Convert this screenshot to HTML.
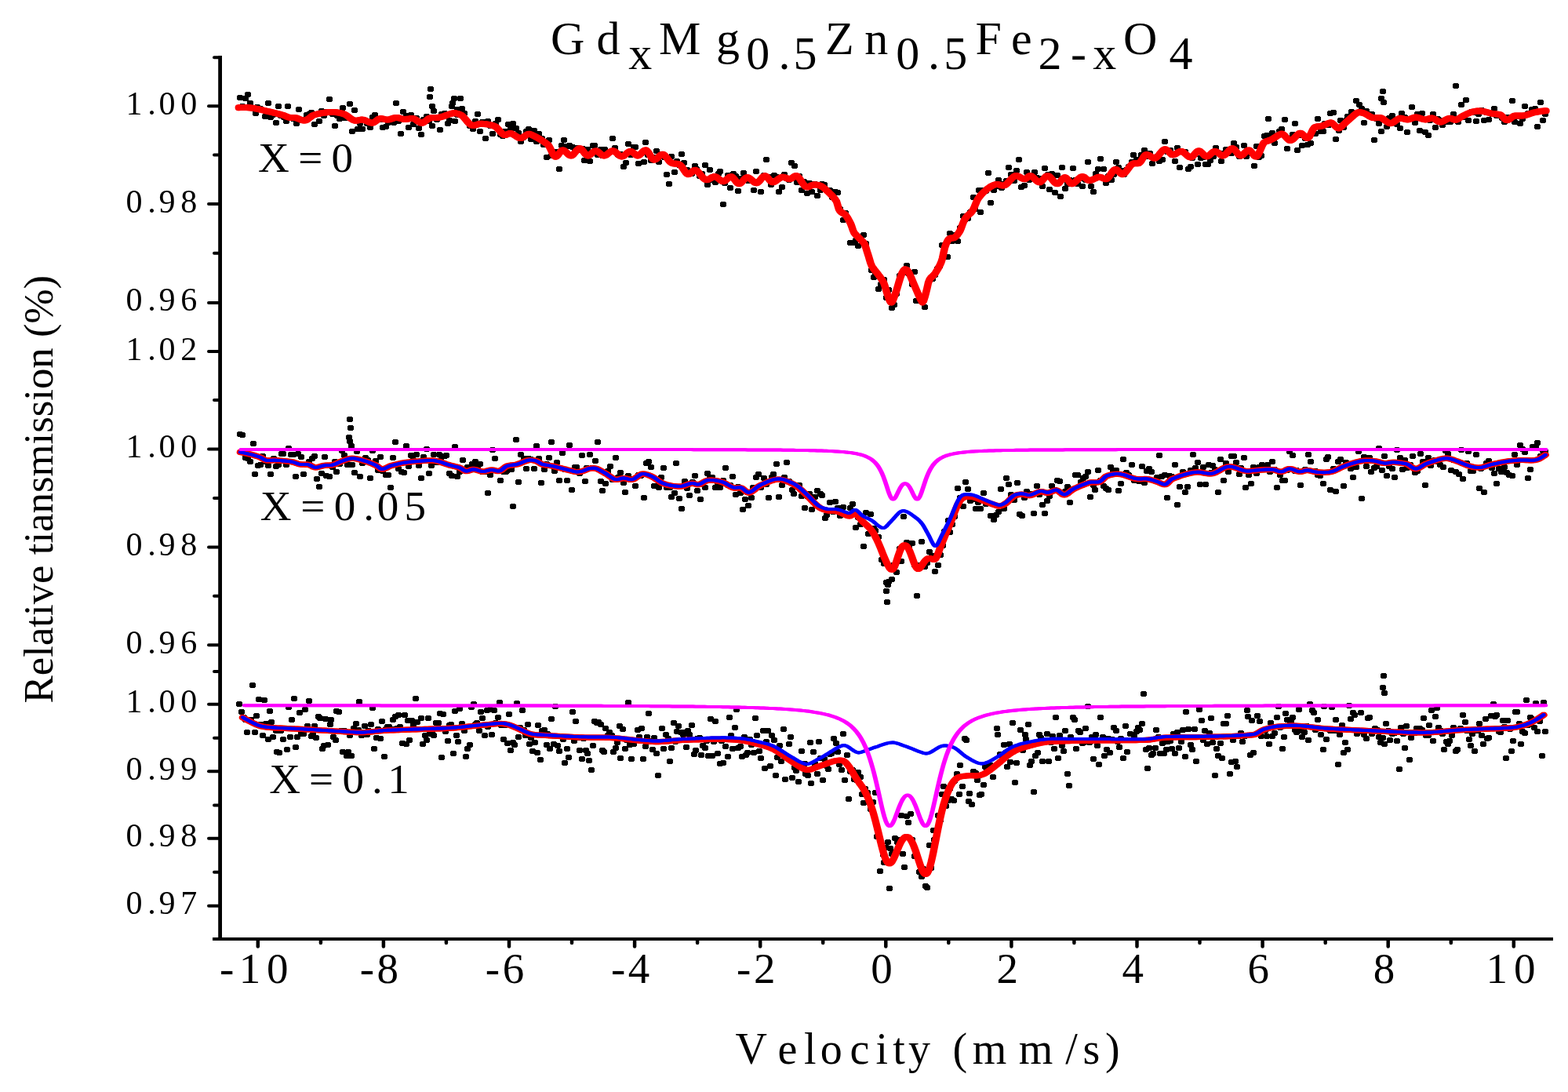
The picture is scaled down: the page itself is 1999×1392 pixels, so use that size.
<!DOCTYPE html>
<html><head><meta charset="utf-8"><title>Mossbauer spectra</title>
<style>html,body{margin:0;padding:0;background:#fff;overflow:hidden;}svg{display:block;}</style>
</head><body>
<svg width="1999" height="1392" viewBox="0 0 1999 1392">
<rect width="1999" height="1392" fill="#fff"/>
<path fill="#000" d="M303 121h6v1h1v5h-1v1h-6v-1h-1v-5h1zM306 132h6v1h1v5h-1v1h-6v-1h-1v-5h1zM310 122h6v1h1v5h-1v1h-6v-1h-1v-5h1zM313 117h6v1h1v5h-1v1h-6v-1h-1v-5h1zM316 128h6v1h1v5h-1v1h-6v-1h-1v-5h1zM319 134h6v1h1v5h-1v1h-6v-1h-1v-5h1zM323 141h6v1h1v5h-1v1h-6v-1h-1v-5h1zM325 133h6v1h1v5h-1v1h-6v-1h-1v-5h1zM329 135h6v1h1v5h-1v1h-6v-1h-1v-5h1zM333 137h6v1h1v5h-1v1h-6v-1h-1v-5h1zM335 145h6v1h1v5h-1v1h-6v-1h-1v-5h1zM339 128h6v1h1v5h-1v1h-6v-1h-1v-5h1zM342 146h6v1h1v5h-1v1h-6v-1h-1v-5h1zM345 143h6v1h1v5h-1v1h-6v-1h-1v-5h1zM349 153h6v1h1v5h-1v1h-6v-1h-1v-5h1zM352 132h6v1h1v5h-1v1h-6v-1h-1v-5h1zM355 144h6v1h1v5h-1v1h-6v-1h-1v-5h1zM359 146h6v1h1v5h-1v1h-6v-1h-1v-5h1zM362 151h6v1h1v5h-1v1h-6v-1h-1v-5h1zM364 132h6v1h1v5h-1v1h-6v-1h-1v-5h1zM368 146h6v1h1v5h-1v1h-6v-1h-1v-5h1zM371 148h6v1h1v5h-1v1h-6v-1h-1v-5h1zM375 154h6v1h1v5h-1v1h-6v-1h-1v-5h1zM378 136h6v1h1v5h-1v1h-6v-1h-1v-5h1zM381 150h6v1h1v5h-1v1h-6v-1h-1v-5h1zM384 149h6v1h1v5h-1v1h-6v-1h-1v-5h1zM388 143h6v1h1v5h-1v1h-6v-1h-1v-5h1zM391 142h6v1h1v5h-1v1h-6v-1h-1v-5h1zM394 140h6v1h1v5h-1v1h-6v-1h-1v-5h1zM398 155h6v1h1v5h-1v1h-6v-1h-1v-5h1zM401 142h6v1h1v5h-1v1h-6v-1h-1v-5h1zM404 151h6v1h1v5h-1v1h-6v-1h-1v-5h1zM407 138h6v1h1v5h-1v1h-6v-1h-1v-5h1zM410 144h6v1h1v5h-1v1h-6v-1h-1v-5h1zM414 139h6v1h1v5h-1v1h-6v-1h-1v-5h1zM417 123h6v1h1v5h-1v1h-6v-1h-1v-5h1zM421 142h6v1h1v5h-1v1h-6v-1h-1v-5h1zM424 157h6v1h1v5h-1v1h-6v-1h-1v-5h1zM427 144h6v1h1v5h-1v1h-6v-1h-1v-5h1zM430 148h6v1h1v5h-1v1h-6v-1h-1v-5h1zM434 134h6v1h1v5h-1v1h-6v-1h-1v-5h1zM437 147h6v1h1v5h-1v1h-6v-1h-1v-5h1zM439 145h6v1h1v5h-1v1h-6v-1h-1v-5h1zM443 129h6v1h1v5h-1v1h-6v-1h-1v-5h1zM446 164h6v1h1v5h-1v1h-6v-1h-1v-5h1zM449 137h6v1h1v5h-1v1h-6v-1h-1v-5h1zM453 161h6v1h1v5h-1v1h-6v-1h-1v-5h1zM456 154h6v1h1v5h-1v1h-6v-1h-1v-5h1zM459 161h6v1h1v5h-1v1h-6v-1h-1v-5h1zM462 150h6v1h1v5h-1v1h-6v-1h-1v-5h1zM465 154h6v1h1v5h-1v1h-6v-1h-1v-5h1zM469 159h6v1h1v5h-1v1h-6v-1h-1v-5h1zM472 146h6v1h1v5h-1v1h-6v-1h-1v-5h1zM475 143h6v1h1v5h-1v1h-6v-1h-1v-5h1zM479 149h6v1h1v5h-1v1h-6v-1h-1v-5h1zM482 149h6v1h1v5h-1v1h-6v-1h-1v-5h1zM485 159h6v1h1v5h-1v1h-6v-1h-1v-5h1zM489 158h6v1h1v5h-1v1h-6v-1h-1v-5h1zM492 153h6v1h1v5h-1v1h-6v-1h-1v-5h1zM495 150h6v1h1v5h-1v1h-6v-1h-1v-5h1zM499 153h6v1h1v5h-1v1h-6v-1h-1v-5h1zM502 128h6v1h1v5h-1v1h-6v-1h-1v-5h1zM505 151h6v1h1v5h-1v1h-6v-1h-1v-5h1zM508 167h6v1h1v5h-1v1h-6v-1h-1v-5h1zM511 139h6v1h1v5h-1v1h-6v-1h-1v-5h1zM515 144h6v1h1v5h-1v1h-6v-1h-1v-5h1zM518 159h6v1h1v5h-1v1h-6v-1h-1v-5h1zM521 143h6v1h1v5h-1v1h-6v-1h-1v-5h1zM524 155h6v1h1v5h-1v1h-6v-1h-1v-5h1zM528 147h6v1h1v5h-1v1h-6v-1h-1v-5h1zM531 160h6v1h1v5h-1v1h-6v-1h-1v-5h1zM534 168h6v1h1v5h-1v1h-6v-1h-1v-5h1zM537 149h6v1h1v5h-1v1h-6v-1h-1v-5h1zM541 145h6v1h1v5h-1v1h-6v-1h-1v-5h1zM544 151h6v1h1v5h-1v1h-6v-1h-1v-5h1zM548 157h6v1h1v5h-1v1h-6v-1h-1v-5h1zM550 138h6v1h1v5h-1v1h-6v-1h-1v-5h1zM554 149h6v1h1v5h-1v1h-6v-1h-1v-5h1zM558 162h6v1h1v5h-1v1h-6v-1h-1v-5h1zM560 142h6v1h1v5h-1v1h-6v-1h-1v-5h1zM564 141h6v1h1v5h-1v1h-6v-1h-1v-5h1zM568 154h6v1h1v5h-1v1h-6v-1h-1v-5h1zM570 150h6v1h1v5h-1v1h-6v-1h-1v-5h1zM574 128h6v1h1v5h-1v1h-6v-1h-1v-5h1zM577 151h6v1h1v5h-1v1h-6v-1h-1v-5h1zM580 143h6v1h1v5h-1v1h-6v-1h-1v-5h1zM584 122h6v1h1v5h-1v1h-6v-1h-1v-5h1zM586 135h6v1h1v5h-1v1h-6v-1h-1v-5h1zM589 141h6v1h1v5h-1v1h-6v-1h-1v-5h1zM593 152h6v1h1v5h-1v1h-6v-1h-1v-5h1zM596 157h6v1h1v5h-1v1h-6v-1h-1v-5h1zM600 161h6v1h1v5h-1v1h-6v-1h-1v-5h1zM603 151h6v1h1v5h-1v1h-6v-1h-1v-5h1zM606 142h6v1h1v5h-1v1h-6v-1h-1v-5h1zM609 164h6v1h1v5h-1v1h-6v-1h-1v-5h1zM612 152h6v1h1v5h-1v1h-6v-1h-1v-5h1zM616 173h6v1h1v5h-1v1h-6v-1h-1v-5h1zM619 151h6v1h1v5h-1v1h-6v-1h-1v-5h1zM622 157h6v1h1v5h-1v1h-6v-1h-1v-5h1zM625 167h6v1h1v5h-1v1h-6v-1h-1v-5h1zM629 154h6v1h1v5h-1v1h-6v-1h-1v-5h1zM632 149h6v1h1v5h-1v1h-6v-1h-1v-5h1zM635 168h6v1h1v5h-1v1h-6v-1h-1v-5h1zM638 170h6v1h1v5h-1v1h-6v-1h-1v-5h1zM641 164h6v1h1v5h-1v1h-6v-1h-1v-5h1zM645 155h6v1h1v5h-1v1h-6v-1h-1v-5h1zM648 161h6v1h1v5h-1v1h-6v-1h-1v-5h1zM651 154h6v1h1v5h-1v1h-6v-1h-1v-5h1zM655 160h6v1h1v5h-1v1h-6v-1h-1v-5h1zM658 166h6v1h1v5h-1v1h-6v-1h-1v-5h1zM661 177h6v1h1v5h-1v1h-6v-1h-1v-5h1zM664 172h6v1h1v5h-1v1h-6v-1h-1v-5h1zM668 164h6v1h1v5h-1v1h-6v-1h-1v-5h1zM671 161h6v1h1v5h-1v1h-6v-1h-1v-5h1zM674 174h6v1h1v5h-1v1h-6v-1h-1v-5h1zM678 163h6v1h1v5h-1v1h-6v-1h-1v-5h1zM681 177h6v1h1v5h-1v1h-6v-1h-1v-5h1zM684 167h6v1h1v5h-1v1h-6v-1h-1v-5h1zM688 173h6v1h1v5h-1v1h-6v-1h-1v-5h1zM690 181h6v1h1v5h-1v1h-6v-1h-1v-5h1zM694 197h6v1h1v5h-1v1h-6v-1h-1v-5h1zM697 175h6v1h1v5h-1v1h-6v-1h-1v-5h1zM700 195h6v1h1v5h-1v1h-6v-1h-1v-5h1zM703 195h6v1h1v5h-1v1h-6v-1h-1v-5h1zM707 190h6v1h1v5h-1v1h-6v-1h-1v-5h1zM710 212h6v1h1v5h-1v1h-6v-1h-1v-5h1zM713 182h6v1h1v5h-1v1h-6v-1h-1v-5h1zM716 175h6v1h1v5h-1v1h-6v-1h-1v-5h1zM720 183h6v1h1v5h-1v1h-6v-1h-1v-5h1zM723 182h6v1h1v5h-1v1h-6v-1h-1v-5h1zM727 184h6v1h1v5h-1v1h-6v-1h-1v-5h1zM730 189h6v1h1v5h-1v1h-6v-1h-1v-5h1zM733 185h6v1h1v5h-1v1h-6v-1h-1v-5h1zM736 188h6v1h1v5h-1v1h-6v-1h-1v-5h1zM740 186h6v1h1v5h-1v1h-6v-1h-1v-5h1zM742 201h6v1h1v5h-1v1h-6v-1h-1v-5h1zM746 187h6v1h1v5h-1v1h-6v-1h-1v-5h1zM749 202h6v1h1v5h-1v1h-6v-1h-1v-5h1zM753 182h6v1h1v5h-1v1h-6v-1h-1v-5h1zM755 182h6v1h1v5h-1v1h-6v-1h-1v-5h1zM759 194h6v1h1v5h-1v1h-6v-1h-1v-5h1zM763 187h6v1h1v5h-1v1h-6v-1h-1v-5h1zM765 195h6v1h1v5h-1v1h-6v-1h-1v-5h1zM768 187h6v1h1v5h-1v1h-6v-1h-1v-5h1zM772 190h6v1h1v5h-1v1h-6v-1h-1v-5h1zM775 190h6v1h1v5h-1v1h-6v-1h-1v-5h1zM778 173h6v1h1v5h-1v1h-6v-1h-1v-5h1zM781 185h6v1h1v5h-1v1h-6v-1h-1v-5h1zM785 194h6v1h1v5h-1v1h-6v-1h-1v-5h1zM788 193h6v1h1v5h-1v1h-6v-1h-1v-5h1zM792 209h6v1h1v5h-1v1h-6v-1h-1v-5h1zM795 204h6v1h1v5h-1v1h-6v-1h-1v-5h1zM798 180h6v1h1v5h-1v1h-6v-1h-1v-5h1zM801 194h6v1h1v5h-1v1h-6v-1h-1v-5h1zM805 184h6v1h1v5h-1v1h-6v-1h-1v-5h1zM807 184h6v1h1v5h-1v1h-6v-1h-1v-5h1zM811 205h6v1h1v5h-1v1h-6v-1h-1v-5h1zM815 192h6v1h1v5h-1v1h-6v-1h-1v-5h1zM818 203h6v1h1v5h-1v1h-6v-1h-1v-5h1zM820 178h6v1h1v5h-1v1h-6v-1h-1v-5h1zM823 194h6v1h1v5h-1v1h-6v-1h-1v-5h1zM827 201h6v1h1v5h-1v1h-6v-1h-1v-5h1zM831 197h6v1h1v5h-1v1h-6v-1h-1v-5h1zM834 189h6v1h1v5h-1v1h-6v-1h-1v-5h1zM837 203h6v1h1v5h-1v1h-6v-1h-1v-5h1zM840 193h6v1h1v5h-1v1h-6v-1h-1v-5h1zM844 197h6v1h1v5h-1v1h-6v-1h-1v-5h1zM847 219h6v1h1v5h-1v1h-6v-1h-1v-5h1zM850 231h6v1h1v5h-1v1h-6v-1h-1v-5h1zM853 196h6v1h1v5h-1v1h-6v-1h-1v-5h1zM857 216h6v1h1v5h-1v1h-6v-1h-1v-5h1zM860 202h6v1h1v5h-1v1h-6v-1h-1v-5h1zM863 207h6v1h1v5h-1v1h-6v-1h-1v-5h1zM866 193h6v1h1v5h-1v1h-6v-1h-1v-5h1zM869 204h6v1h1v5h-1v1h-6v-1h-1v-5h1zM873 213h6v1h1v5h-1v1h-6v-1h-1v-5h1zM876 217h6v1h1v5h-1v1h-6v-1h-1v-5h1zM879 218h6v1h1v5h-1v1h-6v-1h-1v-5h1zM883 208h6v1h1v5h-1v1h-6v-1h-1v-5h1zM885 212h6v1h1v5h-1v1h-6v-1h-1v-5h1zM889 221h6v1h1v5h-1v1h-6v-1h-1v-5h1zM892 218h6v1h1v5h-1v1h-6v-1h-1v-5h1zM896 207h6v1h1v5h-1v1h-6v-1h-1v-5h1zM899 232h6v1h1v5h-1v1h-6v-1h-1v-5h1zM902 213h6v1h1v5h-1v1h-6v-1h-1v-5h1zM905 226h6v1h1v5h-1v1h-6v-1h-1v-5h1zM909 229h6v1h1v5h-1v1h-6v-1h-1v-5h1zM913 218h6v1h1v5h-1v1h-6v-1h-1v-5h1zM915 215h6v1h1v5h-1v1h-6v-1h-1v-5h1zM919 257h6v1h1v5h-1v1h-6v-1h-1v-5h1zM921 230h6v1h1v5h-1v1h-6v-1h-1v-5h1zM925 220h6v1h1v5h-1v1h-6v-1h-1v-5h1zM928 236h6v1h1v5h-1v1h-6v-1h-1v-5h1zM932 218h6v1h1v5h-1v1h-6v-1h-1v-5h1zM935 221h6v1h1v5h-1v1h-6v-1h-1v-5h1zM938 240h6v1h1v5h-1v1h-6v-1h-1v-5h1zM941 224h6v1h1v5h-1v1h-6v-1h-1v-5h1zM945 217h6v1h1v5h-1v1h-6v-1h-1v-5h1zM948 226h6v1h1v5h-1v1h-6v-1h-1v-5h1zM951 227h6v1h1v5h-1v1h-6v-1h-1v-5h1zM954 227h6v1h1v5h-1v1h-6v-1h-1v-5h1zM958 239h6v1h1v5h-1v1h-6v-1h-1v-5h1zM961 215h6v1h1v5h-1v1h-6v-1h-1v-5h1zM964 228h6v1h1v5h-1v1h-6v-1h-1v-5h1zM967 241h6v1h1v5h-1v1h-6v-1h-1v-5h1zM971 220h6v1h1v5h-1v1h-6v-1h-1v-5h1zM974 200h6v1h1v5h-1v1h-6v-1h-1v-5h1zM977 222h6v1h1v5h-1v1h-6v-1h-1v-5h1zM980 232h6v1h1v5h-1v1h-6v-1h-1v-5h1zM984 220h6v1h1v5h-1v1h-6v-1h-1v-5h1zM987 222h6v1h1v5h-1v1h-6v-1h-1v-5h1zM990 241h6v1h1v5h-1v1h-6v-1h-1v-5h1zM994 235h6v1h1v5h-1v1h-6v-1h-1v-5h1zM997 219h6v1h1v5h-1v1h-6v-1h-1v-5h1zM1000 224h6v1h1v5h-1v1h-6v-1h-1v-5h1zM1003 226h6v1h1v5h-1v1h-6v-1h-1v-5h1zM1006 204h6v1h1v5h-1v1h-6v-1h-1v-5h1zM1010 208h6v1h1v5h-1v1h-6v-1h-1v-5h1zM1013 229h6v1h1v5h-1v1h-6v-1h-1v-5h1zM1016 221h6v1h1v5h-1v1h-6v-1h-1v-5h1zM1019 239h6v1h1v5h-1v1h-6v-1h-1v-5h1zM1022 228h6v1h1v5h-1v1h-6v-1h-1v-5h1zM1026 243h6v1h1v5h-1v1h-6v-1h-1v-5h1zM1029 230h6v1h1v5h-1v1h-6v-1h-1v-5h1zM1032 241h6v1h1v5h-1v1h-6v-1h-1v-5h1zM1036 231h6v1h1v5h-1v1h-6v-1h-1v-5h1zM1039 246h6v1h1v5h-1v1h-6v-1h-1v-5h1zM1043 239h6v1h1v5h-1v1h-6v-1h-1v-5h1zM1045 231h6v1h1v5h-1v1h-6v-1h-1v-5h1zM1048 232h6v1h1v5h-1v1h-6v-1h-1v-5h1zM1052 239h6v1h1v5h-1v1h-6v-1h-1v-5h1zM1055 239h6v1h1v5h-1v1h-6v-1h-1v-5h1zM1058 248h6v1h1v5h-1v1h-6v-1h-1v-5h1zM1062 241h6v1h1v5h-1v1h-6v-1h-1v-5h1zM1065 242h6v1h1v5h-1v1h-6v-1h-1v-5h1zM1068 263h6v1h1v5h-1v1h-6v-1h-1v-5h1zM1072 277h6v1h1v5h-1v1h-6v-1h-1v-5h1zM1075 268h6v1h1v5h-1v1h-6v-1h-1v-5h1zM1078 275h6v1h1v5h-1v1h-6v-1h-1v-5h1zM1081 306h6v1h1v5h-1v1h-6v-1h-1v-5h1zM1085 306h6v1h1v5h-1v1h-6v-1h-1v-5h1zM1088 303h6v1h1v5h-1v1h-6v-1h-1v-5h1zM1091 310h6v1h1v5h-1v1h-6v-1h-1v-5h1zM1095 302h6v1h1v5h-1v1h-6v-1h-1v-5h1zM1098 296h6v1h1v5h-1v1h-6v-1h-1v-5h1zM1101 307h6v1h1v5h-1v1h-6v-1h-1v-5h1zM1104 321h6v1h1v5h-1v1h-6v-1h-1v-5h1zM1108 341h6v1h1v5h-1v1h-6v-1h-1v-5h1zM1111 350h6v1h1v5h-1v1h-6v-1h-1v-5h1zM1113 345h6v1h1v5h-1v1h-6v-1h-1v-5h1zM1117 365h6v1h1v5h-1v1h-6v-1h-1v-5h1zM1120 359h6v1h1v5h-1v1h-6v-1h-1v-5h1zM1124 353h6v1h1v5h-1v1h-6v-1h-1v-5h1zM1127 376h6v1h1v5h-1v1h-6v-1h-1v-5h1zM1130 366h6v1h1v5h-1v1h-6v-1h-1v-5h1zM1134 389h6v1h1v5h-1v1h-6v-1h-1v-5h1zM1137 385h6v1h1v5h-1v1h-6v-1h-1v-5h1zM1140 371h6v1h1v5h-1v1h-6v-1h-1v-5h1zM1144 348h6v1h1v5h-1v1h-6v-1h-1v-5h1zM1146 347h6v1h1v5h-1v1h-6v-1h-1v-5h1zM1149 344h6v1h1v5h-1v1h-6v-1h-1v-5h1zM1153 335h6v1h1v5h-1v1h-6v-1h-1v-5h1zM1156 346h6v1h1v5h-1v1h-6v-1h-1v-5h1zM1160 359h6v1h1v5h-1v1h-6v-1h-1v-5h1zM1163 343h6v1h1v5h-1v1h-6v-1h-1v-5h1zM1165 380h6v1h1v5h-1v1h-6v-1h-1v-5h1zM1169 377h6v1h1v5h-1v1h-6v-1h-1v-5h1zM1172 381h6v1h1v5h-1v1h-6v-1h-1v-5h1zM1176 388h6v1h1v5h-1v1h-6v-1h-1v-5h1zM1179 363h6v1h1v5h-1v1h-6v-1h-1v-5h1zM1182 354h6v1h1v5h-1v1h-6v-1h-1v-5h1zM1186 352h6v1h1v5h-1v1h-6v-1h-1v-5h1zM1189 347h6v1h1v5h-1v1h-6v-1h-1v-5h1zM1192 339h6v1h1v5h-1v1h-6v-1h-1v-5h1zM1195 336h6v1h1v5h-1v1h-6v-1h-1v-5h1zM1198 309h6v1h1v5h-1v1h-6v-1h-1v-5h1zM1201 324h6v1h1v5h-1v1h-6v-1h-1v-5h1zM1205 324h6v1h1v5h-1v1h-6v-1h-1v-5h1zM1208 294h6v1h1v5h-1v1h-6v-1h-1v-5h1zM1211 304h6v1h1v5h-1v1h-6v-1h-1v-5h1zM1215 296h6v1h1v5h-1v1h-6v-1h-1v-5h1zM1218 304h6v1h1v5h-1v1h-6v-1h-1v-5h1zM1221 287h6v1h1v5h-1v1h-6v-1h-1v-5h1zM1225 272h6v1h1v5h-1v1h-6v-1h-1v-5h1zM1227 277h6v1h1v5h-1v1h-6v-1h-1v-5h1zM1231 275h6v1h1v5h-1v1h-6v-1h-1v-5h1zM1234 267h6v1h1v5h-1v1h-6v-1h-1v-5h1zM1238 248h6v1h1v5h-1v1h-6v-1h-1v-5h1zM1240 263h6v1h1v5h-1v1h-6v-1h-1v-5h1zM1245 239h6v1h1v5h-1v1h-6v-1h-1v-5h1zM1247 267h6v1h1v5h-1v1h-6v-1h-1v-5h1zM1251 239h6v1h1v5h-1v1h-6v-1h-1v-5h1zM1254 240h6v1h1v5h-1v1h-6v-1h-1v-5h1zM1257 217h6v1h1v5h-1v1h-6v-1h-1v-5h1zM1260 255h6v1h1v5h-1v1h-6v-1h-1v-5h1zM1264 239h6v1h1v5h-1v1h-6v-1h-1v-5h1zM1267 234h6v1h1v5h-1v1h-6v-1h-1v-5h1zM1270 226h6v1h1v5h-1v1h-6v-1h-1v-5h1zM1274 236h6v1h1v5h-1v1h-6v-1h-1v-5h1zM1277 231h6v1h1v5h-1v1h-6v-1h-1v-5h1zM1280 227h6v1h1v5h-1v1h-6v-1h-1v-5h1zM1283 210h6v1h1v5h-1v1h-6v-1h-1v-5h1zM1286 219h6v1h1v5h-1v1h-6v-1h-1v-5h1zM1290 227h6v1h1v5h-1v1h-6v-1h-1v-5h1zM1293 214h6v1h1v5h-1v1h-6v-1h-1v-5h1zM1296 200h6v1h1v5h-1v1h-6v-1h-1v-5h1zM1299 235h6v1h1v5h-1v1h-6v-1h-1v-5h1zM1303 233h6v1h1v5h-1v1h-6v-1h-1v-5h1zM1306 216h6v1h1v5h-1v1h-6v-1h-1v-5h1zM1309 226h6v1h1v5h-1v1h-6v-1h-1v-5h1zM1312 220h6v1h1v5h-1v1h-6v-1h-1v-5h1zM1316 216h6v1h1v5h-1v1h-6v-1h-1v-5h1zM1319 223h6v1h1v5h-1v1h-6v-1h-1v-5h1zM1323 224h6v1h1v5h-1v1h-6v-1h-1v-5h1zM1326 234h6v1h1v5h-1v1h-6v-1h-1v-5h1zM1329 211h6v1h1v5h-1v1h-6v-1h-1v-5h1zM1333 219h6v1h1v5h-1v1h-6v-1h-1v-5h1zM1335 238h6v1h1v5h-1v1h-6v-1h-1v-5h1zM1338 218h6v1h1v5h-1v1h-6v-1h-1v-5h1zM1342 242h6v1h1v5h-1v1h-6v-1h-1v-5h1zM1345 220h6v1h1v5h-1v1h-6v-1h-1v-5h1zM1349 247h6v1h1v5h-1v1h-6v-1h-1v-5h1zM1351 210h6v1h1v5h-1v1h-6v-1h-1v-5h1zM1355 237h6v1h1v5h-1v1h-6v-1h-1v-5h1zM1358 231h6v1h1v5h-1v1h-6v-1h-1v-5h1zM1361 226h6v1h1v5h-1v1h-6v-1h-1v-5h1zM1365 211h6v1h1v5h-1v1h-6v-1h-1v-5h1zM1368 226h6v1h1v5h-1v1h-6v-1h-1v-5h1zM1371 231h6v1h1v5h-1v1h-6v-1h-1v-5h1zM1374 224h6v1h1v5h-1v1h-6v-1h-1v-5h1zM1377 234h6v1h1v5h-1v1h-6v-1h-1v-5h1zM1381 226h6v1h1v5h-1v1h-6v-1h-1v-5h1zM1384 203h6v1h1v5h-1v1h-6v-1h-1v-5h1zM1388 234h6v1h1v5h-1v1h-6v-1h-1v-5h1zM1391 241h6v1h1v5h-1v1h-6v-1h-1v-5h1zM1394 218h6v1h1v5h-1v1h-6v-1h-1v-5h1zM1397 212h6v1h1v5h-1v1h-6v-1h-1v-5h1zM1400 199h6v1h1v5h-1v1h-6v-1h-1v-5h1zM1404 212h6v1h1v5h-1v1h-6v-1h-1v-5h1zM1407 230h6v1h1v5h-1v1h-6v-1h-1v-5h1zM1410 221h6v1h1v5h-1v1h-6v-1h-1v-5h1zM1414 226h6v1h1v5h-1v1h-6v-1h-1v-5h1zM1417 219h6v1h1v5h-1v1h-6v-1h-1v-5h1zM1420 203h6v1h1v5h-1v1h-6v-1h-1v-5h1zM1423 210h6v1h1v5h-1v1h-6v-1h-1v-5h1zM1426 214h6v1h1v5h-1v1h-6v-1h-1v-5h1zM1430 219h6v1h1v5h-1v1h-6v-1h-1v-5h1zM1433 213h6v1h1v5h-1v1h-6v-1h-1v-5h1zM1436 209h6v1h1v5h-1v1h-6v-1h-1v-5h1zM1440 203h6v1h1v5h-1v1h-6v-1h-1v-5h1zM1442 194h6v1h1v5h-1v1h-6v-1h-1v-5h1zM1446 200h6v1h1v5h-1v1h-6v-1h-1v-5h1zM1450 202h6v1h1v5h-1v1h-6v-1h-1v-5h1zM1452 194h6v1h1v5h-1v1h-6v-1h-1v-5h1zM1456 188h6v1h1v5h-1v1h-6v-1h-1v-5h1zM1459 196h6v1h1v5h-1v1h-6v-1h-1v-5h1zM1463 192h6v1h1v5h-1v1h-6v-1h-1v-5h1zM1466 205h6v1h1v5h-1v1h-6v-1h-1v-5h1zM1469 197h6v1h1v5h-1v1h-6v-1h-1v-5h1zM1472 196h6v1h1v5h-1v1h-6v-1h-1v-5h1zM1475 202h6v1h1v5h-1v1h-6v-1h-1v-5h1zM1479 200h6v1h1v5h-1v1h-6v-1h-1v-5h1zM1482 177h6v1h1v5h-1v1h-6v-1h-1v-5h1zM1485 190h6v1h1v5h-1v1h-6v-1h-1v-5h1zM1489 188h6v1h1v5h-1v1h-6v-1h-1v-5h1zM1491 194h6v1h1v5h-1v1h-6v-1h-1v-5h1zM1495 202h6v1h1v5h-1v1h-6v-1h-1v-5h1zM1498 185h6v1h1v5h-1v1h-6v-1h-1v-5h1zM1501 210h6v1h1v5h-1v1h-6v-1h-1v-5h1zM1504 190h6v1h1v5h-1v1h-6v-1h-1v-5h1zM1508 190h6v1h1v5h-1v1h-6v-1h-1v-5h1zM1512 212h6v1h1v5h-1v1h-6v-1h-1v-5h1zM1515 209h6v1h1v5h-1v1h-6v-1h-1v-5h1zM1517 198h6v1h1v5h-1v1h-6v-1h-1v-5h1zM1521 193h6v1h1v5h-1v1h-6v-1h-1v-5h1zM1524 206h6v1h1v5h-1v1h-6v-1h-1v-5h1zM1528 198h6v1h1v5h-1v1h-6v-1h-1v-5h1zM1531 197h6v1h1v5h-1v1h-6v-1h-1v-5h1zM1534 206h6v1h1v5h-1v1h-6v-1h-1v-5h1zM1537 206h6v1h1v5h-1v1h-6v-1h-1v-5h1zM1540 201h6v1h1v5h-1v1h-6v-1h-1v-5h1zM1544 196h6v1h1v5h-1v1h-6v-1h-1v-5h1zM1547 185h6v1h1v5h-1v1h-6v-1h-1v-5h1zM1550 191h6v1h1v5h-1v1h-6v-1h-1v-5h1zM1554 202h6v1h1v5h-1v1h-6v-1h-1v-5h1zM1557 192h6v1h1v5h-1v1h-6v-1h-1v-5h1zM1560 187h6v1h1v5h-1v1h-6v-1h-1v-5h1zM1564 191h6v1h1v5h-1v1h-6v-1h-1v-5h1zM1567 192h6v1h1v5h-1v1h-6v-1h-1v-5h1zM1570 179h6v1h1v5h-1v1h-6v-1h-1v-5h1zM1573 184h6v1h1v5h-1v1h-6v-1h-1v-5h1zM1577 196h6v1h1v5h-1v1h-6v-1h-1v-5h1zM1579 195h6v1h1v5h-1v1h-6v-1h-1v-5h1zM1583 182h6v1h1v5h-1v1h-6v-1h-1v-5h1zM1586 196h6v1h1v5h-1v1h-6v-1h-1v-5h1zM1590 192h6v1h1v5h-1v1h-6v-1h-1v-5h1zM1592 191h6v1h1v5h-1v1h-6v-1h-1v-5h1zM1596 208h6v1h1v5h-1v1h-6v-1h-1v-5h1zM1599 183h6v1h1v5h-1v1h-6v-1h-1v-5h1zM1602 197h6v1h1v5h-1v1h-6v-1h-1v-5h1zM1605 195h6v1h1v5h-1v1h-6v-1h-1v-5h1zM1609 170h6v1h1v5h-1v1h-6v-1h-1v-5h1zM1612 169h6v1h1v5h-1v1h-6v-1h-1v-5h1zM1616 171h6v1h1v5h-1v1h-6v-1h-1v-5h1zM1619 166h6v1h1v5h-1v1h-6v-1h-1v-5h1zM1622 179h6v1h1v5h-1v1h-6v-1h-1v-5h1zM1625 170h6v1h1v5h-1v1h-6v-1h-1v-5h1zM1628 164h6v1h1v5h-1v1h-6v-1h-1v-5h1zM1631 161h6v1h1v5h-1v1h-6v-1h-1v-5h1zM1635 149h6v1h1v5h-1v1h-6v-1h-1v-5h1zM1638 186h6v1h1v5h-1v1h-6v-1h-1v-5h1zM1641 174h6v1h1v5h-1v1h-6v-1h-1v-5h1zM1645 168h6v1h1v5h-1v1h-6v-1h-1v-5h1zM1648 154h6v1h1v5h-1v1h-6v-1h-1v-5h1zM1651 188h6v1h1v5h-1v1h-6v-1h-1v-5h1zM1655 169h6v1h1v5h-1v1h-6v-1h-1v-5h1zM1657 182h6v1h1v5h-1v1h-6v-1h-1v-5h1zM1661 173h6v1h1v5h-1v1h-6v-1h-1v-5h1zM1664 181h6v1h1v5h-1v1h-6v-1h-1v-5h1zM1668 179h6v1h1v5h-1v1h-6v-1h-1v-5h1zM1671 164h6v1h1v5h-1v1h-6v-1h-1v-5h1zM1674 167h6v1h1v5h-1v1h-6v-1h-1v-5h1zM1677 148h6v1h1v5h-1v1h-6v-1h-1v-5h1zM1681 164h6v1h1v5h-1v1h-6v-1h-1v-5h1zM1684 164h6v1h1v5h-1v1h-6v-1h-1v-5h1zM1686 154h6v1h1v5h-1v1h-6v-1h-1v-5h1zM1691 156h6v1h1v5h-1v1h-6v-1h-1v-5h1zM1693 141h6v1h1v5h-1v1h-6v-1h-1v-5h1zM1697 140h6v1h1v5h-1v1h-6v-1h-1v-5h1zM1700 174h6v1h1v5h-1v1h-6v-1h-1v-5h1zM1704 163h6v1h1v5h-1v1h-6v-1h-1v-5h1zM1706 150h6v1h1v5h-1v1h-6v-1h-1v-5h1zM1710 159h6v1h1v5h-1v1h-6v-1h-1v-5h1zM1713 150h6v1h1v5h-1v1h-6v-1h-1v-5h1zM1715 145h6v1h1v5h-1v1h-6v-1h-1v-5h1zM1720 139h6v1h1v5h-1v1h-6v-1h-1v-5h1zM1723 143h6v1h1v5h-1v1h-6v-1h-1v-5h1zM1726 125h6v1h1v5h-1v1h-6v-1h-1v-5h1zM1730 130h6v1h1v5h-1v1h-6v-1h-1v-5h1zM1733 135h6v1h1v5h-1v1h-6v-1h-1v-5h1zM1736 153h6v1h1v5h-1v1h-6v-1h-1v-5h1zM1739 138h6v1h1v5h-1v1h-6v-1h-1v-5h1zM1743 144h6v1h1v5h-1v1h-6v-1h-1v-5h1zM1746 142h6v1h1v5h-1v1h-6v-1h-1v-5h1zM1749 175h6v1h1v5h-1v1h-6v-1h-1v-5h1zM1752 148h6v1h1v5h-1v1h-6v-1h-1v-5h1zM1755 154h6v1h1v5h-1v1h-6v-1h-1v-5h1zM1758 164h6v1h1v5h-1v1h-6v-1h-1v-5h1zM1761 127h6v1h1v5h-1v1h-6v-1h-1v-5h1zM1765 158h6v1h1v5h-1v1h-6v-1h-1v-5h1zM1768 147h6v1h1v5h-1v1h-6v-1h-1v-5h1zM1772 144h6v1h1v5h-1v1h-6v-1h-1v-5h1zM1776 149h6v1h1v5h-1v1h-6v-1h-1v-5h1zM1778 155h6v1h1v5h-1v1h-6v-1h-1v-5h1zM1782 160h6v1h1v5h-1v1h-6v-1h-1v-5h1zM1784 141h6v1h1v5h-1v1h-6v-1h-1v-5h1zM1788 146h6v1h1v5h-1v1h-6v-1h-1v-5h1zM1791 165h6v1h1v5h-1v1h-6v-1h-1v-5h1zM1795 148h6v1h1v5h-1v1h-6v-1h-1v-5h1zM1797 133h6v1h1v5h-1v1h-6v-1h-1v-5h1zM1801 153h6v1h1v5h-1v1h-6v-1h-1v-5h1zM1804 142h6v1h1v5h-1v1h-6v-1h-1v-5h1zM1807 163h6v1h1v5h-1v1h-6v-1h-1v-5h1zM1810 141h6v1h1v5h-1v1h-6v-1h-1v-5h1zM1814 165h6v1h1v5h-1v1h-6v-1h-1v-5h1zM1818 169h6v1h1v5h-1v1h-6v-1h-1v-5h1zM1820 150h6v1h1v5h-1v1h-6v-1h-1v-5h1zM1824 142h6v1h1v5h-1v1h-6v-1h-1v-5h1zM1827 159h6v1h1v5h-1v1h-6v-1h-1v-5h1zM1830 148h6v1h1v5h-1v1h-6v-1h-1v-5h1zM1834 150h6v1h1v5h-1v1h-6v-1h-1v-5h1zM1836 156h6v1h1v5h-1v1h-6v-1h-1v-5h1zM1840 152h6v1h1v5h-1v1h-6v-1h-1v-5h1zM1843 150h6v1h1v5h-1v1h-6v-1h-1v-5h1zM1846 152h6v1h1v5h-1v1h-6v-1h-1v-5h1zM1850 142h6v1h1v5h-1v1h-6v-1h-1v-5h1zM1853 106h6v1h1v5h-1v1h-6v-1h-1v-5h1zM1856 152h6v1h1v5h-1v1h-6v-1h-1v-5h1zM1860 130h6v1h1v5h-1v1h-6v-1h-1v-5h1zM1862 146h6v1h1v5h-1v1h-6v-1h-1v-5h1zM1866 124h6v1h1v5h-1v1h-6v-1h-1v-5h1zM1869 150h6v1h1v5h-1v1h-6v-1h-1v-5h1zM1873 139h6v1h1v5h-1v1h-6v-1h-1v-5h1zM1876 140h6v1h1v5h-1v1h-6v-1h-1v-5h1zM1879 151h6v1h1v5h-1v1h-6v-1h-1v-5h1zM1882 142h6v1h1v5h-1v1h-6v-1h-1v-5h1zM1886 137h6v1h1v5h-1v1h-6v-1h-1v-5h1zM1889 150h6v1h1v5h-1v1h-6v-1h-1v-5h1zM1892 140h6v1h1v5h-1v1h-6v-1h-1v-5h1zM1895 149h6v1h1v5h-1v1h-6v-1h-1v-5h1zM1899 142h6v1h1v5h-1v1h-6v-1h-1v-5h1zM1902 135h6v1h1v5h-1v1h-6v-1h-1v-5h1zM1905 144h6v1h1v5h-1v1h-6v-1h-1v-5h1zM1909 143h6v1h1v5h-1v1h-6v-1h-1v-5h1zM1912 147h6v1h1v5h-1v1h-6v-1h-1v-5h1zM1915 152h6v1h1v5h-1v1h-6v-1h-1v-5h1zM1918 146h6v1h1v5h-1v1h-6v-1h-1v-5h1zM1922 146h6v1h1v5h-1v1h-6v-1h-1v-5h1zM1925 125h6v1h1v5h-1v1h-6v-1h-1v-5h1zM1928 152h6v1h1v5h-1v1h-6v-1h-1v-5h1zM1931 145h6v1h1v5h-1v1h-6v-1h-1v-5h1zM1935 154h6v1h1v5h-1v1h-6v-1h-1v-5h1zM1938 148h6v1h1v5h-1v1h-6v-1h-1v-5h1zM1941 132h6v1h1v5h-1v1h-6v-1h-1v-5h1zM1945 141h6v1h1v5h-1v1h-6v-1h-1v-5h1zM1947 141h6v1h1v5h-1v1h-6v-1h-1v-5h1zM1950 136h6v1h1v5h-1v1h-6v-1h-1v-5h1zM1954 135h6v1h1v5h-1v1h-6v-1h-1v-5h1zM1957 158h6v1h1v5h-1v1h-6v-1h-1v-5h1zM1961 127h6v1h1v5h-1v1h-6v-1h-1v-5h1zM1964 150h6v1h1v5h-1v1h-6v-1h-1v-5h1zM1967 142h6v1h1v5h-1v1h-6v-1h-1v-5h1zM303 550h6v1h1v5h-1v1h-6v-1h-1v-5h1zM306 551h6v1h1v5h-1v1h-6v-1h-1v-5h1zM310 580h6v1h1v5h-1v1h-6v-1h-1v-5h1zM313 581h6v1h1v5h-1v1h-6v-1h-1v-5h1zM316 585h6v1h1v5h-1v1h-6v-1h-1v-5h1zM320 562h6v1h1v5h-1v1h-6v-1h-1v-5h1zM322 601h6v1h1v5h-1v1h-6v-1h-1v-5h1zM326 590h6v1h1v5h-1v1h-6v-1h-1v-5h1zM329 589h6v1h1v5h-1v1h-6v-1h-1v-5h1zM332 578h6v1h1v5h-1v1h-6v-1h-1v-5h1zM336 585h6v1h1v5h-1v1h-6v-1h-1v-5h1zM339 590h6v1h1v5h-1v1h-6v-1h-1v-5h1zM342 601h6v1h1v5h-1v1h-6v-1h-1v-5h1zM346 581h6v1h1v5h-1v1h-6v-1h-1v-5h1zM349 591h6v1h1v5h-1v1h-6v-1h-1v-5h1zM352 589h6v1h1v5h-1v1h-6v-1h-1v-5h1zM356 575h6v1h1v5h-1v1h-6v-1h-1v-5h1zM358 575h6v1h1v5h-1v1h-6v-1h-1v-5h1zM362 589h6v1h1v5h-1v1h-6v-1h-1v-5h1zM365 568h6v1h1v5h-1v1h-6v-1h-1v-5h1zM368 576h6v1h1v5h-1v1h-6v-1h-1v-5h1zM371 576h6v1h1v5h-1v1h-6v-1h-1v-5h1zM374 604h6v1h1v5h-1v1h-6v-1h-1v-5h1zM377 575h6v1h1v5h-1v1h-6v-1h-1v-5h1zM381 579h6v1h1v5h-1v1h-6v-1h-1v-5h1zM384 601h6v1h1v5h-1v1h-6v-1h-1v-5h1zM388 589h6v1h1v5h-1v1h-6v-1h-1v-5h1zM391 585h6v1h1v5h-1v1h-6v-1h-1v-5h1zM395 581h6v1h1v5h-1v1h-6v-1h-1v-5h1zM398 578h6v1h1v5h-1v1h-6v-1h-1v-5h1zM401 607h6v1h1v5h-1v1h-6v-1h-1v-5h1zM404 617h6v1h1v5h-1v1h-6v-1h-1v-5h1zM407 600h6v1h1v5h-1v1h-6v-1h-1v-5h1zM411 579h6v1h1v5h-1v1h-6v-1h-1v-5h1zM413 603h6v1h1v5h-1v1h-6v-1h-1v-5h1zM417 604h6v1h1v5h-1v1h-6v-1h-1v-5h1zM421 592h6v1h1v5h-1v1h-6v-1h-1v-5h1zM424 585h6v1h1v5h-1v1h-6v-1h-1v-5h1zM426 598h6v1h1v5h-1v1h-6v-1h-1v-5h1zM430 588h6v1h1v5h-1v1h-6v-1h-1v-5h1zM433 571h6v1h1v5h-1v1h-6v-1h-1v-5h1zM436 577h6v1h1v5h-1v1h-6v-1h-1v-5h1zM440 589h6v1h1v5h-1v1h-6v-1h-1v-5h1zM443 559h6v1h1v5h-1v1h-6v-1h-1v-5h1zM446 589h6v1h1v5h-1v1h-6v-1h-1v-5h1zM449 599h6v1h1v5h-1v1h-6v-1h-1v-5h1zM452 572h6v1h1v5h-1v1h-6v-1h-1v-5h1zM456 604h6v1h1v5h-1v1h-6v-1h-1v-5h1zM459 587h6v1h1v5h-1v1h-6v-1h-1v-5h1zM463 580h6v1h1v5h-1v1h-6v-1h-1v-5h1zM466 583h6v1h1v5h-1v1h-6v-1h-1v-5h1zM469 606h6v1h1v5h-1v1h-6v-1h-1v-5h1zM472 571h6v1h1v5h-1v1h-6v-1h-1v-5h1zM476 584h6v1h1v5h-1v1h-6v-1h-1v-5h1zM479 596h6v1h1v5h-1v1h-6v-1h-1v-5h1zM482 579h6v1h1v5h-1v1h-6v-1h-1v-5h1zM485 597h6v1h1v5h-1v1h-6v-1h-1v-5h1zM489 602h6v1h1v5h-1v1h-6v-1h-1v-5h1zM492 602h6v1h1v5h-1v1h-6v-1h-1v-5h1zM495 618h6v1h1v5h-1v1h-6v-1h-1v-5h1zM498 580h6v1h1v5h-1v1h-6v-1h-1v-5h1zM501 560h6v1h1v5h-1v1h-6v-1h-1v-5h1zM505 594h6v1h1v5h-1v1h-6v-1h-1v-5h1zM509 598h6v1h1v5h-1v1h-6v-1h-1v-5h1zM512 599h6v1h1v5h-1v1h-6v-1h-1v-5h1zM515 565h6v1h1v5h-1v1h-6v-1h-1v-5h1zM518 591h6v1h1v5h-1v1h-6v-1h-1v-5h1zM521 577h6v1h1v5h-1v1h-6v-1h-1v-5h1zM524 583h6v1h1v5h-1v1h-6v-1h-1v-5h1zM528 576h6v1h1v5h-1v1h-6v-1h-1v-5h1zM531 590h6v1h1v5h-1v1h-6v-1h-1v-5h1zM534 606h6v1h1v5h-1v1h-6v-1h-1v-5h1zM537 579h6v1h1v5h-1v1h-6v-1h-1v-5h1zM541 569h6v1h1v5h-1v1h-6v-1h-1v-5h1zM544 600h6v1h1v5h-1v1h-6v-1h-1v-5h1zM547 590h6v1h1v5h-1v1h-6v-1h-1v-5h1zM550 576h6v1h1v5h-1v1h-6v-1h-1v-5h1zM554 586h6v1h1v5h-1v1h-6v-1h-1v-5h1zM557 576h6v1h1v5h-1v1h-6v-1h-1v-5h1zM560 579h6v1h1v5h-1v1h-6v-1h-1v-5h1zM564 578h6v1h1v5h-1v1h-6v-1h-1v-5h1zM566 577h6v1h1v5h-1v1h-6v-1h-1v-5h1zM570 600h6v1h1v5h-1v1h-6v-1h-1v-5h1zM573 603h6v1h1v5h-1v1h-6v-1h-1v-5h1zM577 566h6v1h1v5h-1v1h-6v-1h-1v-5h1zM580 604h6v1h1v5h-1v1h-6v-1h-1v-5h1zM583 598h6v1h1v5h-1v1h-6v-1h-1v-5h1zM587 583h6v1h1v5h-1v1h-6v-1h-1v-5h1zM590 596h6v1h1v5h-1v1h-6v-1h-1v-5h1zM593 592h6v1h1v5h-1v1h-6v-1h-1v-5h1zM596 595h6v1h1v5h-1v1h-6v-1h-1v-5h1zM599 588h6v1h1v5h-1v1h-6v-1h-1v-5h1zM603 585h6v1h1v5h-1v1h-6v-1h-1v-5h1zM606 591h6v1h1v5h-1v1h-6v-1h-1v-5h1zM609 588h6v1h1v5h-1v1h-6v-1h-1v-5h1zM612 598h6v1h1v5h-1v1h-6v-1h-1v-5h1zM616 598h6v1h1v5h-1v1h-6v-1h-1v-5h1zM619 625h6v1h1v5h-1v1h-6v-1h-1v-5h1zM622 602h6v1h1v5h-1v1h-6v-1h-1v-5h1zM625 570h6v1h1v5h-1v1h-6v-1h-1v-5h1zM628 581h6v1h1v5h-1v1h-6v-1h-1v-5h1zM632 597h6v1h1v5h-1v1h-6v-1h-1v-5h1zM635 609h6v1h1v5h-1v1h-6v-1h-1v-5h1zM639 598h6v1h1v5h-1v1h-6v-1h-1v-5h1zM642 598h6v1h1v5h-1v1h-6v-1h-1v-5h1zM644 596h6v1h1v5h-1v1h-6v-1h-1v-5h1zM649 595h6v1h1v5h-1v1h-6v-1h-1v-5h1zM651 642h6v1h1v5h-1v1h-6v-1h-1v-5h1zM655 557h6v1h1v5h-1v1h-6v-1h-1v-5h1zM658 611h6v1h1v5h-1v1h-6v-1h-1v-5h1zM661 576h6v1h1v5h-1v1h-6v-1h-1v-5h1zM665 581h6v1h1v5h-1v1h-6v-1h-1v-5h1zM668 594h6v1h1v5h-1v1h-6v-1h-1v-5h1zM671 581h6v1h1v5h-1v1h-6v-1h-1v-5h1zM674 582h6v1h1v5h-1v1h-6v-1h-1v-5h1zM678 594h6v1h1v5h-1v1h-6v-1h-1v-5h1zM681 565h6v1h1v5h-1v1h-6v-1h-1v-5h1zM684 581h6v1h1v5h-1v1h-6v-1h-1v-5h1zM687 612h6v1h1v5h-1v1h-6v-1h-1v-5h1zM691 595h6v1h1v5h-1v1h-6v-1h-1v-5h1zM694 588h6v1h1v5h-1v1h-6v-1h-1v-5h1zM697 580h6v1h1v5h-1v1h-6v-1h-1v-5h1zM700 560h6v1h1v5h-1v1h-6v-1h-1v-5h1zM704 597h6v1h1v5h-1v1h-6v-1h-1v-5h1zM707 586h6v1h1v5h-1v1h-6v-1h-1v-5h1zM710 609h6v1h1v5h-1v1h-6v-1h-1v-5h1zM714 574h6v1h1v5h-1v1h-6v-1h-1v-5h1zM717 595h6v1h1v5h-1v1h-6v-1h-1v-5h1zM720 609h6v1h1v5h-1v1h-6v-1h-1v-5h1zM723 564h6v1h1v5h-1v1h-6v-1h-1v-5h1zM726 621h6v1h1v5h-1v1h-6v-1h-1v-5h1zM730 592h6v1h1v5h-1v1h-6v-1h-1v-5h1zM732 592h6v1h1v5h-1v1h-6v-1h-1v-5h1zM736 600h6v1h1v5h-1v1h-6v-1h-1v-5h1zM739 577h6v1h1v5h-1v1h-6v-1h-1v-5h1zM743 610h6v1h1v5h-1v1h-6v-1h-1v-5h1zM745 593h6v1h1v5h-1v1h-6v-1h-1v-5h1zM749 576h6v1h1v5h-1v1h-6v-1h-1v-5h1zM752 593h6v1h1v5h-1v1h-6v-1h-1v-5h1zM756 584h6v1h1v5h-1v1h-6v-1h-1v-5h1zM759 560h6v1h1v5h-1v1h-6v-1h-1v-5h1zM763 610h6v1h1v5h-1v1h-6v-1h-1v-5h1zM765 622h6v1h1v5h-1v1h-6v-1h-1v-5h1zM769 613h6v1h1v5h-1v1h-6v-1h-1v-5h1zM772 597h6v1h1v5h-1v1h-6v-1h-1v-5h1zM775 591h6v1h1v5h-1v1h-6v-1h-1v-5h1zM778 608h6v1h1v5h-1v1h-6v-1h-1v-5h1zM782 580h6v1h1v5h-1v1h-6v-1h-1v-5h1zM785 605h6v1h1v5h-1v1h-6v-1h-1v-5h1zM788 599h6v1h1v5h-1v1h-6v-1h-1v-5h1zM792 612h6v1h1v5h-1v1h-6v-1h-1v-5h1zM794 624h6v1h1v5h-1v1h-6v-1h-1v-5h1zM798 603h6v1h1v5h-1v1h-6v-1h-1v-5h1zM801 608h6v1h1v5h-1v1h-6v-1h-1v-5h1zM805 607h6v1h1v5h-1v1h-6v-1h-1v-5h1zM807 616h6v1h1v5h-1v1h-6v-1h-1v-5h1zM811 602h6v1h1v5h-1v1h-6v-1h-1v-5h1zM814 603h6v1h1v5h-1v1h-6v-1h-1v-5h1zM818 631h6v1h1v5h-1v1h-6v-1h-1v-5h1zM821 587h6v1h1v5h-1v1h-6v-1h-1v-5h1zM824 585h6v1h1v5h-1v1h-6v-1h-1v-5h1zM827 592h6v1h1v5h-1v1h-6v-1h-1v-5h1zM831 616h6v1h1v5h-1v1h-6v-1h-1v-5h1zM834 616h6v1h1v5h-1v1h-6v-1h-1v-5h1zM837 618h6v1h1v5h-1v1h-6v-1h-1v-5h1zM840 605h6v1h1v5h-1v1h-6v-1h-1v-5h1zM843 593h6v1h1v5h-1v1h-6v-1h-1v-5h1zM847 618h6v1h1v5h-1v1h-6v-1h-1v-5h1zM851 618h6v1h1v5h-1v1h-6v-1h-1v-5h1zM853 630h6v1h1v5h-1v1h-6v-1h-1v-5h1zM857 625h6v1h1v5h-1v1h-6v-1h-1v-5h1zM859 587h6v1h1v5h-1v1h-6v-1h-1v-5h1zM863 632h6v1h1v5h-1v1h-6v-1h-1v-5h1zM866 645h6v1h1v5h-1v1h-6v-1h-1v-5h1zM870 610h6v1h1v5h-1v1h-6v-1h-1v-5h1zM873 619h6v1h1v5h-1v1h-6v-1h-1v-5h1zM876 628h6v1h1v5h-1v1h-6v-1h-1v-5h1zM880 611h6v1h1v5h-1v1h-6v-1h-1v-5h1zM883 603h6v1h1v5h-1v1h-6v-1h-1v-5h1zM886 622h6v1h1v5h-1v1h-6v-1h-1v-5h1zM890 633h6v1h1v5h-1v1h-6v-1h-1v-5h1zM892 614h6v1h1v5h-1v1h-6v-1h-1v-5h1zM896 618h6v1h1v5h-1v1h-6v-1h-1v-5h1zM899 600h6v1h1v5h-1v1h-6v-1h-1v-5h1zM902 606h6v1h1v5h-1v1h-6v-1h-1v-5h1zM905 605h6v1h1v5h-1v1h-6v-1h-1v-5h1zM909 618h6v1h1v5h-1v1h-6v-1h-1v-5h1zM912 615h6v1h1v5h-1v1h-6v-1h-1v-5h1zM915 618h6v1h1v5h-1v1h-6v-1h-1v-5h1zM919 609h6v1h1v5h-1v1h-6v-1h-1v-5h1zM922 593h6v1h1v5h-1v1h-6v-1h-1v-5h1zM925 615h6v1h1v5h-1v1h-6v-1h-1v-5h1zM928 615h6v1h1v5h-1v1h-6v-1h-1v-5h1zM931 604h6v1h1v5h-1v1h-6v-1h-1v-5h1zM935 627h6v1h1v5h-1v1h-6v-1h-1v-5h1zM938 617h6v1h1v5h-1v1h-6v-1h-1v-5h1zM941 625h6v1h1v5h-1v1h-6v-1h-1v-5h1zM944 646h6v1h1v5h-1v1h-6v-1h-1v-5h1zM947 633h6v1h1v5h-1v1h-6v-1h-1v-5h1zM951 641h6v1h1v5h-1v1h-6v-1h-1v-5h1zM955 631h6v1h1v5h-1v1h-6v-1h-1v-5h1zM957 618h6v1h1v5h-1v1h-6v-1h-1v-5h1zM961 605h6v1h1v5h-1v1h-6v-1h-1v-5h1zM964 601h6v1h1v5h-1v1h-6v-1h-1v-5h1zM967 618h6v1h1v5h-1v1h-6v-1h-1v-5h1zM971 606h6v1h1v5h-1v1h-6v-1h-1v-5h1zM974 614h6v1h1v5h-1v1h-6v-1h-1v-5h1zM977 631h6v1h1v5h-1v1h-6v-1h-1v-5h1zM981 605h6v1h1v5h-1v1h-6v-1h-1v-5h1zM983 601h6v1h1v5h-1v1h-6v-1h-1v-5h1zM987 588h6v1h1v5h-1v1h-6v-1h-1v-5h1zM990 630h6v1h1v5h-1v1h-6v-1h-1v-5h1zM994 615h6v1h1v5h-1v1h-6v-1h-1v-5h1zM997 605h6v1h1v5h-1v1h-6v-1h-1v-5h1zM1000 586h6v1h1v5h-1v1h-6v-1h-1v-5h1zM1003 610h6v1h1v5h-1v1h-6v-1h-1v-5h1zM1007 621h6v1h1v5h-1v1h-6v-1h-1v-5h1zM1009 626h6v1h1v5h-1v1h-6v-1h-1v-5h1zM1013 617h6v1h1v5h-1v1h-6v-1h-1v-5h1zM1016 615h6v1h1v5h-1v1h-6v-1h-1v-5h1zM1019 629h6v1h1v5h-1v1h-6v-1h-1v-5h1zM1023 644h6v1h1v5h-1v1h-6v-1h-1v-5h1zM1026 629h6v1h1v5h-1v1h-6v-1h-1v-5h1zM1029 626h6v1h1v5h-1v1h-6v-1h-1v-5h1zM1032 646h6v1h1v5h-1v1h-6v-1h-1v-5h1zM1036 630h6v1h1v5h-1v1h-6v-1h-1v-5h1zM1039 622h6v1h1v5h-1v1h-6v-1h-1v-5h1zM1043 626h6v1h1v5h-1v1h-6v-1h-1v-5h1zM1045 628h6v1h1v5h-1v1h-6v-1h-1v-5h1zM1049 657h6v1h1v5h-1v1h-6v-1h-1v-5h1zM1051 653h6v1h1v5h-1v1h-6v-1h-1v-5h1zM1055 637h6v1h1v5h-1v1h-6v-1h-1v-5h1zM1059 649h6v1h1v5h-1v1h-6v-1h-1v-5h1zM1062 636h6v1h1v5h-1v1h-6v-1h-1v-5h1zM1065 644h6v1h1v5h-1v1h-6v-1h-1v-5h1zM1068 654h6v1h1v5h-1v1h-6v-1h-1v-5h1zM1072 643h6v1h1v5h-1v1h-6v-1h-1v-5h1zM1075 652h6v1h1v5h-1v1h-6v-1h-1v-5h1zM1078 654h6v1h1v5h-1v1h-6v-1h-1v-5h1zM1081 644h6v1h1v5h-1v1h-6v-1h-1v-5h1zM1084 639h6v1h1v5h-1v1h-6v-1h-1v-5h1zM1088 669h6v1h1v5h-1v1h-6v-1h-1v-5h1zM1091 656h6v1h1v5h-1v1h-6v-1h-1v-5h1zM1094 665h6v1h1v5h-1v1h-6v-1h-1v-5h1zM1098 693h6v1h1v5h-1v1h-6v-1h-1v-5h1zM1101 650h6v1h1v5h-1v1h-6v-1h-1v-5h1zM1104 677h6v1h1v5h-1v1h-6v-1h-1v-5h1zM1107 652h6v1h1v5h-1v1h-6v-1h-1v-5h1zM1111 670h6v1h1v5h-1v1h-6v-1h-1v-5h1zM1113 673h6v1h1v5h-1v1h-6v-1h-1v-5h1zM1117 681h6v1h1v5h-1v1h-6v-1h-1v-5h1zM1121 710h6v1h1v5h-1v1h-6v-1h-1v-5h1zM1124 715h6v1h1v5h-1v1h-6v-1h-1v-5h1zM1127 739h6v1h1v5h-1v1h-6v-1h-1v-5h1zM1130 738h6v1h1v5h-1v1h-6v-1h-1v-5h1zM1134 735h6v1h1v5h-1v1h-6v-1h-1v-5h1zM1136 717h6v1h1v5h-1v1h-6v-1h-1v-5h1zM1140 726h6v1h1v5h-1v1h-6v-1h-1v-5h1zM1144 696h6v1h1v5h-1v1h-6v-1h-1v-5h1zM1146 712h6v1h1v5h-1v1h-6v-1h-1v-5h1zM1149 655h6v1h1v5h-1v1h-6v-1h-1v-5h1zM1153 688h6v1h1v5h-1v1h-6v-1h-1v-5h1zM1156 694h6v1h1v5h-1v1h-6v-1h-1v-5h1zM1160 689h6v1h1v5h-1v1h-6v-1h-1v-5h1zM1163 717h6v1h1v5h-1v1h-6v-1h-1v-5h1zM1166 756h6v1h1v5h-1v1h-6v-1h-1v-5h1zM1168 717h6v1h1v5h-1v1h-6v-1h-1v-5h1zM1172 687h6v1h1v5h-1v1h-6v-1h-1v-5h1zM1176 719h6v1h1v5h-1v1h-6v-1h-1v-5h1zM1179 714h6v1h1v5h-1v1h-6v-1h-1v-5h1zM1182 700h6v1h1v5h-1v1h-6v-1h-1v-5h1zM1185 705h6v1h1v5h-1v1h-6v-1h-1v-5h1zM1189 725h6v1h1v5h-1v1h-6v-1h-1v-5h1zM1193 717h6v1h1v5h-1v1h-6v-1h-1v-5h1zM1196 704h6v1h1v5h-1v1h-6v-1h-1v-5h1zM1199 692h6v1h1v5h-1v1h-6v-1h-1v-5h1zM1201 674h6v1h1v5h-1v1h-6v-1h-1v-5h1zM1206 660h6v1h1v5h-1v1h-6v-1h-1v-5h1zM1208 675h6v1h1v5h-1v1h-6v-1h-1v-5h1zM1211 665h6v1h1v5h-1v1h-6v-1h-1v-5h1zM1214 655h6v1h1v5h-1v1h-6v-1h-1v-5h1zM1218 619h6v1h1v5h-1v1h-6v-1h-1v-5h1zM1221 631h6v1h1v5h-1v1h-6v-1h-1v-5h1zM1225 642h6v1h1v5h-1v1h-6v-1h-1v-5h1zM1228 611h6v1h1v5h-1v1h-6v-1h-1v-5h1zM1231 620h6v1h1v5h-1v1h-6v-1h-1v-5h1zM1234 635h6v1h1v5h-1v1h-6v-1h-1v-5h1zM1238 633h6v1h1v5h-1v1h-6v-1h-1v-5h1zM1241 645h6v1h1v5h-1v1h-6v-1h-1v-5h1zM1244 637h6v1h1v5h-1v1h-6v-1h-1v-5h1zM1247 645h6v1h1v5h-1v1h-6v-1h-1v-5h1zM1251 625h6v1h1v5h-1v1h-6v-1h-1v-5h1zM1254 639h6v1h1v5h-1v1h-6v-1h-1v-5h1zM1257 638h6v1h1v5h-1v1h-6v-1h-1v-5h1zM1260 654h6v1h1v5h-1v1h-6v-1h-1v-5h1zM1264 659h6v1h1v5h-1v1h-6v-1h-1v-5h1zM1267 653h6v1h1v5h-1v1h-6v-1h-1v-5h1zM1270 649h6v1h1v5h-1v1h-6v-1h-1v-5h1zM1273 620h6v1h1v5h-1v1h-6v-1h-1v-5h1zM1277 645h6v1h1v5h-1v1h-6v-1h-1v-5h1zM1280 606h6v1h1v5h-1v1h-6v-1h-1v-5h1zM1283 614h6v1h1v5h-1v1h-6v-1h-1v-5h1zM1286 627h6v1h1v5h-1v1h-6v-1h-1v-5h1zM1290 634h6v1h1v5h-1v1h-6v-1h-1v-5h1zM1294 612h6v1h1v5h-1v1h-6v-1h-1v-5h1zM1297 652h6v1h1v5h-1v1h-6v-1h-1v-5h1zM1300 654h6v1h1v5h-1v1h-6v-1h-1v-5h1zM1303 631h6v1h1v5h-1v1h-6v-1h-1v-5h1zM1306 623h6v1h1v5h-1v1h-6v-1h-1v-5h1zM1309 628h6v1h1v5h-1v1h-6v-1h-1v-5h1zM1313 626h6v1h1v5h-1v1h-6v-1h-1v-5h1zM1315 651h6v1h1v5h-1v1h-6v-1h-1v-5h1zM1319 616h6v1h1v5h-1v1h-6v-1h-1v-5h1zM1322 627h6v1h1v5h-1v1h-6v-1h-1v-5h1zM1326 640h6v1h1v5h-1v1h-6v-1h-1v-5h1zM1329 651h6v1h1v5h-1v1h-6v-1h-1v-5h1zM1332 635h6v1h1v5h-1v1h-6v-1h-1v-5h1zM1335 629h6v1h1v5h-1v1h-6v-1h-1v-5h1zM1338 616h6v1h1v5h-1v1h-6v-1h-1v-5h1zM1342 621h6v1h1v5h-1v1h-6v-1h-1v-5h1zM1345 609h6v1h1v5h-1v1h-6v-1h-1v-5h1zM1348 610h6v1h1v5h-1v1h-6v-1h-1v-5h1zM1352 624h6v1h1v5h-1v1h-6v-1h-1v-5h1zM1355 623h6v1h1v5h-1v1h-6v-1h-1v-5h1zM1358 617h6v1h1v5h-1v1h-6v-1h-1v-5h1zM1361 637h6v1h1v5h-1v1h-6v-1h-1v-5h1zM1364 620h6v1h1v5h-1v1h-6v-1h-1v-5h1zM1368 602h6v1h1v5h-1v1h-6v-1h-1v-5h1zM1371 602h6v1h1v5h-1v1h-6v-1h-1v-5h1zM1375 611h6v1h1v5h-1v1h-6v-1h-1v-5h1zM1378 606h6v1h1v5h-1v1h-6v-1h-1v-5h1zM1381 604h6v1h1v5h-1v1h-6v-1h-1v-5h1zM1384 598h6v1h1v5h-1v1h-6v-1h-1v-5h1zM1387 630h6v1h1v5h-1v1h-6v-1h-1v-5h1zM1391 615h6v1h1v5h-1v1h-6v-1h-1v-5h1zM1393 621h6v1h1v5h-1v1h-6v-1h-1v-5h1zM1397 596h6v1h1v5h-1v1h-6v-1h-1v-5h1zM1400 609h6v1h1v5h-1v1h-6v-1h-1v-5h1zM1404 616h6v1h1v5h-1v1h-6v-1h-1v-5h1zM1407 619h6v1h1v5h-1v1h-6v-1h-1v-5h1zM1410 621h6v1h1v5h-1v1h-6v-1h-1v-5h1zM1413 592h6v1h1v5h-1v1h-6v-1h-1v-5h1zM1416 598h6v1h1v5h-1v1h-6v-1h-1v-5h1zM1420 596h6v1h1v5h-1v1h-6v-1h-1v-5h1zM1423 622h6v1h1v5h-1v1h-6v-1h-1v-5h1zM1426 613h6v1h1v5h-1v1h-6v-1h-1v-5h1zM1429 582h6v1h1v5h-1v1h-6v-1h-1v-5h1zM1433 599h6v1h1v5h-1v1h-6v-1h-1v-5h1zM1436 602h6v1h1v5h-1v1h-6v-1h-1v-5h1zM1440 589h6v1h1v5h-1v1h-6v-1h-1v-5h1zM1443 609h6v1h1v5h-1v1h-6v-1h-1v-5h1zM1446 607h6v1h1v5h-1v1h-6v-1h-1v-5h1zM1449 610h6v1h1v5h-1v1h-6v-1h-1v-5h1zM1453 591h6v1h1v5h-1v1h-6v-1h-1v-5h1zM1456 612h6v1h1v5h-1v1h-6v-1h-1v-5h1zM1459 597h6v1h1v5h-1v1h-6v-1h-1v-5h1zM1462 594h6v1h1v5h-1v1h-6v-1h-1v-5h1zM1465 598h6v1h1v5h-1v1h-6v-1h-1v-5h1zM1469 609h6v1h1v5h-1v1h-6v-1h-1v-5h1zM1472 605h6v1h1v5h-1v1h-6v-1h-1v-5h1zM1475 577h6v1h1v5h-1v1h-6v-1h-1v-5h1zM1478 604h6v1h1v5h-1v1h-6v-1h-1v-5h1zM1482 602h6v1h1v5h-1v1h-6v-1h-1v-5h1zM1485 631h6v1h1v5h-1v1h-6v-1h-1v-5h1zM1488 603h6v1h1v5h-1v1h-6v-1h-1v-5h1zM1491 604h6v1h1v5h-1v1h-6v-1h-1v-5h1zM1495 589h6v1h1v5h-1v1h-6v-1h-1v-5h1zM1498 640h6v1h1v5h-1v1h-6v-1h-1v-5h1zM1501 617h6v1h1v5h-1v1h-6v-1h-1v-5h1zM1505 598h6v1h1v5h-1v1h-6v-1h-1v-5h1zM1508 624h6v1h1v5h-1v1h-6v-1h-1v-5h1zM1511 617h6v1h1v5h-1v1h-6v-1h-1v-5h1zM1515 596h6v1h1v5h-1v1h-6v-1h-1v-5h1zM1518 576h6v1h1v5h-1v1h-6v-1h-1v-5h1zM1521 593h6v1h1v5h-1v1h-6v-1h-1v-5h1zM1524 586h6v1h1v5h-1v1h-6v-1h-1v-5h1zM1527 614h6v1h1v5h-1v1h-6v-1h-1v-5h1zM1531 592h6v1h1v5h-1v1h-6v-1h-1v-5h1zM1534 614h6v1h1v5h-1v1h-6v-1h-1v-5h1zM1538 589h6v1h1v5h-1v1h-6v-1h-1v-5h1zM1541 599h6v1h1v5h-1v1h-6v-1h-1v-5h1zM1543 590h6v1h1v5h-1v1h-6v-1h-1v-5h1zM1546 595h6v1h1v5h-1v1h-6v-1h-1v-5h1zM1550 624h6v1h1v5h-1v1h-6v-1h-1v-5h1zM1553 582h6v1h1v5h-1v1h-6v-1h-1v-5h1zM1557 609h6v1h1v5h-1v1h-6v-1h-1v-5h1zM1560 587h6v1h1v5h-1v1h-6v-1h-1v-5h1zM1563 598h6v1h1v5h-1v1h-6v-1h-1v-5h1zM1567 578h6v1h1v5h-1v1h-6v-1h-1v-5h1zM1570 578h6v1h1v5h-1v1h-6v-1h-1v-5h1zM1573 586h6v1h1v5h-1v1h-6v-1h-1v-5h1zM1577 601h6v1h1v5h-1v1h-6v-1h-1v-5h1zM1579 593h6v1h1v5h-1v1h-6v-1h-1v-5h1zM1583 580h6v1h1v5h-1v1h-6v-1h-1v-5h1zM1585 618h6v1h1v5h-1v1h-6v-1h-1v-5h1zM1589 602h6v1h1v5h-1v1h-6v-1h-1v-5h1zM1592 613h6v1h1v5h-1v1h-6v-1h-1v-5h1zM1595 592h6v1h1v5h-1v1h-6v-1h-1v-5h1zM1599 600h6v1h1v5h-1v1h-6v-1h-1v-5h1zM1602 592h6v1h1v5h-1v1h-6v-1h-1v-5h1zM1606 589h6v1h1v5h-1v1h-6v-1h-1v-5h1zM1609 594h6v1h1v5h-1v1h-6v-1h-1v-5h1zM1613 589h6v1h1v5h-1v1h-6v-1h-1v-5h1zM1616 598h6v1h1v5h-1v1h-6v-1h-1v-5h1zM1619 585h6v1h1v5h-1v1h-6v-1h-1v-5h1zM1622 595h6v1h1v5h-1v1h-6v-1h-1v-5h1zM1625 618h6v1h1v5h-1v1h-6v-1h-1v-5h1zM1629 602h6v1h1v5h-1v1h-6v-1h-1v-5h1zM1632 609h6v1h1v5h-1v1h-6v-1h-1v-5h1zM1635 609h6v1h1v5h-1v1h-6v-1h-1v-5h1zM1638 596h6v1h1v5h-1v1h-6v-1h-1v-5h1zM1641 572h6v1h1v5h-1v1h-6v-1h-1v-5h1zM1645 577h6v1h1v5h-1v1h-6v-1h-1v-5h1zM1648 597h6v1h1v5h-1v1h-6v-1h-1v-5h1zM1650 596h6v1h1v5h-1v1h-6v-1h-1v-5h1zM1655 615h6v1h1v5h-1v1h-6v-1h-1v-5h1zM1658 597h6v1h1v5h-1v1h-6v-1h-1v-5h1zM1661 595h6v1h1v5h-1v1h-6v-1h-1v-5h1zM1665 576h6v1h1v5h-1v1h-6v-1h-1v-5h1zM1668 585h6v1h1v5h-1v1h-6v-1h-1v-5h1zM1671 597h6v1h1v5h-1v1h-6v-1h-1v-5h1zM1674 597h6v1h1v5h-1v1h-6v-1h-1v-5h1zM1677 602h6v1h1v5h-1v1h-6v-1h-1v-5h1zM1680 603h6v1h1v5h-1v1h-6v-1h-1v-5h1zM1684 613h6v1h1v5h-1v1h-6v-1h-1v-5h1zM1688 582h6v1h1v5h-1v1h-6v-1h-1v-5h1zM1690 579h6v1h1v5h-1v1h-6v-1h-1v-5h1zM1693 621h6v1h1v5h-1v1h-6v-1h-1v-5h1zM1697 594h6v1h1v5h-1v1h-6v-1h-1v-5h1zM1700 623h6v1h1v5h-1v1h-6v-1h-1v-5h1zM1703 585h6v1h1v5h-1v1h-6v-1h-1v-5h1zM1706 582h6v1h1v5h-1v1h-6v-1h-1v-5h1zM1710 616h6v1h1v5h-1v1h-6v-1h-1v-5h1zM1713 586h6v1h1v5h-1v1h-6v-1h-1v-5h1zM1717 588h6v1h1v5h-1v1h-6v-1h-1v-5h1zM1719 594h6v1h1v5h-1v1h-6v-1h-1v-5h1zM1722 605h6v1h1v5h-1v1h-6v-1h-1v-5h1zM1726 592h6v1h1v5h-1v1h-6v-1h-1v-5h1zM1729 572h6v1h1v5h-1v1h-6v-1h-1v-5h1zM1733 632h6v1h1v5h-1v1h-6v-1h-1v-5h1zM1736 579h6v1h1v5h-1v1h-6v-1h-1v-5h1zM1739 591h6v1h1v5h-1v1h-6v-1h-1v-5h1zM1743 580h6v1h1v5h-1v1h-6v-1h-1v-5h1zM1745 598h6v1h1v5h-1v1h-6v-1h-1v-5h1zM1749 593h6v1h1v5h-1v1h-6v-1h-1v-5h1zM1752 591h6v1h1v5h-1v1h-6v-1h-1v-5h1zM1755 568h6v1h1v5h-1v1h-6v-1h-1v-5h1zM1759 596h6v1h1v5h-1v1h-6v-1h-1v-5h1zM1762 578h6v1h1v5h-1v1h-6v-1h-1v-5h1zM1765 603h6v1h1v5h-1v1h-6v-1h-1v-5h1zM1768 591h6v1h1v5h-1v1h-6v-1h-1v-5h1zM1772 594h6v1h1v5h-1v1h-6v-1h-1v-5h1zM1775 605h6v1h1v5h-1v1h-6v-1h-1v-5h1zM1778 570h6v1h1v5h-1v1h-6v-1h-1v-5h1zM1782 580h6v1h1v5h-1v1h-6v-1h-1v-5h1zM1785 595h6v1h1v5h-1v1h-6v-1h-1v-5h1zM1788 583h6v1h1v5h-1v1h-6v-1h-1v-5h1zM1791 593h6v1h1v5h-1v1h-6v-1h-1v-5h1zM1795 589h6v1h1v5h-1v1h-6v-1h-1v-5h1zM1798 578h6v1h1v5h-1v1h-6v-1h-1v-5h1zM1801 599h6v1h1v5h-1v1h-6v-1h-1v-5h1zM1804 597h6v1h1v5h-1v1h-6v-1h-1v-5h1zM1808 575h6v1h1v5h-1v1h-6v-1h-1v-5h1zM1811 585h6v1h1v5h-1v1h-6v-1h-1v-5h1zM1814 615h6v1h1v5h-1v1h-6v-1h-1v-5h1zM1818 580h6v1h1v5h-1v1h-6v-1h-1v-5h1zM1821 590h6v1h1v5h-1v1h-6v-1h-1v-5h1zM1823 585h6v1h1v5h-1v1h-6v-1h-1v-5h1zM1826 583h6v1h1v5h-1v1h-6v-1h-1v-5h1zM1830 585h6v1h1v5h-1v1h-6v-1h-1v-5h1zM1833 589h6v1h1v5h-1v1h-6v-1h-1v-5h1zM1837 592h6v1h1v5h-1v1h-6v-1h-1v-5h1zM1840 571h6v1h1v5h-1v1h-6v-1h-1v-5h1zM1843 575h6v1h1v5h-1v1h-6v-1h-1v-5h1zM1847 596h6v1h1v5h-1v1h-6v-1h-1v-5h1zM1850 583h6v1h1v5h-1v1h-6v-1h-1v-5h1zM1853 598h6v1h1v5h-1v1h-6v-1h-1v-5h1zM1857 601h6v1h1v5h-1v1h-6v-1h-1v-5h1zM1860 570h6v1h1v5h-1v1h-6v-1h-1v-5h1zM1862 607h6v1h1v5h-1v1h-6v-1h-1v-5h1zM1867 587h6v1h1v5h-1v1h-6v-1h-1v-5h1zM1869 572h6v1h1v5h-1v1h-6v-1h-1v-5h1zM1872 597h6v1h1v5h-1v1h-6v-1h-1v-5h1zM1875 597h6v1h1v5h-1v1h-6v-1h-1v-5h1zM1879 576h6v1h1v5h-1v1h-6v-1h-1v-5h1zM1883 619h6v1h1v5h-1v1h-6v-1h-1v-5h1zM1885 594h6v1h1v5h-1v1h-6v-1h-1v-5h1zM1889 624h6v1h1v5h-1v1h-6v-1h-1v-5h1zM1892 587h6v1h1v5h-1v1h-6v-1h-1v-5h1zM1895 584h6v1h1v5h-1v1h-6v-1h-1v-5h1zM1899 593h6v1h1v5h-1v1h-6v-1h-1v-5h1zM1902 600h6v1h1v5h-1v1h-6v-1h-1v-5h1zM1905 613h6v1h1v5h-1v1h-6v-1h-1v-5h1zM1908 594h6v1h1v5h-1v1h-6v-1h-1v-5h1zM1911 598h6v1h1v5h-1v1h-6v-1h-1v-5h1zM1915 592h6v1h1v5h-1v1h-6v-1h-1v-5h1zM1918 599h6v1h1v5h-1v1h-6v-1h-1v-5h1zM1921 602h6v1h1v5h-1v1h-6v-1h-1v-5h1zM1925 603h6v1h1v5h-1v1h-6v-1h-1v-5h1zM1928 576h6v1h1v5h-1v1h-6v-1h-1v-5h1zM1931 589h6v1h1v5h-1v1h-6v-1h-1v-5h1zM1935 564h6v1h1v5h-1v1h-6v-1h-1v-5h1zM1938 569h6v1h1v5h-1v1h-6v-1h-1v-5h1zM1941 573h6v1h1v5h-1v1h-6v-1h-1v-5h1zM1945 606h6v1h1v5h-1v1h-6v-1h-1v-5h1zM1948 595h6v1h1v5h-1v1h-6v-1h-1v-5h1zM1951 566h6v1h1v5h-1v1h-6v-1h-1v-5h1zM1955 566h6v1h1v5h-1v1h-6v-1h-1v-5h1zM1957 561h6v1h1v5h-1v1h-6v-1h-1v-5h1zM1961 578h6v1h1v5h-1v1h-6v-1h-1v-5h1zM1964 571h6v1h1v5h-1v1h-6v-1h-1v-5h1zM1967 572h6v1h1v5h-1v1h-6v-1h-1v-5h1zM302 894h6v1h1v5h-1v1h-6v-1h-1v-5h1zM305 904h6v1h1v5h-1v1h-6v-1h-1v-5h1zM308 911h6v1h1v5h-1v1h-6v-1h-1v-5h1zM310 914h6v1h1v5h-1v1h-6v-1h-1v-5h1zM312 930h6v1h1v5h-1v1h-6v-1h-1v-5h1zM315 915h6v1h1v5h-1v1h-6v-1h-1v-5h1zM317 914h6v1h1v5h-1v1h-6v-1h-1v-5h1zM319 870h6v1h1v5h-1v1h-6v-1h-1v-5h1zM322 930h6v1h1v5h-1v1h-6v-1h-1v-5h1zM324 909h6v1h1v5h-1v1h-6v-1h-1v-5h1zM327 888h6v1h1v5h-1v1h-6v-1h-1v-5h1zM329 920h6v1h1v5h-1v1h-6v-1h-1v-5h1zM332 934h6v1h1v5h-1v1h-6v-1h-1v-5h1zM334 889h6v1h1v5h-1v1h-6v-1h-1v-5h1zM336 919h6v1h1v5h-1v1h-6v-1h-1v-5h1zM339 939h6v1h1v5h-1v1h-6v-1h-1v-5h1zM341 903h6v1h1v5h-1v1h-6v-1h-1v-5h1zM343 917h6v1h1v5h-1v1h-6v-1h-1v-5h1zM345 936h6v1h1v5h-1v1h-6v-1h-1v-5h1zM349 928h6v1h1v5h-1v1h-6v-1h-1v-5h1zM350 955h6v1h1v5h-1v1h-6v-1h-1v-5h1zM353 956h6v1h1v5h-1v1h-6v-1h-1v-5h1zM355 928h6v1h1v5h-1v1h-6v-1h-1v-5h1zM358 939h6v1h1v5h-1v1h-6v-1h-1v-5h1zM360 925h6v1h1v5h-1v1h-6v-1h-1v-5h1zM363 952h6v1h1v5h-1v1h-6v-1h-1v-5h1zM365 898h6v1h1v5h-1v1h-6v-1h-1v-5h1zM367 936h6v1h1v5h-1v1h-6v-1h-1v-5h1zM369 914h6v1h1v5h-1v1h-6v-1h-1v-5h1zM372 887h6v1h1v5h-1v1h-6v-1h-1v-5h1zM374 949h6v1h1v5h-1v1h-6v-1h-1v-5h1zM376 936h6v1h1v5h-1v1h-6v-1h-1v-5h1zM379 905h6v1h1v5h-1v1h-6v-1h-1v-5h1zM381 932h6v1h1v5h-1v1h-6v-1h-1v-5h1zM384 932h6v1h1v5h-1v1h-6v-1h-1v-5h1zM386 901h6v1h1v5h-1v1h-6v-1h-1v-5h1zM389 922h6v1h1v5h-1v1h-6v-1h-1v-5h1zM391 890h6v1h1v5h-1v1h-6v-1h-1v-5h1zM394 935h6v1h1v5h-1v1h-6v-1h-1v-5h1zM396 933h6v1h1v5h-1v1h-6v-1h-1v-5h1zM398 922h6v1h1v5h-1v1h-6v-1h-1v-5h1zM400 937h6v1h1v5h-1v1h-6v-1h-1v-5h1zM403 910h6v1h1v5h-1v1h-6v-1h-1v-5h1zM405 912h6v1h1v5h-1v1h-6v-1h-1v-5h1zM408 951h6v1h1v5h-1v1h-6v-1h-1v-5h1zM410 947h6v1h1v5h-1v1h-6v-1h-1v-5h1zM412 913h6v1h1v5h-1v1h-6v-1h-1v-5h1zM415 946h6v1h1v5h-1v1h-6v-1h-1v-5h1zM418 920h6v1h1v5h-1v1h-6v-1h-1v-5h1zM419 914h6v1h1v5h-1v1h-6v-1h-1v-5h1zM422 936h6v1h1v5h-1v1h-6v-1h-1v-5h1zM425 940h6v1h1v5h-1v1h-6v-1h-1v-5h1zM426 903h6v1h1v5h-1v1h-6v-1h-1v-5h1zM429 904h6v1h1v5h-1v1h-6v-1h-1v-5h1zM432 928h6v1h1v5h-1v1h-6v-1h-1v-5h1zM434 955h6v1h1v5h-1v1h-6v-1h-1v-5h1zM436 928h6v1h1v5h-1v1h-6v-1h-1v-5h1zM439 960h6v1h1v5h-1v1h-6v-1h-1v-5h1zM441 955h6v1h1v5h-1v1h-6v-1h-1v-5h1zM443 934h6v1h1v5h-1v1h-6v-1h-1v-5h1zM445 960h6v1h1v5h-1v1h-6v-1h-1v-5h1zM448 925h6v1h1v5h-1v1h-6v-1h-1v-5h1zM451 919h6v1h1v5h-1v1h-6v-1h-1v-5h1zM454 927h6v1h1v5h-1v1h-6v-1h-1v-5h1zM455 891h6v1h1v5h-1v1h-6v-1h-1v-5h1zM458 934h6v1h1v5h-1v1h-6v-1h-1v-5h1zM460 930h6v1h1v5h-1v1h-6v-1h-1v-5h1zM462 922h6v1h1v5h-1v1h-6v-1h-1v-5h1zM465 933h6v1h1v5h-1v1h-6v-1h-1v-5h1zM467 928h6v1h1v5h-1v1h-6v-1h-1v-5h1zM470 920h6v1h1v5h-1v1h-6v-1h-1v-5h1zM472 899h6v1h1v5h-1v1h-6v-1h-1v-5h1zM474 951h6v1h1v5h-1v1h-6v-1h-1v-5h1zM477 937h6v1h1v5h-1v1h-6v-1h-1v-5h1zM479 926h6v1h1v5h-1v1h-6v-1h-1v-5h1zM482 938h6v1h1v5h-1v1h-6v-1h-1v-5h1zM484 916h6v1h1v5h-1v1h-6v-1h-1v-5h1zM487 961h6v1h1v5h-1v1h-6v-1h-1v-5h1zM489 926h6v1h1v5h-1v1h-6v-1h-1v-5h1zM491 923h6v1h1v5h-1v1h-6v-1h-1v-5h1zM493 923h6v1h1v5h-1v1h-6v-1h-1v-5h1zM496 926h6v1h1v5h-1v1h-6v-1h-1v-5h1zM498 914h6v1h1v5h-1v1h-6v-1h-1v-5h1zM501 910h6v1h1v5h-1v1h-6v-1h-1v-5h1zM503 925h6v1h1v5h-1v1h-6v-1h-1v-5h1zM505 908h6v1h1v5h-1v1h-6v-1h-1v-5h1zM507 923h6v1h1v5h-1v1h-6v-1h-1v-5h1zM510 944h6v1h1v5h-1v1h-6v-1h-1v-5h1zM513 908h6v1h1v5h-1v1h-6v-1h-1v-5h1zM515 945h6v1h1v5h-1v1h-6v-1h-1v-5h1zM517 915h6v1h1v5h-1v1h-6v-1h-1v-5h1zM519 940h6v1h1v5h-1v1h-6v-1h-1v-5h1zM522 915h6v1h1v5h-1v1h-6v-1h-1v-5h1zM524 921h6v1h1v5h-1v1h-6v-1h-1v-5h1zM527 887h6v1h1v5h-1v1h-6v-1h-1v-5h1zM529 917h6v1h1v5h-1v1h-6v-1h-1v-5h1zM532 926h6v1h1v5h-1v1h-6v-1h-1v-5h1zM534 912h6v1h1v5h-1v1h-6v-1h-1v-5h1zM536 945h6v1h1v5h-1v1h-6v-1h-1v-5h1zM539 934h6v1h1v5h-1v1h-6v-1h-1v-5h1zM541 940h6v1h1v5h-1v1h-6v-1h-1v-5h1zM543 912h6v1h1v5h-1v1h-6v-1h-1v-5h1zM545 932h6v1h1v5h-1v1h-6v-1h-1v-5h1zM548 931h6v1h1v5h-1v1h-6v-1h-1v-5h1zM550 934h6v1h1v5h-1v1h-6v-1h-1v-5h1zM553 918h6v1h1v5h-1v1h-6v-1h-1v-5h1zM556 918h6v1h1v5h-1v1h-6v-1h-1v-5h1zM558 906h6v1h1v5h-1v1h-6v-1h-1v-5h1zM560 962h6v1h1v5h-1v1h-6v-1h-1v-5h1zM562 907h6v1h1v5h-1v1h-6v-1h-1v-5h1zM565 929h6v1h1v5h-1v1h-6v-1h-1v-5h1zM568 941h6v1h1v5h-1v1h-6v-1h-1v-5h1zM570 921h6v1h1v5h-1v1h-6v-1h-1v-5h1zM572 920h6v1h1v5h-1v1h-6v-1h-1v-5h1zM575 957h6v1h1v5h-1v1h-6v-1h-1v-5h1zM577 903h6v1h1v5h-1v1h-6v-1h-1v-5h1zM579 934h6v1h1v5h-1v1h-6v-1h-1v-5h1zM581 942h6v1h1v5h-1v1h-6v-1h-1v-5h1zM583 900h6v1h1v5h-1v1h-6v-1h-1v-5h1zM586 919h6v1h1v5h-1v1h-6v-1h-1v-5h1zM589 928h6v1h1v5h-1v1h-6v-1h-1v-5h1zM591 961h6v1h1v5h-1v1h-6v-1h-1v-5h1zM593 951h6v1h1v5h-1v1h-6v-1h-1v-5h1zM596 946h6v1h1v5h-1v1h-6v-1h-1v-5h1zM598 898h6v1h1v5h-1v1h-6v-1h-1v-5h1zM601 894h6v1h1v5h-1v1h-6v-1h-1v-5h1zM603 920h6v1h1v5h-1v1h-6v-1h-1v-5h1zM605 918h6v1h1v5h-1v1h-6v-1h-1v-5h1zM608 928h6v1h1v5h-1v1h-6v-1h-1v-5h1zM610 904h6v1h1v5h-1v1h-6v-1h-1v-5h1zM612 912h6v1h1v5h-1v1h-6v-1h-1v-5h1zM615 934h6v1h1v5h-1v1h-6v-1h-1v-5h1zM618 902h6v1h1v5h-1v1h-6v-1h-1v-5h1zM619 923h6v1h1v5h-1v1h-6v-1h-1v-5h1zM622 901h6v1h1v5h-1v1h-6v-1h-1v-5h1zM624 933h6v1h1v5h-1v1h-6v-1h-1v-5h1zM627 902h6v1h1v5h-1v1h-6v-1h-1v-5h1zM629 918h6v1h1v5h-1v1h-6v-1h-1v-5h1zM632 911h6v1h1v5h-1v1h-6v-1h-1v-5h1zM634 892h6v1h1v5h-1v1h-6v-1h-1v-5h1zM636 921h6v1h1v5h-1v1h-6v-1h-1v-5h1zM639 939h6v1h1v5h-1v1h-6v-1h-1v-5h1zM641 921h6v1h1v5h-1v1h-6v-1h-1v-5h1zM644 944h6v1h1v5h-1v1h-6v-1h-1v-5h1zM646 907h6v1h1v5h-1v1h-6v-1h-1v-5h1zM648 953h6v1h1v5h-1v1h-6v-1h-1v-5h1zM651 943h6v1h1v5h-1v1h-6v-1h-1v-5h1zM653 946h6v1h1v5h-1v1h-6v-1h-1v-5h1zM656 893h6v1h1v5h-1v1h-6v-1h-1v-5h1zM658 936h6v1h1v5h-1v1h-6v-1h-1v-5h1zM660 924h6v1h1v5h-1v1h-6v-1h-1v-5h1zM663 902h6v1h1v5h-1v1h-6v-1h-1v-5h1zM665 927h6v1h1v5h-1v1h-6v-1h-1v-5h1zM667 934h6v1h1v5h-1v1h-6v-1h-1v-5h1zM670 920h6v1h1v5h-1v1h-6v-1h-1v-5h1zM672 945h6v1h1v5h-1v1h-6v-1h-1v-5h1zM674 937h6v1h1v5h-1v1h-6v-1h-1v-5h1zM676 954h6v1h1v5h-1v1h-6v-1h-1v-5h1zM679 943h6v1h1v5h-1v1h-6v-1h-1v-5h1zM682 956h6v1h1v5h-1v1h-6v-1h-1v-5h1zM683 921h6v1h1v5h-1v1h-6v-1h-1v-5h1zM686 965h6v1h1v5h-1v1h-6v-1h-1v-5h1zM688 928h6v1h1v5h-1v1h-6v-1h-1v-5h1zM691 927h6v1h1v5h-1v1h-6v-1h-1v-5h1zM694 946h6v1h1v5h-1v1h-6v-1h-1v-5h1zM695 932h6v1h1v5h-1v1h-6v-1h-1v-5h1zM698 951h6v1h1v5h-1v1h-6v-1h-1v-5h1zM700 913h6v1h1v5h-1v1h-6v-1h-1v-5h1zM703 945h6v1h1v5h-1v1h-6v-1h-1v-5h1zM705 897h6v1h1v5h-1v1h-6v-1h-1v-5h1zM708 947h6v1h1v5h-1v1h-6v-1h-1v-5h1zM710 954h6v1h1v5h-1v1h-6v-1h-1v-5h1zM712 935h6v1h1v5h-1v1h-6v-1h-1v-5h1zM715 939h6v1h1v5h-1v1h-6v-1h-1v-5h1zM717 969h6v1h1v5h-1v1h-6v-1h-1v-5h1zM720 951h6v1h1v5h-1v1h-6v-1h-1v-5h1zM722 962h6v1h1v5h-1v1h-6v-1h-1v-5h1zM724 936h6v1h1v5h-1v1h-6v-1h-1v-5h1zM727 904h6v1h1v5h-1v1h-6v-1h-1v-5h1zM729 941h6v1h1v5h-1v1h-6v-1h-1v-5h1zM731 916h6v1h1v5h-1v1h-6v-1h-1v-5h1zM734 937h6v1h1v5h-1v1h-6v-1h-1v-5h1zM736 953h6v1h1v5h-1v1h-6v-1h-1v-5h1zM739 964h6v1h1v5h-1v1h-6v-1h-1v-5h1zM741 938h6v1h1v5h-1v1h-6v-1h-1v-5h1zM744 953h6v1h1v5h-1v1h-6v-1h-1v-5h1zM746 957h6v1h1v5h-1v1h-6v-1h-1v-5h1zM748 966h6v1h1v5h-1v1h-6v-1h-1v-5h1zM751 978h6v1h1v5h-1v1h-6v-1h-1v-5h1zM753 947h6v1h1v5h-1v1h-6v-1h-1v-5h1zM755 916h6v1h1v5h-1v1h-6v-1h-1v-5h1zM758 918h6v1h1v5h-1v1h-6v-1h-1v-5h1zM760 917h6v1h1v5h-1v1h-6v-1h-1v-5h1zM763 920h6v1h1v5h-1v1h-6v-1h-1v-5h1zM765 953h6v1h1v5h-1v1h-6v-1h-1v-5h1zM767 955h6v1h1v5h-1v1h-6v-1h-1v-5h1zM769 925h6v1h1v5h-1v1h-6v-1h-1v-5h1zM772 934h6v1h1v5h-1v1h-6v-1h-1v-5h1zM774 930h6v1h1v5h-1v1h-6v-1h-1v-5h1zM777 934h6v1h1v5h-1v1h-6v-1h-1v-5h1zM779 955h6v1h1v5h-1v1h-6v-1h-1v-5h1zM782 950h6v1h1v5h-1v1h-6v-1h-1v-5h1zM784 943h6v1h1v5h-1v1h-6v-1h-1v-5h1zM787 922h6v1h1v5h-1v1h-6v-1h-1v-5h1zM788 963h6v1h1v5h-1v1h-6v-1h-1v-5h1zM791 926h6v1h1v5h-1v1h-6v-1h-1v-5h1zM794 951h6v1h1v5h-1v1h-6v-1h-1v-5h1zM796 940h6v1h1v5h-1v1h-6v-1h-1v-5h1zM798 892h6v1h1v5h-1v1h-6v-1h-1v-5h1zM800 946h6v1h1v5h-1v1h-6v-1h-1v-5h1zM802 964h6v1h1v5h-1v1h-6v-1h-1v-5h1zM805 945h6v1h1v5h-1v1h-6v-1h-1v-5h1zM807 940h6v1h1v5h-1v1h-6v-1h-1v-5h1zM810 927h6v1h1v5h-1v1h-6v-1h-1v-5h1zM812 936h6v1h1v5h-1v1h-6v-1h-1v-5h1zM815 925h6v1h1v5h-1v1h-6v-1h-1v-5h1zM817 964h6v1h1v5h-1v1h-6v-1h-1v-5h1zM820 948h6v1h1v5h-1v1h-6v-1h-1v-5h1zM822 936h6v1h1v5h-1v1h-6v-1h-1v-5h1zM824 906h6v1h1v5h-1v1h-6v-1h-1v-5h1zM827 941h6v1h1v5h-1v1h-6v-1h-1v-5h1zM829 952h6v1h1v5h-1v1h-6v-1h-1v-5h1zM831 937h6v1h1v5h-1v1h-6v-1h-1v-5h1zM834 957h6v1h1v5h-1v1h-6v-1h-1v-5h1zM836 985h6v1h1v5h-1v1h-6v-1h-1v-5h1zM839 942h6v1h1v5h-1v1h-6v-1h-1v-5h1zM841 925h6v1h1v5h-1v1h-6v-1h-1v-5h1zM843 951h6v1h1v5h-1v1h-6v-1h-1v-5h1zM846 933h6v1h1v5h-1v1h-6v-1h-1v-5h1zM849 938h6v1h1v5h-1v1h-6v-1h-1v-5h1zM851 967h6v1h1v5h-1v1h-6v-1h-1v-5h1zM853 950h6v1h1v5h-1v1h-6v-1h-1v-5h1zM856 918h6v1h1v5h-1v1h-6v-1h-1v-5h1zM858 942h6v1h1v5h-1v1h-6v-1h-1v-5h1zM860 929h6v1h1v5h-1v1h-6v-1h-1v-5h1zM862 922h6v1h1v5h-1v1h-6v-1h-1v-5h1zM865 930h6v1h1v5h-1v1h-6v-1h-1v-5h1zM868 933h6v1h1v5h-1v1h-6v-1h-1v-5h1zM870 930h6v1h1v5h-1v1h-6v-1h-1v-5h1zM872 949h6v1h1v5h-1v1h-6v-1h-1v-5h1zM874 928h6v1h1v5h-1v1h-6v-1h-1v-5h1zM876 933h6v1h1v5h-1v1h-6v-1h-1v-5h1zM879 921h6v1h1v5h-1v1h-6v-1h-1v-5h1zM882 958h6v1h1v5h-1v1h-6v-1h-1v-5h1zM884 953h6v1h1v5h-1v1h-6v-1h-1v-5h1zM886 938h6v1h1v5h-1v1h-6v-1h-1v-5h1zM889 937h6v1h1v5h-1v1h-6v-1h-1v-5h1zM891 959h6v1h1v5h-1v1h-6v-1h-1v-5h1zM893 947h6v1h1v5h-1v1h-6v-1h-1v-5h1zM896 950h6v1h1v5h-1v1h-6v-1h-1v-5h1zM898 941h6v1h1v5h-1v1h-6v-1h-1v-5h1zM900 960h6v1h1v5h-1v1h-6v-1h-1v-5h1zM903 913h6v1h1v5h-1v1h-6v-1h-1v-5h1zM905 960h6v1h1v5h-1v1h-6v-1h-1v-5h1zM907 942h6v1h1v5h-1v1h-6v-1h-1v-5h1zM909 916h6v1h1v5h-1v1h-6v-1h-1v-5h1zM912 957h6v1h1v5h-1v1h-6v-1h-1v-5h1zM915 970h6v1h1v5h-1v1h-6v-1h-1v-5h1zM917 941h6v1h1v5h-1v1h-6v-1h-1v-5h1zM919 969h6v1h1v5h-1v1h-6v-1h-1v-5h1zM922 948h6v1h1v5h-1v1h-6v-1h-1v-5h1zM925 961h6v1h1v5h-1v1h-6v-1h-1v-5h1zM927 911h6v1h1v5h-1v1h-6v-1h-1v-5h1zM929 934h6v1h1v5h-1v1h-6v-1h-1v-5h1zM931 951h6v1h1v5h-1v1h-6v-1h-1v-5h1zM934 924h6v1h1v5h-1v1h-6v-1h-1v-5h1zM936 901h6v1h1v5h-1v1h-6v-1h-1v-5h1zM938 950h6v1h1v5h-1v1h-6v-1h-1v-5h1zM941 948h6v1h1v5h-1v1h-6v-1h-1v-5h1zM943 961h6v1h1v5h-1v1h-6v-1h-1v-5h1zM946 936h6v1h1v5h-1v1h-6v-1h-1v-5h1zM948 959h6v1h1v5h-1v1h-6v-1h-1v-5h1zM950 956h6v1h1v5h-1v1h-6v-1h-1v-5h1zM953 939h6v1h1v5h-1v1h-6v-1h-1v-5h1zM955 946h6v1h1v5h-1v1h-6v-1h-1v-5h1zM958 956h6v1h1v5h-1v1h-6v-1h-1v-5h1zM960 912h6v1h1v5h-1v1h-6v-1h-1v-5h1zM962 934h6v1h1v5h-1v1h-6v-1h-1v-5h1zM965 954h6v1h1v5h-1v1h-6v-1h-1v-5h1zM967 963h6v1h1v5h-1v1h-6v-1h-1v-5h1zM970 928h6v1h1v5h-1v1h-6v-1h-1v-5h1zM972 976h6v1h1v5h-1v1h-6v-1h-1v-5h1zM974 942h6v1h1v5h-1v1h-6v-1h-1v-5h1zM976 928h6v1h1v5h-1v1h-6v-1h-1v-5h1zM979 973h6v1h1v5h-1v1h-6v-1h-1v-5h1zM981 934h6v1h1v5h-1v1h-6v-1h-1v-5h1zM984 940h6v1h1v5h-1v1h-6v-1h-1v-5h1zM986 985h6v1h1v5h-1v1h-6v-1h-1v-5h1zM988 962h6v1h1v5h-1v1h-6v-1h-1v-5h1zM991 947h6v1h1v5h-1v1h-6v-1h-1v-5h1zM993 967h6v1h1v5h-1v1h-6v-1h-1v-5h1zM996 926h6v1h1v5h-1v1h-6v-1h-1v-5h1zM998 990h6v1h1v5h-1v1h-6v-1h-1v-5h1zM1000 961h6v1h1v5h-1v1h-6v-1h-1v-5h1zM1003 945h6v1h1v5h-1v1h-6v-1h-1v-5h1zM1005 936h6v1h1v5h-1v1h-6v-1h-1v-5h1zM1007 988h6v1h1v5h-1v1h-6v-1h-1v-5h1zM1010 975h6v1h1v5h-1v1h-6v-1h-1v-5h1zM1012 979h6v1h1v5h-1v1h-6v-1h-1v-5h1zM1015 993h6v1h1v5h-1v1h-6v-1h-1v-5h1zM1017 971h6v1h1v5h-1v1h-6v-1h-1v-5h1zM1019 954h6v1h1v5h-1v1h-6v-1h-1v-5h1zM1023 970h6v1h1v5h-1v1h-6v-1h-1v-5h1zM1024 983h6v1h1v5h-1v1h-6v-1h-1v-5h1zM1027 985h6v1h1v5h-1v1h-6v-1h-1v-5h1zM1030 943h6v1h1v5h-1v1h-6v-1h-1v-5h1zM1031 995h6v1h1v5h-1v1h-6v-1h-1v-5h1zM1034 955h6v1h1v5h-1v1h-6v-1h-1v-5h1zM1036 970h6v1h1v5h-1v1h-6v-1h-1v-5h1zM1039 983h6v1h1v5h-1v1h-6v-1h-1v-5h1zM1041 942h6v1h1v5h-1v1h-6v-1h-1v-5h1zM1043 963h6v1h1v5h-1v1h-6v-1h-1v-5h1zM1046 991h6v1h1v5h-1v1h-6v-1h-1v-5h1zM1048 964h6v1h1v5h-1v1h-6v-1h-1v-5h1zM1051 973h6v1h1v5h-1v1h-6v-1h-1v-5h1zM1053 977h6v1h1v5h-1v1h-6v-1h-1v-5h1zM1055 958h6v1h1v5h-1v1h-6v-1h-1v-5h1zM1057 957h6v1h1v5h-1v1h-6v-1h-1v-5h1zM1060 938h6v1h1v5h-1v1h-6v-1h-1v-5h1zM1063 944h6v1h1v5h-1v1h-6v-1h-1v-5h1zM1065 955h6v1h1v5h-1v1h-6v-1h-1v-5h1zM1067 971h6v1h1v5h-1v1h-6v-1h-1v-5h1zM1070 978h6v1h1v5h-1v1h-6v-1h-1v-5h1zM1072 932h6v1h1v5h-1v1h-6v-1h-1v-5h1zM1074 991h6v1h1v5h-1v1h-6v-1h-1v-5h1zM1077 959h6v1h1v5h-1v1h-6v-1h-1v-5h1zM1079 1015h6v1h1v5h-1v1h-6v-1h-1v-5h1zM1081 980h6v1h1v5h-1v1h-6v-1h-1v-5h1zM1084 978h6v1h1v5h-1v1h-6v-1h-1v-5h1zM1086 990h6v1h1v5h-1v1h-6v-1h-1v-5h1zM1089 991h6v1h1v5h-1v1h-6v-1h-1v-5h1zM1091 981h6v1h1v5h-1v1h-6v-1h-1v-5h1zM1094 987h6v1h1v5h-1v1h-6v-1h-1v-5h1zM1096 1009h6v1h1v5h-1v1h-6v-1h-1v-5h1zM1098 1020h6v1h1v5h-1v1h-6v-1h-1v-5h1zM1100 1002h6v1h1v5h-1v1h-6v-1h-1v-5h1zM1103 1007h6v1h1v5h-1v1h-6v-1h-1v-5h1zM1105 1017h6v1h1v5h-1v1h-6v-1h-1v-5h1zM1107 1028h6v1h1v5h-1v1h-6v-1h-1v-5h1zM1110 1019h6v1h1v5h-1v1h-6v-1h-1v-5h1zM1113 1007h6v1h1v5h-1v1h-6v-1h-1v-5h1zM1115 1063h6v1h1v5h-1v1h-6v-1h-1v-5h1zM1117 1059h6v1h1v5h-1v1h-6v-1h-1v-5h1zM1119 1107h6v1h1v5h-1v1h-6v-1h-1v-5h1zM1123 1086h6v1h1v5h-1v1h-6v-1h-1v-5h1zM1124 1096h6v1h1v5h-1v1h-6v-1h-1v-5h1zM1127 1077h6v1h1v5h-1v1h-6v-1h-1v-5h1zM1129 1070h6v1h1v5h-1v1h-6v-1h-1v-5h1zM1132 1078h6v1h1v5h-1v1h-6v-1h-1v-5h1zM1134 1085h6v1h1v5h-1v1h-6v-1h-1v-5h1zM1137 1084h6v1h1v5h-1v1h-6v-1h-1v-5h1zM1138 1065h6v1h1v5h-1v1h-6v-1h-1v-5h1zM1141 1070h6v1h1v5h-1v1h-6v-1h-1v-5h1zM1143 1067h6v1h1v5h-1v1h-6v-1h-1v-5h1zM1146 1036h6v1h1v5h-1v1h-6v-1h-1v-5h1zM1148 1085h6v1h1v5h-1v1h-6v-1h-1v-5h1zM1150 1102h6v1h1v5h-1v1h-6v-1h-1v-5h1zM1153 1037h6v1h1v5h-1v1h-6v-1h-1v-5h1zM1155 1045h6v1h1v5h-1v1h-6v-1h-1v-5h1zM1158 1034h6v1h1v5h-1v1h-6v-1h-1v-5h1zM1160 1067h6v1h1v5h-1v1h-6v-1h-1v-5h1zM1163 1088h6v1h1v5h-1v1h-6v-1h-1v-5h1zM1165 1083h6v1h1v5h-1v1h-6v-1h-1v-5h1zM1167 1089h6v1h1v5h-1v1h-6v-1h-1v-5h1zM1169 1108h6v1h1v5h-1v1h-6v-1h-1v-5h1zM1172 1114h6v1h1v5h-1v1h-6v-1h-1v-5h1zM1174 1104h6v1h1v5h-1v1h-6v-1h-1v-5h1zM1177 1126h6v1h1v5h-1v1h-6v-1h-1v-5h1zM1179 1128h6v1h1v5h-1v1h-6v-1h-1v-5h1zM1182 1074h6v1h1v5h-1v1h-6v-1h-1v-5h1zM1184 1103h6v1h1v5h-1v1h-6v-1h-1v-5h1zM1187 1055h6v1h1v5h-1v1h-6v-1h-1v-5h1zM1188 1067h6v1h1v5h-1v1h-6v-1h-1v-5h1zM1191 1061h6v1h1v5h-1v1h-6v-1h-1v-5h1zM1193 1036h6v1h1v5h-1v1h-6v-1h-1v-5h1zM1196 1042h6v1h1v5h-1v1h-6v-1h-1v-5h1zM1198 1009h6v1h1v5h-1v1h-6v-1h-1v-5h1zM1200 999h6v1h1v5h-1v1h-6v-1h-1v-5h1zM1203 1024h6v1h1v5h-1v1h-6v-1h-1v-5h1zM1206 1017h6v1h1v5h-1v1h-6v-1h-1v-5h1zM1208 1002h6v1h1v5h-1v1h-6v-1h-1v-5h1zM1210 1015h6v1h1v5h-1v1h-6v-1h-1v-5h1zM1213 1017h6v1h1v5h-1v1h-6v-1h-1v-5h1zM1214 992h6v1h1v5h-1v1h-6v-1h-1v-5h1zM1217 983h6v1h1v5h-1v1h-6v-1h-1v-5h1zM1220 1009h6v1h1v5h-1v1h-6v-1h-1v-5h1zM1221 972h6v1h1v5h-1v1h-6v-1h-1v-5h1zM1224 999h6v1h1v5h-1v1h-6v-1h-1v-5h1zM1227 938h6v1h1v5h-1v1h-6v-1h-1v-5h1zM1229 940h6v1h1v5h-1v1h-6v-1h-1v-5h1zM1232 1018h6v1h1v5h-1v1h-6v-1h-1v-5h1zM1233 1008h6v1h1v5h-1v1h-6v-1h-1v-5h1zM1236 1022h6v1h1v5h-1v1h-6v-1h-1v-5h1zM1238 980h6v1h1v5h-1v1h-6v-1h-1v-5h1zM1241 982h6v1h1v5h-1v1h-6v-1h-1v-5h1zM1243 991h6v1h1v5h-1v1h-6v-1h-1v-5h1zM1246 1010h6v1h1v5h-1v1h-6v-1h-1v-5h1zM1248 1009h6v1h1v5h-1v1h-6v-1h-1v-5h1zM1251 997h6v1h1v5h-1v1h-6v-1h-1v-5h1zM1253 974h6v1h1v5h-1v1h-6v-1h-1v-5h1zM1255 980h6v1h1v5h-1v1h-6v-1h-1v-5h1zM1258 973h6v1h1v5h-1v1h-6v-1h-1v-5h1zM1260 972h6v1h1v5h-1v1h-6v-1h-1v-5h1zM1263 987h6v1h1v5h-1v1h-6v-1h-1v-5h1zM1265 973h6v1h1v5h-1v1h-6v-1h-1v-5h1zM1268 925h6v1h1v5h-1v1h-6v-1h-1v-5h1zM1269 933h6v1h1v5h-1v1h-6v-1h-1v-5h1zM1272 958h6v1h1v5h-1v1h-6v-1h-1v-5h1zM1274 960h6v1h1v5h-1v1h-6v-1h-1v-5h1zM1277 946h6v1h1v5h-1v1h-6v-1h-1v-5h1zM1279 956h6v1h1v5h-1v1h-6v-1h-1v-5h1zM1281 974h6v1h1v5h-1v1h-6v-1h-1v-5h1zM1284 945h6v1h1v5h-1v1h-6v-1h-1v-5h1zM1285 968h6v1h1v5h-1v1h-6v-1h-1v-5h1zM1288 918h6v1h1v5h-1v1h-6v-1h-1v-5h1zM1291 994h6v1h1v5h-1v1h-6v-1h-1v-5h1zM1293 969h6v1h1v5h-1v1h-6v-1h-1v-5h1zM1295 951h6v1h1v5h-1v1h-6v-1h-1v-5h1zM1298 927h6v1h1v5h-1v1h-6v-1h-1v-5h1zM1301 953h6v1h1v5h-1v1h-6v-1h-1v-5h1zM1304 933h6v1h1v5h-1v1h-6v-1h-1v-5h1zM1305 939h6v1h1v5h-1v1h-6v-1h-1v-5h1zM1308 920h6v1h1v5h-1v1h-6v-1h-1v-5h1zM1310 972h6v1h1v5h-1v1h-6v-1h-1v-5h1zM1312 967h6v1h1v5h-1v1h-6v-1h-1v-5h1zM1315 1006h6v1h1v5h-1v1h-6v-1h-1v-5h1zM1317 960h6v1h1v5h-1v1h-6v-1h-1v-5h1zM1320 956h6v1h1v5h-1v1h-6v-1h-1v-5h1zM1322 933h6v1h1v5h-1v1h-6v-1h-1v-5h1zM1324 937h6v1h1v5h-1v1h-6v-1h-1v-5h1zM1326 967h6v1h1v5h-1v1h-6v-1h-1v-5h1zM1329 941h6v1h1v5h-1v1h-6v-1h-1v-5h1zM1332 932h6v1h1v5h-1v1h-6v-1h-1v-5h1zM1334 967h6v1h1v5h-1v1h-6v-1h-1v-5h1zM1337 943h6v1h1v5h-1v1h-6v-1h-1v-5h1zM1339 935h6v1h1v5h-1v1h-6v-1h-1v-5h1zM1341 951h6v1h1v5h-1v1h-6v-1h-1v-5h1zM1343 911h6v1h1v5h-1v1h-6v-1h-1v-5h1zM1346 963h6v1h1v5h-1v1h-6v-1h-1v-5h1zM1348 934h6v1h1v5h-1v1h-6v-1h-1v-5h1zM1351 947h6v1h1v5h-1v1h-6v-1h-1v-5h1zM1353 954h6v1h1v5h-1v1h-6v-1h-1v-5h1zM1355 928h6v1h1v5h-1v1h-6v-1h-1v-5h1zM1358 983h6v1h1v5h-1v1h-6v-1h-1v-5h1zM1360 998h6v1h1v5h-1v1h-6v-1h-1v-5h1zM1362 936h6v1h1v5h-1v1h-6v-1h-1v-5h1zM1365 911h6v1h1v5h-1v1h-6v-1h-1v-5h1zM1367 914h6v1h1v5h-1v1h-6v-1h-1v-5h1zM1369 951h6v1h1v5h-1v1h-6v-1h-1v-5h1zM1372 928h6v1h1v5h-1v1h-6v-1h-1v-5h1zM1374 930h6v1h1v5h-1v1h-6v-1h-1v-5h1zM1377 944h6v1h1v5h-1v1h-6v-1h-1v-5h1zM1379 943h6v1h1v5h-1v1h-6v-1h-1v-5h1zM1381 925h6v1h1v5h-1v1h-6v-1h-1v-5h1zM1384 897h6v1h1v5h-1v1h-6v-1h-1v-5h1zM1386 943h6v1h1v5h-1v1h-6v-1h-1v-5h1zM1389 936h6v1h1v5h-1v1h-6v-1h-1v-5h1zM1391 964h6v1h1v5h-1v1h-6v-1h-1v-5h1zM1394 933h6v1h1v5h-1v1h-6v-1h-1v-5h1zM1396 947h6v1h1v5h-1v1h-6v-1h-1v-5h1zM1398 971h6v1h1v5h-1v1h-6v-1h-1v-5h1zM1400 911h6v1h1v5h-1v1h-6v-1h-1v-5h1zM1403 936h6v1h1v5h-1v1h-6v-1h-1v-5h1zM1405 960h6v1h1v5h-1v1h-6v-1h-1v-5h1zM1408 952h6v1h1v5h-1v1h-6v-1h-1v-5h1zM1410 938h6v1h1v5h-1v1h-6v-1h-1v-5h1zM1412 956h6v1h1v5h-1v1h-6v-1h-1v-5h1zM1415 939h6v1h1v5h-1v1h-6v-1h-1v-5h1zM1417 924h6v1h1v5h-1v1h-6v-1h-1v-5h1zM1420 928h6v1h1v5h-1v1h-6v-1h-1v-5h1zM1422 942h6v1h1v5h-1v1h-6v-1h-1v-5h1zM1424 949h6v1h1v5h-1v1h-6v-1h-1v-5h1zM1426 938h6v1h1v5h-1v1h-6v-1h-1v-5h1zM1429 963h6v1h1v5h-1v1h-6v-1h-1v-5h1zM1432 922h6v1h1v5h-1v1h-6v-1h-1v-5h1zM1434 955h6v1h1v5h-1v1h-6v-1h-1v-5h1zM1436 940h6v1h1v5h-1v1h-6v-1h-1v-5h1zM1438 932h6v1h1v5h-1v1h-6v-1h-1v-5h1zM1441 940h6v1h1v5h-1v1h-6v-1h-1v-5h1zM1443 934h6v1h1v5h-1v1h-6v-1h-1v-5h1zM1446 929h6v1h1v5h-1v1h-6v-1h-1v-5h1zM1448 924h6v1h1v5h-1v1h-6v-1h-1v-5h1zM1450 927h6v1h1v5h-1v1h-6v-1h-1v-5h1zM1453 919h6v1h1v5h-1v1h-6v-1h-1v-5h1zM1455 881h6v1h1v5h-1v1h-6v-1h-1v-5h1zM1458 952h6v1h1v5h-1v1h-6v-1h-1v-5h1zM1460 976h6v1h1v5h-1v1h-6v-1h-1v-5h1zM1462 950h6v1h1v5h-1v1h-6v-1h-1v-5h1zM1465 959h6v1h1v5h-1v1h-6v-1h-1v-5h1zM1467 957h6v1h1v5h-1v1h-6v-1h-1v-5h1zM1470 950h6v1h1v5h-1v1h-6v-1h-1v-5h1zM1471 927h6v1h1v5h-1v1h-6v-1h-1v-5h1zM1474 936h6v1h1v5h-1v1h-6v-1h-1v-5h1zM1476 957h6v1h1v5h-1v1h-6v-1h-1v-5h1zM1479 944h6v1h1v5h-1v1h-6v-1h-1v-5h1zM1481 957h6v1h1v5h-1v1h-6v-1h-1v-5h1zM1484 952h6v1h1v5h-1v1h-6v-1h-1v-5h1zM1486 942h6v1h1v5h-1v1h-6v-1h-1v-5h1zM1489 941h6v1h1v5h-1v1h-6v-1h-1v-5h1zM1491 951h6v1h1v5h-1v1h-6v-1h-1v-5h1zM1493 932h6v1h1v5h-1v1h-6v-1h-1v-5h1zM1495 957h6v1h1v5h-1v1h-6v-1h-1v-5h1zM1498 930h6v1h1v5h-1v1h-6v-1h-1v-5h1zM1500 950h6v1h1v5h-1v1h-6v-1h-1v-5h1zM1503 942h6v1h1v5h-1v1h-6v-1h-1v-5h1zM1505 927h6v1h1v5h-1v1h-6v-1h-1v-5h1zM1508 961h6v1h1v5h-1v1h-6v-1h-1v-5h1zM1509 904h6v1h1v5h-1v1h-6v-1h-1v-5h1zM1512 926h6v1h1v5h-1v1h-6v-1h-1v-5h1zM1515 946h6v1h1v5h-1v1h-6v-1h-1v-5h1zM1517 952h6v1h1v5h-1v1h-6v-1h-1v-5h1zM1520 926h6v1h1v5h-1v1h-6v-1h-1v-5h1zM1522 967h6v1h1v5h-1v1h-6v-1h-1v-5h1zM1524 936h6v1h1v5h-1v1h-6v-1h-1v-5h1zM1526 901h6v1h1v5h-1v1h-6v-1h-1v-5h1zM1529 915h6v1h1v5h-1v1h-6v-1h-1v-5h1zM1531 940h6v1h1v5h-1v1h-6v-1h-1v-5h1zM1533 928h6v1h1v5h-1v1h-6v-1h-1v-5h1zM1536 945h6v1h1v5h-1v1h-6v-1h-1v-5h1zM1539 931h6v1h1v5h-1v1h-6v-1h-1v-5h1zM1541 912h6v1h1v5h-1v1h-6v-1h-1v-5h1zM1543 943h6v1h1v5h-1v1h-6v-1h-1v-5h1zM1546 985h6v1h1v5h-1v1h-6v-1h-1v-5h1zM1548 951h6v1h1v5h-1v1h-6v-1h-1v-5h1zM1550 960h6v1h1v5h-1v1h-6v-1h-1v-5h1zM1553 944h6v1h1v5h-1v1h-6v-1h-1v-5h1zM1555 963h6v1h1v5h-1v1h-6v-1h-1v-5h1zM1557 919h6v1h1v5h-1v1h-6v-1h-1v-5h1zM1560 919h6v1h1v5h-1v1h-6v-1h-1v-5h1zM1562 909h6v1h1v5h-1v1h-6v-1h-1v-5h1zM1565 983h6v1h1v5h-1v1h-6v-1h-1v-5h1zM1567 968h6v1h1v5h-1v1h-6v-1h-1v-5h1zM1569 940h6v1h1v5h-1v1h-6v-1h-1v-5h1zM1572 967h6v1h1v5h-1v1h-6v-1h-1v-5h1zM1574 974h6v1h1v5h-1v1h-6v-1h-1v-5h1zM1576 935h6v1h1v5h-1v1h-6v-1h-1v-5h1zM1579 931h6v1h1v5h-1v1h-6v-1h-1v-5h1zM1581 942h6v1h1v5h-1v1h-6v-1h-1v-5h1zM1584 935h6v1h1v5h-1v1h-6v-1h-1v-5h1zM1587 902h6v1h1v5h-1v1h-6v-1h-1v-5h1zM1588 910h6v1h1v5h-1v1h-6v-1h-1v-5h1zM1591 959h6v1h1v5h-1v1h-6v-1h-1v-5h1zM1593 915h6v1h1v5h-1v1h-6v-1h-1v-5h1zM1595 956h6v1h1v5h-1v1h-6v-1h-1v-5h1zM1599 932h6v1h1v5h-1v1h-6v-1h-1v-5h1zM1600 909h6v1h1v5h-1v1h-6v-1h-1v-5h1zM1603 916h6v1h1v5h-1v1h-6v-1h-1v-5h1zM1605 935h6v1h1v5h-1v1h-6v-1h-1v-5h1zM1607 928h6v1h1v5h-1v1h-6v-1h-1v-5h1zM1610 928h6v1h1v5h-1v1h-6v-1h-1v-5h1zM1612 935h6v1h1v5h-1v1h-6v-1h-1v-5h1zM1615 945h6v1h1v5h-1v1h-6v-1h-1v-5h1zM1617 918h6v1h1v5h-1v1h-6v-1h-1v-5h1zM1619 935h6v1h1v5h-1v1h-6v-1h-1v-5h1zM1622 931h6v1h1v5h-1v1h-6v-1h-1v-5h1zM1625 911h6v1h1v5h-1v1h-6v-1h-1v-5h1zM1627 897h6v1h1v5h-1v1h-6v-1h-1v-5h1zM1629 924h6v1h1v5h-1v1h-6v-1h-1v-5h1zM1632 951h6v1h1v5h-1v1h-6v-1h-1v-5h1zM1634 936h6v1h1v5h-1v1h-6v-1h-1v-5h1zM1636 906h6v1h1v5h-1v1h-6v-1h-1v-5h1zM1638 914h6v1h1v5h-1v1h-6v-1h-1v-5h1zM1641 915h6v1h1v5h-1v1h-6v-1h-1v-5h1zM1643 917h6v1h1v5h-1v1h-6v-1h-1v-5h1zM1645 911h6v1h1v5h-1v1h-6v-1h-1v-5h1zM1648 927h6v1h1v5h-1v1h-6v-1h-1v-5h1zM1650 930h6v1h1v5h-1v1h-6v-1h-1v-5h1zM1653 901h6v1h1v5h-1v1h-6v-1h-1v-5h1zM1656 928h6v1h1v5h-1v1h-6v-1h-1v-5h1zM1657 936h6v1h1v5h-1v1h-6v-1h-1v-5h1zM1660 930h6v1h1v5h-1v1h-6v-1h-1v-5h1zM1663 922h6v1h1v5h-1v1h-6v-1h-1v-5h1zM1665 940h6v1h1v5h-1v1h-6v-1h-1v-5h1zM1667 894h6v1h1v5h-1v1h-6v-1h-1v-5h1zM1670 902h6v1h1v5h-1v1h-6v-1h-1v-5h1zM1672 905h6v1h1v5h-1v1h-6v-1h-1v-5h1zM1674 927h6v1h1v5h-1v1h-6v-1h-1v-5h1zM1677 914h6v1h1v5h-1v1h-6v-1h-1v-5h1zM1678 925h6v1h1v5h-1v1h-6v-1h-1v-5h1zM1681 933h6v1h1v5h-1v1h-6v-1h-1v-5h1zM1684 952h6v1h1v5h-1v1h-6v-1h-1v-5h1zM1685 897h6v1h1v5h-1v1h-6v-1h-1v-5h1zM1688 939h6v1h1v5h-1v1h-6v-1h-1v-5h1zM1691 926h6v1h1v5h-1v1h-6v-1h-1v-5h1zM1693 928h6v1h1v5h-1v1h-6v-1h-1v-5h1zM1695 898h6v1h1v5h-1v1h-6v-1h-1v-5h1zM1698 928h6v1h1v5h-1v1h-6v-1h-1v-5h1zM1700 914h6v1h1v5h-1v1h-6v-1h-1v-5h1zM1703 971h6v1h1v5h-1v1h-6v-1h-1v-5h1zM1705 933h6v1h1v5h-1v1h-6v-1h-1v-5h1zM1708 921h6v1h1v5h-1v1h-6v-1h-1v-5h1zM1710 956h6v1h1v5h-1v1h-6v-1h-1v-5h1zM1712 943h6v1h1v5h-1v1h-6v-1h-1v-5h1zM1715 952h6v1h1v5h-1v1h-6v-1h-1v-5h1zM1717 896h6v1h1v5h-1v1h-6v-1h-1v-5h1zM1719 913h6v1h1v5h-1v1h-6v-1h-1v-5h1zM1722 905h6v1h1v5h-1v1h-6v-1h-1v-5h1zM1724 908h6v1h1v5h-1v1h-6v-1h-1v-5h1zM1727 932h6v1h1v5h-1v1h-6v-1h-1v-5h1zM1729 929h6v1h1v5h-1v1h-6v-1h-1v-5h1zM1732 905h6v1h1v5h-1v1h-6v-1h-1v-5h1zM1734 929h6v1h1v5h-1v1h-6v-1h-1v-5h1zM1736 933h6v1h1v5h-1v1h-6v-1h-1v-5h1zM1739 938h6v1h1v5h-1v1h-6v-1h-1v-5h1zM1741 912h6v1h1v5h-1v1h-6v-1h-1v-5h1zM1743 911h6v1h1v5h-1v1h-6v-1h-1v-5h1zM1746 932h6v1h1v5h-1v1h-6v-1h-1v-5h1zM1748 929h6v1h1v5h-1v1h-6v-1h-1v-5h1zM1750 925h6v1h1v5h-1v1h-6v-1h-1v-5h1zM1753 927h6v1h1v5h-1v1h-6v-1h-1v-5h1zM1755 936h6v1h1v5h-1v1h-6v-1h-1v-5h1zM1757 943h6v1h1v5h-1v1h-6v-1h-1v-5h1zM1760 937h6v1h1v5h-1v1h-6v-1h-1v-5h1zM1762 945h6v1h1v5h-1v1h-6v-1h-1v-5h1zM1764 919h6v1h1v5h-1v1h-6v-1h-1v-5h1zM1767 928h6v1h1v5h-1v1h-6v-1h-1v-5h1zM1769 940h6v1h1v5h-1v1h-6v-1h-1v-5h1zM1772 932h6v1h1v5h-1v1h-6v-1h-1v-5h1zM1775 931h6v1h1v5h-1v1h-6v-1h-1v-5h1zM1776 930h6v1h1v5h-1v1h-6v-1h-1v-5h1zM1778 941h6v1h1v5h-1v1h-6v-1h-1v-5h1zM1781 977h6v1h1v5h-1v1h-6v-1h-1v-5h1zM1783 924h6v1h1v5h-1v1h-6v-1h-1v-5h1zM1786 932h6v1h1v5h-1v1h-6v-1h-1v-5h1zM1788 950h6v1h1v5h-1v1h-6v-1h-1v-5h1zM1790 922h6v1h1v5h-1v1h-6v-1h-1v-5h1zM1794 965h6v1h1v5h-1v1h-6v-1h-1v-5h1zM1796 937h6v1h1v5h-1v1h-6v-1h-1v-5h1zM1798 931h6v1h1v5h-1v1h-6v-1h-1v-5h1zM1801 931h6v1h1v5h-1v1h-6v-1h-1v-5h1zM1803 925h6v1h1v5h-1v1h-6v-1h-1v-5h1zM1805 930h6v1h1v5h-1v1h-6v-1h-1v-5h1zM1807 925h6v1h1v5h-1v1h-6v-1h-1v-5h1zM1810 927h6v1h1v5h-1v1h-6v-1h-1v-5h1zM1812 912h6v1h1v5h-1v1h-6v-1h-1v-5h1zM1815 934h6v1h1v5h-1v1h-6v-1h-1v-5h1zM1818 934h6v1h1v5h-1v1h-6v-1h-1v-5h1zM1819 921h6v1h1v5h-1v1h-6v-1h-1v-5h1zM1822 902h6v1h1v5h-1v1h-6v-1h-1v-5h1zM1824 941h6v1h1v5h-1v1h-6v-1h-1v-5h1zM1827 910h6v1h1v5h-1v1h-6v-1h-1v-5h1zM1829 899h6v1h1v5h-1v1h-6v-1h-1v-5h1zM1831 924h6v1h1v5h-1v1h-6v-1h-1v-5h1zM1834 928h6v1h1v5h-1v1h-6v-1h-1v-5h1zM1836 932h6v1h1v5h-1v1h-6v-1h-1v-5h1zM1838 952h6v1h1v5h-1v1h-6v-1h-1v-5h1zM1841 942h6v1h1v5h-1v1h-6v-1h-1v-5h1zM1843 945h6v1h1v5h-1v1h-6v-1h-1v-5h1zM1845 941h6v1h1v5h-1v1h-6v-1h-1v-5h1zM1848 934h6v1h1v5h-1v1h-6v-1h-1v-5h1zM1850 924h6v1h1v5h-1v1h-6v-1h-1v-5h1zM1853 954h6v1h1v5h-1v1h-6v-1h-1v-5h1zM1855 952h6v1h1v5h-1v1h-6v-1h-1v-5h1zM1857 927h6v1h1v5h-1v1h-6v-1h-1v-5h1zM1859 925h6v1h1v5h-1v1h-6v-1h-1v-5h1zM1862 908h6v1h1v5h-1v1h-6v-1h-1v-5h1zM1865 917h6v1h1v5h-1v1h-6v-1h-1v-5h1zM1867 928h6v1h1v5h-1v1h-6v-1h-1v-5h1zM1870 939h6v1h1v5h-1v1h-6v-1h-1v-5h1zM1872 947h6v1h1v5h-1v1h-6v-1h-1v-5h1zM1874 932h6v1h1v5h-1v1h-6v-1h-1v-5h1zM1877 954h6v1h1v5h-1v1h-6v-1h-1v-5h1zM1879 928h6v1h1v5h-1v1h-6v-1h-1v-5h1zM1881 928h6v1h1v5h-1v1h-6v-1h-1v-5h1zM1883 919h6v1h1v5h-1v1h-6v-1h-1v-5h1zM1886 934h6v1h1v5h-1v1h-6v-1h-1v-5h1zM1888 945h6v1h1v5h-1v1h-6v-1h-1v-5h1zM1891 913h6v1h1v5h-1v1h-6v-1h-1v-5h1zM1893 938h6v1h1v5h-1v1h-6v-1h-1v-5h1zM1895 937h6v1h1v5h-1v1h-6v-1h-1v-5h1zM1898 909h6v1h1v5h-1v1h-6v-1h-1v-5h1zM1901 894h6v1h1v5h-1v1h-6v-1h-1v-5h1zM1903 910h6v1h1v5h-1v1h-6v-1h-1v-5h1zM1905 908h6v1h1v5h-1v1h-6v-1h-1v-5h1zM1908 929h6v1h1v5h-1v1h-6v-1h-1v-5h1zM1910 930h6v1h1v5h-1v1h-6v-1h-1v-5h1zM1913 915h6v1h1v5h-1v1h-6v-1h-1v-5h1zM1915 923h6v1h1v5h-1v1h-6v-1h-1v-5h1zM1917 963h6v1h1v5h-1v1h-6v-1h-1v-5h1zM1919 915h6v1h1v5h-1v1h-6v-1h-1v-5h1zM1922 926h6v1h1v5h-1v1h-6v-1h-1v-5h1zM1924 954h6v1h1v5h-1v1h-6v-1h-1v-5h1zM1926 941h6v1h1v5h-1v1h-6v-1h-1v-5h1zM1929 904h6v1h1v5h-1v1h-6v-1h-1v-5h1zM1931 904h6v1h1v5h-1v1h-6v-1h-1v-5h1zM1934 919h6v1h1v5h-1v1h-6v-1h-1v-5h1zM1936 945h6v1h1v5h-1v1h-6v-1h-1v-5h1zM1938 929h6v1h1v5h-1v1h-6v-1h-1v-5h1zM1941 931h6v1h1v5h-1v1h-6v-1h-1v-5h1zM1943 889h6v1h1v5h-1v1h-6v-1h-1v-5h1zM1945 921h6v1h1v5h-1v1h-6v-1h-1v-5h1zM1948 911h6v1h1v5h-1v1h-6v-1h-1v-5h1zM1950 913h6v1h1v5h-1v1h-6v-1h-1v-5h1zM1953 924h6v1h1v5h-1v1h-6v-1h-1v-5h1zM1955 893h6v1h1v5h-1v1h-6v-1h-1v-5h1zM1957 929h6v1h1v5h-1v1h-6v-1h-1v-5h1zM1960 916h6v1h1v5h-1v1h-6v-1h-1v-5h1zM1963 960h6v1h1v5h-1v1h-6v-1h-1v-5h1zM1965 892h6v1h1v5h-1v1h-6v-1h-1v-5h1zM1967 929h6v1h1v5h-1v1h-6v-1h-1v-5h1zM546 110h6v1h1v5h-1v1h-6v-1h-1v-5h1zM545 120h6v1h1v5h-1v1h-6v-1h-1v-5h1zM548 132h6v1h1v5h-1v1h-6v-1h-1v-5h1zM576 122h6v1h1v5h-1v1h-6v-1h-1v-5h1zM573 132h6v1h1v5h-1v1h-6v-1h-1v-5h1zM580 136h6v1h1v5h-1v1h-6v-1h-1v-5h1zM1760 113h6v1h1v5h-1v1h-6v-1h-1v-5h1zM1758 122h6v1h1v5h-1v1h-6v-1h-1v-5h1zM1614 148h6v1h1v5h-1v1h-6v-1h-1v-5h1zM443 531h6v1h1v5h-1v1h-6v-1h-1v-5h1zM444 542h6v1h1v5h-1v1h-6v-1h-1v-5h1zM442 554h6v1h1v5h-1v1h-6v-1h-1v-5h1zM445 565h6v1h1v5h-1v1h-6v-1h-1v-5h1zM1128 764h6v1h1v5h-1v1h-6v-1h-1v-5h1zM1127 750h6v1h1v5h-1v1h-6v-1h-1v-5h1zM1129 742h6v1h1v5h-1v1h-6v-1h-1v-5h1zM1761 858h6v1h1v5h-1v1h-6v-1h-1v-5h1zM1760 873h6v1h1v5h-1v1h-6v-1h-1v-5h1zM1762 880h6v1h1v5h-1v1h-6v-1h-1v-5h1zM1131 1129h6v1h1v5h-1v1h-6v-1h-1v-5h1z"/>
<polyline fill="none" stroke="#f00" stroke-width="8" stroke-linejoin="round" stroke-linecap="round" points="303.6,137.2 305.1,137.1 306.6,137.1 308.1,137.1 309.6,137.0 311.1,137.0 312.6,137.1 314.1,137.1 315.6,137.2 317.1,137.3 318.6,137.4 320.1,137.6 321.6,137.8 323.1,138.0 324.6,138.3 326.1,138.6 327.6,138.9 329.1,139.2 330.6,139.6 332.1,139.9 333.6,140.2 335.1,140.6 336.6,140.9 338.1,141.3 339.6,141.6 341.1,142.0 342.6,142.3 344.1,142.7 345.6,143.0 347.1,143.4 348.6,143.8 350.1,144.2 351.6,144.5 353.1,144.9 354.6,145.3 356.1,145.7 357.6,146.1 359.1,146.5 360.6,146.9 362.1,147.5 363.6,148.2 365.1,148.8 366.6,149.3 368.1,149.7 369.6,149.9 371.1,149.9 372.6,149.9 374.1,149.9 375.6,150.1 377.1,150.4 378.6,150.9 380.1,151.5 381.6,152.1 383.1,152.7 384.6,153.2 386.1,153.5 387.6,153.6 389.1,153.3 390.6,152.7 392.1,151.7 393.6,150.5 395.1,149.3 396.6,148.2 398.1,147.2 399.6,146.5 401.1,146.1 402.6,145.7 404.1,145.4 405.6,145.0 407.1,144.7 408.6,144.4 410.1,144.1 411.6,143.9 413.1,143.6 414.6,143.4 416.1,143.3 417.6,143.1 419.1,143.0 420.6,142.9 422.1,142.9 423.6,142.9 425.1,143.0 426.6,143.1 428.1,143.2 429.6,143.4 431.1,143.7 432.6,143.9 434.1,144.3 435.6,144.6 437.1,145.1 438.6,145.7 440.1,146.5 441.6,147.5 443.1,148.6 444.6,149.8 446.1,150.9 447.6,151.9 449.1,152.8 450.6,153.4 452.1,153.8 453.6,153.8 455.1,153.6 456.6,153.2 458.1,152.9 459.6,152.6 461.1,152.6 462.6,152.8 464.1,153.2 465.6,153.8 467.1,154.5 468.6,155.2 470.1,155.9 471.6,156.4 473.1,156.7 474.6,156.6 476.1,156.0 477.6,155.0 479.1,153.8 480.6,152.7 482.1,151.7 483.6,151.2 485.1,151.1 486.6,151.3 488.1,151.6 489.6,152.0 491.1,152.4 492.6,152.6 494.1,152.6 495.6,152.4 497.1,151.9 498.6,151.4 500.1,150.9 501.6,150.4 503.1,150.0 504.6,149.9 506.1,150.0 507.6,150.3 509.1,150.7 510.6,151.1 512.1,151.5 513.6,151.9 515.1,152.0 516.6,152.0 518.1,151.8 519.6,151.6 521.1,151.4 522.6,151.1 524.1,151.0 525.6,151.0 527.1,151.5 528.6,152.2 530.1,153.2 531.6,154.3 533.1,155.3 534.6,156.1 536.1,156.6 537.6,156.7 539.1,156.2 540.6,155.2 542.1,154.0 543.6,152.8 545.1,151.6 546.6,150.8 548.1,150.4 549.6,150.2 551.1,150.1 552.6,150.1 554.1,150.0 555.6,150.0 557.1,149.9 558.6,149.7 560.1,149.5 561.6,149.1 563.1,148.7 564.6,148.2 566.1,147.7 567.6,147.1 569.1,146.6 570.6,146.0 572.1,145.5 573.6,145.1 575.1,144.7 576.6,144.3 578.1,144.2 579.6,144.3 581.1,144.5 582.6,144.9 584.1,145.4 585.6,146.0 587.1,146.6 588.6,147.7 590.1,149.1 591.6,150.8 593.1,152.6 594.6,154.5 596.1,156.2 597.6,157.7 599.1,158.9 600.6,159.6 602.1,159.8 603.6,159.8 605.1,159.5 606.6,159.1 608.1,158.6 609.6,158.2 611.1,157.8 612.6,157.7 614.1,157.7 615.6,157.9 617.1,158.0 618.6,158.2 620.1,158.4 621.6,158.6 623.1,158.9 624.6,159.3 626.1,159.7 627.6,160.1 629.1,160.6 630.6,161.2 632.1,162.3 633.6,163.8 635.1,165.5 636.6,167.3 638.1,169.0 639.6,170.5 641.1,171.6 642.6,172.1 644.1,172.0 645.6,171.4 647.1,170.7 648.6,170.1 650.1,170.0 651.6,170.4 653.1,171.1 654.6,172.0 656.1,173.0 657.6,174.0 659.1,174.9 660.6,175.6 662.1,176.0 663.6,176.0 665.1,175.5 666.6,174.6 668.1,173.6 669.6,172.5 671.1,171.5 672.6,170.9 674.1,170.8 675.6,171.3 677.1,171.9 678.6,172.6 680.1,173.3 681.6,174.1 683.1,174.9 684.6,175.7 686.1,176.6 687.6,177.4 689.1,178.4 690.6,179.3 692.1,180.3 693.6,181.3 695.1,182.4 696.6,183.5 698.1,184.8 699.6,187.0 701.1,189.9 702.6,193.1 704.1,196.2 705.6,198.5 707.1,199.8 708.6,199.5 710.1,198.2 711.6,196.3 713.1,194.2 714.6,192.4 716.1,191.4 717.6,191.5 719.1,192.3 720.6,193.7 722.1,195.2 723.6,196.7 725.1,197.8 726.6,198.5 728.1,198.3 729.6,197.3 731.1,195.8 732.6,194.0 734.1,192.1 735.6,190.6 737.1,189.5 738.6,189.2 740.1,189.9 741.6,191.4 743.1,193.3 744.6,195.3 746.1,197.0 747.6,198.2 749.1,198.5 750.6,197.9 752.1,196.9 753.6,195.5 755.1,194.1 756.6,193.0 758.1,192.4 759.6,192.4 761.1,193.1 762.6,194.2 764.1,195.5 765.6,196.8 767.1,197.8 768.6,198.4 770.1,198.4 771.6,197.8 773.1,196.8 774.6,195.6 776.1,194.4 777.6,193.3 779.1,192.5 780.6,192.3 782.1,192.7 783.6,193.7 785.1,194.9 786.6,196.3 788.1,197.7 789.6,198.8 791.1,199.4 792.6,199.4 794.1,198.8 795.6,197.8 797.1,196.5 798.6,195.2 800.1,194.0 801.6,193.2 803.1,192.9 804.6,193.3 806.1,194.3 807.6,195.6 809.1,196.9 810.6,197.9 812.1,198.5 813.6,198.2 815.1,197.2 816.6,195.7 818.1,194.1 819.6,192.6 821.1,191.6 822.6,191.3 824.1,192.2 825.6,194.0 827.1,196.3 828.6,198.9 830.1,201.2 831.6,202.9 833.1,203.7 834.6,203.4 836.1,202.5 837.6,201.2 839.1,199.7 840.6,198.3 842.1,197.2 843.6,196.7 845.1,197.0 846.6,198.1 848.1,199.7 849.6,201.6 851.1,203.5 852.6,205.4 854.1,206.9 855.6,207.8 857.1,208.4 858.6,208.6 860.1,208.7 861.6,208.7 863.1,208.9 864.6,209.3 866.1,210.0 867.6,211.5 869.1,213.5 870.6,215.7 872.1,218.0 873.6,220.1 875.1,221.6 876.6,222.2 878.1,221.9 879.6,220.9 881.1,219.5 882.6,218.2 884.1,217.2 885.6,216.8 887.1,217.4 888.6,218.5 890.1,220.0 891.6,221.9 893.1,223.8 894.6,225.6 896.1,227.2 897.6,228.4 899.1,229.1 900.6,229.2 902.1,228.8 903.6,228.1 905.1,227.2 906.6,226.3 908.1,225.5 909.6,225.1 911.1,225.2 912.6,225.8 914.1,226.8 915.6,228.0 917.1,229.2 918.6,230.3 920.1,231.1 921.6,231.3 923.1,230.8 924.6,229.7 926.1,228.3 927.6,227.0 929.1,225.8 930.6,225.2 932.1,225.3 933.6,226.4 935.1,228.1 936.6,230.0 938.1,231.9 939.6,233.5 941.1,234.3 942.6,234.1 944.1,233.0 945.6,231.5 947.1,229.7 948.6,228.0 950.1,226.7 951.6,226.1 953.1,226.3 954.6,227.0 956.1,228.2 957.6,229.5 959.1,230.9 960.6,232.1 962.1,232.9 963.6,233.3 965.1,232.9 966.6,231.7 968.1,230.0 969.6,228.0 971.1,226.2 972.6,224.8 974.1,224.1 975.6,224.5 977.1,225.7 978.6,227.3 980.1,229.2 981.6,230.8 983.1,232.0 984.6,232.3 986.1,231.9 987.6,231.1 989.1,230.1 990.6,228.9 992.1,227.8 993.6,226.8 995.1,226.1 996.6,225.7 998.1,225.8 999.6,226.2 1001.1,226.8 1002.6,227.4 1004.1,227.9 1005.6,228.2 1007.1,228.0 1008.6,227.3 1010.1,226.2 1011.6,225.1 1013.1,224.3 1014.6,224.1 1016.1,224.9 1017.6,226.4 1019.1,228.4 1020.6,230.7 1022.1,233.1 1023.7,235.2 1025.2,237.0 1026.7,238.1 1028.2,238.4 1029.7,238.2 1031.2,237.6 1032.7,236.9 1034.2,236.2 1035.7,235.7 1037.2,235.4 1038.7,235.5 1040.2,235.6 1041.7,235.8 1043.2,236.1 1044.7,236.6 1046.2,237.3 1047.7,238.2 1049.2,239.3 1050.7,240.6 1052.2,241.9 1053.7,243.3 1055.2,244.7 1056.7,246.2 1058.2,247.6 1059.7,249.1 1061.2,250.7 1062.7,252.5 1064.2,254.5 1065.7,256.7 1067.2,261.6 1068.7,266.7 1070.2,269.1 1071.7,270.4 1073.2,271.4 1074.7,272.2 1076.2,273.1 1077.7,274.7 1079.2,276.9 1080.7,279.4 1082.2,282.1 1083.7,285.0 1085.2,289.0 1086.7,293.5 1088.2,296.9 1089.7,298.6 1091.2,300.1 1092.7,301.6 1094.2,303.1 1095.7,304.6 1097.2,306.1 1098.7,307.6 1100.2,309.1 1101.7,311.6 1103.2,315.9 1104.7,320.8 1106.2,325.4 1107.7,330.5 1109.2,335.5 1110.7,339.1 1112.2,341.5 1113.7,343.5 1115.2,345.4 1116.7,347.2 1118.2,349.2 1119.7,351.2 1121.2,353.1 1122.7,355.2 1124.2,357.4 1125.7,360.0 1127.2,364.2 1128.7,369.2 1130.2,374.1 1131.7,378.5 1133.2,382.6 1134.7,385.5 1136.2,385.4 1137.7,382.7 1139.2,378.7 1140.7,374.4 1142.2,370.0 1143.7,365.1 1145.2,359.9 1146.7,355.0 1148.2,350.7 1149.7,347.2 1151.2,344.7 1152.7,343.3 1154.2,343.4 1155.7,344.4 1157.2,346.3 1158.7,349.0 1160.2,352.4 1161.7,355.9 1163.2,359.5 1164.7,363.0 1166.2,366.5 1167.7,370.0 1169.2,373.5 1170.7,376.9 1172.2,380.1 1173.7,383.1 1175.2,385.4 1176.7,383.6 1178.2,378.9 1179.7,373.4 1181.2,367.2 1182.7,360.5 1184.2,356.6 1185.7,354.4 1187.2,352.9 1188.7,351.6 1190.2,350.1 1191.7,348.1 1193.2,345.7 1194.7,343.2 1196.2,340.5 1197.7,337.5 1199.2,334.2 1200.7,329.3 1202.2,322.4 1203.7,315.8 1205.2,311.4 1206.7,308.1 1208.2,305.6 1209.7,304.1 1211.2,303.5 1212.7,303.5 1214.2,303.5 1215.7,303.1 1217.2,302.0 1218.7,300.5 1220.2,298.8 1221.7,296.6 1223.2,294.1 1224.7,290.6 1226.2,286.5 1227.7,282.6 1229.2,279.4 1230.7,277.2 1232.2,275.5 1233.7,274.1 1235.2,272.9 1236.7,271.5 1238.2,269.8 1239.7,267.5 1241.2,264.4 1242.7,260.7 1244.2,257.1 1245.7,254.0 1247.2,251.8 1248.7,249.9 1250.2,248.1 1251.7,246.5 1253.2,245.0 1254.7,243.7 1256.2,242.4 1257.7,241.1 1259.2,240.0 1260.7,238.9 1262.2,237.9 1263.7,237.1 1265.2,236.4 1266.7,235.7 1268.2,235.2 1269.7,234.9 1271.2,235.0 1272.7,235.3 1274.2,235.8 1275.7,236.2 1277.2,236.5 1278.7,236.5 1280.2,236.1 1281.7,235.2 1283.2,233.9 1284.7,232.4 1286.2,230.7 1287.7,229.0 1289.2,227.3 1290.7,225.9 1292.2,224.8 1293.7,224.1 1295.2,224.0 1296.7,224.3 1298.2,225.0 1299.7,225.9 1301.2,226.8 1302.7,227.5 1304.2,228.1 1305.7,228.2 1307.2,227.7 1308.7,226.5 1310.2,225.1 1311.7,224.2 1313.2,224.2 1314.7,224.8 1316.2,226.0 1317.7,227.4 1319.2,229.0 1320.7,230.4 1322.2,231.6 1323.7,232.2 1325.2,232.2 1326.7,231.3 1328.2,229.8 1329.7,228.1 1331.2,226.3 1332.7,224.9 1334.2,224.2 1335.7,224.3 1337.2,225.1 1338.7,226.5 1340.2,228.3 1341.7,230.1 1343.2,231.9 1344.7,233.3 1346.2,234.1 1347.7,234.2 1349.2,233.4 1350.7,231.8 1352.2,230.0 1353.7,228.2 1355.2,226.8 1356.7,226.1 1358.2,226.5 1359.7,228.0 1361.2,230.1 1362.7,232.2 1364.2,233.8 1365.7,234.3 1367.2,233.9 1368.7,233.1 1370.2,231.8 1371.7,230.4 1373.2,228.9 1374.7,227.5 1376.2,226.3 1377.7,225.4 1379.2,225.1 1380.7,225.4 1382.2,226.3 1383.7,227.7 1385.2,229.0 1386.7,229.9 1388.2,230.2 1389.7,229.9 1391.2,229.4 1392.7,228.8 1394.2,228.0 1395.7,227.3 1397.2,226.6 1398.7,226.0 1400.2,225.7 1401.7,225.8 1403.2,226.2 1404.7,226.9 1406.2,227.5 1407.7,228.0 1409.2,228.2 1410.7,227.8 1412.2,226.4 1413.7,224.5 1415.2,222.3 1416.7,220.0 1418.2,218.0 1419.7,216.5 1421.2,215.8 1422.7,216.2 1424.2,217.3 1425.7,218.9 1427.2,220.4 1428.7,221.7 1430.2,222.2 1431.7,221.7 1433.2,220.4 1434.7,218.8 1436.2,216.8 1437.7,214.8 1439.2,212.8 1440.7,211.0 1442.2,209.5 1443.7,208.6 1445.2,208.2 1446.7,208.2 1448.2,208.3 1449.7,208.3 1451.2,207.9 1452.7,206.8 1454.2,204.9 1455.7,202.5 1457.2,200.1 1458.7,198.2 1460.2,197.2 1461.7,197.1 1463.2,197.5 1464.7,198.3 1466.2,199.3 1467.7,200.3 1469.2,201.1 1470.7,201.6 1472.2,201.5 1473.7,200.6 1475.2,199.3 1476.7,197.5 1478.2,195.6 1479.7,193.8 1481.2,192.1 1482.7,190.9 1484.2,190.3 1485.7,190.5 1487.2,191.5 1488.7,192.9 1490.2,194.4 1491.7,195.9 1493.2,197.0 1494.7,197.4 1496.2,197.1 1497.7,196.5 1499.2,195.5 1500.7,194.5 1502.2,193.6 1503.7,193.0 1505.2,192.9 1506.7,193.4 1508.2,194.3 1509.7,195.5 1511.2,196.8 1512.7,198.2 1514.2,199.3 1515.7,200.2 1517.2,200.5 1518.7,200.1 1520.2,198.9 1521.7,197.2 1523.2,195.5 1524.7,193.8 1526.2,192.7 1527.7,192.3 1529.2,192.8 1530.7,194.0 1532.2,195.5 1533.7,197.1 1535.2,198.5 1536.7,199.3 1538.2,199.4 1539.7,198.8 1541.2,197.7 1542.7,196.3 1544.2,194.9 1545.7,193.8 1547.2,193.0 1548.7,193.0 1550.2,193.5 1551.7,194.5 1553.2,195.7 1554.7,196.9 1556.2,197.9 1557.7,198.5 1559.2,198.3 1560.7,197.5 1562.2,196.2 1563.7,194.6 1565.2,192.9 1566.7,191.3 1568.2,190.1 1569.7,189.3 1571.2,189.3 1572.7,190.3 1574.2,191.9 1575.7,193.8 1577.2,195.8 1578.7,197.4 1580.2,198.4 1581.7,198.4 1583.2,197.7 1584.7,196.4 1586.2,194.9 1587.7,193.4 1589.2,192.1 1590.7,191.4 1592.2,191.5 1593.7,192.7 1595.2,194.5 1596.7,196.6 1598.2,198.4 1599.7,199.5 1601.2,199.5 1602.7,198.1 1604.2,195.4 1605.7,192.0 1607.2,188.4 1608.7,185.0 1610.2,182.3 1611.7,181.0 1613.2,180.3 1614.7,179.8 1616.2,179.4 1617.7,178.9 1619.2,178.3 1620.7,177.5 1622.2,176.7 1623.7,175.8 1625.2,174.8 1626.7,173.8 1628.2,172.9 1629.7,172.0 1631.2,171.2 1632.7,170.6 1634.2,170.8 1635.7,171.8 1637.2,173.1 1638.7,174.8 1640.2,176.4 1641.7,177.8 1643.2,178.8 1644.7,179.0 1646.2,178.5 1647.7,177.5 1649.2,176.1 1650.7,174.5 1652.2,172.9 1653.7,171.5 1655.2,170.3 1656.7,169.7 1658.2,169.9 1659.7,171.0 1661.2,172.5 1662.7,174.1 1664.2,175.4 1665.7,176.1 1667.2,175.7 1668.7,174.0 1670.2,171.1 1671.7,167.9 1673.2,164.9 1674.7,162.7 1676.2,161.9 1677.7,161.5 1679.2,161.3 1680.7,161.2 1682.2,161.0 1683.7,160.8 1685.2,160.4 1686.7,159.9 1688.2,159.2 1689.7,158.5 1691.2,157.8 1692.7,157.2 1694.2,156.6 1695.7,156.3 1697.2,156.8 1698.7,157.9 1700.2,159.3 1701.7,160.9 1703.2,162.3 1704.7,163.2 1706.2,163.5 1707.7,162.8 1709.2,161.5 1710.7,160.1 1712.2,158.7 1713.7,157.3 1715.2,155.9 1716.7,154.5 1718.2,153.2 1719.7,151.9 1721.2,150.5 1722.7,149.2 1724.2,147.9 1725.7,146.6 1727.2,145.4 1728.7,144.3 1730.2,143.4 1731.7,143.1 1733.2,143.1 1734.7,143.4 1736.2,143.8 1737.7,144.3 1739.2,144.8 1740.7,145.5 1742.2,146.4 1743.7,147.3 1745.2,148.2 1746.7,149.0 1748.2,149.6 1749.7,150.1 1751.2,150.3 1752.7,150.2 1754.2,150.1 1755.7,149.9 1757.2,149.9 1758.7,150.0 1760.2,150.4 1761.7,151.2 1763.2,152.2 1764.7,153.3 1766.2,154.5 1767.7,155.5 1769.2,156.4 1770.7,157.0 1772.2,157.2 1773.7,156.9 1775.2,156.2 1776.7,155.2 1778.2,154.1 1779.7,153.0 1781.2,152.0 1782.7,151.2 1784.2,150.8 1785.7,150.8 1787.2,151.1 1788.7,151.5 1790.2,151.9 1791.7,152.2 1793.2,152.4 1794.7,152.3 1796.2,152.0 1797.7,151.4 1799.2,150.8 1800.7,150.2 1802.2,149.7 1803.7,149.5 1805.2,149.6 1806.7,149.8 1808.2,150.2 1809.7,150.7 1811.2,151.2 1812.7,151.7 1814.2,152.1 1815.7,152.3 1817.2,152.4 1818.7,152.1 1820.2,151.6 1821.7,151.1 1823.2,150.7 1824.7,150.5 1826.2,150.8 1827.7,151.5 1829.2,152.4 1830.7,153.4 1832.2,154.4 1833.7,155.2 1835.2,155.6 1836.7,155.5 1838.2,155.0 1839.7,154.3 1841.2,153.4 1842.7,152.5 1844.2,151.7 1845.7,151.1 1847.2,150.8 1848.7,150.9 1850.2,151.4 1851.7,151.9 1853.2,152.5 1854.7,152.7 1856.2,152.5 1857.7,151.9 1859.2,151.0 1860.7,150.0 1862.2,149.0 1863.7,148.1 1865.2,147.3 1866.7,146.6 1868.2,145.9 1869.7,145.2 1871.2,144.5 1872.7,143.9 1874.2,143.3 1875.7,142.8 1877.2,142.4 1878.7,142.1 1880.2,141.8 1881.7,141.6 1883.2,141.5 1884.7,141.5 1886.2,141.5 1887.7,141.6 1889.2,141.8 1890.7,142.1 1892.2,142.4 1893.7,142.8 1895.2,143.2 1896.7,143.6 1898.2,144.0 1899.7,144.4 1901.2,144.7 1902.7,144.9 1904.2,145.1 1905.7,145.3 1907.2,145.4 1908.7,145.6 1910.2,145.9 1911.7,146.2 1913.2,147.2 1914.7,148.6 1916.2,150.2 1917.7,151.7 1919.2,152.8 1920.7,153.2 1922.2,152.9 1923.7,152.0 1925.2,150.8 1926.7,149.5 1928.2,148.4 1929.7,147.7 1931.2,147.5 1932.7,147.4 1934.2,147.4 1935.7,147.4 1937.2,147.4 1938.7,147.4 1940.2,147.4 1941.7,147.3 1943.2,147.1 1944.7,146.8 1946.2,146.3 1947.7,145.8 1949.2,145.2 1950.7,144.7 1952.2,144.2 1953.7,143.7 1955.2,143.4 1956.7,143.1 1958.2,142.8 1959.7,142.5 1961.2,142.2 1962.7,142.0 1964.2,141.8 1965.7,141.6 1967.2,141.4 1968.7,141.3 1970.2,141.2"/>
<polyline fill="none" stroke="#f00" stroke-width="8" stroke-linejoin="round" stroke-linecap="round" points="305.1,137.2 306.6,137.1 308.1,137.1 309.6,137.1 311.1,137.0 312.6,137.0 314.1,137.1 315.6,137.1 317.1,137.2 318.6,137.3 320.1,137.4 321.6,137.6 323.1,137.8 324.6,138.0 326.1,138.3 327.6,138.6 329.1,138.9 330.6,139.2 332.1,139.6 333.6,139.9 335.1,140.2 336.6,140.6 338.1,140.9 339.6,141.3 341.1,141.6 342.6,142.0 344.1,142.3 345.6,142.7 347.1,143.0 348.6,143.4 350.1,143.8 351.6,144.2 353.1,144.5 354.6,144.9 356.1,145.3 357.6,145.7 359.1,146.1 360.6,146.5 362.1,146.9 363.6,147.5 365.1,148.2 366.6,148.8 368.1,149.3 369.6,149.7 371.1,149.9 372.6,149.9 374.1,149.9 375.6,149.9 377.1,150.1 378.6,150.4 380.1,150.9 381.6,151.5 383.1,152.1 384.6,152.7 386.1,153.2 387.6,153.5 389.1,153.6 390.6,153.3 392.1,152.7 393.6,151.7 395.1,150.5 396.6,149.3 398.1,148.2 399.6,147.2 401.1,146.5 402.6,146.1 404.1,145.7 405.6,145.4 407.1,145.0 408.6,144.7 410.1,144.4 411.6,144.1 413.1,143.9 414.6,143.6 416.1,143.4 417.6,143.3 419.1,143.1 420.6,143.0 422.1,142.9 423.6,142.9 425.1,142.9 426.6,143.0 428.1,143.1 429.6,143.2 431.1,143.4 432.6,143.7 434.1,143.9 435.6,144.3 437.1,144.6 438.6,145.1 440.1,145.7 441.6,146.5 443.1,147.5 444.6,148.6 446.1,149.8 447.6,150.9 449.1,151.9 450.6,152.8 452.1,153.4 453.6,153.8 455.1,153.8 456.6,153.6 458.1,153.2 459.6,152.9 461.1,152.6 462.6,152.6 464.1,152.8 465.6,153.2 467.1,153.8 468.6,154.5 470.1,155.2 471.6,155.9 473.1,156.4 474.6,156.7 476.1,156.6 477.6,156.0 479.1,155.0 480.6,153.8 482.1,152.7 483.6,151.7 485.1,151.2 486.6,151.1 488.1,151.3 489.6,151.6 491.1,152.0 492.6,152.4 494.1,152.6 495.6,152.6 497.1,152.4 498.6,151.9 500.1,151.4 501.6,150.9 503.1,150.4 504.6,150.0 506.1,149.9 507.6,150.0 509.1,150.3 510.6,150.7 512.1,151.1 513.6,151.5 515.1,151.9 516.6,152.0 518.1,152.0 519.6,151.8 521.1,151.6 522.6,151.4 524.1,151.1 525.6,151.0 527.1,151.0 528.6,151.5 530.1,152.2 531.6,153.2 533.1,154.3 534.6,155.3 536.1,156.1 537.6,156.6 539.1,156.7 540.6,156.2 542.1,155.2 543.6,154.0 545.1,152.8 546.6,151.6 548.1,150.8 549.6,150.4 551.1,150.2 552.6,150.1 554.1,150.1 555.6,150.0 557.1,150.0 558.6,149.9 560.1,149.7 561.6,149.5 563.1,149.1 564.6,148.7 566.1,148.2 567.6,147.7 569.1,147.1 570.6,146.6 572.1,146.0 573.6,145.5 575.1,145.1 576.6,144.7 578.1,144.3 579.6,144.2 581.1,144.3 582.6,144.5 584.1,144.9 585.6,145.4 587.1,146.0 588.6,146.6 590.1,147.7 591.6,149.1 593.1,150.8 594.6,152.6 596.1,154.5 597.6,156.2 599.1,157.7 600.6,158.9 602.1,159.6 603.6,159.8 605.1,159.8 606.6,159.5 608.1,159.1 609.6,158.6 611.1,158.2 612.6,157.8 614.1,157.7 615.6,157.7 617.1,157.9 618.6,158.0 620.1,158.2 621.6,158.4 623.1,158.6 624.6,158.9 626.1,159.3 627.6,159.7 629.1,160.1 630.6,160.6 632.1,161.2 633.6,162.3 635.1,163.8 636.6,165.5 638.1,167.3 639.6,169.0 641.1,170.5 642.6,171.6 644.1,172.1 645.6,172.0 647.1,171.4 648.6,170.7 650.1,170.1 651.6,170.0 653.1,170.4 654.6,171.1 656.1,172.0 657.6,173.0 659.1,174.0 660.6,174.9 662.1,175.6 663.6,176.0 665.1,176.0 666.6,175.5 668.1,174.6 669.6,173.6 671.1,172.5 672.6,171.5 674.1,170.9 675.6,170.8 677.1,171.3 678.6,171.9 680.1,172.6 681.6,173.3 683.1,174.1 684.6,174.9 686.1,175.7 687.6,176.6 689.1,177.4 690.6,178.4 692.1,179.3 693.6,180.3 695.1,181.3 696.6,182.4 698.1,183.5 699.6,184.8 701.1,187.0 702.6,189.9 704.1,193.1 705.6,196.2 707.1,198.5 708.6,199.8 710.1,199.5 711.6,198.2 713.1,196.3 714.6,194.2 716.1,192.4 717.6,191.4 719.1,191.5 720.6,192.3 722.1,193.7 723.6,195.2 725.1,196.7 726.6,197.8 728.1,198.5 729.6,198.3 731.1,197.3 732.6,195.8 734.1,194.0 735.6,192.1 737.1,190.6 738.6,189.5 740.1,189.2 741.6,189.9 743.1,191.4 744.6,193.3 746.1,195.3 747.6,197.0 749.1,198.2 750.6,198.5 752.1,197.9 753.6,196.9 755.1,195.5 756.6,194.1 758.1,193.0 759.6,192.4 761.1,192.4 762.6,193.1 764.1,194.2 765.6,195.5 767.1,196.8 768.6,197.8 770.1,198.4 771.6,198.4 773.1,197.8 774.6,196.8 776.1,195.6 777.6,194.4 779.1,193.3 780.6,192.5 782.1,192.3 783.6,192.7 785.1,193.7 786.6,194.9 788.1,196.3 789.6,197.7 791.1,198.8 792.6,199.4 794.1,199.4 795.6,198.8 797.1,197.8 798.6,196.5 800.1,195.2 801.6,194.0 803.1,193.2 804.6,192.9 806.1,193.3 807.6,194.3 809.1,195.6 810.6,196.9 812.1,197.9 813.6,198.5 815.1,198.2 816.6,197.2 818.1,195.7 819.6,194.1 821.1,192.6 822.6,191.6 824.1,191.3 825.6,192.2 827.1,194.0 828.6,196.3 830.1,198.9 831.6,201.2 833.1,202.9 834.6,203.7 836.1,203.4 837.6,202.5 839.1,201.2 840.6,199.7 842.1,198.3 843.6,197.2 845.1,196.7 846.6,197.0 848.1,198.1 849.6,199.7 851.1,201.6 852.6,203.5 854.1,205.4 855.6,206.9 857.1,207.8 858.6,208.4 860.1,208.6 861.6,208.7 863.1,208.7 864.6,208.9 866.1,209.3 867.6,210.0 869.1,211.5 870.6,213.5 872.1,215.7 873.6,218.0 875.1,220.1 876.6,221.6 878.1,222.2 879.6,221.9 881.1,220.9 882.6,219.5 884.1,218.2 885.6,217.2 887.1,216.8 888.6,217.4 890.1,218.5 891.6,220.0 893.1,221.9 894.6,223.8 896.1,225.6 897.6,227.2 899.1,228.4 900.6,229.1 902.1,229.2 903.6,228.8 905.1,228.1 906.6,227.2 908.1,226.3 909.6,225.5 911.1,225.1 912.6,225.2 914.1,225.8 915.6,226.8 917.1,228.0 918.6,229.2 920.1,230.3 921.6,231.1 923.1,231.3 924.6,230.8 926.1,229.7 927.6,228.3 929.1,227.0 930.6,225.8 932.1,225.2 933.6,225.3 935.1,226.4 936.6,228.1 938.1,230.0 939.6,231.9 941.1,233.5 942.6,234.3 944.1,234.1 945.6,233.0 947.1,231.5 948.6,229.7 950.1,228.0 951.6,226.7 953.1,226.1 954.6,226.3 956.1,227.0 957.6,228.2 959.1,229.5 960.6,230.9 962.1,232.1 963.6,232.9 965.1,233.3 966.6,232.9 968.1,231.7 969.6,230.0 971.1,228.0 972.6,226.2 974.1,224.8 975.6,224.1 977.1,224.5 978.6,225.7 980.1,227.3 981.6,229.2 983.1,230.8 984.6,232.0 986.1,232.3 987.6,231.9 989.1,231.1 990.6,230.1 992.1,228.9 993.6,227.8 995.1,226.8 996.6,226.1 998.1,225.7 999.6,225.8 1001.1,226.2 1002.6,226.8 1004.1,227.4 1005.6,227.9 1007.1,228.2 1008.6,228.0 1010.1,227.3 1011.6,226.2 1013.1,225.1 1014.6,224.3 1016.1,224.1 1017.6,224.9 1019.1,226.4 1020.6,228.4 1022.1,230.7 1023.6,233.1 1025.2,235.2 1026.7,237.0 1028.2,238.1 1029.7,238.4 1031.2,238.2 1032.7,237.6 1034.2,236.9 1035.7,236.2 1037.2,235.7 1038.7,235.4 1040.2,235.5 1041.7,235.6 1043.2,235.8 1044.7,236.1 1046.2,236.6 1047.7,237.3 1049.2,238.2 1050.7,239.3 1052.2,240.6 1053.7,241.9 1055.2,243.3 1056.7,244.7 1058.2,246.2 1059.7,247.6 1061.2,249.1 1062.7,250.7 1064.2,252.5 1065.7,254.5 1067.2,256.7 1068.7,261.6 1070.2,266.7 1071.7,269.1 1073.2,270.4 1074.7,271.4 1076.2,272.2 1077.7,273.1 1079.2,274.7 1080.7,276.9 1082.2,279.4 1083.7,282.1 1085.2,285.0 1086.7,289.0 1088.2,293.5 1089.7,296.9 1091.2,298.6 1092.7,300.1 1094.2,301.6 1095.7,303.1 1097.2,304.6 1098.7,306.1 1100.2,307.6 1101.7,309.1 1103.2,311.6 1104.7,315.9 1106.2,320.8 1107.7,325.4 1109.2,330.5 1110.7,335.5 1112.2,339.1 1113.7,341.5 1115.2,343.5 1116.7,345.4 1118.2,347.2 1119.7,349.2 1121.2,351.2 1122.7,353.1 1124.2,355.2 1125.7,357.4 1127.2,360.0 1128.7,364.2 1130.2,369.2 1131.7,374.1 1133.2,378.5 1134.7,382.6 1136.2,385.5 1137.7,385.4 1139.2,382.7 1140.7,378.7 1142.2,374.4 1143.7,370.0 1145.2,365.1 1146.7,359.9 1148.2,355.0 1149.7,350.7 1151.2,347.2 1152.7,344.7 1154.2,343.3 1155.7,343.4 1157.2,344.4 1158.7,346.3 1160.2,349.0 1161.7,352.4 1163.2,355.9 1164.7,359.5 1166.2,363.0 1167.7,366.5 1169.2,370.0 1170.7,373.5 1172.2,376.9 1173.7,380.1 1175.2,383.1 1176.7,385.4 1178.2,383.6 1179.7,378.9 1181.2,373.4 1182.7,367.2 1184.2,360.5 1185.7,356.6 1187.2,354.4 1188.7,352.9 1190.2,351.6 1191.7,350.1 1193.2,348.1 1194.7,345.7 1196.2,343.2 1197.7,340.5 1199.2,337.5 1200.7,334.2 1202.2,329.3 1203.7,322.4 1205.2,315.8 1206.7,311.4 1208.2,308.1 1209.7,305.6 1211.2,304.1 1212.7,303.5 1214.2,303.5 1215.7,303.5 1217.2,303.1 1218.7,302.0 1220.2,300.5 1221.7,298.8 1223.2,296.6 1224.7,294.1 1226.2,290.6 1227.7,286.5 1229.2,282.6 1230.7,279.4 1232.2,277.2 1233.7,275.5 1235.2,274.1 1236.7,272.9 1238.2,271.5 1239.7,269.8 1241.2,267.5 1242.7,264.4 1244.2,260.7 1245.7,257.1 1247.2,254.0 1248.7,251.8 1250.2,249.9 1251.7,248.1 1253.2,246.5 1254.7,245.0 1256.2,243.7 1257.7,242.4 1259.2,241.1 1260.7,240.0 1262.2,238.9 1263.7,237.9 1265.2,237.1 1266.7,236.4 1268.2,235.7 1269.7,235.2 1271.2,234.9 1272.7,235.0 1274.2,235.3 1275.7,235.8 1277.2,236.2 1278.7,236.5 1280.2,236.5 1281.7,236.1 1283.2,235.2 1284.7,233.9 1286.2,232.4 1287.7,230.7 1289.2,229.0 1290.7,227.3 1292.2,225.9 1293.7,224.8 1295.2,224.1 1296.7,224.0 1298.2,224.3 1299.7,225.0 1301.2,225.9 1302.7,226.8 1304.2,227.5 1305.7,228.1 1307.2,228.2 1308.7,227.7 1310.2,226.5 1311.7,225.1 1313.2,224.2 1314.7,224.2 1316.2,224.8 1317.7,226.0 1319.2,227.4 1320.7,229.0 1322.2,230.4 1323.7,231.6 1325.2,232.2 1326.7,232.2 1328.2,231.3 1329.7,229.8 1331.2,228.1 1332.7,226.3 1334.2,224.9 1335.7,224.2 1337.2,224.3 1338.7,225.1 1340.2,226.5 1341.7,228.3 1343.2,230.1 1344.7,231.9 1346.2,233.3 1347.7,234.1 1349.2,234.2 1350.7,233.4 1352.2,231.8 1353.7,230.0 1355.2,228.2 1356.7,226.8 1358.2,226.1 1359.7,226.5 1361.2,228.0 1362.7,230.1 1364.2,232.2 1365.7,233.8 1367.2,234.3 1368.7,233.9 1370.2,233.1 1371.7,231.8 1373.2,230.4 1374.7,228.9 1376.2,227.5 1377.7,226.3 1379.2,225.4 1380.7,225.1 1382.2,225.4 1383.7,226.3 1385.2,227.7 1386.7,229.0 1388.2,229.9 1389.7,230.2 1391.2,229.9 1392.7,229.4 1394.2,228.8 1395.7,228.0 1397.2,227.3 1398.7,226.6 1400.2,226.0 1401.7,225.7 1403.2,225.8 1404.7,226.2 1406.2,226.9 1407.7,227.5 1409.2,228.0 1410.7,228.2 1412.2,227.8 1413.7,226.4 1415.2,224.5 1416.7,222.3 1418.2,220.0 1419.7,218.0 1421.2,216.5 1422.7,215.8 1424.2,216.2 1425.7,217.3 1427.2,218.9 1428.7,220.4 1430.2,221.7 1431.7,222.2 1433.2,221.7 1434.7,220.4 1436.2,218.8 1437.7,216.8 1439.2,214.8 1440.7,212.8 1442.2,211.0 1443.7,209.5 1445.2,208.6 1446.7,208.2 1448.2,208.2 1449.7,208.3 1451.2,208.3 1452.7,207.9 1454.2,206.8 1455.7,204.9 1457.2,202.5 1458.7,200.1 1460.2,198.2 1461.7,197.2 1463.2,197.1 1464.7,197.5 1466.2,198.3 1467.7,199.3 1469.2,200.3 1470.7,201.1 1472.2,201.6 1473.7,201.5 1475.2,200.6 1476.7,199.3 1478.2,197.5 1479.7,195.6 1481.2,193.8 1482.7,192.1 1484.2,190.9 1485.7,190.3 1487.2,190.5 1488.7,191.5 1490.2,192.9 1491.7,194.4 1493.2,195.9 1494.7,197.0 1496.2,197.4 1497.7,197.1 1499.2,196.5 1500.7,195.5 1502.2,194.5 1503.7,193.6 1505.2,193.0 1506.7,192.9 1508.2,193.4 1509.7,194.3 1511.2,195.5 1512.7,196.8 1514.2,198.2 1515.7,199.3 1517.2,200.2 1518.7,200.5 1520.2,200.1 1521.7,198.9 1523.2,197.2 1524.7,195.5 1526.2,193.8 1527.7,192.7 1529.2,192.3 1530.7,192.8 1532.2,194.0 1533.7,195.5 1535.2,197.1 1536.7,198.5 1538.2,199.3 1539.7,199.4 1541.2,198.8 1542.7,197.7 1544.2,196.3 1545.7,194.9 1547.2,193.8 1548.7,193.0 1550.2,193.0 1551.7,193.5 1553.2,194.5 1554.7,195.7 1556.2,196.9 1557.7,197.9 1559.2,198.5 1560.7,198.3 1562.2,197.5 1563.7,196.2 1565.2,194.6 1566.7,192.9 1568.2,191.3 1569.7,190.1 1571.2,189.3 1572.7,189.3 1574.2,190.3 1575.7,191.9 1577.2,193.8 1578.7,195.8 1580.2,197.4 1581.7,198.4 1583.2,198.4 1584.7,197.7 1586.2,196.4 1587.7,194.9 1589.2,193.4 1590.7,192.1 1592.2,191.4 1593.7,191.5 1595.2,192.7 1596.7,194.5 1598.2,196.6 1599.7,198.4 1601.2,199.5 1602.7,199.5 1604.2,198.1 1605.7,195.4 1607.2,192.0 1608.7,188.4 1610.2,185.0 1611.7,182.3 1613.2,181.0 1614.7,180.3 1616.2,179.8 1617.7,179.4 1619.2,178.9 1620.7,178.3 1622.2,177.5 1623.7,176.7 1625.2,175.8 1626.7,174.8 1628.2,173.8 1629.7,172.9 1631.2,172.0 1632.7,171.2 1634.2,170.6 1635.7,170.8 1637.2,171.8 1638.7,173.1 1640.2,174.8 1641.7,176.4 1643.2,177.8 1644.7,178.8 1646.2,179.0 1647.7,178.5 1649.2,177.5 1650.7,176.1 1652.2,174.5 1653.7,172.9 1655.2,171.5 1656.7,170.3 1658.2,169.7 1659.7,169.9 1661.2,171.0 1662.7,172.5 1664.2,174.1 1665.7,175.4 1667.2,176.1 1668.7,175.7 1670.2,174.0 1671.7,171.1 1673.2,167.9 1674.7,164.9 1676.2,162.7 1677.7,161.9 1679.2,161.5 1680.7,161.3 1682.2,161.2 1683.7,161.0 1685.2,160.8 1686.7,160.4 1688.2,159.9 1689.7,159.2 1691.2,158.5 1692.7,157.8 1694.2,157.2 1695.7,156.6 1697.2,156.3 1698.7,156.8 1700.2,157.9 1701.7,159.3 1703.2,160.9 1704.7,162.3 1706.2,163.2 1707.7,163.5 1709.2,162.8 1710.7,161.5 1712.2,160.1 1713.7,158.7 1715.2,157.3 1716.7,155.9 1718.2,154.5 1719.7,153.2 1721.2,151.9 1722.7,150.5 1724.2,149.2 1725.7,147.9 1727.2,146.6 1728.7,145.4 1730.2,144.3 1731.7,143.4 1733.2,143.1 1734.7,143.1 1736.2,143.4 1737.7,143.8 1739.2,144.3 1740.7,144.8 1742.2,145.5 1743.7,146.4 1745.2,147.3 1746.7,148.2 1748.2,149.0 1749.7,149.6 1751.2,150.1 1752.7,150.3 1754.2,150.2 1755.7,150.1 1757.2,149.9 1758.7,149.9 1760.2,150.0 1761.7,150.4 1763.2,151.2 1764.7,152.2 1766.2,153.3 1767.7,154.5 1769.2,155.5 1770.7,156.4 1772.2,157.0 1773.7,157.2 1775.2,156.9 1776.7,156.2 1778.2,155.2 1779.7,154.1 1781.2,153.0 1782.7,152.0 1784.2,151.2 1785.7,150.8 1787.2,150.8 1788.7,151.1 1790.2,151.5 1791.7,151.9 1793.2,152.2 1794.7,152.4 1796.2,152.3 1797.7,152.0 1799.2,151.4 1800.7,150.8 1802.2,150.2 1803.7,149.7 1805.2,149.5 1806.7,149.6 1808.2,149.8 1809.7,150.2 1811.2,150.7 1812.7,151.2 1814.2,151.7 1815.7,152.1 1817.2,152.3 1818.7,152.4 1820.2,152.1 1821.7,151.6 1823.2,151.1 1824.7,150.7 1826.2,150.5 1827.7,150.8 1829.2,151.5 1830.7,152.4 1832.2,153.4 1833.7,154.4 1835.2,155.2 1836.7,155.6 1838.2,155.5 1839.7,155.0 1841.2,154.3 1842.7,153.4 1844.2,152.5 1845.7,151.7 1847.2,151.1 1848.7,150.8 1850.2,150.9 1851.7,151.4 1853.2,151.9 1854.7,152.5 1856.2,152.7 1857.7,152.5 1859.2,151.9 1860.7,151.0 1862.2,150.0 1863.7,149.0 1865.2,148.1 1866.7,147.3 1868.2,146.6 1869.7,145.9 1871.2,145.2 1872.7,144.5 1874.2,143.9 1875.7,143.3 1877.2,142.8 1878.7,142.4 1880.2,142.1 1881.7,141.8 1883.2,141.6 1884.7,141.5 1886.2,141.5 1887.7,141.5 1889.2,141.6 1890.7,141.8 1892.2,142.1 1893.7,142.4 1895.2,142.8 1896.7,143.2 1898.2,143.6 1899.7,144.0 1901.2,144.4 1902.7,144.7 1904.2,144.9 1905.7,145.1 1907.2,145.3 1908.7,145.4 1910.2,145.6 1911.7,145.9 1913.2,146.2 1914.7,147.2 1916.2,148.6 1917.7,150.2 1919.2,151.7 1920.7,152.8 1922.2,153.2 1923.7,152.9 1925.2,152.0 1926.7,150.8 1928.2,149.5 1929.7,148.4 1931.2,147.7 1932.7,147.5 1934.2,147.4 1935.7,147.4 1937.2,147.4 1938.7,147.4 1940.2,147.4 1941.7,147.4 1943.2,147.3 1944.7,147.1 1946.2,146.8 1947.7,146.3 1949.2,145.8 1950.7,145.2 1952.2,144.7 1953.7,144.2 1955.2,143.7 1956.7,143.4 1958.2,143.1 1959.7,142.8 1961.2,142.5 1962.7,142.2 1964.2,142.0 1965.7,141.8 1967.2,141.6 1968.7,141.4 1970.2,141.3 1971.7,141.2"/>
<polyline fill="none" stroke="#f00" stroke-width="7.2" stroke-linejoin="round" stroke-linecap="round" points="305.3,576.4 306.8,576.7 308.3,577.0 309.8,577.3 311.3,577.6 312.8,577.9 314.3,578.2 315.8,578.6 317.3,578.9 318.8,579.3 320.3,579.7 321.8,580.1 323.3,580.5 324.8,581.0 326.3,581.4 327.8,581.9 329.3,582.4 330.8,583.0 332.3,583.8 333.8,584.7 335.3,585.6 336.8,586.4 338.3,586.8 339.8,586.9 341.3,587.0 342.8,586.9 344.3,586.9 345.8,586.8 347.3,586.7 348.8,586.7 350.3,586.7 351.8,586.8 353.3,586.9 354.8,587.0 356.3,587.2 357.8,587.3 359.3,587.4 360.8,587.5 362.3,587.7 363.8,587.8 365.3,588.0 366.8,588.2 368.3,588.4 369.8,588.6 371.3,588.8 372.8,589.1 374.3,589.6 375.8,590.1 377.3,590.7 378.8,591.2 380.3,591.6 381.8,591.9 383.3,592.1 384.8,592.1 386.3,592.1 387.8,592.1 389.3,592.1 390.8,592.2 392.3,592.4 393.8,592.9 395.3,593.6 396.8,594.4 398.3,595.2 399.8,595.7 401.3,595.9 402.8,595.8 404.3,595.5 405.8,595.1 407.3,594.6 408.8,594.2 410.3,593.8 411.8,593.4 413.3,593.3 414.8,593.2 416.3,593.1 417.8,593.1 419.3,593.0 420.8,592.9 422.3,592.7 423.8,592.4 425.3,591.9 426.8,591.3 428.3,590.6 429.8,589.9 431.3,589.2 432.8,588.6 434.3,588.0 435.8,587.5 437.3,586.9 438.8,586.4 440.3,585.9 441.8,585.4 443.3,585.0 444.8,584.6 446.3,584.4 447.8,584.3 449.3,584.3 450.8,584.5 452.3,584.7 453.8,585.0 455.3,585.3 456.8,585.7 458.3,586.1 459.8,586.4 461.3,586.9 462.8,587.3 464.3,587.8 465.8,588.2 467.3,588.7 468.8,589.3 470.3,589.8 471.8,590.4 473.3,591.0 474.8,591.7 476.3,592.3 477.8,592.9 479.3,593.9 480.8,595.1 482.3,596.3 483.8,597.3 485.3,597.9 486.8,597.9 488.3,597.6 489.8,597.1 491.3,596.4 492.8,595.7 494.3,594.9 495.8,594.2 497.3,593.7 498.8,593.3 500.3,592.9 501.8,592.5 503.3,592.1 504.8,591.8 506.3,591.4 507.8,591.1 509.3,590.7 510.8,590.4 512.3,590.1 513.8,589.9 515.3,589.6 516.8,589.4 518.3,589.2 519.8,589.0 521.3,588.9 522.8,588.7 524.3,588.6 525.8,588.4 527.3,588.3 528.8,588.2 530.3,588.1 531.8,588.0 533.3,587.9 534.8,587.8 536.3,587.7 537.8,587.5 539.3,587.4 540.8,587.3 542.3,587.2 543.8,587.1 545.3,587.1 546.8,587.0 548.3,587.0 549.8,587.1 551.3,587.2 552.8,587.3 554.3,587.5 555.8,587.8 557.3,588.1 558.8,588.5 560.3,589.0 561.8,589.5 563.3,590.0 564.8,590.5 566.3,591.0 567.8,591.6 569.3,592.1 570.8,592.5 572.3,593.0 573.8,593.4 575.3,593.7 576.8,594.1 578.3,594.5 579.8,594.8 581.3,595.2 582.8,595.6 584.3,596.0 585.8,596.6 587.3,597.6 588.8,598.6 590.3,599.6 591.8,600.3 593.3,600.6 594.8,600.5 596.3,600.1 597.8,599.5 599.3,599.0 600.8,598.5 602.3,598.3 603.8,598.5 605.3,598.8 606.8,599.2 608.3,599.7 609.8,600.1 611.3,600.6 612.8,600.9 614.3,601.0 615.8,601.0 617.3,600.8 618.8,600.5 620.3,600.1 621.8,599.7 623.3,599.4 624.8,599.1 626.3,599.1 627.8,599.2 629.3,599.6 630.8,600.0 632.3,600.4 633.8,600.6 635.3,600.5 636.8,600.0 638.3,599.1 639.8,598.0 641.3,596.7 642.8,595.5 644.3,594.5 645.8,593.9 647.3,593.5 648.8,593.3 650.3,593.1 651.8,592.9 653.3,592.7 654.8,592.5 656.3,592.3 657.8,592.0 659.3,591.5 660.8,591.0 662.3,590.5 663.8,589.8 665.3,589.2 666.8,588.6 668.3,588.0 669.8,587.5 671.3,587.0 672.8,586.7 674.3,586.5 675.8,586.5 677.3,586.5 678.8,586.8 680.3,587.1 681.8,587.5 683.3,588.0 684.8,588.8 686.3,589.7 687.8,590.7 689.3,591.5 690.8,592.1 692.3,592.4 693.8,592.6 695.3,592.9 696.8,593.1 698.3,593.3 699.8,593.5 701.3,593.7 702.8,594.0 704.3,594.4 705.8,594.7 707.3,595.1 708.8,595.5 710.3,595.9 711.8,596.2 713.3,596.6 714.8,597.0 716.3,597.4 717.8,597.7 719.3,598.1 720.8,598.5 722.3,598.9 723.8,599.3 725.3,599.6 726.8,600.0 728.3,600.4 729.8,600.8 731.3,601.2 732.8,601.5 734.3,601.7 735.8,601.6 737.3,601.4 738.8,601.2 740.3,600.9 741.8,600.5 743.3,600.0 744.8,599.4 746.3,598.7 747.8,598.1 749.3,597.6 750.8,597.2 752.3,597.0 753.8,596.8 755.3,596.8 756.8,596.9 758.3,597.2 759.8,597.6 761.3,598.3 762.8,599.1 764.3,599.8 765.8,600.7 767.3,601.5 768.8,602.4 770.3,603.3 771.8,604.1 773.3,605.1 774.8,606.2 776.3,607.3 777.8,608.3 779.3,609.3 780.8,610.2 782.3,610.9 783.8,611.3 785.3,611.3 786.8,611.1 788.3,610.8 789.8,610.3 791.3,610.0 792.8,609.7 794.3,609.6 795.8,609.8 797.3,610.1 798.8,610.5 800.3,610.9 801.8,611.2 803.3,611.4 804.8,611.4 806.3,610.9 807.8,610.1 809.3,609.2 810.8,608.1 812.3,607.0 813.8,605.9 815.3,605.0 816.8,604.4 818.3,604.1 819.8,604.1 821.3,604.4 822.8,604.7 824.3,605.2 825.8,605.7 827.3,606.3 828.8,606.9 830.3,607.7 831.8,608.5 833.3,609.4 834.8,610.4 836.3,611.4 837.8,612.5 839.3,613.5 840.8,614.5 842.3,615.4 843.8,616.1 845.3,616.7 846.8,617.2 848.3,617.7 849.8,618.1 851.3,618.4 852.8,618.7 854.3,619.0 855.8,619.3 857.3,619.5 858.8,619.7 860.3,619.8 861.8,620.0 863.3,620.1 864.8,620.1 866.3,620.1 867.8,620.0 869.3,619.7 870.8,619.3 872.3,618.8 873.8,618.2 875.3,617.7 876.8,617.2 878.3,616.8 879.8,616.4 881.3,616.2 882.8,616.3 884.3,616.7 885.8,617.2 887.3,617.6 888.8,617.8 890.3,617.5 891.8,617.0 893.3,616.2 894.8,615.3 896.3,614.4 897.8,613.6 899.3,612.9 900.8,612.5 902.3,612.3 903.8,612.3 905.3,612.2 906.8,612.3 908.3,612.4 909.8,612.5 911.3,612.7 912.8,612.9 914.3,613.2 915.8,613.5 917.3,613.9 918.8,614.4 920.3,614.8 921.8,615.4 923.3,616.2 924.8,617.0 926.3,617.9 927.8,618.8 929.3,619.7 930.8,620.5 932.3,621.2 933.8,621.8 935.3,622.1 936.8,622.1 938.3,622.0 939.8,621.8 941.3,621.7 942.8,621.8 944.3,622.2 945.8,623.1 947.3,624.3 948.8,625.6 950.3,626.8 951.8,627.8 953.3,628.1 954.8,627.9 956.3,627.2 957.8,626.3 959.3,625.3 960.8,624.1 962.3,622.9 963.8,621.6 965.3,620.5 966.8,619.5 968.3,618.8 969.8,618.1 971.3,617.4 972.8,616.7 974.3,616.0 975.8,615.3 977.3,614.7 978.8,614.0 980.3,613.5 981.8,612.9 983.3,612.5 984.8,612.0 986.3,611.7 987.8,611.4 989.3,611.2 990.8,611.1 992.3,611.1 993.8,611.2 995.3,611.5 996.8,611.8 998.3,612.2 999.8,612.6 1001.3,613.1 1002.8,613.7 1004.3,614.4 1005.8,615.0 1007.3,615.7 1008.8,616.5 1010.3,617.2 1011.8,618.1 1013.3,619.0 1014.8,620.0 1016.3,621.1 1017.8,622.4 1019.3,623.7 1020.8,625.0 1022.3,626.4 1023.8,627.8 1025.3,629.2 1026.8,630.7 1028.3,632.2 1029.8,633.7 1031.3,635.3 1032.8,636.9 1034.3,638.4 1035.8,640.0 1037.3,641.5 1038.8,643.0 1040.3,644.4 1041.8,645.6 1043.3,646.7 1044.8,647.6 1046.3,648.4 1047.8,649.0 1049.3,649.6 1050.8,650.0 1052.3,650.4 1053.8,650.7 1055.3,651.0 1056.8,651.1 1058.3,651.2 1059.8,651.2 1061.3,651.3 1062.8,651.4 1064.3,651.6 1065.8,651.8 1067.3,652.2 1068.8,652.7 1070.3,653.3 1071.8,653.9 1073.3,654.7 1074.8,655.4 1076.3,656.1 1077.8,656.8 1079.3,657.4 1080.8,657.9 1082.3,657.9 1083.8,657.2 1085.3,656.3 1086.8,655.4 1088.3,655.0 1089.8,655.2 1091.3,656.3 1092.8,657.8 1094.3,659.6 1095.8,661.5 1097.3,663.4 1098.8,665.0 1100.3,666.4 1101.8,667.7 1103.3,669.0 1104.8,670.4 1106.3,671.9 1107.8,673.5 1109.3,675.2 1110.8,677.2 1112.3,679.5 1113.8,682.1 1115.3,685.0 1116.8,688.0 1118.3,691.2 1119.8,694.7 1121.3,698.2 1122.8,701.9 1124.3,705.7 1125.8,709.4 1127.3,712.9 1128.8,716.2 1130.3,719.3 1131.8,722.1 1133.3,724.5 1134.8,726.0 1136.3,726.3 1137.8,725.0 1139.3,722.3 1140.8,718.4 1142.3,713.9 1143.8,709.2 1145.3,704.8 1146.8,700.9 1148.3,697.9 1149.8,695.9 1151.3,694.9 1152.8,694.9 1154.3,695.7 1155.8,697.4 1157.3,699.8 1158.8,702.9 1160.3,706.7 1161.8,710.8 1163.3,715.1 1164.8,719.0 1166.3,722.3 1167.8,724.5 1169.3,725.4 1170.8,725.0 1172.3,723.5 1173.8,721.4 1175.3,719.0 1176.8,716.7 1178.3,714.8 1179.8,713.3 1181.3,712.2 1182.8,711.6 1184.3,711.6 1185.8,712.0 1187.3,712.7 1188.8,713.3 1190.3,713.4 1191.8,712.0 1193.3,709.4 1194.8,705.7 1196.3,701.6 1197.8,697.4 1199.3,693.5 1200.8,689.8 1202.3,686.3 1203.8,682.7 1205.3,679.2 1206.8,675.7 1208.3,672.2 1209.8,668.6 1211.3,665.0 1212.8,661.1 1214.3,657.1 1215.8,653.1 1217.3,649.2 1218.8,645.6 1220.3,642.4 1221.8,639.7 1223.3,637.5 1224.8,635.9 1226.3,634.8 1227.8,634.1 1229.3,633.7 1230.8,633.5 1232.3,633.4 1233.8,633.3 1235.3,633.3 1236.8,633.4 1238.3,633.5 1239.8,633.7 1241.3,634.1 1242.8,634.5 1244.3,635.0 1245.8,635.6 1247.3,636.2 1248.8,636.8 1250.3,637.4 1251.8,638.0 1253.3,638.6 1254.8,639.1 1256.3,639.7 1257.8,640.3 1259.3,640.9 1260.8,641.4 1262.3,642.0 1263.8,642.5 1265.3,643.0 1266.8,643.5 1268.3,644.0 1269.8,644.5 1271.3,645.0 1272.8,645.2 1274.3,645.0 1275.8,644.6 1277.3,643.9 1278.8,643.1 1280.3,642.2 1281.8,641.2 1283.3,640.0 1284.8,638.5 1286.3,637.0 1287.8,635.5 1289.3,634.1 1290.8,632.9 1292.3,632.1 1293.8,631.5 1295.3,631.0 1296.8,630.6 1298.3,630.4 1299.8,630.2 1301.3,630.1 1302.8,630.2 1304.3,630.5 1305.8,630.8 1307.3,631.2 1308.8,631.5 1310.3,631.6 1311.8,631.6 1313.3,631.3 1314.8,630.8 1316.3,630.2 1317.8,629.6 1319.3,628.8 1320.8,628.1 1322.3,627.5 1323.8,627.0 1325.3,626.6 1326.8,626.5 1328.3,626.8 1329.8,627.3 1331.3,627.8 1332.8,628.2 1334.3,628.4 1335.8,628.2 1337.3,627.7 1338.8,627.2 1340.3,626.5 1341.8,625.9 1343.3,625.4 1344.8,625.1 1346.3,625.2 1347.8,625.8 1349.3,626.9 1350.8,628.1 1352.3,629.4 1353.8,630.4 1355.3,630.9 1356.8,630.7 1358.3,630.0 1359.8,629.1 1361.3,628.0 1362.8,626.8 1364.3,625.6 1365.8,624.5 1367.3,623.6 1368.8,622.8 1370.3,622.1 1371.8,621.5 1373.3,620.8 1374.8,620.1 1376.3,619.5 1377.8,618.9 1379.3,618.3 1380.8,617.7 1382.3,617.1 1383.8,616.6 1385.3,616.1 1386.8,615.6 1388.3,615.1 1389.8,614.9 1391.3,614.8 1392.8,614.9 1394.3,614.9 1395.8,615.0 1397.3,614.9 1398.8,614.8 1400.3,614.5 1401.8,613.8 1403.3,612.6 1404.8,611.1 1406.3,609.6 1407.8,608.1 1409.3,607.1 1410.8,606.5 1412.3,606.0 1413.8,605.6 1415.3,605.2 1416.8,604.9 1418.3,604.7 1419.8,604.5 1421.3,604.4 1422.8,604.3 1424.3,604.3 1425.8,604.4 1427.3,604.6 1428.8,604.8 1430.3,605.1 1431.8,605.5 1433.3,606.0 1434.8,606.5 1436.3,607.0 1437.8,607.5 1439.3,608.1 1440.8,608.6 1442.3,609.1 1443.8,609.6 1445.3,610.0 1446.8,610.3 1448.3,610.5 1449.8,610.7 1451.3,610.7 1452.8,610.7 1454.3,610.6 1455.8,610.5 1457.3,610.5 1458.8,610.4 1460.3,610.5 1461.8,610.6 1463.3,610.9 1464.8,611.3 1466.3,611.7 1467.8,612.1 1469.3,612.6 1470.8,613.0 1472.3,613.5 1473.8,614.0 1475.3,614.5 1476.8,615.2 1478.3,615.9 1479.8,616.6 1481.3,617.2 1482.8,617.7 1484.3,617.7 1485.8,617.1 1487.3,615.9 1488.8,614.4 1490.3,612.9 1491.8,611.6 1493.3,610.6 1494.8,610.0 1496.3,609.4 1497.8,608.9 1499.3,608.3 1500.8,607.8 1502.3,607.2 1503.8,606.7 1505.3,606.2 1506.8,605.7 1508.3,605.3 1509.8,604.8 1511.3,604.4 1512.8,604.0 1514.3,603.6 1515.8,603.3 1517.3,603.0 1518.8,602.7 1520.3,602.4 1521.8,602.2 1523.3,602.0 1524.8,601.9 1526.3,601.8 1527.8,601.9 1529.3,602.1 1530.8,602.3 1532.3,602.6 1533.8,602.9 1535.3,603.2 1536.8,603.4 1538.3,603.7 1539.8,603.8 1541.3,603.9 1542.8,603.8 1544.3,603.7 1545.8,603.3 1547.3,602.8 1548.8,602.2 1550.3,601.4 1551.8,600.6 1553.3,599.8 1554.8,598.9 1556.3,598.1 1557.8,597.3 1559.3,596.6 1560.8,595.9 1562.3,595.4 1563.8,595.0 1565.3,594.8 1566.8,594.8 1568.3,594.9 1569.8,595.2 1571.3,595.5 1572.8,595.9 1574.3,596.4 1575.8,596.9 1577.3,597.5 1578.8,598.1 1580.3,598.6 1581.8,599.1 1583.3,599.6 1584.8,600.0 1586.3,600.3 1587.8,600.5 1589.3,600.6 1590.8,600.6 1592.3,600.5 1593.8,600.3 1595.3,600.2 1596.8,600.0 1598.3,599.9 1599.8,599.7 1601.3,599.6 1602.8,599.4 1604.3,599.3 1605.8,599.1 1607.3,599.0 1608.8,598.9 1610.3,598.8 1611.8,598.7 1613.3,598.7 1614.8,598.6 1616.3,598.6 1617.8,598.5 1619.3,598.5 1620.8,598.5 1622.3,598.7 1623.8,599.1 1625.3,599.6 1626.8,600.1 1628.3,600.6 1629.8,601.1 1631.3,601.3 1632.8,601.3 1634.3,601.0 1635.8,600.4 1637.3,599.6 1638.8,598.8 1640.3,598.2 1641.8,597.7 1643.3,597.6 1644.8,597.8 1646.3,598.1 1647.8,598.7 1649.3,599.3 1650.8,599.9 1652.3,600.5 1653.8,601.0 1655.3,601.3 1656.8,601.4 1658.3,601.1 1659.8,600.8 1661.3,600.3 1662.8,599.8 1664.3,599.5 1665.8,599.5 1667.3,599.6 1668.8,599.9 1670.3,600.3 1671.8,600.7 1673.3,601.0 1674.8,601.4 1676.3,601.7 1677.8,601.8 1679.3,601.9 1680.8,602.0 1682.3,602.1 1683.8,602.2 1685.3,602.3 1686.8,602.3 1688.3,602.3 1689.8,602.2 1691.3,602.1 1692.8,601.9 1694.3,601.7 1695.8,601.4 1697.3,601.0 1698.8,600.6 1700.3,600.0 1701.8,599.3 1703.3,598.6 1704.8,597.9 1706.3,597.1 1707.8,596.3 1709.3,595.6 1710.8,595.0 1712.3,594.4 1713.8,593.8 1715.3,593.3 1716.8,592.7 1718.3,592.2 1719.8,591.7 1721.3,591.2 1722.8,590.7 1724.3,590.2 1725.8,589.8 1727.3,589.3 1728.8,588.9 1730.3,588.6 1731.8,588.2 1733.3,587.9 1734.8,587.6 1736.3,587.4 1737.8,587.3 1739.3,587.2 1740.8,587.1 1742.3,587.1 1743.8,587.1 1745.3,587.2 1746.8,587.3 1748.3,587.4 1749.8,587.5 1751.3,587.7 1752.8,587.9 1754.3,588.3 1755.8,588.7 1757.3,589.1 1758.8,589.5 1760.3,589.9 1761.8,590.2 1763.3,590.4 1764.8,590.5 1766.3,590.5 1767.8,590.3 1769.3,590.1 1770.8,589.8 1772.3,589.5 1773.8,589.4 1775.3,589.3 1776.8,589.4 1778.3,589.4 1779.8,589.6 1781.3,589.7 1782.8,589.9 1784.3,590.1 1785.8,590.3 1787.3,590.5 1788.8,590.8 1790.3,591.0 1791.8,591.3 1793.3,591.9 1794.8,592.7 1796.3,593.8 1797.8,594.8 1799.3,595.9 1800.8,596.8 1802.3,597.4 1803.8,597.6 1805.3,597.4 1806.8,596.9 1808.3,596.2 1809.8,595.4 1811.3,594.5 1812.8,593.6 1814.3,592.6 1815.8,591.8 1817.3,591.1 1818.8,590.6 1820.3,590.0 1821.8,589.5 1823.3,589.0 1824.8,588.5 1826.3,588.0 1827.8,587.5 1829.3,587.1 1830.8,586.6 1832.3,586.2 1833.8,585.7 1835.3,585.3 1836.8,585.0 1838.3,584.7 1839.8,584.4 1841.3,584.3 1842.8,584.2 1844.3,584.3 1845.8,584.5 1847.3,584.9 1848.8,585.3 1850.3,585.7 1851.8,586.2 1853.3,586.8 1854.8,587.3 1856.3,587.8 1857.8,588.4 1859.3,589.0 1860.8,589.6 1862.3,590.3 1863.8,590.9 1865.3,591.5 1866.8,592.1 1868.3,592.7 1869.8,593.3 1871.3,593.8 1872.8,594.2 1874.3,594.6 1875.8,595.0 1877.3,595.4 1878.8,595.6 1880.3,595.8 1881.8,596.0 1883.3,596.0 1884.8,596.0 1886.3,595.9 1887.8,595.7 1889.3,595.4 1890.8,595.0 1892.3,594.6 1893.8,594.1 1895.3,593.7 1896.8,593.2 1898.3,592.7 1899.8,592.3 1901.3,591.9 1902.8,591.6 1904.3,591.2 1905.8,590.9 1907.3,590.6 1908.8,590.3 1910.3,589.9 1911.8,589.6 1913.3,589.3 1914.8,589.0 1916.3,588.8 1917.8,588.5 1919.3,588.2 1920.8,588.0 1922.3,587.8 1923.8,587.6 1925.3,587.5 1926.8,587.3 1928.3,587.2 1929.8,587.1 1931.3,587.0 1932.8,586.9 1934.3,586.7 1935.8,586.6 1937.3,586.5 1938.8,586.5 1940.3,586.5 1941.8,586.5 1943.3,586.6 1944.8,586.6 1946.3,586.7 1947.8,586.7 1949.3,586.8 1950.8,586.8 1952.3,586.8 1953.8,586.7 1955.3,586.6 1956.8,586.3 1958.3,585.9 1959.8,585.4 1961.3,584.7 1962.8,583.9 1964.3,583.1 1965.8,582.1 1967.3,581.1 1968.8,580.0 1969.1,579.8"/>
<polyline fill="none" stroke="#f00" stroke-width="7.2" stroke-linejoin="round" stroke-linecap="round" points="307.5,576.4 309.0,576.7 310.5,577.0 312.0,577.3 313.5,577.6 315.0,577.9 316.5,578.2 318.0,578.6 319.5,578.9 321.0,579.3 322.5,579.7 324.0,580.1 325.5,580.5 327.0,581.0 328.5,581.4 330.0,581.9 331.5,582.4 333.0,583.0 334.5,583.8 336.0,584.7 337.5,585.6 339.0,586.4 340.5,586.8 342.0,586.9 343.5,587.0 345.0,586.9 346.5,586.9 348.0,586.8 349.5,586.7 351.0,586.7 352.5,586.7 354.0,586.8 355.5,586.9 357.0,587.0 358.5,587.2 360.0,587.3 361.5,587.4 363.0,587.5 364.5,587.7 366.0,587.8 367.5,588.0 369.0,588.2 370.5,588.4 372.0,588.6 373.5,588.8 375.0,589.1 376.5,589.6 378.0,590.1 379.5,590.7 381.0,591.2 382.5,591.6 384.0,591.9 385.5,592.1 387.0,592.1 388.5,592.1 390.0,592.1 391.5,592.1 393.0,592.2 394.5,592.4 396.0,592.9 397.5,593.6 399.0,594.4 400.5,595.2 402.0,595.7 403.5,595.9 405.0,595.8 406.5,595.5 408.0,595.1 409.5,594.6 411.0,594.2 412.5,593.8 414.0,593.4 415.5,593.3 417.0,593.2 418.5,593.1 420.0,593.1 421.5,593.0 423.0,592.9 424.5,592.7 426.0,592.4 427.5,591.9 429.0,591.3 430.5,590.6 432.0,589.9 433.5,589.2 435.0,588.6 436.5,588.0 438.0,587.5 439.5,586.9 441.0,586.4 442.5,585.9 444.0,585.4 445.5,585.0 447.0,584.6 448.5,584.4 450.0,584.3 451.5,584.3 453.0,584.5 454.5,584.7 456.0,585.0 457.5,585.3 459.0,585.7 460.5,586.1 462.0,586.4 463.5,586.9 465.0,587.3 466.5,587.8 468.0,588.2 469.5,588.7 471.0,589.3 472.5,589.8 474.0,590.4 475.5,591.0 477.0,591.7 478.5,592.3 480.0,592.9 481.5,593.9 483.0,595.1 484.5,596.3 486.0,597.3 487.5,597.9 489.0,597.9 490.5,597.6 492.0,597.1 493.5,596.4 495.0,595.7 496.5,594.9 498.0,594.2 499.5,593.7 501.0,593.3 502.5,592.9 504.0,592.5 505.5,592.1 507.0,591.8 508.5,591.4 510.0,591.1 511.5,590.7 513.0,590.4 514.5,590.1 516.0,589.9 517.5,589.6 519.0,589.4 520.5,589.2 522.0,589.0 523.5,588.9 525.0,588.7 526.5,588.6 528.0,588.4 529.5,588.3 531.0,588.2 532.5,588.1 534.0,588.0 535.5,587.9 537.0,587.8 538.5,587.7 540.0,587.5 541.5,587.4 543.0,587.3 544.5,587.2 546.0,587.1 547.5,587.1 549.0,587.0 550.5,587.0 552.0,587.1 553.5,587.2 555.0,587.3 556.5,587.5 558.0,587.8 559.5,588.1 561.0,588.5 562.5,589.0 564.0,589.5 565.5,590.0 567.0,590.5 568.5,591.0 570.0,591.6 571.5,592.1 573.0,592.5 574.5,593.0 576.0,593.4 577.5,593.7 579.0,594.1 580.5,594.5 582.0,594.8 583.5,595.2 585.0,595.6 586.5,596.0 588.0,596.6 589.5,597.6 591.0,598.6 592.5,599.6 594.0,600.3 595.5,600.6 597.0,600.5 598.5,600.1 600.0,599.5 601.5,599.0 603.0,598.5 604.5,598.3 606.0,598.5 607.5,598.8 609.0,599.2 610.5,599.7 612.0,600.1 613.5,600.6 615.0,600.9 616.5,601.0 618.0,601.0 619.5,600.8 621.0,600.5 622.5,600.1 624.0,599.7 625.5,599.4 627.0,599.1 628.5,599.1 630.0,599.2 631.5,599.6 633.0,600.0 634.5,600.4 636.0,600.6 637.5,600.5 639.0,600.0 640.5,599.1 642.0,598.0 643.5,596.7 645.0,595.5 646.5,594.5 648.0,593.9 649.5,593.5 651.0,593.3 652.5,593.1 654.0,592.9 655.5,592.7 657.0,592.5 658.5,592.3 660.0,592.0 661.5,591.5 663.0,591.0 664.5,590.5 666.0,589.8 667.5,589.2 669.0,588.6 670.5,588.0 672.0,587.5 673.5,587.0 675.0,586.7 676.5,586.5 678.0,586.5 679.5,586.5 681.0,586.8 682.5,587.1 684.0,587.5 685.5,588.0 687.0,588.8 688.5,589.7 690.0,590.7 691.5,591.5 693.0,592.1 694.5,592.4 696.0,592.6 697.5,592.9 699.0,593.1 700.5,593.3 702.0,593.5 703.5,593.7 705.0,594.0 706.5,594.4 708.0,594.7 709.5,595.1 711.0,595.5 712.5,595.9 714.0,596.2 715.5,596.6 717.0,597.0 718.5,597.4 720.0,597.7 721.5,598.1 723.0,598.5 724.5,598.9 726.0,599.3 727.5,599.6 729.0,600.0 730.5,600.4 732.0,600.8 733.5,601.2 735.0,601.5 736.5,601.7 738.0,601.6 739.5,601.4 741.0,601.2 742.5,600.9 744.0,600.5 745.5,600.0 747.0,599.4 748.5,598.7 750.0,598.1 751.5,597.6 753.0,597.2 754.5,597.0 756.0,596.8 757.5,596.8 759.0,596.9 760.5,597.2 762.0,597.6 763.5,598.3 765.0,599.1 766.5,599.8 768.0,600.7 769.5,601.5 771.0,602.4 772.5,603.3 774.0,604.1 775.5,605.1 777.0,606.2 778.5,607.3 780.0,608.3 781.5,609.3 783.0,610.2 784.5,610.9 786.0,611.3 787.5,611.3 789.0,611.1 790.5,610.8 792.0,610.3 793.5,610.0 795.0,609.7 796.5,609.6 798.0,609.8 799.5,610.1 801.0,610.5 802.5,610.9 804.0,611.2 805.5,611.4 807.0,611.4 808.5,610.9 810.0,610.1 811.5,609.2 813.0,608.1 814.5,607.0 816.0,605.9 817.5,605.0 819.0,604.4 820.5,604.1 822.0,604.1 823.5,604.4 825.0,604.7 826.5,605.2 828.0,605.7 829.5,606.3 831.0,606.9 832.5,607.7 834.0,608.5 835.5,609.4 837.0,610.4 838.5,611.4 840.0,612.5 841.5,613.5 843.0,614.5 844.5,615.4 846.0,616.1 847.5,616.7 849.0,617.2 850.5,617.7 852.0,618.1 853.5,618.4 855.0,618.7 856.5,619.0 858.0,619.3 859.5,619.5 861.0,619.7 862.5,619.8 864.0,620.0 865.5,620.1 867.0,620.1 868.5,620.1 870.0,620.0 871.5,619.7 873.0,619.3 874.5,618.8 876.0,618.2 877.5,617.7 879.0,617.2 880.5,616.8 882.0,616.4 883.5,616.2 885.0,616.3 886.5,616.7 888.0,617.2 889.5,617.6 891.0,617.8 892.5,617.5 894.0,617.0 895.5,616.2 897.0,615.3 898.5,614.4 900.0,613.6 901.5,612.9 903.0,612.5 904.5,612.3 906.0,612.3 907.5,612.2 909.0,612.3 910.5,612.4 912.0,612.5 913.5,612.7 915.0,612.9 916.5,613.2 918.0,613.5 919.5,613.9 921.0,614.4 922.5,614.8 924.0,615.4 925.5,616.2 927.0,617.0 928.5,617.9 930.0,618.8 931.5,619.7 933.0,620.5 934.5,621.2 936.0,621.8 937.5,622.1 939.0,622.1 940.5,622.0 942.0,621.8 943.5,621.7 945.0,621.8 946.5,622.2 948.0,623.1 949.5,624.3 951.0,625.6 952.5,626.8 954.0,627.8 955.5,628.1 957.0,627.9 958.5,627.2 960.0,626.3 961.5,625.3 963.0,624.1 964.5,622.9 966.0,621.6 967.5,620.5 969.0,619.5 970.5,618.8 972.0,618.1 973.5,617.4 975.0,616.7 976.5,616.0 978.0,615.3 979.5,614.7 981.0,614.0 982.5,613.5 984.0,612.9 985.5,612.5 987.0,612.0 988.5,611.7 990.0,611.4 991.5,611.2 993.0,611.1 994.5,611.1 996.0,611.2 997.5,611.5 999.0,611.8 1000.5,612.2 1002.0,612.6 1003.5,613.1 1005.0,613.7 1006.5,614.4 1008.0,615.0 1009.5,615.7 1011.0,616.5 1012.5,617.2 1014.0,618.1 1015.5,619.0 1017.0,620.0 1018.5,621.1 1020.0,622.4 1021.5,623.7 1023.0,625.0 1024.5,626.4 1026.0,627.8 1027.5,629.2 1029.0,630.7 1030.5,632.2 1032.0,633.7 1033.5,635.3 1035.0,636.9 1036.5,638.4 1038.0,640.0 1039.5,641.5 1041.0,643.0 1042.5,644.4 1044.0,645.6 1045.5,646.7 1047.0,647.6 1048.5,648.4 1050.0,649.0 1051.5,649.6 1053.0,650.0 1054.5,650.4 1056.0,650.7 1057.5,651.0 1059.0,651.1 1060.5,651.2 1062.0,651.2 1063.5,651.3 1065.0,651.4 1066.5,651.6 1068.0,651.8 1069.5,652.2 1071.0,652.7 1072.5,653.3 1074.0,653.9 1075.5,654.7 1077.0,655.4 1078.5,656.1 1080.0,656.8 1081.5,657.4 1083.0,657.9 1084.5,657.9 1086.0,657.2 1087.5,656.3 1089.0,655.4 1090.5,655.0 1092.0,655.2 1093.5,656.3 1095.0,657.8 1096.5,659.6 1098.0,661.5 1099.5,663.4 1101.0,665.0 1102.5,666.4 1104.0,667.7 1105.5,669.0 1107.0,670.4 1108.5,671.9 1110.0,673.5 1111.5,675.2 1113.0,677.2 1114.5,679.5 1116.0,682.1 1117.5,685.0 1119.0,688.0 1120.5,691.2 1122.0,694.7 1123.5,698.2 1125.0,701.9 1126.5,705.7 1128.0,709.4 1129.5,712.9 1131.0,716.2 1132.5,719.3 1134.0,722.1 1135.5,724.5 1137.0,726.0 1138.5,726.3 1140.0,725.0 1141.5,722.3 1143.0,718.4 1144.5,713.9 1146.0,709.2 1147.5,704.8 1149.0,700.9 1150.5,697.9 1152.0,695.9 1153.5,694.9 1155.0,694.9 1156.5,695.7 1158.0,697.4 1159.5,699.8 1161.0,702.9 1162.5,706.7 1164.0,710.8 1165.5,715.1 1167.0,719.0 1168.5,722.3 1170.0,724.5 1171.5,725.4 1173.0,725.0 1174.5,723.5 1176.0,721.4 1177.5,719.0 1179.0,716.7 1180.5,714.8 1182.0,713.3 1183.5,712.2 1185.0,711.6 1186.5,711.6 1188.0,712.0 1189.5,712.7 1191.0,713.3 1192.5,713.4 1194.0,712.0 1195.5,709.4 1197.0,705.7 1198.5,701.6 1200.0,697.4 1201.5,693.5 1203.0,689.8 1204.5,686.3 1206.0,682.7 1207.5,679.2 1209.0,675.7 1210.5,672.2 1212.0,668.6 1213.5,665.0 1215.0,661.1 1216.5,657.1 1218.0,653.1 1219.5,649.2 1221.0,645.6 1222.5,642.4 1224.0,639.7 1225.5,637.5 1227.0,635.9 1228.5,634.8 1230.0,634.1 1231.5,633.7 1233.0,633.5 1234.5,633.4 1236.0,633.3 1237.5,633.3 1239.0,633.4 1240.5,633.5 1242.0,633.7 1243.5,634.1 1245.0,634.5 1246.5,635.0 1248.0,635.6 1249.5,636.2 1251.0,636.8 1252.5,637.4 1254.0,638.0 1255.5,638.6 1257.0,639.1 1258.5,639.7 1260.0,640.3 1261.5,640.9 1263.0,641.4 1264.5,642.0 1266.0,642.5 1267.5,643.0 1269.0,643.5 1270.5,644.0 1272.0,644.5 1273.5,645.0 1275.0,645.2 1276.5,645.0 1278.0,644.6 1279.5,643.9 1281.0,643.1 1282.5,642.2 1284.0,641.2 1285.5,640.0 1287.0,638.5 1288.5,637.0 1290.0,635.5 1291.5,634.1 1293.0,632.9 1294.5,632.1 1296.0,631.5 1297.5,631.0 1299.0,630.6 1300.5,630.4 1302.0,630.2 1303.5,630.1 1305.0,630.2 1306.5,630.5 1308.0,630.8 1309.5,631.2 1311.0,631.5 1312.5,631.6 1314.0,631.6 1315.5,631.3 1317.0,630.8 1318.5,630.2 1320.0,629.6 1321.5,628.8 1323.0,628.1 1324.5,627.5 1326.0,627.0 1327.5,626.6 1329.0,626.5 1330.5,626.8 1332.0,627.3 1333.5,627.8 1335.0,628.2 1336.5,628.4 1338.0,628.2 1339.5,627.7 1341.0,627.2 1342.5,626.5 1344.0,625.9 1345.5,625.4 1347.0,625.1 1348.5,625.2 1350.0,625.8 1351.5,626.9 1353.0,628.1 1354.5,629.4 1356.0,630.4 1357.5,630.9 1359.0,630.7 1360.5,630.0 1362.0,629.1 1363.5,628.0 1365.0,626.8 1366.5,625.6 1368.0,624.5 1369.5,623.6 1371.0,622.8 1372.5,622.1 1374.0,621.5 1375.5,620.8 1377.0,620.1 1378.5,619.5 1380.0,618.9 1381.5,618.3 1383.0,617.7 1384.5,617.1 1386.0,616.6 1387.5,616.1 1389.0,615.6 1390.5,615.1 1392.0,614.9 1393.5,614.8 1395.0,614.9 1396.5,614.9 1398.0,615.0 1399.5,614.9 1401.0,614.8 1402.5,614.5 1404.0,613.8 1405.5,612.6 1407.0,611.1 1408.5,609.6 1410.0,608.1 1411.5,607.1 1413.0,606.5 1414.5,606.0 1416.0,605.6 1417.5,605.2 1419.0,604.9 1420.5,604.7 1422.0,604.5 1423.5,604.4 1425.0,604.3 1426.5,604.3 1428.0,604.4 1429.5,604.6 1431.0,604.8 1432.5,605.1 1434.0,605.5 1435.5,606.0 1437.0,606.5 1438.5,607.0 1440.0,607.5 1441.5,608.1 1443.0,608.6 1444.5,609.1 1446.0,609.6 1447.5,610.0 1449.0,610.3 1450.5,610.5 1452.0,610.7 1453.5,610.7 1455.0,610.7 1456.5,610.6 1458.0,610.5 1459.5,610.5 1461.0,610.4 1462.5,610.5 1464.0,610.6 1465.5,610.9 1467.0,611.3 1468.5,611.7 1470.0,612.1 1471.5,612.6 1473.0,613.0 1474.5,613.5 1476.0,614.0 1477.5,614.5 1479.0,615.2 1480.5,615.9 1482.0,616.6 1483.5,617.2 1485.0,617.7 1486.5,617.7 1488.0,617.1 1489.5,615.9 1491.0,614.4 1492.5,612.9 1494.0,611.6 1495.5,610.6 1497.0,610.0 1498.5,609.4 1500.0,608.9 1501.5,608.3 1503.0,607.8 1504.5,607.2 1506.0,606.7 1507.5,606.2 1509.0,605.7 1510.5,605.3 1512.0,604.8 1513.5,604.4 1515.0,604.0 1516.5,603.6 1518.0,603.3 1519.5,603.0 1521.0,602.7 1522.5,602.4 1524.0,602.2 1525.5,602.0 1527.0,601.9 1528.5,601.8 1530.0,601.9 1531.5,602.1 1533.0,602.3 1534.5,602.6 1536.0,602.9 1537.5,603.2 1539.0,603.4 1540.5,603.7 1542.0,603.8 1543.5,603.9 1545.0,603.8 1546.5,603.7 1548.0,603.3 1549.5,602.8 1551.0,602.2 1552.5,601.4 1554.0,600.6 1555.5,599.8 1557.0,598.9 1558.5,598.1 1560.0,597.3 1561.5,596.6 1563.0,595.9 1564.5,595.4 1566.0,595.0 1567.5,594.8 1569.0,594.8 1570.5,594.9 1572.0,595.2 1573.5,595.5 1575.0,595.9 1576.5,596.4 1578.0,596.9 1579.5,597.5 1581.0,598.1 1582.5,598.6 1584.0,599.1 1585.5,599.6 1587.0,600.0 1588.5,600.3 1590.0,600.5 1591.5,600.6 1593.0,600.6 1594.5,600.5 1596.0,600.3 1597.5,600.2 1599.0,600.0 1600.5,599.9 1602.0,599.7 1603.5,599.6 1605.0,599.4 1606.5,599.3 1608.0,599.1 1609.5,599.0 1611.0,598.9 1612.5,598.8 1614.0,598.7 1615.5,598.7 1617.0,598.6 1618.5,598.6 1620.0,598.5 1621.5,598.5 1623.0,598.5 1624.5,598.7 1626.0,599.1 1627.5,599.6 1629.0,600.1 1630.5,600.6 1632.0,601.1 1633.5,601.3 1635.0,601.3 1636.5,601.0 1638.0,600.4 1639.5,599.6 1641.0,598.8 1642.5,598.2 1644.0,597.7 1645.5,597.6 1647.0,597.8 1648.5,598.1 1650.0,598.7 1651.5,599.3 1653.0,599.9 1654.5,600.5 1656.0,601.0 1657.5,601.3 1659.0,601.4 1660.5,601.1 1662.0,600.8 1663.5,600.3 1665.0,599.8 1666.5,599.5 1668.0,599.5 1669.5,599.6 1671.0,599.9 1672.5,600.3 1674.0,600.7 1675.5,601.0 1677.0,601.4 1678.5,601.7 1680.0,601.8 1681.5,601.9 1683.0,602.0 1684.5,602.1 1686.0,602.2 1687.5,602.3 1689.0,602.3 1690.5,602.3 1692.0,602.2 1693.5,602.1 1695.0,601.9 1696.5,601.7 1698.0,601.4 1699.5,601.0 1701.0,600.6 1702.5,600.0 1704.0,599.3 1705.5,598.6 1707.0,597.9 1708.5,597.1 1710.0,596.3 1711.5,595.6 1713.0,595.0 1714.5,594.4 1716.0,593.8 1717.5,593.3 1719.0,592.7 1720.5,592.2 1722.0,591.7 1723.5,591.2 1725.0,590.7 1726.5,590.2 1728.0,589.8 1729.5,589.3 1731.0,588.9 1732.5,588.6 1734.0,588.2 1735.5,587.9 1737.0,587.6 1738.5,587.4 1740.0,587.3 1741.5,587.2 1743.0,587.1 1744.5,587.1 1746.0,587.1 1747.5,587.2 1749.0,587.3 1750.5,587.4 1752.0,587.5 1753.5,587.7 1755.0,587.9 1756.5,588.3 1758.0,588.7 1759.5,589.1 1761.0,589.5 1762.5,589.9 1764.0,590.2 1765.5,590.4 1767.0,590.5 1768.5,590.5 1770.0,590.3 1771.5,590.1 1773.0,589.8 1774.5,589.5 1776.0,589.4 1777.5,589.3 1779.0,589.4 1780.5,589.4 1782.0,589.6 1783.5,589.7 1785.0,589.9 1786.5,590.1 1788.0,590.3 1789.5,590.5 1791.0,590.8 1792.5,591.0 1794.0,591.3 1795.5,591.9 1797.0,592.7 1798.5,593.8 1800.0,594.8 1801.5,595.9 1803.0,596.8 1804.5,597.4 1806.0,597.6 1807.5,597.4 1809.0,596.9 1810.5,596.2 1812.0,595.4 1813.5,594.5 1815.0,593.6 1816.5,592.6 1818.0,591.8 1819.5,591.1 1821.0,590.6 1822.5,590.0 1824.0,589.5 1825.5,589.0 1827.0,588.5 1828.5,588.0 1830.0,587.5 1831.5,587.1 1833.0,586.6 1834.5,586.2 1836.0,585.7 1837.5,585.3 1839.0,585.0 1840.5,584.7 1842.0,584.4 1843.5,584.3 1845.0,584.2 1846.5,584.3 1848.0,584.5 1849.5,584.9 1851.0,585.3 1852.5,585.7 1854.0,586.2 1855.5,586.8 1857.0,587.3 1858.5,587.8 1860.0,588.4 1861.5,589.0 1863.0,589.6 1864.5,590.3 1866.0,590.9 1867.5,591.5 1869.0,592.1 1870.5,592.7 1872.0,593.3 1873.5,593.8 1875.0,594.2 1876.5,594.6 1878.0,595.0 1879.5,595.4 1881.0,595.6 1882.5,595.8 1884.0,596.0 1885.5,596.0 1887.0,596.0 1888.5,595.9 1890.0,595.7 1891.5,595.4 1893.0,595.0 1894.5,594.6 1896.0,594.1 1897.5,593.7 1899.0,593.2 1900.5,592.7 1902.0,592.3 1903.5,591.9 1905.0,591.6 1906.5,591.2 1908.0,590.9 1909.5,590.6 1911.0,590.3 1912.5,589.9 1914.0,589.6 1915.5,589.3 1917.0,589.0 1918.5,588.8 1920.0,588.5 1921.5,588.2 1923.0,588.0 1924.5,587.8 1926.0,587.6 1927.5,587.5 1929.0,587.3 1930.5,587.2 1932.0,587.1 1933.5,587.0 1935.0,586.9 1936.5,586.7 1938.0,586.6 1939.5,586.5 1941.0,586.5 1942.5,586.5 1944.0,586.5 1945.5,586.6 1947.0,586.6 1948.5,586.7 1950.0,586.7 1951.5,586.8 1953.0,586.8 1954.5,586.8 1956.0,586.7 1957.5,586.6 1959.0,586.3 1960.5,585.9 1962.0,585.4 1963.5,584.7 1965.0,583.9 1966.5,583.1 1968.0,582.1 1969.5,581.1 1971.0,580.0 1971.3,579.8"/>
<polyline fill="none" stroke="#00f" stroke-width="4" stroke-linejoin="round" stroke-linecap="round" points="305.7,576.4 307.2,576.7 308.7,576.9 310.2,577.2 311.7,577.6 313.2,577.9 314.7,578.2 316.2,578.6 317.7,578.9 319.2,579.3 320.7,579.6 322.2,580.0 323.7,580.5 325.2,580.9 326.7,581.4 328.2,581.9 329.7,582.4 331.2,583.0 332.7,583.8 334.2,584.7 335.7,585.6 337.2,586.3 338.7,586.7 340.2,586.9 341.7,586.9 343.2,586.9 344.7,586.8 346.2,586.8 347.7,586.7 349.2,586.6 350.7,586.7 352.2,586.8 353.7,586.9 355.2,587.0 356.7,587.1 358.2,587.2 359.7,587.4 361.2,587.5 362.7,587.6 364.2,587.8 365.7,588.0 367.2,588.1 368.7,588.3 370.2,588.5 371.7,588.8 373.2,589.1 374.7,589.6 376.2,590.1 377.7,590.6 379.2,591.2 380.7,591.6 382.2,591.9 383.7,592.1 385.2,592.1 386.7,592.1 388.2,592.0 389.7,592.0 391.2,592.1 392.7,592.4 394.2,592.9 395.7,593.6 397.2,594.4 398.7,595.1 400.2,595.7 401.7,595.9 403.2,595.8 404.7,595.5 406.2,595.1 407.7,594.6 409.2,594.1 410.7,593.7 412.2,593.4 413.7,593.2 415.2,593.1 416.7,593.1 418.2,593.0 419.7,593.0 421.2,592.9 422.7,592.7 424.2,592.3 425.7,591.9 427.2,591.3 428.7,590.6 430.2,589.9 431.7,589.2 433.2,588.6 434.7,588.0 436.2,587.4 437.7,586.9 439.2,586.3 440.7,585.8 442.2,585.4 443.7,585.0 445.2,584.6 446.7,584.4 448.2,584.3 449.7,584.3 451.2,584.4 452.7,584.6 454.2,584.9 455.7,585.3 457.2,585.6 458.7,586.0 460.2,586.4 461.7,586.8 463.2,587.3 464.7,587.7 466.2,588.2 467.7,588.7 469.2,589.2 470.7,589.8 472.2,590.4 473.7,591.0 475.2,591.6 476.7,592.3 478.2,592.9 479.7,593.8 481.2,595.0 482.7,596.2 484.2,597.3 485.7,597.9 487.2,597.8 488.7,597.5 490.2,597.0 491.7,596.4 493.2,595.6 494.7,594.9 496.2,594.2 497.7,593.6 499.2,593.2 500.7,592.9 502.2,592.5 503.7,592.1 505.2,591.7 506.7,591.4 508.2,591.0 509.7,590.7 511.2,590.4 512.7,590.1 514.2,589.8 515.7,589.6 517.2,589.4 518.7,589.2 520.2,589.0 521.7,588.8 523.2,588.7 524.7,588.5 526.2,588.4 527.7,588.3 529.2,588.2 530.7,588.0 532.2,587.9 533.7,587.8 535.2,587.7 536.7,587.6 538.2,587.5 539.7,587.4 541.2,587.3 542.7,587.2 544.2,587.1 545.7,587.0 547.2,587.0 548.7,587.0 550.2,587.0 551.7,587.1 553.2,587.3 554.7,587.5 556.2,587.8 557.7,588.1 559.2,588.5 560.7,588.9 562.2,589.4 563.7,589.9 565.2,590.5 566.7,591.0 568.2,591.5 569.7,592.0 571.2,592.5 572.7,592.9 574.2,593.3 575.7,593.7 577.2,594.1 578.7,594.4 580.2,594.8 581.7,595.1 583.2,595.5 584.7,595.9 586.2,596.6 587.7,597.5 589.2,598.5 590.7,599.5 592.2,600.2 593.7,600.5 595.2,600.4 596.7,600.0 598.2,599.5 599.7,598.9 601.2,598.5 602.7,598.3 604.2,598.4 605.7,598.7 607.2,599.1 608.7,599.6 610.2,600.1 611.7,600.5 613.2,600.8 614.7,601.0 616.2,601.0 617.7,600.8 619.2,600.4 620.7,600.0 622.2,599.6 623.7,599.3 625.2,599.0 626.7,599.0 628.2,599.2 629.7,599.5 631.2,599.9 632.7,600.3 634.2,600.5 635.7,600.4 637.2,600.0 638.7,599.1 640.2,597.9 641.7,596.6 643.2,595.4 644.7,594.4 646.2,593.8 647.7,593.5 649.2,593.2 650.7,593.0 652.2,592.8 653.7,592.6 655.2,592.5 656.7,592.2 658.2,591.9 659.7,591.5 661.2,590.9 662.7,590.4 664.2,589.8 665.7,589.1 667.2,588.5 668.7,587.9 670.2,587.4 671.7,587.0 673.2,586.6 674.7,586.4 676.2,586.4 677.7,586.5 679.2,586.7 680.7,587.0 682.2,587.4 683.7,587.9 685.2,588.7 686.7,589.6 688.2,590.6 689.7,591.4 691.2,592.0 692.7,592.3 694.2,592.6 695.7,592.8 697.2,593.0 698.7,593.2 700.2,593.4 701.7,593.7 703.2,593.9 704.7,594.3 706.2,594.6 707.7,595.0 709.2,595.4 710.7,595.8 712.2,596.1 713.7,596.5 715.2,596.9 716.7,597.3 718.2,597.7 719.7,598.0 721.2,598.4 722.7,598.8 724.2,599.2 725.7,599.5 727.2,599.9 728.7,600.3 730.2,600.7 731.7,601.0 733.2,601.4 734.7,601.6 736.2,601.5 737.7,601.3 739.2,601.0 740.7,600.8 742.2,600.4 743.7,599.9 745.2,599.3 746.7,598.6 748.2,598.0 749.7,597.5 751.2,597.1 752.7,596.9 754.2,596.7 755.7,596.7 757.2,596.8 758.7,597.0 760.2,597.5 761.7,598.2 763.2,598.9 764.7,599.7 766.2,600.5 767.7,601.4 769.2,602.3 770.7,603.1 772.2,604.0 773.7,605.0 775.2,606.1 776.7,607.1 778.2,608.2 779.7,609.2 781.2,610.1 782.7,610.8 784.2,611.1 785.7,611.2 787.2,611.0 788.7,610.6 790.2,610.2 791.7,609.8 793.2,609.6 794.7,609.5 796.2,609.7 797.7,610.0 799.2,610.4 800.7,610.8 802.2,611.1 803.7,611.3 805.2,611.2 806.7,610.7 808.2,610.0 809.7,609.0 811.2,607.9 812.7,606.8 814.2,605.8 815.7,604.9 817.2,604.2 818.7,603.9 820.2,604.0 821.7,604.2 823.2,604.6 824.7,605.0 826.2,605.5 827.7,606.1 829.2,606.8 830.7,607.5 832.2,608.3 833.7,609.2 835.2,610.2 836.7,611.2 838.2,612.3 839.7,613.3 841.2,614.3 842.7,615.2 844.2,615.9 845.7,616.5 847.2,617.0 848.7,617.5 850.2,617.9 851.7,618.2 853.2,618.5 854.7,618.8 856.2,619.1 857.7,619.3 859.2,619.5 860.7,619.6 862.2,619.7 863.7,619.8 865.2,619.9 866.7,619.9 868.2,619.7 869.7,619.4 871.2,619.0 872.7,618.5 874.2,618.0 875.7,617.5 877.2,617.0 878.7,616.5 880.2,616.2 881.7,616.0 883.2,616.1 884.7,616.5 886.2,617.0 887.7,617.4 889.2,617.5 890.7,617.3 892.2,616.7 893.7,615.9 895.2,615.0 896.7,614.1 898.2,613.3 899.7,612.6 901.2,612.2 902.7,612.0 904.2,612.0 905.7,611.9 907.2,612.0 908.7,612.1 910.2,612.2 911.7,612.4 913.2,612.6 914.7,612.9 916.2,613.2 917.7,613.6 919.2,614.0 920.7,614.5 922.2,615.1 923.7,615.8 925.2,616.7 926.7,617.5 928.2,618.4 929.7,619.3 931.2,620.1 932.7,620.8 934.2,621.4 935.7,621.7 937.2,621.7 938.7,621.6 940.2,621.4 941.7,621.3 943.2,621.3 944.7,621.7 946.2,622.7 947.7,623.9 949.2,625.2 950.7,626.4 952.2,627.3 953.7,627.7 955.2,627.4 956.7,626.7 958.2,625.8 959.7,624.8 961.2,623.6 962.7,622.3 964.2,621.1 965.7,620.0 967.2,619.0 968.7,618.2 970.2,617.5 971.7,616.8 973.2,616.1 974.7,615.4 976.2,614.7 977.7,614.1 979.2,613.4 980.7,612.8 982.2,612.3 983.7,611.8 985.2,611.4 986.7,611.0 988.2,610.7 989.7,610.5 991.2,610.4 992.7,610.4 994.2,610.5 995.7,610.7 997.2,611.0 998.7,611.4 1000.2,611.8 1001.7,612.3 1003.2,612.9 1004.7,613.5 1006.2,614.2 1007.7,614.9 1009.2,615.6 1010.7,616.3 1012.2,617.1 1013.7,618.0 1015.2,619.0 1016.7,620.1 1018.2,621.3 1019.7,622.6 1021.2,623.9 1022.7,625.3 1024.2,626.7 1025.7,628.1 1027.2,629.5 1028.7,630.9 1030.2,632.4 1031.7,634.0 1033.2,635.5 1034.7,637.1 1036.2,638.6 1037.7,640.1 1039.2,641.6 1040.7,642.9 1042.2,644.1 1043.7,645.1 1045.2,646.0 1046.7,646.7 1048.2,647.3 1049.7,647.8 1051.2,648.2 1052.7,648.5 1054.2,648.8 1055.7,648.9 1057.2,649.0 1058.7,649.0 1060.2,649.0 1061.7,649.0 1063.2,649.0 1064.7,649.1 1066.2,649.2 1067.7,649.5 1069.2,649.9 1070.7,650.4 1072.2,650.9 1073.7,651.5 1075.2,652.1 1076.7,652.7 1078.2,653.2 1079.7,653.7 1081.2,654.0 1082.7,653.8 1084.2,652.9 1085.7,651.8 1087.2,650.7 1088.7,650.0 1090.2,650.0 1091.7,650.8 1093.2,652.0 1094.7,653.4 1096.2,655.0 1097.7,656.4 1099.2,657.6 1100.7,658.4 1102.2,659.2 1103.7,659.9 1105.2,660.6 1106.7,661.3 1108.2,662.1 1109.7,662.9 1111.2,663.8 1112.7,664.9 1114.2,666.1 1115.7,667.4 1117.2,668.7 1118.7,669.9 1120.2,671.0 1121.7,671.9 1123.2,672.6 1124.7,673.0 1126.2,672.9 1127.7,672.2 1129.2,671.0 1130.7,669.5 1132.2,667.8 1133.7,666.1 1135.2,664.6 1136.7,663.0 1138.2,661.4 1139.7,659.7 1141.2,658.0 1142.7,656.3 1144.2,654.8 1145.7,653.4 1147.2,652.3 1148.7,651.6 1150.2,651.2 1151.7,651.2 1153.2,651.5 1154.7,652.1 1156.2,652.7 1157.7,653.5 1159.2,654.4 1160.7,655.4 1162.2,656.5 1163.7,657.6 1165.2,658.7 1166.7,659.8 1168.2,660.9 1169.7,662.1 1171.2,663.5 1172.7,665.1 1174.2,666.9 1175.7,668.9 1177.2,671.3 1178.7,673.9 1180.2,676.7 1181.7,679.4 1183.2,682.2 1184.7,685.2 1186.2,688.3 1187.7,691.3 1189.2,693.9 1190.7,695.8 1192.2,696.0 1193.7,694.7 1195.2,692.3 1196.7,689.2 1198.2,686.0 1199.7,682.9 1201.2,680.0 1202.7,677.1 1204.2,674.2 1205.7,671.2 1207.2,668.2 1208.7,665.2 1210.2,662.0 1211.7,658.8 1213.2,655.3 1214.7,651.6 1216.2,647.9 1217.7,644.3 1219.2,640.9 1220.7,637.9 1222.2,635.4 1223.7,633.4 1225.2,632.0 1226.7,631.0 1228.2,630.5 1229.7,630.3 1231.2,630.3 1232.7,630.3 1234.2,630.3 1235.7,630.4 1237.2,630.6 1238.7,630.8 1240.2,631.1 1241.7,631.6 1243.2,632.1 1244.7,632.7 1246.2,633.3 1247.7,634.0 1249.2,634.7 1250.7,635.3 1252.2,636.0 1253.7,636.7 1255.2,637.3 1256.7,637.9 1258.2,638.6 1259.7,639.2 1261.2,639.8 1262.7,640.4 1264.2,641.0 1265.7,641.5 1267.2,642.1 1268.7,642.6 1270.2,643.1 1271.7,643.6 1273.2,643.9 1274.7,643.7 1276.2,643.3 1277.7,642.7 1279.2,641.9 1280.7,641.0 1282.2,640.1 1283.7,638.8 1285.2,637.4 1286.7,635.9 1288.2,634.4 1289.7,633.1 1291.2,631.9 1292.7,631.1 1294.2,630.5 1295.7,630.0 1297.2,629.7 1298.7,629.5 1300.2,629.3 1301.7,629.3 1303.2,629.4 1304.7,629.6 1306.2,630.0 1307.7,630.4 1309.2,630.7 1310.7,630.9 1312.2,630.9 1313.7,630.6 1315.2,630.1 1316.7,629.5 1318.2,628.9 1319.7,628.2 1321.2,627.5 1322.7,626.8 1324.2,626.3 1325.7,626.0 1327.2,625.9 1328.7,626.2 1330.2,626.7 1331.7,627.2 1333.2,627.7 1334.7,627.8 1336.2,627.6 1337.7,627.2 1339.2,626.6 1340.7,626.0 1342.2,625.4 1343.7,624.9 1345.2,624.6 1346.7,624.7 1348.2,625.3 1349.7,626.4 1351.2,627.7 1352.7,628.9 1354.2,629.9 1355.7,630.4 1357.2,630.3 1358.7,629.6 1360.2,628.7 1361.7,627.6 1363.2,626.4 1364.7,625.2 1366.2,624.1 1367.7,623.2 1369.2,622.4 1370.7,621.7 1372.2,621.1 1373.7,620.4 1375.2,619.8 1376.7,619.1 1378.2,618.5 1379.7,617.9 1381.2,617.3 1382.7,616.8 1384.2,616.2 1385.7,615.7 1387.2,615.2 1388.7,614.8 1390.2,614.6 1391.7,614.5 1393.2,614.5 1394.7,614.6 1396.2,614.6 1397.7,614.6 1399.2,614.5 1400.7,614.2 1402.2,613.5 1403.7,612.3 1405.2,610.8 1406.7,609.3 1408.2,607.9 1409.7,606.8 1411.2,606.2 1412.7,605.8 1414.2,605.3 1415.7,605.0 1417.2,604.7 1418.7,604.4 1420.2,604.2 1421.7,604.1 1423.2,604.1 1424.7,604.1 1426.2,604.2 1427.7,604.3 1429.2,604.6 1430.7,604.9 1432.2,605.3 1433.7,605.7 1435.2,606.2 1436.7,606.8 1438.2,607.3 1439.7,607.9 1441.2,608.4 1442.7,608.9 1444.2,609.4 1445.7,609.8 1447.2,610.1 1448.7,610.3 1450.2,610.5 1451.7,610.5 1453.2,610.5 1454.7,610.4 1456.2,610.3 1457.7,610.3 1459.2,610.3 1460.7,610.3 1462.2,610.5 1463.7,610.7 1465.2,611.1 1466.7,611.5 1468.2,611.9 1469.7,612.4 1471.2,612.9 1472.7,613.4 1474.2,613.8 1475.7,614.3 1477.2,615.0 1478.7,615.7 1480.2,616.4 1481.7,617.1 1483.2,617.5 1484.7,617.6 1486.2,616.9 1487.7,615.7 1489.2,614.3 1490.7,612.8 1492.2,611.4 1493.7,610.4 1495.2,609.8 1496.7,609.3 1498.2,608.7 1499.7,608.1 1501.2,607.6 1502.7,607.1 1504.2,606.6 1505.7,606.1 1507.2,605.6 1508.7,605.1 1510.2,604.7 1511.7,604.3 1513.2,603.9 1514.7,603.5 1516.2,603.2 1517.7,602.8 1519.2,602.6 1520.7,602.3 1522.2,602.1 1523.7,601.9 1525.2,601.7 1526.7,601.7 1528.2,601.8 1529.7,602.0 1531.2,602.2 1532.7,602.5 1534.2,602.8 1535.7,603.0 1537.2,603.3 1538.7,603.5 1540.2,603.7 1541.7,603.8 1543.2,603.7 1544.7,603.5 1546.2,603.2 1547.7,602.7 1549.2,602.0 1550.7,601.3 1552.2,600.5 1553.7,599.7 1555.2,598.8 1556.7,598.0 1558.2,597.2 1559.7,596.5 1561.2,595.8 1562.7,595.3 1564.2,594.9 1565.7,594.7 1567.2,594.7 1568.7,594.8 1570.2,595.1 1571.7,595.4 1573.2,595.8 1574.7,596.3 1576.2,596.8 1577.7,597.4 1579.2,598.0 1580.7,598.5 1582.2,599.0 1583.7,599.5 1585.2,599.9 1586.7,600.2 1588.2,600.4 1589.7,600.5 1591.2,600.5 1592.7,600.4 1594.2,600.2 1595.7,600.1 1597.2,600.0 1598.7,599.8 1600.2,599.6 1601.7,599.5 1603.2,599.3 1604.7,599.2 1606.2,599.0 1607.7,598.9 1609.2,598.8 1610.7,598.7 1612.2,598.6 1613.7,598.6 1615.2,598.5 1616.7,598.5 1618.2,598.4 1619.7,598.4 1621.2,598.4 1622.7,598.6 1624.2,599.0 1625.7,599.5 1627.2,600.0 1628.7,600.6 1630.2,601.0 1631.7,601.3 1633.2,601.3 1634.7,600.9 1636.2,600.3 1637.7,599.5 1639.2,598.8 1640.7,598.1 1642.2,597.6 1643.7,597.5 1645.2,597.7 1646.7,598.1 1648.2,598.6 1649.7,599.2 1651.2,599.9 1652.7,600.5 1654.2,600.9 1655.7,601.2 1657.2,601.3 1658.7,601.1 1660.2,600.7 1661.7,600.2 1663.2,599.8 1664.7,599.5 1666.2,599.4 1667.7,599.6 1669.2,599.8 1670.7,600.2 1672.2,600.6 1673.7,601.0 1675.2,601.3 1676.7,601.6 1678.2,601.7 1679.7,601.9 1681.2,602.0 1682.7,602.1 1684.2,602.1 1685.7,602.2 1687.2,602.2 1688.7,602.2 1690.2,602.1 1691.7,602.0 1693.2,601.9 1694.7,601.6 1696.2,601.3 1697.7,601.0 1699.2,600.5 1700.7,599.9 1702.2,599.3 1703.7,598.6 1705.2,597.8 1706.7,597.0 1708.2,596.3 1709.7,595.6 1711.2,594.9 1712.7,594.3 1714.2,593.8 1715.7,593.2 1717.2,592.7 1718.7,592.2 1720.2,591.6 1721.7,591.1 1723.2,590.6 1724.7,590.2 1726.2,589.7 1727.7,589.3 1729.2,588.9 1730.7,588.5 1732.2,588.2 1733.7,587.8 1735.2,587.6 1736.7,587.4 1738.2,587.2 1739.7,587.1 1741.2,587.1 1742.7,587.1 1744.2,587.1 1745.7,587.1 1747.2,587.2 1748.7,587.3 1750.2,587.4 1751.7,587.6 1753.2,587.9 1754.7,588.2 1756.2,588.6 1757.7,589.0 1759.2,589.5 1760.7,589.8 1762.2,590.1 1763.7,590.4 1765.2,590.5 1766.7,590.5 1768.2,590.3 1769.7,590.0 1771.2,589.7 1772.7,589.5 1774.2,589.3 1775.7,589.3 1777.2,589.3 1778.7,589.4 1780.2,589.5 1781.7,589.7 1783.2,589.8 1784.7,590.0 1786.2,590.2 1787.7,590.5 1789.2,590.7 1790.7,591.0 1792.2,591.3 1793.7,591.8 1795.2,592.7 1796.7,593.7 1798.2,594.8 1799.7,595.8 1801.2,596.7 1802.7,597.3 1804.2,597.6 1805.7,597.4 1807.2,596.9 1808.7,596.2 1810.2,595.4 1811.7,594.4 1813.2,593.5 1814.7,592.6 1816.2,591.8 1817.7,591.1 1819.2,590.5 1820.7,590.0 1822.2,589.5 1823.7,589.0 1825.2,588.5 1826.7,588.0 1828.2,587.5 1829.7,587.0 1831.2,586.6 1832.7,586.1 1834.2,585.7 1835.7,585.3 1837.2,584.9 1838.7,584.6 1840.2,584.4 1841.7,584.2 1843.2,584.2 1844.7,584.3 1846.2,584.5 1847.7,584.8 1849.2,585.2 1850.7,585.7 1852.2,586.2 1853.7,586.7 1855.2,587.2 1856.7,587.8 1858.2,588.4 1859.7,589.0 1861.2,589.6 1862.7,590.2 1864.2,590.9 1865.7,591.5 1867.2,592.1 1868.7,592.7 1870.2,593.2 1871.7,593.7 1873.2,594.2 1874.7,594.6 1876.2,595.0 1877.7,595.3 1879.2,595.6 1880.7,595.8 1882.2,595.9 1883.7,596.0 1885.2,596.0 1886.7,595.9 1888.2,595.7 1889.7,595.4 1891.2,595.0 1892.7,594.6 1894.2,594.1 1895.7,593.6 1897.2,593.1 1898.7,592.7 1900.2,592.2 1901.7,591.9 1903.2,591.5 1904.7,591.2 1906.2,590.9 1907.7,590.6 1909.2,590.2 1910.7,589.9 1912.2,589.6 1913.7,589.3 1915.2,589.0 1916.7,588.7 1918.2,588.5 1919.7,588.2 1921.2,588.0 1922.7,587.8 1924.2,587.6 1925.7,587.4 1927.2,587.3 1928.7,587.2 1930.2,587.0 1931.7,586.9 1933.2,586.8 1934.7,586.7 1936.2,586.6 1937.7,586.5 1939.2,586.5 1940.7,586.5 1942.2,586.5 1943.7,586.5 1945.2,586.6 1946.7,586.6 1948.2,586.7 1949.7,586.7 1951.2,586.7 1952.7,586.7 1954.2,586.7 1955.7,586.6 1957.2,586.3 1958.7,585.9 1960.2,585.4 1961.7,584.7 1963.2,583.9 1964.7,583.0 1966.2,582.1 1967.7,581.1 1969.2,580.0 1969.5,579.8"/>
<polyline fill="none" stroke="#00f" stroke-width="4" stroke-linejoin="round" stroke-linecap="round" points="307.1,576.4 308.6,576.7 310.1,576.9 311.6,577.2 313.1,577.6 314.6,577.9 316.1,578.2 317.6,578.6 319.1,578.9 320.6,579.3 322.1,579.6 323.6,580.0 325.1,580.5 326.6,580.9 328.1,581.4 329.6,581.9 331.1,582.4 332.6,583.0 334.1,583.8 335.6,584.7 337.1,585.6 338.6,586.3 340.1,586.7 341.6,586.9 343.1,586.9 344.6,586.9 346.1,586.8 347.6,586.8 349.1,586.7 350.6,586.6 352.1,586.7 353.6,586.8 355.1,586.9 356.6,587.0 358.1,587.1 359.6,587.2 361.1,587.4 362.6,587.5 364.1,587.6 365.6,587.8 367.1,588.0 368.6,588.1 370.1,588.3 371.6,588.5 373.1,588.8 374.6,589.1 376.1,589.6 377.6,590.1 379.1,590.6 380.6,591.2 382.1,591.6 383.6,591.9 385.1,592.1 386.6,592.1 388.1,592.1 389.6,592.0 391.1,592.0 392.6,592.1 394.1,592.4 395.6,592.9 397.1,593.6 398.6,594.4 400.1,595.1 401.6,595.7 403.1,595.9 404.6,595.8 406.1,595.5 407.6,595.1 409.1,594.6 410.6,594.1 412.1,593.7 413.6,593.4 415.1,593.2 416.6,593.1 418.1,593.1 419.6,593.0 421.1,593.0 422.6,592.9 424.1,592.7 425.6,592.3 427.1,591.9 428.6,591.3 430.1,590.6 431.6,589.9 433.1,589.2 434.6,588.6 436.1,588.0 437.6,587.4 439.1,586.9 440.6,586.3 442.1,585.8 443.6,585.4 445.1,585.0 446.6,584.6 448.1,584.4 449.6,584.3 451.1,584.3 452.6,584.4 454.1,584.6 455.6,584.9 457.1,585.3 458.6,585.6 460.1,586.0 461.6,586.4 463.1,586.8 464.6,587.3 466.1,587.7 467.6,588.2 469.1,588.7 470.6,589.2 472.1,589.8 473.6,590.4 475.1,591.0 476.6,591.6 478.1,592.3 479.6,592.9 481.1,593.8 482.6,595.0 484.1,596.2 485.6,597.3 487.1,597.9 488.6,597.8 490.1,597.5 491.6,597.0 493.1,596.4 494.6,595.6 496.1,594.9 497.6,594.2 499.1,593.6 500.6,593.2 502.1,592.9 503.6,592.5 505.1,592.1 506.6,591.7 508.1,591.4 509.6,591.0 511.1,590.7 512.6,590.4 514.1,590.1 515.6,589.8 517.1,589.6 518.6,589.4 520.1,589.2 521.6,589.0 523.1,588.8 524.6,588.7 526.1,588.5 527.6,588.4 529.1,588.3 530.6,588.2 532.1,588.0 533.6,587.9 535.1,587.8 536.6,587.7 538.1,587.6 539.6,587.5 541.1,587.4 542.6,587.3 544.1,587.2 545.6,587.1 547.1,587.0 548.6,587.0 550.1,587.0 551.6,587.0 553.1,587.1 554.6,587.3 556.1,587.5 557.6,587.8 559.1,588.1 560.6,588.5 562.1,588.9 563.6,589.4 565.1,589.9 566.6,590.5 568.1,591.0 569.6,591.5 571.1,592.0 572.6,592.5 574.1,592.9 575.6,593.3 577.1,593.7 578.6,594.1 580.1,594.4 581.6,594.8 583.1,595.1 584.6,595.5 586.1,595.9 587.6,596.6 589.1,597.5 590.6,598.5 592.1,599.5 593.6,600.2 595.1,600.5 596.6,600.4 598.1,600.0 599.6,599.5 601.1,598.9 602.6,598.5 604.1,598.3 605.6,598.4 607.1,598.7 608.6,599.1 610.1,599.6 611.6,600.1 613.1,600.5 614.6,600.8 616.1,601.0 617.6,601.0 619.1,600.8 620.6,600.4 622.1,600.0 623.6,599.6 625.1,599.3 626.6,599.0 628.1,599.0 629.6,599.2 631.1,599.5 632.6,599.9 634.1,600.3 635.6,600.5 637.1,600.4 638.6,600.0 640.1,599.1 641.6,597.9 643.1,596.6 644.6,595.4 646.1,594.4 647.6,593.8 649.1,593.5 650.6,593.2 652.1,593.0 653.6,592.8 655.1,592.6 656.6,592.5 658.1,592.2 659.6,591.9 661.1,591.5 662.6,590.9 664.1,590.4 665.6,589.8 667.1,589.1 668.6,588.5 670.1,587.9 671.6,587.4 673.1,587.0 674.6,586.6 676.1,586.4 677.6,586.4 679.1,586.5 680.6,586.7 682.1,587.0 683.6,587.4 685.1,587.9 686.6,588.7 688.1,589.6 689.6,590.6 691.1,591.4 692.6,592.0 694.1,592.3 695.6,592.6 697.1,592.8 698.6,593.0 700.1,593.2 701.6,593.4 703.1,593.7 704.6,593.9 706.1,594.3 707.6,594.6 709.1,595.0 710.6,595.4 712.1,595.8 713.6,596.1 715.1,596.5 716.6,596.9 718.1,597.3 719.6,597.7 721.1,598.0 722.6,598.4 724.1,598.8 725.6,599.2 727.1,599.5 728.6,599.9 730.1,600.3 731.6,600.7 733.1,601.0 734.6,601.4 736.1,601.6 737.6,601.5 739.1,601.3 740.6,601.0 742.1,600.8 743.6,600.4 745.1,599.9 746.6,599.3 748.1,598.6 749.6,598.0 751.1,597.5 752.6,597.1 754.1,596.9 755.6,596.7 757.1,596.7 758.6,596.8 760.1,597.0 761.6,597.5 763.1,598.2 764.6,598.9 766.1,599.7 767.6,600.5 769.1,601.4 770.6,602.3 772.1,603.1 773.6,604.0 775.1,605.0 776.6,606.1 778.1,607.1 779.6,608.2 781.1,609.2 782.6,610.1 784.1,610.8 785.6,611.1 787.1,611.2 788.6,611.0 790.1,610.6 791.6,610.2 793.1,609.8 794.6,609.6 796.1,609.5 797.6,609.7 799.1,610.0 800.6,610.4 802.1,610.8 803.6,611.1 805.1,611.3 806.6,611.2 808.1,610.7 809.6,610.0 811.1,609.0 812.6,607.9 814.1,606.8 815.6,605.8 817.1,604.9 818.6,604.2 820.1,603.9 821.6,604.0 823.1,604.2 824.6,604.6 826.1,605.0 827.6,605.5 829.1,606.1 830.6,606.8 832.1,607.5 833.6,608.3 835.1,609.2 836.6,610.2 838.1,611.2 839.6,612.3 841.1,613.3 842.6,614.3 844.1,615.2 845.6,615.9 847.1,616.5 848.6,617.0 850.1,617.5 851.6,617.9 853.1,618.2 854.6,618.5 856.1,618.8 857.6,619.1 859.1,619.3 860.6,619.5 862.1,619.6 863.6,619.7 865.1,619.8 866.6,619.9 868.1,619.9 869.6,619.7 871.1,619.4 872.6,619.0 874.1,618.5 875.6,618.0 877.1,617.5 878.6,617.0 880.1,616.5 881.6,616.2 883.1,616.0 884.6,616.1 886.1,616.5 887.6,617.0 889.1,617.4 890.6,617.5 892.1,617.3 893.6,616.7 895.1,615.9 896.6,615.0 898.1,614.1 899.6,613.3 901.1,612.6 902.6,612.2 904.1,612.0 905.6,612.0 907.1,611.9 908.6,612.0 910.1,612.1 911.6,612.2 913.1,612.4 914.6,612.6 916.1,612.9 917.6,613.2 919.1,613.6 920.6,614.0 922.1,614.5 923.6,615.1 925.1,615.8 926.6,616.7 928.1,617.5 929.6,618.4 931.1,619.3 932.6,620.1 934.1,620.8 935.6,621.4 937.1,621.7 938.6,621.7 940.1,621.6 941.6,621.4 943.1,621.3 944.6,621.3 946.1,621.7 947.6,622.7 949.1,623.9 950.6,625.2 952.1,626.4 953.6,627.3 955.1,627.7 956.6,627.4 958.1,626.7 959.6,625.8 961.1,624.8 962.6,623.6 964.1,622.3 965.6,621.1 967.1,620.0 968.6,619.0 970.1,618.2 971.6,617.5 973.1,616.8 974.6,616.1 976.1,615.4 977.6,614.7 979.1,614.1 980.6,613.4 982.1,612.8 983.6,612.3 985.1,611.8 986.6,611.4 988.1,611.0 989.6,610.7 991.1,610.5 992.6,610.4 994.1,610.4 995.6,610.5 997.1,610.7 998.6,611.0 1000.1,611.4 1001.6,611.8 1003.1,612.3 1004.6,612.9 1006.1,613.5 1007.6,614.2 1009.1,614.9 1010.6,615.6 1012.1,616.3 1013.6,617.1 1015.1,618.0 1016.6,619.0 1018.1,620.1 1019.6,621.3 1021.1,622.6 1022.6,623.9 1024.1,625.3 1025.6,626.7 1027.1,628.1 1028.6,629.5 1030.1,630.9 1031.6,632.4 1033.1,634.0 1034.6,635.5 1036.1,637.1 1037.6,638.6 1039.1,640.1 1040.6,641.6 1042.1,642.9 1043.6,644.1 1045.1,645.1 1046.6,646.0 1048.1,646.7 1049.6,647.3 1051.1,647.8 1052.6,648.2 1054.1,648.5 1055.6,648.8 1057.1,648.9 1058.6,649.0 1060.1,649.0 1061.6,649.0 1063.1,649.0 1064.6,649.0 1066.1,649.1 1067.6,649.2 1069.1,649.5 1070.6,649.9 1072.1,650.4 1073.6,650.9 1075.1,651.5 1076.6,652.1 1078.1,652.7 1079.6,653.2 1081.1,653.7 1082.6,654.0 1084.1,653.8 1085.6,652.9 1087.1,651.8 1088.6,650.7 1090.1,650.0 1091.6,650.0 1093.1,650.8 1094.6,652.0 1096.1,653.4 1097.6,655.0 1099.1,656.4 1100.6,657.6 1102.1,658.4 1103.6,659.2 1105.1,659.9 1106.6,660.6 1108.1,661.3 1109.6,662.1 1111.1,662.9 1112.6,663.8 1114.1,664.9 1115.6,666.1 1117.1,667.4 1118.6,668.7 1120.1,669.9 1121.6,671.0 1123.1,671.9 1124.6,672.6 1126.1,673.0 1127.6,672.9 1129.1,672.2 1130.6,671.0 1132.1,669.5 1133.6,667.8 1135.1,666.1 1136.6,664.6 1138.1,663.0 1139.6,661.4 1141.1,659.7 1142.6,658.0 1144.1,656.3 1145.6,654.8 1147.1,653.4 1148.6,652.3 1150.1,651.6 1151.6,651.2 1153.1,651.2 1154.6,651.5 1156.1,652.1 1157.6,652.7 1159.1,653.5 1160.6,654.4 1162.1,655.4 1163.6,656.5 1165.1,657.6 1166.6,658.7 1168.1,659.8 1169.6,660.9 1171.1,662.1 1172.6,663.5 1174.1,665.1 1175.6,666.9 1177.1,668.9 1178.6,671.3 1180.1,673.9 1181.6,676.7 1183.1,679.4 1184.6,682.2 1186.1,685.2 1187.6,688.3 1189.1,691.3 1190.6,693.9 1192.1,695.8 1193.6,696.0 1195.1,694.7 1196.6,692.3 1198.1,689.2 1199.6,686.0 1201.1,682.9 1202.6,680.0 1204.1,677.1 1205.6,674.2 1207.1,671.2 1208.6,668.2 1210.1,665.2 1211.6,662.0 1213.1,658.8 1214.6,655.3 1216.1,651.6 1217.6,647.9 1219.1,644.3 1220.6,640.9 1222.1,637.9 1223.6,635.4 1225.1,633.4 1226.6,632.0 1228.1,631.0 1229.6,630.5 1231.1,630.3 1232.6,630.3 1234.1,630.3 1235.6,630.3 1237.1,630.4 1238.6,630.6 1240.1,630.8 1241.6,631.1 1243.1,631.6 1244.6,632.1 1246.1,632.7 1247.6,633.3 1249.1,634.0 1250.6,634.7 1252.1,635.3 1253.6,636.0 1255.1,636.7 1256.6,637.3 1258.1,637.9 1259.6,638.6 1261.1,639.2 1262.6,639.8 1264.1,640.4 1265.6,641.0 1267.1,641.5 1268.6,642.1 1270.1,642.6 1271.6,643.1 1273.1,643.6 1274.6,643.9 1276.1,643.7 1277.6,643.3 1279.1,642.7 1280.6,641.9 1282.1,641.0 1283.6,640.1 1285.1,638.8 1286.6,637.4 1288.1,635.9 1289.6,634.4 1291.1,633.1 1292.6,631.9 1294.1,631.1 1295.6,630.5 1297.1,630.0 1298.6,629.7 1300.1,629.5 1301.6,629.3 1303.1,629.3 1304.6,629.4 1306.1,629.6 1307.6,630.0 1309.1,630.4 1310.6,630.7 1312.1,630.9 1313.6,630.9 1315.1,630.6 1316.6,630.1 1318.1,629.5 1319.6,628.9 1321.1,628.2 1322.6,627.5 1324.1,626.8 1325.6,626.3 1327.1,626.0 1328.6,625.9 1330.1,626.2 1331.6,626.7 1333.1,627.2 1334.6,627.7 1336.1,627.8 1337.6,627.6 1339.1,627.2 1340.6,626.6 1342.1,626.0 1343.6,625.4 1345.1,624.9 1346.6,624.6 1348.1,624.7 1349.6,625.3 1351.1,626.4 1352.6,627.7 1354.1,628.9 1355.6,629.9 1357.1,630.4 1358.6,630.3 1360.1,629.6 1361.6,628.7 1363.1,627.6 1364.6,626.4 1366.1,625.2 1367.6,624.1 1369.1,623.2 1370.6,622.4 1372.1,621.7 1373.6,621.1 1375.1,620.4 1376.6,619.8 1378.1,619.1 1379.6,618.5 1381.1,617.9 1382.6,617.3 1384.1,616.8 1385.6,616.2 1387.1,615.7 1388.6,615.2 1390.1,614.8 1391.6,614.6 1393.1,614.5 1394.6,614.5 1396.1,614.6 1397.6,614.6 1399.1,614.6 1400.6,614.5 1402.1,614.2 1403.6,613.5 1405.1,612.3 1406.6,610.8 1408.1,609.3 1409.6,607.9 1411.1,606.8 1412.6,606.2 1414.1,605.8 1415.6,605.3 1417.1,605.0 1418.6,604.7 1420.1,604.4 1421.6,604.2 1423.1,604.1 1424.6,604.1 1426.1,604.1 1427.6,604.2 1429.1,604.3 1430.6,604.6 1432.1,604.9 1433.6,605.3 1435.1,605.7 1436.6,606.2 1438.1,606.8 1439.6,607.3 1441.1,607.9 1442.6,608.4 1444.1,608.9 1445.6,609.4 1447.1,609.8 1448.6,610.1 1450.1,610.3 1451.6,610.5 1453.1,610.5 1454.6,610.5 1456.1,610.4 1457.6,610.3 1459.1,610.3 1460.6,610.3 1462.1,610.3 1463.6,610.5 1465.1,610.7 1466.6,611.1 1468.1,611.5 1469.6,611.9 1471.1,612.4 1472.6,612.9 1474.1,613.4 1475.6,613.8 1477.1,614.3 1478.6,615.0 1480.1,615.7 1481.6,616.4 1483.1,617.1 1484.6,617.5 1486.1,617.6 1487.6,616.9 1489.1,615.7 1490.6,614.3 1492.1,612.8 1493.6,611.4 1495.1,610.4 1496.6,609.8 1498.1,609.3 1499.6,608.7 1501.1,608.1 1502.6,607.6 1504.1,607.1 1505.6,606.6 1507.1,606.1 1508.6,605.6 1510.1,605.1 1511.6,604.7 1513.1,604.3 1514.6,603.9 1516.1,603.5 1517.6,603.2 1519.1,602.8 1520.6,602.6 1522.1,602.3 1523.6,602.1 1525.1,601.9 1526.6,601.7 1528.1,601.7 1529.6,601.8 1531.1,602.0 1532.6,602.2 1534.1,602.5 1535.6,602.8 1537.1,603.0 1538.6,603.3 1540.1,603.5 1541.6,603.7 1543.1,603.8 1544.6,603.7 1546.1,603.5 1547.6,603.2 1549.1,602.7 1550.6,602.0 1552.1,601.3 1553.6,600.5 1555.1,599.7 1556.6,598.8 1558.1,598.0 1559.6,597.2 1561.1,596.5 1562.6,595.8 1564.1,595.3 1565.6,594.9 1567.1,594.7 1568.6,594.7 1570.1,594.8 1571.6,595.1 1573.1,595.4 1574.6,595.8 1576.1,596.3 1577.6,596.8 1579.1,597.4 1580.6,598.0 1582.1,598.5 1583.6,599.0 1585.1,599.5 1586.6,599.9 1588.1,600.2 1589.6,600.4 1591.1,600.5 1592.6,600.5 1594.1,600.4 1595.6,600.2 1597.1,600.1 1598.6,600.0 1600.1,599.8 1601.6,599.6 1603.1,599.5 1604.6,599.3 1606.1,599.2 1607.6,599.0 1609.1,598.9 1610.6,598.8 1612.1,598.7 1613.6,598.6 1615.1,598.6 1616.6,598.5 1618.1,598.5 1619.6,598.4 1621.1,598.4 1622.6,598.4 1624.1,598.6 1625.6,599.0 1627.1,599.5 1628.6,600.0 1630.1,600.6 1631.6,601.0 1633.1,601.3 1634.6,601.3 1636.1,600.9 1637.6,600.3 1639.1,599.5 1640.6,598.8 1642.1,598.1 1643.6,597.6 1645.1,597.5 1646.6,597.7 1648.1,598.1 1649.6,598.6 1651.1,599.2 1652.6,599.9 1654.1,600.5 1655.6,600.9 1657.1,601.2 1658.6,601.3 1660.1,601.1 1661.6,600.7 1663.1,600.2 1664.6,599.8 1666.1,599.5 1667.6,599.4 1669.1,599.6 1670.6,599.8 1672.1,600.2 1673.6,600.6 1675.1,601.0 1676.6,601.3 1678.1,601.6 1679.6,601.7 1681.1,601.9 1682.6,602.0 1684.1,602.1 1685.6,602.1 1687.1,602.2 1688.6,602.2 1690.1,602.2 1691.6,602.1 1693.1,602.0 1694.6,601.9 1696.1,601.6 1697.6,601.3 1699.1,601.0 1700.6,600.5 1702.1,599.9 1703.6,599.3 1705.1,598.6 1706.6,597.8 1708.1,597.0 1709.6,596.3 1711.1,595.6 1712.6,594.9 1714.1,594.3 1715.6,593.8 1717.1,593.2 1718.6,592.7 1720.1,592.2 1721.6,591.6 1723.1,591.1 1724.6,590.6 1726.1,590.2 1727.6,589.7 1729.1,589.3 1730.6,588.9 1732.1,588.5 1733.6,588.2 1735.1,587.8 1736.6,587.6 1738.1,587.4 1739.6,587.2 1741.1,587.1 1742.6,587.1 1744.1,587.1 1745.6,587.1 1747.1,587.1 1748.6,587.2 1750.1,587.3 1751.6,587.4 1753.1,587.6 1754.6,587.9 1756.1,588.2 1757.6,588.6 1759.1,589.0 1760.6,589.5 1762.1,589.8 1763.6,590.1 1765.1,590.4 1766.6,590.5 1768.1,590.5 1769.6,590.3 1771.1,590.0 1772.6,589.7 1774.1,589.5 1775.6,589.3 1777.1,589.3 1778.6,589.3 1780.1,589.4 1781.6,589.5 1783.1,589.7 1784.6,589.8 1786.1,590.0 1787.6,590.2 1789.1,590.5 1790.6,590.7 1792.1,591.0 1793.6,591.3 1795.1,591.8 1796.6,592.7 1798.1,593.7 1799.6,594.8 1801.1,595.8 1802.6,596.7 1804.1,597.3 1805.6,597.6 1807.1,597.4 1808.6,596.9 1810.1,596.2 1811.6,595.4 1813.1,594.4 1814.6,593.5 1816.1,592.6 1817.6,591.8 1819.1,591.1 1820.6,590.5 1822.1,590.0 1823.6,589.5 1825.1,589.0 1826.6,588.5 1828.1,588.0 1829.6,587.5 1831.1,587.0 1832.6,586.6 1834.1,586.1 1835.6,585.7 1837.1,585.3 1838.6,584.9 1840.1,584.6 1841.6,584.4 1843.1,584.2 1844.6,584.2 1846.1,584.3 1847.6,584.5 1849.1,584.8 1850.6,585.2 1852.1,585.7 1853.6,586.2 1855.1,586.7 1856.6,587.2 1858.1,587.8 1859.6,588.4 1861.1,589.0 1862.6,589.6 1864.1,590.2 1865.6,590.9 1867.1,591.5 1868.6,592.1 1870.1,592.7 1871.6,593.2 1873.1,593.7 1874.6,594.2 1876.1,594.6 1877.6,595.0 1879.1,595.3 1880.6,595.6 1882.1,595.8 1883.6,595.9 1885.1,596.0 1886.6,596.0 1888.1,595.9 1889.6,595.7 1891.1,595.4 1892.6,595.0 1894.1,594.6 1895.6,594.1 1897.1,593.6 1898.6,593.1 1900.1,592.7 1901.6,592.2 1903.1,591.9 1904.6,591.5 1906.1,591.2 1907.6,590.9 1909.1,590.6 1910.6,590.2 1912.1,589.9 1913.6,589.6 1915.1,589.3 1916.6,589.0 1918.1,588.7 1919.6,588.5 1921.1,588.2 1922.6,588.0 1924.1,587.8 1925.6,587.6 1927.1,587.4 1928.6,587.3 1930.1,587.2 1931.6,587.0 1933.1,586.9 1934.6,586.8 1936.1,586.7 1937.6,586.6 1939.1,586.5 1940.6,586.5 1942.1,586.5 1943.6,586.5 1945.1,586.5 1946.6,586.6 1948.1,586.6 1949.6,586.7 1951.1,586.7 1952.6,586.7 1954.1,586.7 1955.6,586.7 1957.1,586.6 1958.6,586.3 1960.1,585.9 1961.6,585.4 1963.1,584.7 1964.6,583.9 1966.1,583.0 1967.6,582.1 1969.1,581.1 1970.6,580.0 1970.9,579.8"/>
<polyline fill="none" stroke="#f0f" stroke-width="4" stroke-linejoin="round" stroke-linecap="round" points="306.5,572.9 308.0,572.9 309.5,572.9 311.0,572.9 312.5,572.9 314.0,572.9 315.5,572.9 317.0,572.9 318.5,572.9 320.0,572.9 321.5,572.9 323.0,572.9 324.5,572.9 326.0,572.9 327.5,572.9 329.0,572.9 330.5,572.9 332.0,572.9 333.5,572.9 335.0,572.9 336.5,572.9 338.0,572.9 339.5,572.9 341.0,572.9 342.5,572.9 344.0,572.9 345.5,572.9 347.0,572.9 348.5,572.9 350.0,572.9 351.5,572.9 353.0,572.9 354.5,572.9 356.0,572.9 357.5,572.9 359.0,572.9 360.5,572.9 362.0,572.9 363.5,572.9 365.0,572.9 366.5,572.9 368.0,572.9 369.5,572.9 371.0,572.9 372.5,572.9 374.0,572.9 375.5,572.9 377.0,572.9 378.5,572.9 380.0,572.9 381.5,572.9 383.0,572.9 384.5,572.9 386.0,572.9 387.5,572.9 389.0,572.9 390.5,572.9 392.0,572.9 393.5,572.9 395.0,572.9 396.5,572.9 398.0,572.9 399.5,572.9 401.0,572.9 402.5,572.9 404.0,572.9 405.5,572.9 407.0,572.9 408.5,572.9 410.0,572.9 411.5,572.9 413.0,572.9 414.5,572.9 416.0,572.9 417.5,572.9 419.0,572.9 420.5,572.9 422.0,572.9 423.5,572.9 425.0,572.9 426.5,572.9 428.0,572.9 429.5,572.9 431.0,572.9 432.5,572.9 434.0,572.9 435.5,572.9 437.0,572.9 438.5,572.9 440.0,572.9 441.5,572.9 443.0,572.9 444.5,572.9 446.0,572.9 447.5,572.9 449.0,572.9 450.5,572.9 452.0,572.9 453.5,572.9 455.0,572.9 456.5,572.9 458.0,572.9 459.5,572.9 461.0,572.9 462.5,572.9 464.0,572.9 465.5,572.9 467.0,572.9 468.5,572.9 470.0,572.9 471.5,572.9 473.0,572.9 474.5,572.9 476.0,572.9 477.5,572.9 479.0,572.9 480.5,572.9 482.0,572.9 483.5,572.9 485.0,572.9 486.5,572.9 488.0,572.9 489.5,572.9 491.0,572.9 492.5,572.9 494.0,572.9 495.5,572.9 497.0,572.9 498.5,572.9 500.0,572.9 501.5,572.9 503.0,572.9 504.5,572.9 506.0,572.9 507.5,572.9 509.0,572.9 510.5,572.9 512.0,572.9 513.5,572.9 515.0,572.9 516.5,572.9 518.0,572.9 519.5,572.9 521.0,572.9 522.5,572.9 524.0,572.9 525.5,572.9 527.0,572.9 528.5,572.9 530.0,572.9 531.5,572.9 533.0,572.9 534.5,572.9 536.0,572.9 537.5,572.9 539.0,572.9 540.5,572.9 542.0,572.9 543.5,572.9 545.0,572.9 546.5,572.9 548.0,572.9 549.5,572.9 551.0,573.0 552.5,573.0 554.0,573.0 555.5,573.0 557.0,573.0 558.5,573.0 560.0,573.0 561.5,573.0 563.0,573.0 564.5,573.0 566.0,573.0 567.5,573.0 569.0,573.0 570.5,573.0 572.0,573.0 573.5,573.0 575.0,573.0 576.5,573.0 578.0,573.0 579.5,573.0 581.0,573.0 582.5,573.0 584.0,573.0 585.5,573.0 587.0,573.0 588.5,573.0 590.0,573.0 591.5,573.0 593.0,573.0 594.5,573.0 596.0,573.0 597.5,573.0 599.0,573.0 600.5,573.0 602.0,573.0 603.5,573.0 605.0,573.0 606.5,573.0 608.0,573.0 609.5,573.0 611.0,573.0 612.5,573.0 614.0,573.0 615.5,573.0 617.0,573.0 618.5,573.0 620.0,573.0 621.5,573.0 623.0,573.0 624.5,573.0 626.0,573.0 627.5,573.0 629.0,573.0 630.5,573.0 632.0,573.0 633.5,573.0 635.0,573.0 636.5,573.0 638.0,573.0 639.5,573.0 641.0,573.0 642.5,573.0 644.0,573.0 645.5,573.0 647.0,573.0 648.5,573.0 650.0,573.0 651.5,573.0 653.0,573.0 654.5,573.0 656.0,573.0 657.5,573.0 659.0,573.0 660.5,573.0 662.0,573.0 663.5,573.0 665.0,573.0 666.5,573.0 668.0,573.0 669.5,573.0 671.0,573.0 672.5,573.0 674.0,573.0 675.5,573.0 677.0,573.0 678.5,573.0 680.0,573.0 681.5,573.0 683.0,573.0 684.5,573.0 686.0,573.0 687.5,573.0 689.0,573.0 690.5,573.0 692.0,573.0 693.5,573.0 695.0,573.0 696.5,573.0 698.0,573.0 699.5,573.0 701.0,573.0 702.5,573.0 704.0,573.0 705.5,573.0 707.0,573.0 708.5,573.0 710.0,573.0 711.5,573.0 713.0,573.0 714.5,573.0 716.0,573.0 717.5,573.0 719.0,573.0 720.5,573.0 722.0,573.0 723.5,573.0 725.0,573.0 726.5,573.0 728.0,573.0 729.5,573.0 731.0,573.0 732.5,573.0 734.0,573.0 735.5,573.0 737.0,573.0 738.5,573.0 740.0,573.0 741.5,573.0 743.0,573.0 744.5,573.0 746.0,573.0 747.5,573.0 749.0,573.0 750.5,573.0 752.0,573.0 753.5,573.0 755.0,573.0 756.5,573.0 758.0,573.0 759.5,573.0 761.0,573.0 762.5,573.0 764.0,573.0 765.5,573.0 767.0,573.0 768.5,573.0 770.0,573.0 771.5,573.0 773.0,573.0 774.5,573.0 776.0,573.0 777.5,573.0 779.0,573.0 780.5,573.0 782.0,573.0 783.5,573.0 785.0,573.0 786.5,573.0 788.0,573.0 789.5,573.0 791.0,573.0 792.5,573.0 794.0,573.0 795.5,573.0 797.0,573.0 798.5,573.0 800.0,573.0 801.5,573.0 803.0,573.0 804.5,573.1 806.0,573.1 807.5,573.1 809.0,573.1 810.5,573.1 812.0,573.1 813.5,573.1 815.0,573.1 816.5,573.1 818.0,573.1 819.5,573.1 821.0,573.1 822.5,573.1 824.0,573.1 825.5,573.1 827.0,573.1 828.5,573.1 830.0,573.1 831.5,573.1 833.0,573.1 834.5,573.1 836.0,573.1 837.5,573.1 839.0,573.1 840.5,573.1 842.0,573.1 843.5,573.1 845.0,573.1 846.5,573.1 848.0,573.1 849.5,573.1 851.0,573.1 852.5,573.1 854.0,573.1 855.5,573.1 857.0,573.1 858.5,573.1 860.0,573.1 861.5,573.1 863.0,573.1 864.5,573.1 866.0,573.1 867.5,573.1 869.0,573.1 870.5,573.1 872.0,573.1 873.5,573.1 875.0,573.1 876.5,573.1 878.0,573.1 879.5,573.1 881.0,573.1 882.5,573.2 884.0,573.2 885.5,573.2 887.0,573.2 888.5,573.2 890.0,573.2 891.5,573.2 893.0,573.2 894.5,573.2 896.0,573.2 897.5,573.2 899.0,573.2 900.5,573.2 902.0,573.2 903.5,573.2 905.0,573.2 906.5,573.2 908.0,573.2 909.5,573.2 911.0,573.2 912.5,573.2 914.0,573.2 915.5,573.2 917.0,573.2 918.5,573.2 920.0,573.2 921.5,573.2 923.0,573.2 924.5,573.3 926.0,573.3 927.5,573.3 929.0,573.3 930.5,573.3 932.0,573.3 933.5,573.3 935.0,573.3 936.5,573.3 938.0,573.3 939.5,573.3 941.0,573.3 942.5,573.3 944.0,573.3 945.5,573.3 947.0,573.3 948.5,573.3 950.0,573.3 951.5,573.4 953.0,573.4 954.5,573.4 956.0,573.4 957.5,573.4 959.0,573.4 960.5,573.4 962.0,573.4 963.5,573.4 965.0,573.4 966.5,573.4 968.0,573.4 969.5,573.4 971.0,573.5 972.5,573.5 974.0,573.5 975.5,573.5 977.0,573.5 978.5,573.5 980.0,573.5 981.5,573.5 983.0,573.5 984.5,573.6 986.0,573.6 987.5,573.6 989.0,573.6 990.5,573.6 992.0,573.6 993.5,573.6 995.0,573.6 996.5,573.7 998.0,573.7 999.5,573.7 1001.0,573.7 1002.5,573.7 1004.0,573.7 1005.5,573.8 1007.0,573.8 1008.5,573.8 1010.0,573.8 1011.5,573.8 1013.0,573.9 1014.5,573.9 1016.0,573.9 1017.5,573.9 1019.0,573.9 1020.5,574.0 1022.0,574.0 1023.5,574.0 1025.0,574.0 1026.5,574.1 1028.0,574.1 1029.5,574.1 1031.0,574.2 1032.5,574.2 1034.0,574.2 1035.5,574.3 1037.0,574.3 1038.5,574.3 1040.0,574.4 1041.5,574.4 1043.0,574.5 1044.5,574.5 1046.0,574.6 1047.5,574.6 1049.0,574.7 1050.5,574.7 1052.0,574.8 1053.5,574.8 1055.0,574.9 1056.5,575.0 1058.0,575.0 1059.5,575.1 1061.0,575.2 1062.5,575.3 1064.0,575.4 1065.5,575.5 1067.0,575.6 1068.5,575.7 1070.0,575.8 1071.5,575.9 1073.0,576.0 1074.5,576.1 1076.0,576.3 1077.5,576.4 1079.0,576.6 1080.5,576.7 1082.0,576.9 1083.5,577.1 1085.0,577.3 1086.5,577.6 1088.0,577.8 1089.5,578.1 1091.0,578.3 1092.5,578.6 1094.0,579.0 1095.5,579.3 1097.0,579.7 1098.5,580.2 1100.0,580.7 1101.5,581.2 1103.0,581.8 1104.5,582.5 1106.0,583.2 1107.5,584.0 1109.0,584.9 1110.5,585.9 1112.0,587.1 1113.5,588.4 1115.0,589.9 1116.5,591.6 1118.0,593.5 1119.5,595.7 1121.0,598.3 1122.5,601.2 1124.0,604.4 1125.5,608.1 1127.0,612.2 1128.5,616.6 1130.0,621.2 1131.5,625.8 1133.0,630.0 1134.5,633.4 1136.0,635.7 1137.5,636.5 1139.0,636.0 1140.5,634.2 1142.0,631.5 1143.5,628.4 1145.0,625.3 1146.5,622.4 1148.0,620.0 1149.5,618.1 1151.0,616.9 1152.5,616.3 1154.0,616.4 1155.5,617.2 1157.0,618.6 1158.5,620.6 1160.0,623.2 1161.5,626.2 1163.0,629.4 1164.5,632.4 1166.0,634.8 1167.5,636.3 1169.0,636.4 1170.5,635.1 1172.0,632.5 1173.5,628.8 1175.0,624.4 1176.5,619.8 1178.0,615.3 1179.5,610.9 1181.0,607.0 1182.5,603.4 1184.0,600.3 1185.5,597.5 1187.0,595.1 1188.5,592.9 1190.0,591.1 1191.5,589.4 1193.0,588.0 1194.5,586.7 1196.0,585.6 1197.5,584.6 1199.0,583.7 1200.5,583.0 1202.0,582.2 1203.5,581.6 1205.0,581.0 1206.5,580.5 1208.0,580.1 1209.5,579.6 1211.0,579.2 1212.5,578.9 1214.0,578.6 1215.5,578.3 1217.0,578.0 1218.5,577.7 1220.0,577.5 1221.5,577.3 1223.0,577.1 1224.5,576.9 1226.0,576.7 1227.5,576.5 1229.0,576.4 1230.5,576.2 1232.0,576.1 1233.5,576.0 1235.0,575.8 1236.5,575.7 1238.0,575.6 1239.5,575.5 1241.0,575.4 1242.5,575.3 1244.0,575.3 1245.5,575.2 1247.0,575.1 1248.5,575.0 1250.0,575.0 1251.5,574.9 1253.0,574.8 1254.5,574.8 1256.0,574.7 1257.5,574.7 1259.0,574.6 1260.5,574.6 1262.0,574.5 1263.5,574.5 1265.0,574.4 1266.5,574.4 1268.0,574.3 1269.5,574.3 1271.0,574.3 1272.5,574.2 1274.0,574.2 1275.5,574.2 1277.0,574.1 1278.5,574.1 1280.0,574.1 1281.5,574.0 1283.0,574.0 1284.5,574.0 1286.0,574.0 1287.5,573.9 1289.0,573.9 1290.5,573.9 1292.0,573.9 1293.5,573.8 1295.0,573.8 1296.5,573.8 1298.0,573.8 1299.5,573.8 1301.0,573.8 1302.5,573.7 1304.0,573.7 1305.5,573.7 1307.0,573.7 1308.5,573.7 1310.0,573.7 1311.5,573.6 1313.0,573.6 1314.5,573.6 1316.0,573.6 1317.5,573.6 1319.0,573.6 1320.5,573.6 1322.0,573.5 1323.5,573.5 1325.0,573.5 1326.5,573.5 1328.0,573.5 1329.5,573.5 1331.0,573.5 1332.5,573.5 1334.0,573.5 1335.5,573.5 1337.0,573.4 1338.5,573.4 1340.0,573.4 1341.5,573.4 1343.0,573.4 1344.5,573.4 1346.0,573.4 1347.5,573.4 1349.0,573.4 1350.5,573.4 1352.0,573.4 1353.5,573.4 1355.0,573.4 1356.5,573.3 1358.0,573.3 1359.5,573.3 1361.0,573.3 1362.5,573.3 1364.0,573.3 1365.5,573.3 1367.0,573.3 1368.5,573.3 1370.0,573.3 1371.5,573.3 1373.0,573.3 1374.5,573.3 1376.0,573.3 1377.5,573.3 1379.0,573.3 1380.5,573.3 1382.0,573.3 1383.5,573.2 1385.0,573.2 1386.5,573.2 1388.0,573.2 1389.5,573.2 1391.0,573.2 1392.5,573.2 1394.0,573.2 1395.5,573.2 1397.0,573.2 1398.5,573.2 1400.0,573.2 1401.5,573.2 1403.0,573.2 1404.5,573.2 1406.0,573.2 1407.5,573.2 1409.0,573.2 1410.5,573.2 1412.0,573.2 1413.5,573.2 1415.0,573.2 1416.5,573.2 1418.0,573.2 1419.5,573.2 1421.0,573.2 1422.5,573.2 1424.0,573.1 1425.5,573.1 1427.0,573.1 1428.5,573.1 1430.0,573.1 1431.5,573.1 1433.0,573.1 1434.5,573.1 1436.0,573.1 1437.5,573.1 1439.0,573.1 1440.5,573.1 1442.0,573.1 1443.5,573.1 1445.0,573.1 1446.5,573.1 1448.0,573.1 1449.5,573.1 1451.0,573.1 1452.5,573.1 1454.0,573.1 1455.5,573.1 1457.0,573.1 1458.5,573.1 1460.0,573.1 1461.5,573.1 1463.0,573.1 1464.5,573.1 1466.0,573.1 1467.5,573.1 1469.0,573.1 1470.5,573.1 1472.0,573.1 1473.5,573.1 1475.0,573.1 1476.5,573.1 1478.0,573.1 1479.5,573.1 1481.0,573.1 1482.5,573.1 1484.0,573.1 1485.5,573.1 1487.0,573.1 1488.5,573.1 1490.0,573.1 1491.5,573.1 1493.0,573.1 1494.5,573.1 1496.0,573.1 1497.5,573.1 1499.0,573.1 1500.5,573.1 1502.0,573.0 1503.5,573.0 1505.0,573.0 1506.5,573.0 1508.0,573.0 1509.5,573.0 1511.0,573.0 1512.5,573.0 1514.0,573.0 1515.5,573.0 1517.0,573.0 1518.5,573.0 1520.0,573.0 1521.5,573.0 1523.0,573.0 1524.5,573.0 1526.0,573.0 1527.5,573.0 1529.0,573.0 1530.5,573.0 1532.0,573.0 1533.5,573.0 1535.0,573.0 1536.5,573.0 1538.0,573.0 1539.5,573.0 1541.0,573.0 1542.5,573.0 1544.0,573.0 1545.5,573.0 1547.0,573.0 1548.5,573.0 1550.0,573.0 1551.5,573.0 1553.0,573.0 1554.5,573.0 1556.0,573.0 1557.5,573.0 1559.0,573.0 1560.5,573.0 1562.0,573.0 1563.5,573.0 1565.0,573.0 1566.5,573.0 1568.0,573.0 1569.5,573.0 1571.0,573.0 1572.5,573.0 1574.0,573.0 1575.5,573.0 1577.0,573.0 1578.5,573.0 1580.0,573.0 1581.5,573.0 1583.0,573.0 1584.5,573.0 1586.0,573.0 1587.5,573.0 1589.0,573.0 1590.5,573.0 1592.0,573.0 1593.5,573.0 1595.0,573.0 1596.5,573.0 1598.0,573.0 1599.5,573.0 1601.0,573.0 1602.5,573.0 1604.0,573.0 1605.5,573.0 1607.0,573.0 1608.5,573.0 1610.0,573.0 1611.5,573.0 1613.0,573.0 1614.5,573.0 1616.0,573.0 1617.5,573.0 1619.0,573.0 1620.5,573.0 1622.0,573.0 1623.5,573.0 1625.0,573.0 1626.5,573.0 1628.0,573.0 1629.5,573.0 1631.0,573.0 1632.5,573.0 1634.0,573.0 1635.5,573.0 1637.0,573.0 1638.5,573.0 1640.0,573.0 1641.5,573.0 1643.0,573.0 1644.5,573.0 1646.0,573.0 1647.5,573.0 1649.0,573.0 1650.5,573.0 1652.0,573.0 1653.5,573.0 1655.0,573.0 1656.5,573.0 1658.0,573.0 1659.5,573.0 1661.0,573.0 1662.5,573.0 1664.0,573.0 1665.5,573.0 1667.0,573.0 1668.5,573.0 1670.0,573.0 1671.5,573.0 1673.0,573.0 1674.5,573.0 1676.0,573.0 1677.5,573.0 1679.0,573.0 1680.5,573.0 1682.0,573.0 1683.5,573.0 1685.0,573.0 1686.5,573.0 1688.0,573.0 1689.5,573.0 1691.0,573.0 1692.5,573.0 1694.0,573.0 1695.5,573.0 1697.0,573.0 1698.5,573.0 1700.0,573.0 1701.5,573.0 1703.0,573.0 1704.5,573.0 1706.0,573.0 1707.5,573.0 1709.0,573.0 1710.5,573.0 1712.0,573.0 1713.5,573.0 1715.0,573.0 1716.5,573.0 1718.0,573.0 1719.5,573.0 1721.0,573.0 1722.5,573.0 1724.0,573.0 1725.5,573.0 1727.0,573.0 1728.5,573.0 1730.0,573.0 1731.5,573.0 1733.0,573.0 1734.5,573.0 1736.0,573.0 1737.5,573.0 1739.0,573.0 1740.5,573.0 1742.0,573.0 1743.5,573.0 1745.0,573.0 1746.5,573.0 1748.0,573.0 1749.5,573.0 1751.0,573.0 1752.5,573.0 1754.0,573.0 1755.5,573.0 1757.0,572.9 1758.5,572.9 1760.0,572.9 1761.5,572.9 1763.0,572.9 1764.5,572.9 1766.0,572.9 1767.5,572.9 1769.0,572.9 1770.5,572.9 1772.0,572.9 1773.5,572.9 1775.0,572.9 1776.5,572.9 1778.0,572.9 1779.5,572.9 1781.0,572.9 1782.5,572.9 1784.0,572.9 1785.5,572.9 1787.0,572.9 1788.5,572.9 1790.0,572.9 1791.5,572.9 1793.0,572.9 1794.5,572.9 1796.0,572.9 1797.5,572.9 1799.0,572.9 1800.5,572.9 1802.0,572.9 1803.5,572.9 1805.0,572.9 1806.5,572.9 1808.0,572.9 1809.5,572.9 1811.0,572.9 1812.5,572.9 1814.0,572.9 1815.5,572.9 1817.0,572.9 1818.5,572.9 1820.0,572.9 1821.5,572.9 1823.0,572.9 1824.5,572.9 1826.0,572.9 1827.5,572.9 1829.0,572.9 1830.5,572.9 1832.0,572.9 1833.5,572.9 1835.0,572.9 1836.5,572.9 1838.0,572.9 1839.5,572.9 1841.0,572.9 1842.5,572.9 1844.0,572.9 1845.5,572.9 1847.0,572.9 1848.5,572.9 1850.0,572.9 1851.5,572.9 1853.0,572.9 1854.5,572.9 1856.0,572.9 1857.5,572.9 1859.0,572.9 1860.5,572.9 1862.0,572.9 1863.5,572.9 1865.0,572.9 1866.5,572.9 1868.0,572.9 1869.5,572.9 1871.0,572.9 1872.5,572.9 1874.0,572.9 1875.5,572.9 1877.0,572.9 1878.5,572.9 1880.0,572.9 1881.5,572.9 1883.0,572.9 1884.5,572.9 1886.0,572.9 1887.5,572.9 1889.0,572.9 1890.5,572.9 1892.0,572.9 1893.5,572.9 1895.0,572.9 1896.5,572.9 1898.0,572.9 1899.5,572.9 1901.0,572.9 1902.5,572.9 1904.0,572.9 1905.5,572.9 1907.0,572.9 1908.5,572.9 1910.0,572.9 1911.5,572.9 1913.0,572.9 1914.5,572.9 1916.0,572.9 1917.5,572.9 1919.0,572.9 1920.5,572.9 1922.0,572.9 1923.5,572.9 1925.0,572.9 1926.5,572.9 1928.0,572.9 1929.5,572.9 1931.0,572.9 1932.5,572.9 1934.0,572.9 1935.5,572.9 1937.0,572.9 1938.5,572.9 1940.0,572.9 1941.5,572.9 1943.0,572.9 1944.5,572.9 1946.0,572.9 1947.5,572.9 1949.0,572.9 1950.5,572.9 1952.0,572.9 1953.5,572.9 1955.0,572.9 1956.5,572.9 1958.0,572.9 1959.5,572.9 1961.0,572.9 1962.5,572.9 1964.0,572.9 1965.5,572.9 1967.0,572.9 1968.5,572.9 1969.7,572.9"/>
<polyline fill="none" stroke="#f0f" stroke-width="4" stroke-linejoin="round" stroke-linecap="round" points="308.3,572.9 309.8,572.9 311.3,572.9 312.8,572.9 314.3,572.9 315.8,572.9 317.3,572.9 318.8,572.9 320.3,572.9 321.8,572.9 323.3,572.9 324.8,572.9 326.3,572.9 327.8,572.9 329.3,572.9 330.8,572.9 332.3,572.9 333.8,572.9 335.3,572.9 336.8,572.9 338.3,572.9 339.8,572.9 341.3,572.9 342.8,572.9 344.3,572.9 345.8,572.9 347.3,572.9 348.8,572.9 350.3,572.9 351.8,572.9 353.3,572.9 354.8,572.9 356.3,572.9 357.8,572.9 359.3,572.9 360.8,572.9 362.3,572.9 363.8,572.9 365.3,572.9 366.8,572.9 368.3,572.9 369.8,572.9 371.3,572.9 372.8,572.9 374.3,572.9 375.8,572.9 377.3,572.9 378.8,572.9 380.3,572.9 381.8,572.9 383.3,572.9 384.8,572.9 386.3,572.9 387.8,572.9 389.3,572.9 390.8,572.9 392.3,572.9 393.8,572.9 395.3,572.9 396.8,572.9 398.3,572.9 399.8,572.9 401.3,572.9 402.8,572.9 404.3,572.9 405.8,572.9 407.3,572.9 408.8,572.9 410.3,572.9 411.8,572.9 413.3,572.9 414.8,572.9 416.3,572.9 417.8,572.9 419.3,572.9 420.8,572.9 422.3,572.9 423.8,572.9 425.3,572.9 426.8,572.9 428.3,572.9 429.8,572.9 431.3,572.9 432.8,572.9 434.3,572.9 435.8,572.9 437.3,572.9 438.8,572.9 440.3,572.9 441.8,572.9 443.3,572.9 444.8,572.9 446.3,572.9 447.8,572.9 449.3,572.9 450.8,572.9 452.3,572.9 453.8,572.9 455.3,572.9 456.8,572.9 458.3,572.9 459.8,572.9 461.3,572.9 462.8,572.9 464.3,572.9 465.8,572.9 467.3,572.9 468.8,572.9 470.3,572.9 471.8,572.9 473.3,572.9 474.8,572.9 476.3,572.9 477.8,572.9 479.3,572.9 480.8,572.9 482.3,572.9 483.8,572.9 485.3,572.9 486.8,572.9 488.3,572.9 489.8,572.9 491.3,572.9 492.8,572.9 494.3,572.9 495.8,572.9 497.3,572.9 498.8,572.9 500.3,572.9 501.8,572.9 503.3,572.9 504.8,572.9 506.3,572.9 507.8,572.9 509.3,572.9 510.8,572.9 512.3,572.9 513.8,572.9 515.3,572.9 516.8,572.9 518.3,572.9 519.8,572.9 521.3,572.9 522.8,572.9 524.3,572.9 525.8,572.9 527.3,572.9 528.8,572.9 530.3,572.9 531.8,572.9 533.3,572.9 534.8,572.9 536.3,572.9 537.8,572.9 539.3,572.9 540.8,572.9 542.3,572.9 543.8,572.9 545.3,572.9 546.8,572.9 548.3,572.9 549.8,572.9 551.3,572.9 552.8,573.0 554.3,573.0 555.8,573.0 557.3,573.0 558.8,573.0 560.3,573.0 561.8,573.0 563.3,573.0 564.8,573.0 566.3,573.0 567.8,573.0 569.3,573.0 570.8,573.0 572.3,573.0 573.8,573.0 575.3,573.0 576.8,573.0 578.3,573.0 579.8,573.0 581.3,573.0 582.8,573.0 584.3,573.0 585.8,573.0 587.3,573.0 588.8,573.0 590.3,573.0 591.8,573.0 593.3,573.0 594.8,573.0 596.3,573.0 597.8,573.0 599.3,573.0 600.8,573.0 602.3,573.0 603.8,573.0 605.3,573.0 606.8,573.0 608.3,573.0 609.8,573.0 611.3,573.0 612.8,573.0 614.3,573.0 615.8,573.0 617.3,573.0 618.8,573.0 620.3,573.0 621.8,573.0 623.3,573.0 624.8,573.0 626.3,573.0 627.8,573.0 629.3,573.0 630.8,573.0 632.3,573.0 633.8,573.0 635.3,573.0 636.8,573.0 638.3,573.0 639.8,573.0 641.3,573.0 642.8,573.0 644.3,573.0 645.8,573.0 647.3,573.0 648.8,573.0 650.3,573.0 651.8,573.0 653.3,573.0 654.8,573.0 656.3,573.0 657.8,573.0 659.3,573.0 660.8,573.0 662.3,573.0 663.8,573.0 665.3,573.0 666.8,573.0 668.3,573.0 669.8,573.0 671.3,573.0 672.8,573.0 674.3,573.0 675.8,573.0 677.3,573.0 678.8,573.0 680.3,573.0 681.8,573.0 683.3,573.0 684.8,573.0 686.3,573.0 687.8,573.0 689.3,573.0 690.8,573.0 692.3,573.0 693.8,573.0 695.3,573.0 696.8,573.0 698.3,573.0 699.8,573.0 701.3,573.0 702.8,573.0 704.3,573.0 705.8,573.0 707.3,573.0 708.8,573.0 710.3,573.0 711.8,573.0 713.3,573.0 714.8,573.0 716.3,573.0 717.8,573.0 719.3,573.0 720.8,573.0 722.3,573.0 723.8,573.0 725.3,573.0 726.8,573.0 728.3,573.0 729.8,573.0 731.3,573.0 732.8,573.0 734.3,573.0 735.8,573.0 737.3,573.0 738.8,573.0 740.3,573.0 741.8,573.0 743.3,573.0 744.8,573.0 746.3,573.0 747.8,573.0 749.3,573.0 750.8,573.0 752.3,573.0 753.8,573.0 755.3,573.0 756.8,573.0 758.3,573.0 759.8,573.0 761.3,573.0 762.8,573.0 764.3,573.0 765.8,573.0 767.3,573.0 768.8,573.0 770.3,573.0 771.8,573.0 773.3,573.0 774.8,573.0 776.3,573.0 777.8,573.0 779.3,573.0 780.8,573.0 782.3,573.0 783.8,573.0 785.3,573.0 786.8,573.0 788.3,573.0 789.8,573.0 791.3,573.0 792.8,573.0 794.3,573.0 795.8,573.0 797.3,573.0 798.8,573.0 800.3,573.0 801.8,573.0 803.3,573.0 804.8,573.0 806.3,573.1 807.8,573.1 809.3,573.1 810.8,573.1 812.3,573.1 813.8,573.1 815.3,573.1 816.8,573.1 818.3,573.1 819.8,573.1 821.3,573.1 822.8,573.1 824.3,573.1 825.8,573.1 827.3,573.1 828.8,573.1 830.3,573.1 831.8,573.1 833.3,573.1 834.8,573.1 836.3,573.1 837.8,573.1 839.3,573.1 840.8,573.1 842.3,573.1 843.8,573.1 845.3,573.1 846.8,573.1 848.3,573.1 849.8,573.1 851.3,573.1 852.8,573.1 854.3,573.1 855.8,573.1 857.3,573.1 858.8,573.1 860.3,573.1 861.8,573.1 863.3,573.1 864.8,573.1 866.3,573.1 867.8,573.1 869.3,573.1 870.8,573.1 872.3,573.1 873.8,573.1 875.3,573.1 876.8,573.1 878.3,573.1 879.8,573.1 881.3,573.1 882.8,573.1 884.3,573.2 885.8,573.2 887.3,573.2 888.8,573.2 890.3,573.2 891.8,573.2 893.3,573.2 894.8,573.2 896.3,573.2 897.8,573.2 899.3,573.2 900.8,573.2 902.3,573.2 903.8,573.2 905.3,573.2 906.8,573.2 908.3,573.2 909.8,573.2 911.3,573.2 912.8,573.2 914.3,573.2 915.8,573.2 917.3,573.2 918.8,573.2 920.3,573.2 921.8,573.2 923.3,573.2 924.8,573.2 926.3,573.3 927.8,573.3 929.3,573.3 930.8,573.3 932.3,573.3 933.8,573.3 935.3,573.3 936.8,573.3 938.3,573.3 939.8,573.3 941.3,573.3 942.8,573.3 944.3,573.3 945.8,573.3 947.3,573.3 948.8,573.3 950.3,573.3 951.8,573.3 953.3,573.4 954.8,573.4 956.3,573.4 957.8,573.4 959.3,573.4 960.8,573.4 962.3,573.4 963.8,573.4 965.3,573.4 966.8,573.4 968.3,573.4 969.8,573.4 971.3,573.4 972.8,573.5 974.3,573.5 975.8,573.5 977.3,573.5 978.8,573.5 980.3,573.5 981.8,573.5 983.3,573.5 984.8,573.5 986.3,573.6 987.8,573.6 989.3,573.6 990.8,573.6 992.3,573.6 993.8,573.6 995.3,573.6 996.8,573.6 998.3,573.7 999.8,573.7 1001.3,573.7 1002.8,573.7 1004.3,573.7 1005.8,573.7 1007.3,573.8 1008.8,573.8 1010.3,573.8 1011.8,573.8 1013.3,573.8 1014.8,573.9 1016.3,573.9 1017.8,573.9 1019.3,573.9 1020.8,573.9 1022.3,574.0 1023.8,574.0 1025.3,574.0 1026.8,574.0 1028.3,574.1 1029.8,574.1 1031.3,574.1 1032.8,574.2 1034.3,574.2 1035.8,574.2 1037.3,574.3 1038.8,574.3 1040.3,574.3 1041.8,574.4 1043.3,574.4 1044.8,574.5 1046.3,574.5 1047.8,574.6 1049.3,574.6 1050.8,574.7 1052.3,574.7 1053.8,574.8 1055.3,574.8 1056.8,574.9 1058.3,575.0 1059.8,575.0 1061.3,575.1 1062.8,575.2 1064.3,575.3 1065.8,575.4 1067.3,575.5 1068.8,575.6 1070.3,575.7 1071.8,575.8 1073.3,575.9 1074.8,576.0 1076.3,576.1 1077.8,576.3 1079.3,576.4 1080.8,576.6 1082.3,576.7 1083.8,576.9 1085.3,577.1 1086.8,577.3 1088.3,577.6 1089.8,577.8 1091.3,578.1 1092.8,578.3 1094.3,578.6 1095.8,579.0 1097.3,579.3 1098.8,579.7 1100.3,580.2 1101.8,580.7 1103.3,581.2 1104.8,581.8 1106.3,582.5 1107.8,583.2 1109.3,584.0 1110.8,584.9 1112.3,585.9 1113.8,587.1 1115.3,588.4 1116.8,589.9 1118.3,591.6 1119.8,593.5 1121.3,595.7 1122.8,598.3 1124.3,601.2 1125.8,604.4 1127.3,608.1 1128.8,612.2 1130.3,616.6 1131.8,621.2 1133.3,625.8 1134.8,630.0 1136.3,633.4 1137.8,635.7 1139.3,636.5 1140.8,636.0 1142.3,634.2 1143.8,631.5 1145.3,628.4 1146.8,625.3 1148.3,622.4 1149.8,620.0 1151.3,618.1 1152.8,616.9 1154.3,616.3 1155.8,616.4 1157.3,617.2 1158.8,618.6 1160.3,620.6 1161.8,623.2 1163.3,626.2 1164.8,629.4 1166.3,632.4 1167.8,634.8 1169.3,636.3 1170.8,636.4 1172.3,635.1 1173.8,632.5 1175.3,628.8 1176.8,624.4 1178.3,619.8 1179.8,615.3 1181.3,610.9 1182.8,607.0 1184.3,603.4 1185.8,600.3 1187.3,597.5 1188.8,595.1 1190.3,592.9 1191.8,591.1 1193.3,589.4 1194.8,588.0 1196.3,586.7 1197.8,585.6 1199.3,584.6 1200.8,583.7 1202.3,583.0 1203.8,582.2 1205.3,581.6 1206.8,581.0 1208.3,580.5 1209.8,580.1 1211.3,579.6 1212.8,579.2 1214.3,578.9 1215.8,578.6 1217.3,578.3 1218.8,578.0 1220.3,577.7 1221.8,577.5 1223.3,577.3 1224.8,577.1 1226.3,576.9 1227.8,576.7 1229.3,576.5 1230.8,576.4 1232.3,576.2 1233.8,576.1 1235.3,576.0 1236.8,575.8 1238.3,575.7 1239.8,575.6 1241.3,575.5 1242.8,575.4 1244.3,575.3 1245.8,575.3 1247.3,575.2 1248.8,575.1 1250.3,575.0 1251.8,575.0 1253.3,574.9 1254.8,574.8 1256.3,574.8 1257.8,574.7 1259.3,574.7 1260.8,574.6 1262.3,574.6 1263.8,574.5 1265.3,574.5 1266.8,574.4 1268.3,574.4 1269.8,574.3 1271.3,574.3 1272.8,574.3 1274.3,574.2 1275.8,574.2 1277.3,574.2 1278.8,574.1 1280.3,574.1 1281.8,574.1 1283.3,574.0 1284.8,574.0 1286.3,574.0 1287.8,574.0 1289.3,573.9 1290.8,573.9 1292.3,573.9 1293.8,573.9 1295.3,573.8 1296.8,573.8 1298.3,573.8 1299.8,573.8 1301.3,573.8 1302.8,573.8 1304.3,573.7 1305.8,573.7 1307.3,573.7 1308.8,573.7 1310.3,573.7 1311.8,573.7 1313.3,573.6 1314.8,573.6 1316.3,573.6 1317.8,573.6 1319.3,573.6 1320.8,573.6 1322.3,573.6 1323.8,573.5 1325.3,573.5 1326.8,573.5 1328.3,573.5 1329.8,573.5 1331.3,573.5 1332.8,573.5 1334.3,573.5 1335.8,573.5 1337.3,573.5 1338.8,573.4 1340.3,573.4 1341.8,573.4 1343.3,573.4 1344.8,573.4 1346.3,573.4 1347.8,573.4 1349.3,573.4 1350.8,573.4 1352.3,573.4 1353.8,573.4 1355.3,573.4 1356.8,573.4 1358.3,573.3 1359.8,573.3 1361.3,573.3 1362.8,573.3 1364.3,573.3 1365.8,573.3 1367.3,573.3 1368.8,573.3 1370.3,573.3 1371.8,573.3 1373.3,573.3 1374.8,573.3 1376.3,573.3 1377.8,573.3 1379.3,573.3 1380.8,573.3 1382.3,573.3 1383.8,573.3 1385.3,573.2 1386.8,573.2 1388.3,573.2 1389.8,573.2 1391.3,573.2 1392.8,573.2 1394.3,573.2 1395.8,573.2 1397.3,573.2 1398.8,573.2 1400.3,573.2 1401.8,573.2 1403.3,573.2 1404.8,573.2 1406.3,573.2 1407.8,573.2 1409.3,573.2 1410.8,573.2 1412.3,573.2 1413.8,573.2 1415.3,573.2 1416.8,573.2 1418.3,573.2 1419.8,573.2 1421.3,573.2 1422.8,573.2 1424.3,573.2 1425.8,573.1 1427.3,573.1 1428.8,573.1 1430.3,573.1 1431.8,573.1 1433.3,573.1 1434.8,573.1 1436.3,573.1 1437.8,573.1 1439.3,573.1 1440.8,573.1 1442.3,573.1 1443.8,573.1 1445.3,573.1 1446.8,573.1 1448.3,573.1 1449.8,573.1 1451.3,573.1 1452.8,573.1 1454.3,573.1 1455.8,573.1 1457.3,573.1 1458.8,573.1 1460.3,573.1 1461.8,573.1 1463.3,573.1 1464.8,573.1 1466.3,573.1 1467.8,573.1 1469.3,573.1 1470.8,573.1 1472.3,573.1 1473.8,573.1 1475.3,573.1 1476.8,573.1 1478.3,573.1 1479.8,573.1 1481.3,573.1 1482.8,573.1 1484.3,573.1 1485.8,573.1 1487.3,573.1 1488.8,573.1 1490.3,573.1 1491.8,573.1 1493.3,573.1 1494.8,573.1 1496.3,573.1 1497.8,573.1 1499.3,573.1 1500.8,573.1 1502.3,573.1 1503.8,573.0 1505.3,573.0 1506.8,573.0 1508.3,573.0 1509.8,573.0 1511.3,573.0 1512.8,573.0 1514.3,573.0 1515.8,573.0 1517.3,573.0 1518.8,573.0 1520.3,573.0 1521.8,573.0 1523.3,573.0 1524.8,573.0 1526.3,573.0 1527.8,573.0 1529.3,573.0 1530.8,573.0 1532.3,573.0 1533.8,573.0 1535.3,573.0 1536.8,573.0 1538.3,573.0 1539.8,573.0 1541.3,573.0 1542.8,573.0 1544.3,573.0 1545.8,573.0 1547.3,573.0 1548.8,573.0 1550.3,573.0 1551.8,573.0 1553.3,573.0 1554.8,573.0 1556.3,573.0 1557.8,573.0 1559.3,573.0 1560.8,573.0 1562.3,573.0 1563.8,573.0 1565.3,573.0 1566.8,573.0 1568.3,573.0 1569.8,573.0 1571.3,573.0 1572.8,573.0 1574.3,573.0 1575.8,573.0 1577.3,573.0 1578.8,573.0 1580.3,573.0 1581.8,573.0 1583.3,573.0 1584.8,573.0 1586.3,573.0 1587.8,573.0 1589.3,573.0 1590.8,573.0 1592.3,573.0 1593.8,573.0 1595.3,573.0 1596.8,573.0 1598.3,573.0 1599.8,573.0 1601.3,573.0 1602.8,573.0 1604.3,573.0 1605.8,573.0 1607.3,573.0 1608.8,573.0 1610.3,573.0 1611.8,573.0 1613.3,573.0 1614.8,573.0 1616.3,573.0 1617.8,573.0 1619.3,573.0 1620.8,573.0 1622.3,573.0 1623.8,573.0 1625.3,573.0 1626.8,573.0 1628.3,573.0 1629.8,573.0 1631.3,573.0 1632.8,573.0 1634.3,573.0 1635.8,573.0 1637.3,573.0 1638.8,573.0 1640.3,573.0 1641.8,573.0 1643.3,573.0 1644.8,573.0 1646.3,573.0 1647.8,573.0 1649.3,573.0 1650.8,573.0 1652.3,573.0 1653.8,573.0 1655.3,573.0 1656.8,573.0 1658.3,573.0 1659.8,573.0 1661.3,573.0 1662.8,573.0 1664.3,573.0 1665.8,573.0 1667.3,573.0 1668.8,573.0 1670.3,573.0 1671.8,573.0 1673.3,573.0 1674.8,573.0 1676.3,573.0 1677.8,573.0 1679.3,573.0 1680.8,573.0 1682.3,573.0 1683.8,573.0 1685.3,573.0 1686.8,573.0 1688.3,573.0 1689.8,573.0 1691.3,573.0 1692.8,573.0 1694.3,573.0 1695.8,573.0 1697.3,573.0 1698.8,573.0 1700.3,573.0 1701.8,573.0 1703.3,573.0 1704.8,573.0 1706.3,573.0 1707.8,573.0 1709.3,573.0 1710.8,573.0 1712.3,573.0 1713.8,573.0 1715.3,573.0 1716.8,573.0 1718.3,573.0 1719.8,573.0 1721.3,573.0 1722.8,573.0 1724.3,573.0 1725.8,573.0 1727.3,573.0 1728.8,573.0 1730.3,573.0 1731.8,573.0 1733.3,573.0 1734.8,573.0 1736.3,573.0 1737.8,573.0 1739.3,573.0 1740.8,573.0 1742.3,573.0 1743.8,573.0 1745.3,573.0 1746.8,573.0 1748.3,573.0 1749.8,573.0 1751.3,573.0 1752.8,573.0 1754.3,573.0 1755.8,573.0 1757.3,573.0 1758.8,572.9 1760.3,572.9 1761.8,572.9 1763.3,572.9 1764.8,572.9 1766.3,572.9 1767.8,572.9 1769.3,572.9 1770.8,572.9 1772.3,572.9 1773.8,572.9 1775.3,572.9 1776.8,572.9 1778.3,572.9 1779.8,572.9 1781.3,572.9 1782.8,572.9 1784.3,572.9 1785.8,572.9 1787.3,572.9 1788.8,572.9 1790.3,572.9 1791.8,572.9 1793.3,572.9 1794.8,572.9 1796.3,572.9 1797.8,572.9 1799.3,572.9 1800.8,572.9 1802.3,572.9 1803.8,572.9 1805.3,572.9 1806.8,572.9 1808.3,572.9 1809.8,572.9 1811.3,572.9 1812.8,572.9 1814.3,572.9 1815.8,572.9 1817.3,572.9 1818.8,572.9 1820.3,572.9 1821.8,572.9 1823.3,572.9 1824.8,572.9 1826.3,572.9 1827.8,572.9 1829.3,572.9 1830.8,572.9 1832.3,572.9 1833.8,572.9 1835.3,572.9 1836.8,572.9 1838.3,572.9 1839.8,572.9 1841.3,572.9 1842.8,572.9 1844.3,572.9 1845.8,572.9 1847.3,572.9 1848.8,572.9 1850.3,572.9 1851.8,572.9 1853.3,572.9 1854.8,572.9 1856.3,572.9 1857.8,572.9 1859.3,572.9 1860.8,572.9 1862.3,572.9 1863.8,572.9 1865.3,572.9 1866.8,572.9 1868.3,572.9 1869.8,572.9 1871.3,572.9 1872.8,572.9 1874.3,572.9 1875.8,572.9 1877.3,572.9 1878.8,572.9 1880.3,572.9 1881.8,572.9 1883.3,572.9 1884.8,572.9 1886.3,572.9 1887.8,572.9 1889.3,572.9 1890.8,572.9 1892.3,572.9 1893.8,572.9 1895.3,572.9 1896.8,572.9 1898.3,572.9 1899.8,572.9 1901.3,572.9 1902.8,572.9 1904.3,572.9 1905.8,572.9 1907.3,572.9 1908.8,572.9 1910.3,572.9 1911.8,572.9 1913.3,572.9 1914.8,572.9 1916.3,572.9 1917.8,572.9 1919.3,572.9 1920.8,572.9 1922.3,572.9 1923.8,572.9 1925.3,572.9 1926.8,572.9 1928.3,572.9 1929.8,572.9 1931.3,572.9 1932.8,572.9 1934.3,572.9 1935.8,572.9 1937.3,572.9 1938.8,572.9 1940.3,572.9 1941.8,572.9 1943.3,572.9 1944.8,572.9 1946.3,572.9 1947.8,572.9 1949.3,572.9 1950.8,572.9 1952.3,572.9 1953.8,572.9 1955.3,572.9 1956.8,572.9 1958.3,572.9 1959.8,572.9 1961.3,572.9 1962.8,572.9 1964.3,572.9 1965.8,572.9 1967.3,572.9 1968.8,572.9 1970.3,572.9 1971.5,572.9"/>
<polyline fill="none" stroke="#f00" stroke-width="7.2" stroke-linejoin="round" stroke-linecap="round" points="308.4,914.6 309.9,915.5 311.4,916.3 312.9,917.2 314.4,918.0 315.9,918.8 317.4,919.6 318.9,920.3 320.4,921.1 321.9,921.9 323.4,922.6 324.9,923.3 326.4,923.9 327.9,924.5 329.4,925.1 330.9,925.5 332.4,925.9 333.9,926.2 335.4,926.4 336.9,926.7 338.4,926.9 339.9,927.1 341.4,927.2 342.9,927.4 344.4,927.5 345.9,927.6 347.4,927.7 348.9,927.8 350.4,927.9 351.9,928.0 353.4,928.0 354.9,928.1 356.4,928.2 357.9,928.2 359.4,928.3 360.9,928.4 362.4,928.4 363.9,928.5 365.4,928.6 366.9,928.7 368.4,928.7 369.9,928.8 371.4,928.9 372.9,928.9 374.4,929.0 375.9,929.1 377.4,929.1 378.9,929.2 380.4,929.3 381.9,929.4 383.4,929.4 384.9,929.5 386.4,929.6 387.9,929.7 389.4,929.8 390.9,929.9 392.4,929.9 393.9,930.0 395.4,930.1 396.9,930.2 398.4,930.3 399.9,930.4 401.4,930.5 402.9,930.6 404.4,930.7 405.9,930.8 407.4,930.9 408.9,931.0 410.4,931.1 411.9,931.1 413.4,931.2 414.9,931.3 416.4,931.4 417.9,931.5 419.4,931.6 420.9,931.7 422.4,931.8 423.9,931.9 425.4,932.0 426.9,932.1 428.4,932.2 429.9,932.3 431.4,932.3 432.9,932.4 434.4,932.5 435.9,932.6 437.4,932.7 438.9,932.8 440.4,932.9 441.9,933.0 443.4,933.1 444.9,933.2 446.4,933.3 447.9,933.4 449.4,933.4 450.9,933.5 452.4,933.6 453.9,933.7 455.4,933.7 456.9,933.7 458.4,933.7 459.9,933.7 461.4,933.7 462.9,933.6 464.4,933.5 465.9,933.4 467.4,933.3 468.9,933.2 470.4,933.1 471.9,932.9 473.4,932.8 474.9,932.6 476.4,932.5 477.9,932.3 479.4,932.2 480.9,932.0 482.4,931.9 483.9,931.7 485.4,931.6 486.9,931.5 488.4,931.4 489.9,931.3 491.4,931.2 492.9,931.1 494.4,931.0 495.9,931.0 497.4,930.9 498.9,930.9 500.4,930.8 501.9,930.8 503.4,930.7 504.9,930.7 506.4,930.6 507.9,930.6 509.4,930.5 510.9,930.5 512.4,930.4 513.9,930.3 515.4,930.3 516.9,930.2 518.4,930.2 519.9,930.1 521.4,930.1 522.9,930.0 524.4,930.0 525.9,929.9 527.4,929.9 528.9,929.8 530.4,929.8 531.9,929.7 533.4,929.7 534.9,929.6 536.4,929.5 537.9,929.5 539.4,929.4 540.9,929.4 542.4,929.3 543.9,929.3 545.4,929.3 546.9,929.2 548.4,929.2 549.9,929.1 551.4,929.1 552.9,929.0 554.4,929.0 555.9,928.9 557.4,928.9 558.9,928.8 560.4,928.8 561.9,928.7 563.4,928.7 564.9,928.6 566.4,928.6 567.9,928.5 569.4,928.4 570.9,928.3 572.4,928.3 573.9,928.2 575.4,928.1 576.9,928.0 578.4,927.9 579.9,927.8 581.4,927.6 582.9,927.5 584.4,927.4 585.9,927.2 587.4,927.1 588.9,926.9 590.4,926.7 591.9,926.6 593.4,926.4 594.9,926.2 596.4,926.1 597.9,925.9 599.4,925.8 600.9,925.6 602.4,925.4 603.9,925.3 605.4,925.1 606.9,925.0 608.4,924.8 609.9,924.7 611.4,924.5 612.9,924.4 614.4,924.2 615.9,924.1 617.4,923.9 618.9,923.8 620.4,923.7 621.9,923.5 623.4,923.4 624.9,923.2 626.4,923.1 627.9,922.9 629.4,922.8 630.9,922.7 632.4,922.6 633.9,922.5 635.4,922.5 636.9,922.4 638.4,922.5 639.9,922.6 641.4,922.7 642.9,922.9 644.4,923.2 645.9,923.5 647.4,923.9 648.9,924.4 650.4,925.0 651.9,925.5 653.4,926.2 654.9,926.8 656.4,927.4 657.9,928.1 659.4,928.7 660.9,929.4 662.4,930.1 663.9,930.9 665.4,931.6 666.9,932.3 668.4,933.0 669.9,933.7 671.4,934.3 672.9,934.9 674.4,935.4 675.9,935.8 677.4,936.1 678.9,936.4 680.4,936.6 681.9,936.8 683.4,936.9 684.9,937.0 686.4,937.1 687.9,937.2 689.4,937.2 690.9,937.3 692.4,937.4 693.9,937.4 695.4,937.5 696.9,937.6 698.4,937.7 699.9,937.8 701.4,937.9 702.9,938.0 704.4,938.1 705.9,938.2 707.4,938.2 708.9,938.3 710.4,938.4 711.9,938.5 713.4,938.6 714.9,938.7 716.4,938.8 717.9,938.9 719.4,938.9 720.9,939.0 722.4,939.1 723.9,939.2 725.4,939.3 726.9,939.3 728.4,939.4 729.9,939.5 731.4,939.6 732.9,939.6 734.4,939.7 735.9,939.8 737.4,939.8 738.9,939.9 740.4,939.9 741.9,939.9 743.4,940.0 744.9,940.0 746.4,940.0 747.9,940.0 749.4,940.1 750.9,940.1 752.4,940.1 753.9,940.1 755.4,940.1 756.9,940.1 758.4,940.1 759.9,940.1 761.4,940.1 762.9,940.1 764.4,940.1 765.9,940.2 767.4,940.2 768.9,940.2 770.4,940.2 771.9,940.3 773.4,940.3 774.9,940.4 776.4,940.4 777.9,940.5 779.4,940.6 780.9,940.7 782.4,940.7 783.9,940.9 785.4,941.0 786.9,941.1 788.4,941.2 789.9,941.4 791.4,941.5 792.9,941.7 794.4,941.9 795.9,942.0 797.4,942.2 798.9,942.4 800.4,942.6 801.9,942.8 803.4,942.9 804.9,943.1 806.4,943.3 807.9,943.4 809.4,943.6 810.9,943.8 812.4,943.9 813.9,944.1 815.4,944.2 816.9,944.3 818.4,944.5 819.9,944.6 821.4,944.8 822.9,944.9 824.4,945.0 825.9,945.2 827.4,945.3 828.9,945.4 830.4,945.5 831.9,945.5 833.4,945.6 834.9,945.6 836.4,945.6 837.9,945.6 839.4,945.6 840.9,945.5 842.4,945.4 843.9,945.4 845.4,945.3 846.9,945.2 848.4,945.0 849.9,944.9 851.4,944.8 852.9,944.7 854.4,944.5 855.9,944.4 857.4,944.3 858.9,944.1 860.4,944.0 861.9,943.9 863.4,943.8 864.9,943.7 866.4,943.6 867.9,943.5 869.4,943.5 870.9,943.4 872.4,943.4 873.9,943.3 875.4,943.3 876.9,943.2 878.4,943.1 879.9,943.1 881.4,943.0 882.9,943.0 884.4,943.0 885.9,942.9 887.4,942.9 888.9,942.8 890.4,942.8 891.9,942.7 893.4,942.7 894.9,942.7 896.4,942.6 897.9,942.6 899.4,942.6 900.9,942.5 902.4,942.5 903.9,942.5 905.4,942.4 906.9,942.4 908.4,942.4 909.9,942.4 911.4,942.4 912.9,942.4 914.4,942.4 915.9,942.4 917.4,942.4 918.9,942.4 920.4,942.4 921.9,942.4 923.4,942.5 924.9,942.5 926.4,942.6 927.9,942.6 929.4,942.7 930.9,942.8 932.4,942.9 933.9,943.0 935.4,943.1 936.9,943.2 938.4,943.3 939.9,943.5 941.4,943.6 942.9,943.8 944.4,943.9 945.9,944.1 947.4,944.4 948.9,944.6 950.4,944.9 951.9,945.2 953.4,945.6 954.9,945.9 956.4,946.3 957.9,946.7 959.4,947.0 960.9,947.4 962.4,947.9 963.9,948.3 965.4,948.7 966.9,949.1 968.4,949.5 969.9,949.9 971.4,950.3 972.9,950.7 974.4,951.1 975.9,951.5 977.4,952.0 978.9,952.5 980.4,953.1 981.9,953.7 983.4,954.4 984.9,955.1 986.4,955.9 987.9,956.7 989.4,957.6 990.9,958.6 992.4,959.6 993.9,960.6 995.4,961.6 996.9,962.7 998.4,963.7 999.9,964.8 1001.4,965.8 1002.9,966.9 1004.4,968.0 1005.9,969.0 1007.4,970.0 1008.9,971.0 1010.4,972.0 1011.9,973.0 1013.4,974.0 1014.9,975.1 1016.4,976.1 1017.9,977.0 1019.4,978.0 1020.9,978.8 1022.4,979.6 1023.9,980.3 1025.4,980.8 1026.9,981.2 1028.4,981.4 1029.9,981.3 1031.4,981.1 1032.9,980.7 1034.4,980.2 1035.9,979.6 1037.4,979.0 1038.9,978.3 1040.4,977.7 1041.9,977.1 1043.4,976.7 1044.9,976.2 1046.4,975.7 1047.9,975.2 1049.4,974.6 1050.9,974.1 1052.4,973.5 1053.9,973.0 1055.4,972.4 1056.9,971.9 1058.4,971.4 1059.9,970.9 1061.4,970.4 1062.9,970.1 1064.4,969.7 1065.9,969.5 1067.4,969.3 1068.9,969.2 1070.4,969.2 1071.9,969.3 1073.4,969.6 1074.9,970.3 1076.4,971.5 1077.9,972.9 1079.4,974.6 1080.9,976.6 1082.4,978.8 1083.9,981.1 1085.4,983.6 1086.9,986.1 1088.4,988.6 1089.9,991.1 1091.4,993.5 1092.9,995.8 1094.4,998.0 1095.9,1000.0 1097.4,1002.1 1098.9,1004.3 1100.4,1006.8 1101.9,1009.5 1103.4,1012.4 1104.9,1015.7 1106.4,1019.2 1107.9,1023.1 1109.4,1027.3 1110.9,1031.9 1112.4,1036.9 1113.9,1042.2 1115.4,1047.9 1116.9,1053.8 1118.4,1059.9 1119.9,1066.1 1121.4,1072.3 1122.9,1078.4 1124.4,1084.0 1125.9,1089.2 1127.4,1093.6 1128.9,1097.1 1130.4,1099.5 1131.9,1100.7 1133.4,1100.8 1134.9,1099.8 1136.4,1097.9 1137.9,1095.1 1139.4,1091.9 1140.9,1088.3 1142.4,1084.6 1143.9,1081.0 1145.4,1077.6 1146.9,1074.5 1148.4,1071.8 1149.9,1069.7 1151.4,1068.1 1152.9,1067.0 1154.4,1066.5 1155.9,1066.7 1157.4,1067.5 1158.9,1069.0 1160.4,1071.2 1161.9,1073.9 1163.4,1077.2 1164.9,1081.1 1166.4,1085.3 1167.9,1089.8 1169.4,1094.5 1170.9,1099.1 1172.4,1103.6 1173.9,1107.5 1175.4,1110.8 1176.9,1113.2 1178.4,1114.4 1179.9,1114.2 1181.4,1112.5 1182.9,1109.4 1184.4,1105.0 1185.9,1099.4 1187.4,1093.0 1188.9,1085.9 1190.4,1078.4 1191.9,1070.7 1193.4,1063.0 1194.9,1055.5 1196.4,1048.2 1197.9,1041.4 1199.4,1035.0 1200.9,1029.1 1202.4,1023.8 1203.9,1019.0 1205.4,1014.6 1206.9,1010.6 1208.4,1007.0 1209.9,1003.7 1211.4,1000.9 1212.9,998.4 1214.4,996.3 1215.9,994.5 1217.4,993.0 1218.9,991.9 1220.4,991.0 1221.9,990.4 1223.4,990.0 1224.9,989.7 1226.4,989.5 1227.9,989.3 1229.4,989.2 1230.9,989.0 1232.4,988.8 1233.9,988.7 1235.4,988.7 1236.9,988.7 1238.4,988.7 1239.9,988.7 1241.4,988.8 1242.9,988.8 1244.4,988.7 1245.9,988.6 1247.4,988.4 1248.9,988.1 1250.4,987.7 1251.9,987.2 1253.4,986.5 1254.9,985.7 1256.4,984.7 1257.9,983.8 1259.4,982.7 1260.9,981.7 1262.4,980.5 1263.9,979.4 1265.4,978.2 1266.9,977.0 1268.4,975.8 1269.9,974.6 1271.4,973.4 1272.9,972.1 1274.4,970.9 1275.9,969.6 1277.4,968.3 1278.9,967.0 1280.4,965.7 1281.9,964.4 1283.4,963.1 1284.9,962.0 1286.4,960.9 1287.9,959.9 1289.4,959.0 1290.9,958.2 1292.4,957.4 1293.9,956.6 1295.4,955.9 1296.9,955.3 1298.4,954.7 1299.9,954.2 1301.4,953.6 1302.9,953.2 1304.4,952.7 1305.9,952.3 1307.4,951.8 1308.9,951.4 1310.4,951.0 1311.9,950.6 1313.4,950.2 1314.9,949.8 1316.4,949.4 1317.9,949.0 1319.4,948.6 1320.9,948.2 1322.4,947.9 1323.9,947.5 1325.4,947.2 1326.9,946.9 1328.4,946.6 1329.9,946.4 1331.4,946.1 1332.9,945.9 1334.4,945.7 1335.9,945.6 1337.4,945.4 1338.9,945.3 1340.4,945.2 1341.9,945.2 1343.4,945.1 1344.9,945.1 1346.4,945.0 1347.9,945.0 1349.4,944.9 1350.9,944.9 1352.4,944.8 1353.9,944.8 1355.4,944.8 1356.9,944.7 1358.4,944.7 1359.9,944.6 1361.4,944.6 1362.9,944.6 1364.4,944.5 1365.9,944.5 1367.4,944.5 1368.9,944.4 1370.4,944.4 1371.9,944.4 1373.4,944.4 1374.9,944.3 1376.4,944.3 1377.9,944.3 1379.4,944.3 1380.9,944.2 1382.4,944.2 1383.9,944.2 1385.4,944.2 1386.9,944.2 1388.4,944.1 1389.9,944.1 1391.4,944.1 1392.9,944.1 1394.4,944.1 1395.9,944.0 1397.4,944.0 1398.9,944.0 1400.4,944.0 1401.9,944.0 1403.4,944.0 1404.9,944.0 1406.4,943.9 1407.9,943.9 1409.4,943.9 1410.9,943.9 1412.4,943.9 1413.9,943.9 1415.4,943.9 1416.9,943.8 1418.4,943.8 1419.9,943.8 1421.4,943.8 1422.9,943.8 1424.4,943.8 1425.9,943.8 1427.4,943.7 1428.9,943.7 1430.4,943.7 1431.9,943.7 1433.4,943.7 1434.9,943.7 1436.4,943.7 1437.9,943.7 1439.4,943.6 1440.9,943.6 1442.4,943.6 1443.9,943.6 1445.4,943.6 1446.9,943.6 1448.4,943.6 1449.9,943.5 1451.4,943.5 1452.9,943.5 1454.4,943.5 1455.9,943.5 1457.4,943.5 1458.9,943.4 1460.4,943.4 1461.9,943.2 1463.4,943.1 1464.9,942.9 1466.4,942.7 1467.9,942.5 1469.4,942.2 1470.9,942.0 1472.4,941.7 1473.9,941.5 1475.4,941.2 1476.9,941.0 1478.4,940.8 1479.9,940.6 1481.4,940.4 1482.9,940.3 1484.4,940.2 1485.9,940.1 1487.4,940.1 1488.9,940.0 1490.4,940.0 1491.9,939.9 1493.4,939.9 1494.9,939.8 1496.4,939.8 1497.9,939.8 1499.4,939.8 1500.9,939.7 1502.4,939.7 1503.9,939.7 1505.4,939.7 1506.9,939.7 1508.4,939.7 1509.9,939.6 1511.4,939.6 1512.9,939.6 1514.4,939.6 1515.9,939.6 1517.4,939.6 1518.9,939.6 1520.4,939.6 1521.9,939.6 1523.4,939.6 1524.9,939.6 1526.4,939.5 1527.9,939.5 1529.4,939.5 1530.9,939.5 1532.4,939.5 1533.9,939.5 1535.4,939.4 1536.9,939.4 1538.4,939.4 1539.9,939.4 1541.4,939.3 1542.9,939.3 1544.4,939.3 1545.9,939.2 1547.4,939.2 1548.9,939.2 1550.4,939.1 1551.9,939.1 1553.4,939.0 1554.9,939.0 1556.4,939.0 1557.9,938.9 1559.4,938.9 1560.9,938.8 1562.4,938.8 1563.9,938.7 1565.4,938.7 1566.9,938.6 1568.4,938.5 1569.9,938.5 1571.4,938.4 1572.9,938.3 1574.4,938.3 1575.9,938.2 1577.4,938.1 1578.9,938.0 1580.4,937.9 1581.9,937.8 1583.4,937.7 1584.9,937.6 1586.4,937.5 1587.9,937.4 1589.4,937.3 1590.9,937.2 1592.4,937.1 1593.9,936.9 1595.4,936.8 1596.9,936.7 1598.4,936.3 1599.9,935.8 1601.4,935.0 1602.9,934.2 1604.4,933.2 1605.9,932.3 1607.4,931.4 1608.9,930.6 1610.4,930.0 1611.9,929.5 1613.4,929.1 1614.9,928.7 1616.4,928.3 1617.9,927.9 1619.4,927.6 1620.9,927.3 1622.4,927.0 1623.9,926.7 1625.4,926.5 1626.9,926.3 1628.4,926.1 1629.9,926.0 1631.4,925.9 1632.9,925.8 1634.4,925.7 1635.9,925.6 1637.4,925.5 1638.9,925.4 1640.4,925.4 1641.9,925.3 1643.4,925.2 1644.9,925.2 1646.4,925.2 1647.9,925.2 1649.4,925.2 1650.9,925.2 1652.4,925.3 1653.9,925.3 1655.4,925.4 1656.9,925.5 1658.4,925.6 1659.9,925.8 1661.4,925.9 1662.9,926.1 1664.4,926.2 1665.9,926.4 1667.4,926.5 1668.9,926.7 1670.4,926.9 1671.9,927.1 1673.4,927.2 1674.9,927.4 1676.4,927.6 1677.9,927.8 1679.4,927.9 1680.9,928.1 1682.4,928.3 1683.9,928.4 1685.4,928.5 1686.9,928.7 1688.4,928.8 1689.9,928.9 1691.4,929.0 1692.9,929.1 1694.4,929.2 1695.9,929.2 1697.4,929.3 1698.9,929.4 1700.4,929.5 1701.9,929.6 1703.4,929.6 1704.9,929.7 1706.4,929.8 1707.9,929.9 1709.4,929.9 1710.9,930.0 1712.4,930.1 1713.9,930.1 1715.4,930.2 1716.9,930.3 1718.4,930.4 1719.9,930.4 1721.4,930.5 1722.9,930.6 1724.4,930.6 1725.9,930.7 1727.4,930.8 1728.9,930.8 1730.4,930.9 1731.9,931.0 1733.4,931.1 1734.9,931.1 1736.4,931.2 1737.9,931.3 1739.4,931.3 1740.9,931.4 1742.4,931.5 1743.9,931.5 1745.4,931.6 1746.9,931.7 1748.4,931.7 1749.9,931.8 1751.4,931.8 1752.9,931.9 1754.4,932.0 1755.9,932.1 1757.4,932.1 1758.9,932.2 1760.4,932.3 1761.9,932.3 1763.4,932.4 1764.9,932.5 1766.4,932.5 1767.9,932.6 1769.4,932.7 1770.9,932.8 1772.4,932.8 1773.9,932.9 1775.4,933.0 1776.9,933.0 1778.4,933.1 1779.9,933.2 1781.4,933.2 1782.9,933.3 1784.4,933.3 1785.9,933.4 1787.4,933.4 1788.9,933.5 1790.4,933.6 1791.9,933.6 1793.4,933.6 1794.9,933.7 1796.4,933.7 1797.9,933.8 1799.4,933.8 1800.9,933.8 1802.4,933.9 1803.9,933.9 1805.4,933.9 1806.9,933.9 1808.4,933.9 1809.9,934.0 1811.4,934.0 1812.9,934.0 1814.4,934.0 1815.9,933.9 1817.4,933.9 1818.9,933.9 1820.4,933.8 1821.9,933.7 1823.4,933.7 1824.9,933.6 1826.4,933.5 1827.9,933.4 1829.4,933.3 1830.9,933.2 1832.4,933.0 1833.9,932.9 1835.4,932.8 1836.9,932.6 1838.4,932.5 1839.9,932.4 1841.4,932.2 1842.9,932.1 1844.4,931.9 1845.9,931.8 1847.4,931.7 1848.9,931.5 1850.4,931.4 1851.9,931.3 1853.4,931.2 1854.9,931.0 1856.4,930.9 1857.9,930.8 1859.4,930.7 1860.9,930.6 1862.4,930.6 1863.9,930.5 1865.4,930.4 1866.9,930.3 1868.4,930.2 1869.9,930.2 1871.4,930.1 1872.9,930.0 1874.4,930.0 1875.9,929.9 1877.4,929.8 1878.9,929.8 1880.4,929.7 1881.9,929.7 1883.4,929.6 1884.9,929.5 1886.4,929.5 1887.9,929.4 1889.4,929.4 1890.9,929.3 1892.4,929.3 1893.9,929.2 1895.4,929.1 1896.9,929.1 1898.4,929.0 1899.9,929.0 1901.4,928.9 1902.9,928.9 1904.4,928.8 1905.9,928.7 1907.4,928.7 1908.9,928.6 1910.4,928.6 1911.9,928.5 1913.4,928.4 1914.9,928.4 1916.4,928.3 1917.9,928.2 1919.4,928.1 1920.9,928.1 1922.4,928.0 1923.9,927.9 1925.4,927.8 1926.9,927.7 1928.4,927.5 1929.9,927.3 1931.4,927.0 1932.9,926.8 1934.4,926.4 1935.9,926.1 1937.4,925.7 1938.9,925.3 1940.4,924.9 1941.9,924.5 1943.4,924.0 1944.9,923.5 1946.4,922.9 1947.9,922.3 1949.4,921.7 1950.9,921.0 1952.4,920.2 1953.9,919.4 1955.4,918.6 1956.9,917.8 1958.4,916.9 1959.9,915.9 1961.4,915.0 1962.9,914.0 1964.4,913.0 1965.9,912.0 1966.9,911.3"/>
<polyline fill="none" stroke="#f00" stroke-width="7.2" stroke-linejoin="round" stroke-linecap="round" points="310.6,914.6 312.1,915.5 313.6,916.3 315.1,917.2 316.6,918.0 318.1,918.8 319.6,919.6 321.1,920.3 322.6,921.1 324.1,921.9 325.6,922.6 327.1,923.3 328.6,923.9 330.1,924.5 331.6,925.1 333.1,925.5 334.6,925.9 336.1,926.2 337.6,926.4 339.1,926.7 340.6,926.9 342.1,927.1 343.6,927.2 345.1,927.4 346.6,927.5 348.1,927.6 349.6,927.7 351.1,927.8 352.6,927.9 354.1,928.0 355.6,928.0 357.1,928.1 358.6,928.2 360.1,928.2 361.6,928.3 363.1,928.4 364.6,928.4 366.1,928.5 367.6,928.6 369.1,928.7 370.6,928.7 372.1,928.8 373.6,928.9 375.1,928.9 376.6,929.0 378.1,929.1 379.6,929.1 381.1,929.2 382.6,929.3 384.1,929.4 385.6,929.4 387.1,929.5 388.6,929.6 390.1,929.7 391.6,929.8 393.1,929.9 394.6,929.9 396.1,930.0 397.6,930.1 399.1,930.2 400.6,930.3 402.1,930.4 403.6,930.5 405.1,930.6 406.6,930.7 408.1,930.8 409.6,930.9 411.1,931.0 412.6,931.1 414.1,931.1 415.6,931.2 417.1,931.3 418.6,931.4 420.1,931.5 421.6,931.6 423.1,931.7 424.6,931.8 426.1,931.9 427.6,932.0 429.1,932.1 430.6,932.2 432.1,932.3 433.6,932.3 435.1,932.4 436.6,932.5 438.1,932.6 439.6,932.7 441.1,932.8 442.6,932.9 444.1,933.0 445.6,933.1 447.1,933.2 448.6,933.3 450.1,933.4 451.6,933.4 453.1,933.5 454.6,933.6 456.1,933.7 457.6,933.7 459.1,933.7 460.6,933.7 462.1,933.7 463.6,933.7 465.1,933.6 466.6,933.5 468.1,933.4 469.6,933.3 471.1,933.2 472.6,933.1 474.1,932.9 475.6,932.8 477.1,932.6 478.6,932.5 480.1,932.3 481.6,932.2 483.1,932.0 484.6,931.9 486.1,931.7 487.6,931.6 489.1,931.5 490.6,931.4 492.1,931.3 493.6,931.2 495.1,931.1 496.6,931.0 498.1,931.0 499.6,930.9 501.1,930.9 502.6,930.8 504.1,930.8 505.6,930.7 507.1,930.7 508.6,930.6 510.1,930.6 511.6,930.5 513.1,930.5 514.6,930.4 516.1,930.3 517.6,930.3 519.1,930.2 520.6,930.2 522.1,930.1 523.6,930.1 525.1,930.0 526.6,930.0 528.1,929.9 529.6,929.9 531.1,929.8 532.6,929.8 534.1,929.7 535.6,929.7 537.1,929.6 538.6,929.5 540.1,929.5 541.6,929.4 543.1,929.4 544.6,929.3 546.1,929.3 547.6,929.3 549.1,929.2 550.6,929.2 552.1,929.1 553.6,929.1 555.1,929.0 556.6,929.0 558.1,928.9 559.6,928.9 561.1,928.8 562.6,928.8 564.1,928.7 565.6,928.7 567.1,928.6 568.6,928.6 570.1,928.5 571.6,928.4 573.1,928.3 574.6,928.3 576.1,928.2 577.6,928.1 579.1,928.0 580.6,927.9 582.1,927.8 583.6,927.6 585.1,927.5 586.6,927.4 588.1,927.2 589.6,927.1 591.1,926.9 592.6,926.7 594.1,926.6 595.6,926.4 597.1,926.2 598.6,926.1 600.1,925.9 601.6,925.8 603.1,925.6 604.6,925.4 606.1,925.3 607.6,925.1 609.1,925.0 610.6,924.8 612.1,924.7 613.6,924.5 615.1,924.4 616.6,924.2 618.1,924.1 619.6,923.9 621.1,923.8 622.6,923.7 624.1,923.5 625.6,923.4 627.1,923.2 628.6,923.1 630.1,922.9 631.6,922.8 633.1,922.7 634.6,922.6 636.1,922.5 637.6,922.5 639.1,922.4 640.6,922.5 642.1,922.6 643.6,922.7 645.1,922.9 646.6,923.2 648.1,923.5 649.6,923.9 651.1,924.4 652.6,925.0 654.1,925.5 655.6,926.2 657.1,926.8 658.6,927.4 660.1,928.1 661.6,928.7 663.1,929.4 664.6,930.1 666.1,930.9 667.6,931.6 669.1,932.3 670.6,933.0 672.1,933.7 673.6,934.3 675.1,934.9 676.6,935.4 678.1,935.8 679.6,936.1 681.1,936.4 682.6,936.6 684.1,936.8 685.6,936.9 687.1,937.0 688.6,937.1 690.1,937.2 691.6,937.2 693.1,937.3 694.6,937.4 696.1,937.4 697.6,937.5 699.1,937.6 700.6,937.7 702.1,937.8 703.6,937.9 705.1,938.0 706.6,938.1 708.1,938.2 709.6,938.2 711.1,938.3 712.6,938.4 714.1,938.5 715.6,938.6 717.1,938.7 718.6,938.8 720.1,938.9 721.6,938.9 723.1,939.0 724.6,939.1 726.1,939.2 727.6,939.3 729.1,939.3 730.6,939.4 732.1,939.5 733.6,939.6 735.1,939.6 736.6,939.7 738.1,939.8 739.6,939.8 741.1,939.9 742.6,939.9 744.1,939.9 745.6,940.0 747.1,940.0 748.6,940.0 750.1,940.0 751.6,940.1 753.1,940.1 754.6,940.1 756.1,940.1 757.6,940.1 759.1,940.1 760.6,940.1 762.1,940.1 763.6,940.1 765.1,940.1 766.6,940.1 768.1,940.2 769.6,940.2 771.1,940.2 772.6,940.2 774.1,940.3 775.6,940.3 777.1,940.4 778.6,940.4 780.1,940.5 781.6,940.6 783.1,940.7 784.6,940.7 786.1,940.9 787.6,941.0 789.1,941.1 790.6,941.2 792.1,941.4 793.6,941.5 795.1,941.7 796.6,941.9 798.1,942.0 799.6,942.2 801.1,942.4 802.6,942.6 804.1,942.8 805.6,942.9 807.1,943.1 808.6,943.3 810.1,943.4 811.6,943.6 813.1,943.8 814.6,943.9 816.1,944.1 817.6,944.2 819.1,944.3 820.6,944.5 822.1,944.6 823.6,944.8 825.1,944.9 826.6,945.0 828.1,945.2 829.6,945.3 831.1,945.4 832.6,945.5 834.1,945.5 835.6,945.6 837.1,945.6 838.6,945.6 840.1,945.6 841.6,945.6 843.1,945.5 844.6,945.4 846.1,945.4 847.6,945.3 849.1,945.2 850.6,945.0 852.1,944.9 853.6,944.8 855.1,944.7 856.6,944.5 858.1,944.4 859.6,944.3 861.1,944.1 862.6,944.0 864.1,943.9 865.6,943.8 867.1,943.7 868.6,943.6 870.1,943.5 871.6,943.5 873.1,943.4 874.6,943.4 876.1,943.3 877.6,943.3 879.1,943.2 880.6,943.1 882.1,943.1 883.6,943.0 885.1,943.0 886.6,943.0 888.1,942.9 889.6,942.9 891.1,942.8 892.6,942.8 894.1,942.7 895.6,942.7 897.1,942.7 898.6,942.6 900.1,942.6 901.6,942.6 903.1,942.5 904.6,942.5 906.1,942.5 907.6,942.4 909.1,942.4 910.6,942.4 912.1,942.4 913.6,942.4 915.1,942.4 916.6,942.4 918.1,942.4 919.6,942.4 921.1,942.4 922.6,942.4 924.1,942.4 925.6,942.5 927.1,942.5 928.6,942.6 930.1,942.6 931.6,942.7 933.1,942.8 934.6,942.9 936.1,943.0 937.6,943.1 939.1,943.2 940.6,943.3 942.1,943.5 943.6,943.6 945.1,943.8 946.6,943.9 948.1,944.1 949.6,944.4 951.1,944.6 952.6,944.9 954.1,945.2 955.6,945.6 957.1,945.9 958.6,946.3 960.1,946.7 961.6,947.0 963.1,947.4 964.6,947.9 966.1,948.3 967.6,948.7 969.1,949.1 970.6,949.5 972.1,949.9 973.6,950.3 975.1,950.7 976.6,951.1 978.1,951.5 979.6,952.0 981.1,952.5 982.6,953.1 984.1,953.7 985.6,954.4 987.1,955.1 988.6,955.9 990.1,956.7 991.6,957.6 993.1,958.6 994.6,959.6 996.1,960.6 997.6,961.6 999.1,962.7 1000.6,963.7 1002.1,964.8 1003.6,965.8 1005.1,966.9 1006.6,968.0 1008.1,969.0 1009.6,970.0 1011.1,971.0 1012.6,972.0 1014.1,973.0 1015.6,974.0 1017.1,975.1 1018.6,976.1 1020.1,977.0 1021.6,978.0 1023.1,978.8 1024.6,979.6 1026.1,980.3 1027.6,980.8 1029.1,981.2 1030.6,981.4 1032.1,981.3 1033.6,981.1 1035.1,980.7 1036.6,980.2 1038.1,979.6 1039.6,979.0 1041.1,978.3 1042.6,977.7 1044.1,977.1 1045.6,976.7 1047.1,976.2 1048.6,975.7 1050.1,975.2 1051.6,974.6 1053.1,974.1 1054.6,973.5 1056.1,973.0 1057.6,972.4 1059.1,971.9 1060.6,971.4 1062.1,970.9 1063.6,970.4 1065.1,970.1 1066.6,969.7 1068.1,969.5 1069.6,969.3 1071.1,969.2 1072.6,969.2 1074.1,969.3 1075.6,969.6 1077.1,970.3 1078.6,971.5 1080.1,972.9 1081.6,974.6 1083.1,976.6 1084.6,978.8 1086.1,981.1 1087.6,983.6 1089.1,986.1 1090.6,988.6 1092.1,991.1 1093.6,993.5 1095.1,995.8 1096.6,998.0 1098.1,1000.0 1099.6,1002.1 1101.1,1004.3 1102.6,1006.8 1104.1,1009.5 1105.6,1012.4 1107.1,1015.7 1108.6,1019.2 1110.1,1023.1 1111.6,1027.3 1113.1,1031.9 1114.6,1036.9 1116.1,1042.2 1117.6,1047.9 1119.1,1053.8 1120.6,1059.9 1122.1,1066.1 1123.6,1072.3 1125.1,1078.4 1126.6,1084.0 1128.1,1089.2 1129.6,1093.6 1131.1,1097.1 1132.6,1099.5 1134.1,1100.7 1135.6,1100.8 1137.1,1099.8 1138.6,1097.9 1140.1,1095.1 1141.6,1091.9 1143.1,1088.3 1144.6,1084.6 1146.1,1081.0 1147.6,1077.6 1149.1,1074.5 1150.6,1071.8 1152.1,1069.7 1153.6,1068.1 1155.1,1067.0 1156.6,1066.5 1158.1,1066.7 1159.6,1067.5 1161.1,1069.0 1162.6,1071.2 1164.1,1073.9 1165.6,1077.2 1167.1,1081.1 1168.6,1085.3 1170.1,1089.8 1171.6,1094.5 1173.1,1099.1 1174.6,1103.6 1176.1,1107.5 1177.6,1110.8 1179.1,1113.2 1180.6,1114.4 1182.1,1114.2 1183.6,1112.5 1185.1,1109.4 1186.6,1105.0 1188.1,1099.4 1189.6,1093.0 1191.1,1085.9 1192.6,1078.4 1194.1,1070.7 1195.6,1063.0 1197.1,1055.5 1198.6,1048.2 1200.1,1041.4 1201.6,1035.0 1203.1,1029.1 1204.6,1023.8 1206.1,1019.0 1207.6,1014.6 1209.1,1010.6 1210.6,1007.0 1212.1,1003.7 1213.6,1000.9 1215.1,998.4 1216.6,996.3 1218.1,994.5 1219.6,993.0 1221.1,991.9 1222.6,991.0 1224.1,990.4 1225.6,990.0 1227.1,989.7 1228.6,989.5 1230.1,989.3 1231.6,989.2 1233.1,989.0 1234.6,988.8 1236.1,988.7 1237.6,988.7 1239.1,988.7 1240.6,988.7 1242.1,988.7 1243.6,988.8 1245.1,988.8 1246.6,988.7 1248.1,988.6 1249.6,988.4 1251.1,988.1 1252.6,987.7 1254.1,987.2 1255.6,986.5 1257.1,985.7 1258.6,984.7 1260.1,983.8 1261.6,982.7 1263.1,981.7 1264.6,980.5 1266.1,979.4 1267.6,978.2 1269.1,977.0 1270.6,975.8 1272.1,974.6 1273.6,973.4 1275.1,972.1 1276.6,970.9 1278.1,969.6 1279.6,968.3 1281.1,967.0 1282.6,965.7 1284.1,964.4 1285.6,963.1 1287.1,962.0 1288.6,960.9 1290.1,959.9 1291.6,959.0 1293.1,958.2 1294.6,957.4 1296.1,956.6 1297.6,955.9 1299.1,955.3 1300.6,954.7 1302.1,954.2 1303.6,953.6 1305.1,953.2 1306.6,952.7 1308.1,952.3 1309.6,951.8 1311.1,951.4 1312.6,951.0 1314.1,950.6 1315.6,950.2 1317.1,949.8 1318.6,949.4 1320.1,949.0 1321.6,948.6 1323.1,948.2 1324.6,947.9 1326.1,947.5 1327.6,947.2 1329.1,946.9 1330.6,946.6 1332.1,946.4 1333.6,946.1 1335.1,945.9 1336.6,945.7 1338.1,945.6 1339.6,945.4 1341.1,945.3 1342.6,945.2 1344.1,945.2 1345.6,945.1 1347.1,945.1 1348.6,945.0 1350.1,945.0 1351.6,944.9 1353.1,944.9 1354.6,944.8 1356.1,944.8 1357.6,944.8 1359.1,944.7 1360.6,944.7 1362.1,944.6 1363.6,944.6 1365.1,944.6 1366.6,944.5 1368.1,944.5 1369.6,944.5 1371.1,944.4 1372.6,944.4 1374.1,944.4 1375.6,944.4 1377.1,944.3 1378.6,944.3 1380.1,944.3 1381.6,944.3 1383.1,944.2 1384.6,944.2 1386.1,944.2 1387.6,944.2 1389.1,944.2 1390.6,944.1 1392.1,944.1 1393.6,944.1 1395.1,944.1 1396.6,944.1 1398.1,944.0 1399.6,944.0 1401.1,944.0 1402.6,944.0 1404.1,944.0 1405.6,944.0 1407.1,944.0 1408.6,943.9 1410.1,943.9 1411.6,943.9 1413.1,943.9 1414.6,943.9 1416.1,943.9 1417.6,943.9 1419.1,943.8 1420.6,943.8 1422.1,943.8 1423.6,943.8 1425.1,943.8 1426.6,943.8 1428.1,943.8 1429.6,943.7 1431.1,943.7 1432.6,943.7 1434.1,943.7 1435.6,943.7 1437.1,943.7 1438.6,943.7 1440.1,943.7 1441.6,943.6 1443.1,943.6 1444.6,943.6 1446.1,943.6 1447.6,943.6 1449.1,943.6 1450.6,943.6 1452.1,943.5 1453.6,943.5 1455.1,943.5 1456.6,943.5 1458.1,943.5 1459.6,943.5 1461.1,943.4 1462.6,943.4 1464.1,943.2 1465.6,943.1 1467.1,942.9 1468.6,942.7 1470.1,942.5 1471.6,942.2 1473.1,942.0 1474.6,941.7 1476.1,941.5 1477.6,941.2 1479.1,941.0 1480.6,940.8 1482.1,940.6 1483.6,940.4 1485.1,940.3 1486.6,940.2 1488.1,940.1 1489.6,940.1 1491.1,940.0 1492.6,940.0 1494.1,939.9 1495.6,939.9 1497.1,939.8 1498.6,939.8 1500.1,939.8 1501.6,939.8 1503.1,939.7 1504.6,939.7 1506.1,939.7 1507.6,939.7 1509.1,939.7 1510.6,939.7 1512.1,939.6 1513.6,939.6 1515.1,939.6 1516.6,939.6 1518.1,939.6 1519.6,939.6 1521.1,939.6 1522.6,939.6 1524.1,939.6 1525.6,939.6 1527.1,939.6 1528.6,939.5 1530.1,939.5 1531.6,939.5 1533.1,939.5 1534.6,939.5 1536.1,939.5 1537.6,939.4 1539.1,939.4 1540.6,939.4 1542.1,939.4 1543.6,939.3 1545.1,939.3 1546.6,939.3 1548.1,939.2 1549.6,939.2 1551.1,939.2 1552.6,939.1 1554.1,939.1 1555.6,939.0 1557.1,939.0 1558.6,939.0 1560.1,938.9 1561.6,938.9 1563.1,938.8 1564.6,938.8 1566.1,938.7 1567.6,938.7 1569.1,938.6 1570.6,938.5 1572.1,938.5 1573.6,938.4 1575.1,938.3 1576.6,938.3 1578.1,938.2 1579.6,938.1 1581.1,938.0 1582.6,937.9 1584.1,937.8 1585.6,937.7 1587.1,937.6 1588.6,937.5 1590.1,937.4 1591.6,937.3 1593.1,937.2 1594.6,937.1 1596.1,936.9 1597.6,936.8 1599.1,936.7 1600.6,936.3 1602.1,935.8 1603.6,935.0 1605.1,934.2 1606.6,933.2 1608.1,932.3 1609.6,931.4 1611.1,930.6 1612.6,930.0 1614.1,929.5 1615.6,929.1 1617.1,928.7 1618.6,928.3 1620.1,927.9 1621.6,927.6 1623.1,927.3 1624.6,927.0 1626.1,926.7 1627.6,926.5 1629.1,926.3 1630.6,926.1 1632.1,926.0 1633.6,925.9 1635.1,925.8 1636.6,925.7 1638.1,925.6 1639.6,925.5 1641.1,925.4 1642.6,925.4 1644.1,925.3 1645.6,925.2 1647.1,925.2 1648.6,925.2 1650.1,925.2 1651.6,925.2 1653.1,925.2 1654.6,925.3 1656.1,925.3 1657.6,925.4 1659.1,925.5 1660.6,925.6 1662.1,925.8 1663.6,925.9 1665.1,926.1 1666.6,926.2 1668.1,926.4 1669.6,926.5 1671.1,926.7 1672.6,926.9 1674.1,927.1 1675.6,927.2 1677.1,927.4 1678.6,927.6 1680.1,927.8 1681.6,927.9 1683.1,928.1 1684.6,928.3 1686.1,928.4 1687.6,928.5 1689.1,928.7 1690.6,928.8 1692.1,928.9 1693.6,929.0 1695.1,929.1 1696.6,929.2 1698.1,929.2 1699.6,929.3 1701.1,929.4 1702.6,929.5 1704.1,929.6 1705.6,929.6 1707.1,929.7 1708.6,929.8 1710.1,929.9 1711.6,929.9 1713.1,930.0 1714.6,930.1 1716.1,930.1 1717.6,930.2 1719.1,930.3 1720.6,930.4 1722.1,930.4 1723.6,930.5 1725.1,930.6 1726.6,930.6 1728.1,930.7 1729.6,930.8 1731.1,930.8 1732.6,930.9 1734.1,931.0 1735.6,931.1 1737.1,931.1 1738.6,931.2 1740.1,931.3 1741.6,931.3 1743.1,931.4 1744.6,931.5 1746.1,931.5 1747.6,931.6 1749.1,931.7 1750.6,931.7 1752.1,931.8 1753.6,931.8 1755.1,931.9 1756.6,932.0 1758.1,932.1 1759.6,932.1 1761.1,932.2 1762.6,932.3 1764.1,932.3 1765.6,932.4 1767.1,932.5 1768.6,932.5 1770.1,932.6 1771.6,932.7 1773.1,932.8 1774.6,932.8 1776.1,932.9 1777.6,933.0 1779.1,933.0 1780.6,933.1 1782.1,933.2 1783.6,933.2 1785.1,933.3 1786.6,933.3 1788.1,933.4 1789.6,933.4 1791.1,933.5 1792.6,933.6 1794.1,933.6 1795.6,933.6 1797.1,933.7 1798.6,933.7 1800.1,933.8 1801.6,933.8 1803.1,933.8 1804.6,933.9 1806.1,933.9 1807.6,933.9 1809.1,933.9 1810.6,933.9 1812.1,934.0 1813.6,934.0 1815.1,934.0 1816.6,934.0 1818.1,933.9 1819.6,933.9 1821.1,933.9 1822.6,933.8 1824.1,933.7 1825.6,933.7 1827.1,933.6 1828.6,933.5 1830.1,933.4 1831.6,933.3 1833.1,933.2 1834.6,933.0 1836.1,932.9 1837.6,932.8 1839.1,932.6 1840.6,932.5 1842.1,932.4 1843.6,932.2 1845.1,932.1 1846.6,931.9 1848.1,931.8 1849.6,931.7 1851.1,931.5 1852.6,931.4 1854.1,931.3 1855.6,931.2 1857.1,931.0 1858.6,930.9 1860.1,930.8 1861.6,930.7 1863.1,930.6 1864.6,930.6 1866.1,930.5 1867.6,930.4 1869.1,930.3 1870.6,930.2 1872.1,930.2 1873.6,930.1 1875.1,930.0 1876.6,930.0 1878.1,929.9 1879.6,929.8 1881.1,929.8 1882.6,929.7 1884.1,929.7 1885.6,929.6 1887.1,929.5 1888.6,929.5 1890.1,929.4 1891.6,929.4 1893.1,929.3 1894.6,929.3 1896.1,929.2 1897.6,929.1 1899.1,929.1 1900.6,929.0 1902.1,929.0 1903.6,928.9 1905.1,928.9 1906.6,928.8 1908.1,928.7 1909.6,928.7 1911.1,928.6 1912.6,928.6 1914.1,928.5 1915.6,928.4 1917.1,928.4 1918.6,928.3 1920.1,928.2 1921.6,928.1 1923.1,928.1 1924.6,928.0 1926.1,927.9 1927.6,927.8 1929.1,927.7 1930.6,927.5 1932.1,927.3 1933.6,927.0 1935.1,926.8 1936.6,926.4 1938.1,926.1 1939.6,925.7 1941.1,925.3 1942.6,924.9 1944.1,924.5 1945.6,924.0 1947.1,923.5 1948.6,922.9 1950.1,922.3 1951.6,921.7 1953.1,921.0 1954.6,920.2 1956.1,919.4 1957.6,918.6 1959.1,917.8 1960.6,916.9 1962.1,915.9 1963.6,915.0 1965.1,914.0 1966.6,913.0 1968.1,912.0 1969.1,911.3"/>
<polyline fill="none" stroke="#00f" stroke-width="4" stroke-linejoin="round" stroke-linecap="round" points="308.8,914.4 310.3,915.3 311.8,916.2 313.3,917.0 314.8,917.8 316.3,918.6 317.8,919.4 319.3,920.2 320.8,920.9 322.3,921.7 323.8,922.4 325.3,923.1 326.8,923.8 328.3,924.4 329.8,924.9 331.3,925.3 332.8,925.7 334.3,926.0 335.8,926.3 337.3,926.5 338.8,926.7 340.3,926.9 341.8,927.1 343.3,927.2 344.8,927.3 346.3,927.4 347.8,927.5 349.3,927.6 350.8,927.7 352.3,927.8 353.8,927.9 355.3,927.9 356.8,928.0 358.3,928.1 359.8,928.1 361.3,928.2 362.8,928.3 364.3,928.3 365.8,928.4 367.3,928.5 368.8,928.5 370.3,928.6 371.8,928.7 373.3,928.7 374.8,928.8 376.3,928.9 377.8,928.9 379.3,929.0 380.8,929.1 382.3,929.2 383.8,929.2 385.3,929.3 386.8,929.4 388.3,929.5 389.8,929.6 391.3,929.7 392.8,929.8 394.3,929.8 395.8,929.9 397.3,930.0 398.8,930.1 400.3,930.2 401.8,930.3 403.3,930.4 404.8,930.5 406.3,930.6 407.8,930.7 409.3,930.8 410.8,930.9 412.3,930.9 413.8,931.0 415.3,931.1 416.8,931.2 418.3,931.3 419.8,931.4 421.3,931.5 422.8,931.6 424.3,931.7 425.8,931.8 427.3,931.9 428.8,932.0 430.3,932.0 431.8,932.1 433.3,932.2 434.8,932.3 436.3,932.4 437.8,932.5 439.3,932.6 440.8,932.7 442.3,932.8 443.8,932.9 445.3,933.0 446.8,933.0 448.3,933.1 449.8,933.2 451.3,933.3 452.8,933.4 454.3,933.4 455.8,933.5 457.3,933.5 458.8,933.5 460.3,933.5 461.8,933.4 463.3,933.4 464.8,933.3 466.3,933.2 467.8,933.1 469.3,933.0 470.8,932.8 472.3,932.7 473.8,932.5 475.3,932.4 476.8,932.2 478.3,932.1 479.8,931.9 481.3,931.8 482.8,931.6 484.3,931.5 485.8,931.4 487.3,931.2 488.8,931.1 490.3,931.0 491.8,930.9 493.3,930.8 494.8,930.8 496.3,930.7 497.8,930.7 499.3,930.6 500.8,930.6 502.3,930.5 503.8,930.5 505.3,930.4 506.8,930.3 508.3,930.3 509.8,930.2 511.3,930.2 512.8,930.1 514.3,930.1 515.8,930.0 517.3,930.0 518.8,929.9 520.3,929.9 521.8,929.8 523.3,929.7 524.8,929.7 526.3,929.6 527.8,929.6 529.3,929.5 530.8,929.5 532.3,929.4 533.8,929.4 535.3,929.3 536.8,929.2 538.3,929.2 539.8,929.1 541.3,929.1 542.8,929.0 544.3,929.0 545.8,929.0 547.3,928.9 548.8,928.9 550.3,928.8 551.8,928.8 553.3,928.7 554.8,928.7 556.3,928.6 557.8,928.6 559.3,928.5 560.8,928.5 562.3,928.4 563.8,928.4 565.3,928.3 566.8,928.2 568.3,928.2 569.8,928.1 571.3,928.0 572.8,927.9 574.3,927.8 575.8,927.7 577.3,927.6 578.8,927.5 580.3,927.4 581.8,927.3 583.3,927.1 584.8,927.0 586.3,926.9 587.8,926.7 589.3,926.5 590.8,926.4 592.3,926.2 593.8,926.1 595.3,925.9 596.8,925.7 598.3,925.6 599.8,925.4 601.3,925.2 602.8,925.1 604.3,924.9 605.8,924.7 607.3,924.6 608.8,924.4 610.3,924.3 611.8,924.1 613.3,924.0 614.8,923.8 616.3,923.7 617.8,923.6 619.3,923.4 620.8,923.3 622.3,923.1 623.8,923.0 625.3,922.8 626.8,922.7 628.3,922.5 629.8,922.4 631.3,922.3 632.8,922.2 634.3,922.1 635.8,922.0 637.3,922.0 638.8,922.1 640.3,922.1 641.8,922.3 643.3,922.5 644.8,922.7 646.3,923.1 647.8,923.5 649.3,924.0 650.8,924.5 652.3,925.1 653.8,925.7 655.3,926.3 656.8,927.0 658.3,927.6 659.8,928.3 661.3,929.0 662.8,929.7 664.3,930.4 665.8,931.1 667.3,931.9 668.8,932.6 670.3,933.2 671.8,933.8 673.3,934.4 674.8,934.9 676.3,935.3 677.8,935.6 679.3,935.9 680.8,936.1 682.3,936.3 683.8,936.4 685.3,936.5 686.8,936.6 688.3,936.6 689.8,936.7 691.3,936.8 692.8,936.8 694.3,936.9 695.8,937.0 697.3,937.1 698.8,937.2 700.3,937.2 701.8,937.3 703.3,937.4 704.8,937.5 706.3,937.6 707.8,937.7 709.3,937.8 710.8,937.9 712.3,937.9 713.8,938.0 715.3,938.1 716.8,938.2 718.3,938.3 719.8,938.4 721.3,938.4 722.8,938.5 724.3,938.6 725.8,938.7 727.3,938.7 728.8,938.8 730.3,938.9 731.8,938.9 733.3,939.0 734.8,939.1 736.3,939.1 737.8,939.2 739.3,939.2 740.8,939.3 742.3,939.3 743.8,939.3 745.3,939.3 746.8,939.3 748.3,939.4 749.8,939.4 751.3,939.4 752.8,939.4 754.3,939.4 755.8,939.4 757.3,939.4 758.8,939.4 760.3,939.4 761.8,939.4 763.3,939.4 764.8,939.4 766.3,939.4 767.8,939.4 769.3,939.5 770.8,939.5 772.3,939.5 773.8,939.5 775.3,939.6 776.8,939.6 778.3,939.7 779.8,939.8 781.3,939.8 782.8,939.9 784.3,940.0 785.8,940.1 787.3,940.3 788.8,940.4 790.3,940.5 791.8,940.7 793.3,940.8 794.8,941.0 796.3,941.2 797.8,941.3 799.3,941.5 800.8,941.7 802.3,941.8 803.8,942.0 805.3,942.2 806.8,942.4 808.3,942.5 809.8,942.7 811.3,942.8 812.8,942.9 814.3,943.1 815.8,943.2 817.3,943.4 818.8,943.5 820.3,943.6 821.8,943.8 823.3,943.9 824.8,944.0 826.3,944.1 827.8,944.2 829.3,944.3 830.8,944.4 832.3,944.4 833.8,944.5 835.3,944.5 836.8,944.5 838.3,944.5 839.8,944.4 841.3,944.4 842.8,944.3 844.3,944.2 845.8,944.1 847.3,944.0 848.8,943.8 850.3,943.7 851.8,943.6 853.3,943.4 854.8,943.3 856.3,943.1 857.8,943.0 859.3,942.8 860.8,942.7 862.3,942.6 863.8,942.4 865.3,942.3 866.8,942.2 868.3,942.2 869.8,942.1 871.3,942.0 872.8,941.9 874.3,941.9 875.8,941.8 877.3,941.7 878.8,941.7 880.3,941.6 881.8,941.5 883.3,941.5 884.8,941.4 886.3,941.3 887.8,941.3 889.3,941.2 890.8,941.2 892.3,941.1 893.8,941.0 895.3,941.0 896.8,940.9 898.3,940.9 899.8,940.8 901.3,940.8 902.8,940.7 904.3,940.7 905.8,940.6 907.3,940.6 908.8,940.5 910.3,940.5 911.8,940.5 913.3,940.4 914.8,940.4 916.3,940.4 917.8,940.4 919.3,940.3 920.8,940.3 922.3,940.3 923.8,940.3 925.3,940.4 926.8,940.4 928.3,940.4 929.8,940.5 931.3,940.5 932.8,940.6 934.3,940.6 935.8,940.7 937.3,940.8 938.8,940.9 940.3,941.0 941.8,941.1 943.3,941.2 944.8,941.4 946.3,941.5 947.8,941.7 949.3,941.9 950.8,942.2 952.3,942.4 953.8,942.7 955.3,943.0 956.8,943.3 958.3,943.7 959.8,944.0 961.3,944.4 962.8,944.7 964.3,945.1 965.8,945.5 967.3,945.8 968.8,946.2 970.3,946.5 971.8,946.9 973.3,947.2 974.8,947.6 976.3,947.9 977.8,948.3 979.3,948.8 980.8,949.3 982.3,949.8 983.8,950.4 985.3,951.1 986.8,951.8 988.3,952.6 989.8,953.4 991.3,954.3 992.8,955.2 994.3,956.1 995.8,957.0 997.3,958.0 998.8,958.9 1000.3,959.9 1001.8,960.9 1003.3,961.8 1004.8,962.8 1006.3,963.7 1007.8,964.6 1009.3,965.4 1010.8,966.3 1012.3,967.2 1013.8,968.1 1015.3,969.0 1016.8,969.9 1018.3,970.7 1019.8,971.5 1021.3,972.2 1022.8,972.8 1024.3,973.3 1025.8,973.7 1027.3,973.9 1028.8,973.9 1030.3,973.6 1031.8,973.2 1033.3,972.6 1034.8,971.9 1036.3,971.1 1037.8,970.2 1039.3,969.4 1040.8,968.5 1042.3,967.7 1043.8,966.9 1045.3,966.2 1046.8,965.4 1048.3,964.5 1049.8,963.6 1051.3,962.7 1052.8,961.8 1054.3,960.9 1055.8,959.9 1057.3,959.0 1058.8,958.0 1060.3,957.1 1061.8,956.1 1063.3,955.2 1064.8,954.3 1066.3,953.5 1067.8,952.7 1069.3,952.0 1070.8,951.3 1072.3,950.7 1073.8,950.2 1075.3,950.1 1076.8,950.3 1078.3,950.8 1079.8,951.6 1081.3,952.5 1082.8,953.5 1084.3,954.6 1085.8,955.6 1087.3,956.7 1088.8,957.6 1090.3,958.4 1091.8,959.0 1093.3,959.4 1094.8,959.4 1096.3,959.1 1097.8,958.6 1099.3,958.1 1100.8,957.6 1102.3,957.1 1103.8,956.5 1105.3,956.0 1106.8,955.4 1108.3,954.9 1109.8,954.3 1111.3,953.8 1112.8,953.2 1114.3,952.7 1115.8,952.3 1117.3,951.8 1118.8,951.3 1120.3,950.7 1121.8,950.2 1123.3,949.7 1124.8,949.2 1126.3,948.7 1127.8,948.2 1129.3,947.8 1130.8,947.4 1132.3,947.1 1133.8,946.8 1135.3,946.7 1136.8,946.6 1138.3,946.6 1139.8,946.8 1141.3,947.1 1142.8,947.5 1144.3,947.9 1145.8,948.4 1147.3,949.0 1148.8,949.5 1150.3,950.1 1151.8,950.7 1153.3,951.2 1154.8,951.7 1156.3,952.2 1157.8,952.8 1159.3,953.3 1160.8,953.9 1162.3,954.5 1163.8,955.1 1165.3,955.8 1166.8,956.4 1168.3,957.0 1169.8,957.6 1171.3,958.2 1172.8,958.7 1174.3,959.2 1175.8,959.7 1177.3,960.1 1178.8,960.4 1180.3,960.5 1181.8,960.3 1183.3,959.9 1184.8,959.3 1186.3,958.6 1187.8,957.7 1189.3,956.8 1190.8,955.9 1192.3,954.9 1193.8,954.0 1195.3,953.1 1196.8,952.3 1198.3,951.6 1199.8,951.0 1201.3,950.7 1202.8,950.5 1204.3,950.5 1205.8,950.5 1207.3,950.7 1208.8,950.9 1210.3,951.2 1211.8,951.6 1213.3,952.1 1214.8,952.7 1216.3,953.4 1217.8,954.3 1219.3,955.3 1220.8,956.4 1222.3,957.7 1223.8,958.9 1225.3,960.2 1226.8,961.5 1228.3,962.7 1229.8,963.8 1231.3,964.8 1232.8,965.7 1234.3,966.6 1235.8,967.5 1237.3,968.4 1238.8,969.2 1240.3,970.1 1241.8,970.8 1243.3,971.5 1244.8,972.1 1246.3,972.6 1247.8,973.0 1249.3,973.2 1250.8,973.4 1252.3,973.3 1253.8,973.1 1255.3,972.7 1256.8,972.2 1258.3,971.7 1259.8,971.0 1261.3,970.3 1262.8,969.5 1264.3,968.7 1265.8,967.8 1267.3,966.9 1268.8,966.0 1270.3,965.1 1271.8,964.1 1273.3,963.1 1274.8,962.2 1276.3,961.1 1277.8,960.1 1279.3,958.9 1280.8,957.8 1282.3,956.7 1283.8,955.7 1285.3,954.7 1286.8,953.8 1288.3,953.0 1289.8,952.2 1291.3,951.5 1292.8,950.9 1294.3,950.3 1295.8,949.8 1297.3,949.3 1298.8,948.8 1300.3,948.4 1301.8,948.0 1303.3,947.6 1304.8,947.3 1306.3,947.0 1307.8,946.7 1309.3,946.3 1310.8,946.0 1312.3,945.7 1313.8,945.4 1315.3,945.1 1316.8,944.8 1318.3,944.5 1319.8,944.2 1321.3,943.9 1322.8,943.6 1324.3,943.4 1325.8,943.1 1327.3,942.9 1328.8,942.7 1330.3,942.5 1331.8,942.3 1333.3,942.2 1334.8,942.1 1336.3,942.0 1337.8,941.9 1339.3,941.8 1340.8,941.8 1342.3,941.8 1343.8,941.8 1345.3,941.8 1346.8,941.8 1348.3,941.8 1349.8,941.8 1351.3,941.8 1352.8,941.8 1354.3,941.8 1355.8,941.8 1357.3,941.8 1358.8,941.8 1360.3,941.9 1361.8,941.9 1363.3,941.9 1364.8,941.9 1366.3,941.9 1367.8,941.9 1369.3,941.9 1370.8,941.9 1372.3,941.9 1373.8,941.9 1375.3,941.9 1376.8,941.9 1378.3,941.9 1379.8,942.0 1381.3,942.0 1382.8,942.0 1384.3,942.0 1385.8,942.0 1387.3,942.0 1388.8,942.0 1390.3,942.0 1391.8,942.0 1393.3,942.0 1394.8,942.0 1396.3,942.0 1397.8,942.1 1399.3,942.1 1400.8,942.1 1402.3,942.1 1403.8,942.1 1405.3,942.1 1406.8,942.1 1408.3,942.1 1409.8,942.1 1411.3,942.1 1412.8,942.1 1414.3,942.1 1415.8,942.2 1417.3,942.2 1418.8,942.2 1420.3,942.2 1421.8,942.2 1423.3,942.2 1424.8,942.2 1426.3,942.2 1427.8,942.2 1429.3,942.2 1430.8,942.2 1432.3,942.2 1433.8,942.2 1435.3,942.2 1436.8,942.2 1438.3,942.2 1439.8,942.2 1441.3,942.2 1442.8,942.2 1444.3,942.2 1445.8,942.2 1447.3,942.2 1448.8,942.2 1450.3,942.2 1451.8,942.2 1453.3,942.2 1454.8,942.2 1456.3,942.2 1457.8,942.2 1459.3,942.2 1460.8,942.1 1462.3,942.0 1463.8,941.9 1465.3,941.7 1466.8,941.5 1468.3,941.3 1469.8,941.1 1471.3,940.8 1472.8,940.6 1474.3,940.4 1475.8,940.1 1477.3,939.9 1478.8,939.7 1480.3,939.5 1481.8,939.3 1483.3,939.2 1484.8,939.1 1486.3,939.1 1487.8,939.0 1489.3,939.0 1490.8,938.9 1492.3,938.9 1493.8,938.9 1495.3,938.9 1496.8,938.8 1498.3,938.8 1499.8,938.8 1501.3,938.8 1502.8,938.8 1504.3,938.8 1505.8,938.8 1507.3,938.7 1508.8,938.7 1510.3,938.7 1511.8,938.7 1513.3,938.7 1514.8,938.7 1516.3,938.7 1517.8,938.7 1519.3,938.7 1520.8,938.7 1522.3,938.7 1523.8,938.7 1525.3,938.7 1526.8,938.7 1528.3,938.7 1529.8,938.7 1531.3,938.7 1532.8,938.7 1534.3,938.7 1535.8,938.6 1537.3,938.6 1538.8,938.6 1540.3,938.6 1541.8,938.6 1543.3,938.5 1544.8,938.5 1546.3,938.5 1547.8,938.5 1549.3,938.4 1550.8,938.4 1552.3,938.4 1553.8,938.3 1555.3,938.3 1556.8,938.3 1558.3,938.2 1559.8,938.2 1561.3,938.1 1562.8,938.1 1564.3,938.0 1565.8,938.0 1567.3,937.9 1568.8,937.9 1570.3,937.8 1571.8,937.7 1573.3,937.7 1574.8,937.6 1576.3,937.5 1577.8,937.5 1579.3,937.4 1580.8,937.3 1582.3,937.2 1583.8,937.1 1585.3,937.0 1586.8,936.9 1588.3,936.8 1589.8,936.7 1591.3,936.6 1592.8,936.5 1594.3,936.3 1595.8,936.2 1597.3,936.1 1598.8,935.8 1600.3,935.2 1601.8,934.5 1603.3,933.6 1604.8,932.7 1606.3,931.7 1607.8,930.8 1609.3,930.1 1610.8,929.4 1612.3,929.0 1613.8,928.6 1615.3,928.2 1616.8,927.8 1618.3,927.4 1619.8,927.1 1621.3,926.8 1622.8,926.5 1624.3,926.2 1625.8,926.0 1627.3,925.8 1628.8,925.6 1630.3,925.5 1631.8,925.4 1633.3,925.3 1634.8,925.2 1636.3,925.1 1637.8,925.0 1639.3,924.9 1640.8,924.9 1642.3,924.8 1643.8,924.8 1645.3,924.7 1646.8,924.7 1648.3,924.7 1649.8,924.7 1651.3,924.8 1652.8,924.8 1654.3,924.9 1655.8,925.0 1657.3,925.1 1658.8,925.2 1660.3,925.3 1661.8,925.5 1663.3,925.6 1664.8,925.8 1666.3,925.9 1667.8,926.1 1669.3,926.3 1670.8,926.5 1672.3,926.6 1673.8,926.8 1675.3,927.0 1676.8,927.2 1678.3,927.3 1679.8,927.5 1681.3,927.7 1682.8,927.8 1684.3,928.0 1685.8,928.1 1687.3,928.3 1688.8,928.4 1690.3,928.5 1691.8,928.6 1693.3,928.7 1694.8,928.8 1696.3,928.9 1697.8,928.9 1699.3,929.0 1700.8,929.1 1702.3,929.2 1703.8,929.3 1705.3,929.3 1706.8,929.4 1708.3,929.5 1709.8,929.6 1711.3,929.6 1712.8,929.7 1714.3,929.8 1715.8,929.9 1717.3,929.9 1718.8,930.0 1720.3,930.1 1721.8,930.1 1723.3,930.2 1724.8,930.3 1726.3,930.4 1727.8,930.4 1729.3,930.5 1730.8,930.6 1732.3,930.6 1733.8,930.7 1735.3,930.8 1736.8,930.9 1738.3,930.9 1739.8,931.0 1741.3,931.1 1742.8,931.1 1744.3,931.2 1745.8,931.3 1747.3,931.3 1748.8,931.4 1750.3,931.5 1751.8,931.5 1753.3,931.6 1754.8,931.7 1756.3,931.7 1757.8,931.8 1759.3,931.9 1760.8,932.0 1762.3,932.0 1763.8,932.1 1765.3,932.2 1766.8,932.2 1768.3,932.3 1769.8,932.4 1771.3,932.5 1772.8,932.5 1774.3,932.6 1775.8,932.7 1777.3,932.7 1778.8,932.8 1780.3,932.9 1781.8,932.9 1783.3,933.0 1784.8,933.0 1786.3,933.1 1787.8,933.2 1789.3,933.2 1790.8,933.3 1792.3,933.3 1793.8,933.4 1795.3,933.4 1796.8,933.5 1798.3,933.5 1799.8,933.5 1801.3,933.6 1802.8,933.6 1804.3,933.6 1805.8,933.6 1807.3,933.7 1808.8,933.7 1810.3,933.7 1811.8,933.7 1813.3,933.7 1814.8,933.7 1816.3,933.7 1817.8,933.6 1819.3,933.6 1820.8,933.6 1822.3,933.5 1823.8,933.4 1825.3,933.3 1826.8,933.2 1828.3,933.1 1829.8,933.0 1831.3,932.9 1832.8,932.8 1834.3,932.7 1835.8,932.5 1837.3,932.4 1838.8,932.3 1840.3,932.1 1841.8,932.0 1843.3,931.8 1844.8,931.7 1846.3,931.6 1847.8,931.4 1849.3,931.3 1850.8,931.2 1852.3,931.0 1853.8,930.9 1855.3,930.8 1856.8,930.7 1858.3,930.6 1859.8,930.5 1861.3,930.4 1862.8,930.3 1864.3,930.3 1865.8,930.2 1867.3,930.1 1868.8,930.0 1870.3,930.0 1871.8,929.9 1873.3,929.8 1874.8,929.7 1876.3,929.7 1877.8,929.6 1879.3,929.6 1880.8,929.5 1882.3,929.4 1883.8,929.4 1885.3,929.3 1886.8,929.3 1888.3,929.2 1889.8,929.2 1891.3,929.1 1892.8,929.0 1894.3,929.0 1895.8,928.9 1897.3,928.9 1898.8,928.8 1900.3,928.8 1901.8,928.7 1903.3,928.7 1904.8,928.6 1906.3,928.5 1907.8,928.5 1909.3,928.4 1910.8,928.4 1912.3,928.3 1913.8,928.2 1915.3,928.2 1916.8,928.1 1918.3,928.0 1919.8,928.0 1921.3,927.9 1922.8,927.8 1924.3,927.7 1925.8,927.6 1927.3,927.5 1928.8,927.3 1930.3,927.1 1931.8,926.9 1933.3,926.6 1934.8,926.3 1936.3,925.9 1937.8,925.5 1939.3,925.1 1940.8,924.7 1942.3,924.3 1943.8,923.8 1945.3,923.3 1946.8,922.7 1948.3,922.1 1949.8,921.5 1951.3,920.8 1952.8,920.0 1954.3,919.3 1955.8,918.4 1957.3,917.6 1958.8,916.7 1960.3,915.8 1961.8,914.8 1963.3,913.8 1964.8,912.8 1966.3,911.8 1967.3,911.1"/>
<polyline fill="none" stroke="#00f" stroke-width="4" stroke-linejoin="round" stroke-linecap="round" points="310.2,914.4 311.7,915.3 313.2,916.2 314.7,917.0 316.2,917.8 317.7,918.6 319.2,919.4 320.7,920.2 322.2,920.9 323.7,921.7 325.2,922.4 326.7,923.1 328.2,923.8 329.7,924.4 331.2,924.9 332.7,925.3 334.2,925.7 335.7,926.0 337.2,926.3 338.7,926.5 340.2,926.7 341.7,926.9 343.2,927.1 344.7,927.2 346.2,927.3 347.7,927.4 349.2,927.5 350.7,927.6 352.2,927.7 353.7,927.8 355.2,927.9 356.7,927.9 358.2,928.0 359.7,928.1 361.2,928.1 362.7,928.2 364.2,928.3 365.7,928.3 367.2,928.4 368.7,928.5 370.2,928.5 371.7,928.6 373.2,928.7 374.7,928.7 376.2,928.8 377.7,928.9 379.2,928.9 380.7,929.0 382.2,929.1 383.7,929.2 385.2,929.2 386.7,929.3 388.2,929.4 389.7,929.5 391.2,929.6 392.7,929.7 394.2,929.8 395.7,929.8 397.2,929.9 398.7,930.0 400.2,930.1 401.7,930.2 403.2,930.3 404.7,930.4 406.2,930.5 407.7,930.6 409.2,930.7 410.7,930.8 412.2,930.9 413.7,930.9 415.2,931.0 416.7,931.1 418.2,931.2 419.7,931.3 421.2,931.4 422.7,931.5 424.2,931.6 425.7,931.7 427.2,931.8 428.7,931.9 430.2,932.0 431.7,932.0 433.2,932.1 434.7,932.2 436.2,932.3 437.7,932.4 439.2,932.5 440.7,932.6 442.2,932.7 443.7,932.8 445.2,932.9 446.7,933.0 448.2,933.0 449.7,933.1 451.2,933.2 452.7,933.3 454.2,933.4 455.7,933.4 457.2,933.5 458.7,933.5 460.2,933.5 461.7,933.5 463.2,933.4 464.7,933.4 466.2,933.3 467.7,933.2 469.2,933.1 470.7,933.0 472.2,932.8 473.7,932.7 475.2,932.5 476.7,932.4 478.2,932.2 479.7,932.1 481.2,931.9 482.7,931.8 484.2,931.6 485.7,931.5 487.2,931.4 488.7,931.2 490.2,931.1 491.7,931.0 493.2,930.9 494.7,930.8 496.2,930.8 497.7,930.7 499.2,930.7 500.7,930.6 502.2,930.6 503.7,930.5 505.2,930.5 506.7,930.4 508.2,930.3 509.7,930.3 511.2,930.2 512.7,930.2 514.2,930.1 515.7,930.1 517.2,930.0 518.7,930.0 520.2,929.9 521.7,929.9 523.2,929.8 524.7,929.7 526.2,929.7 527.7,929.6 529.2,929.6 530.7,929.5 532.2,929.5 533.7,929.4 535.2,929.4 536.7,929.3 538.2,929.2 539.7,929.2 541.2,929.1 542.7,929.1 544.2,929.0 545.7,929.0 547.2,929.0 548.7,928.9 550.2,928.9 551.7,928.8 553.2,928.8 554.7,928.7 556.2,928.7 557.7,928.6 559.2,928.6 560.7,928.5 562.2,928.5 563.7,928.4 565.2,928.4 566.7,928.3 568.2,928.2 569.7,928.2 571.2,928.1 572.7,928.0 574.2,927.9 575.7,927.8 577.2,927.7 578.7,927.6 580.2,927.5 581.7,927.4 583.2,927.3 584.7,927.1 586.2,927.0 587.7,926.9 589.2,926.7 590.7,926.5 592.2,926.4 593.7,926.2 595.2,926.1 596.7,925.9 598.2,925.7 599.7,925.6 601.2,925.4 602.7,925.2 604.2,925.1 605.7,924.9 607.2,924.7 608.7,924.6 610.2,924.4 611.7,924.3 613.2,924.1 614.7,924.0 616.2,923.8 617.7,923.7 619.2,923.6 620.7,923.4 622.2,923.3 623.7,923.1 625.2,923.0 626.7,922.8 628.2,922.7 629.7,922.5 631.2,922.4 632.7,922.3 634.2,922.2 635.7,922.1 637.2,922.0 638.7,922.0 640.2,922.1 641.7,922.1 643.2,922.3 644.7,922.5 646.2,922.7 647.7,923.1 649.2,923.5 650.7,924.0 652.2,924.5 653.7,925.1 655.2,925.7 656.7,926.3 658.2,927.0 659.7,927.6 661.2,928.3 662.7,929.0 664.2,929.7 665.7,930.4 667.2,931.1 668.7,931.9 670.2,932.6 671.7,933.2 673.2,933.8 674.7,934.4 676.2,934.9 677.7,935.3 679.2,935.6 680.7,935.9 682.2,936.1 683.7,936.3 685.2,936.4 686.7,936.5 688.2,936.6 689.7,936.6 691.2,936.7 692.7,936.8 694.2,936.8 695.7,936.9 697.2,937.0 698.7,937.1 700.2,937.2 701.7,937.2 703.2,937.3 704.7,937.4 706.2,937.5 707.7,937.6 709.2,937.7 710.7,937.8 712.2,937.9 713.7,937.9 715.2,938.0 716.7,938.1 718.2,938.2 719.7,938.3 721.2,938.4 722.7,938.4 724.2,938.5 725.7,938.6 727.2,938.7 728.7,938.7 730.2,938.8 731.7,938.9 733.2,938.9 734.7,939.0 736.2,939.1 737.7,939.1 739.2,939.2 740.7,939.2 742.2,939.3 743.7,939.3 745.2,939.3 746.7,939.3 748.2,939.3 749.7,939.4 751.2,939.4 752.7,939.4 754.2,939.4 755.7,939.4 757.2,939.4 758.7,939.4 760.2,939.4 761.7,939.4 763.2,939.4 764.7,939.4 766.2,939.4 767.7,939.4 769.2,939.4 770.7,939.5 772.2,939.5 773.7,939.5 775.2,939.5 776.7,939.6 778.2,939.6 779.7,939.7 781.2,939.8 782.7,939.8 784.2,939.9 785.7,940.0 787.2,940.1 788.7,940.3 790.2,940.4 791.7,940.5 793.2,940.7 794.7,940.8 796.2,941.0 797.7,941.2 799.2,941.3 800.7,941.5 802.2,941.7 803.7,941.8 805.2,942.0 806.7,942.2 808.2,942.4 809.7,942.5 811.2,942.7 812.7,942.8 814.2,942.9 815.7,943.1 817.2,943.2 818.7,943.4 820.2,943.5 821.7,943.6 823.2,943.8 824.7,943.9 826.2,944.0 827.7,944.1 829.2,944.2 830.7,944.3 832.2,944.4 833.7,944.4 835.2,944.5 836.7,944.5 838.2,944.5 839.7,944.5 841.2,944.4 842.7,944.4 844.2,944.3 845.7,944.2 847.2,944.1 848.7,944.0 850.2,943.8 851.7,943.7 853.2,943.6 854.7,943.4 856.2,943.3 857.7,943.1 859.2,943.0 860.7,942.8 862.2,942.7 863.7,942.6 865.2,942.4 866.7,942.3 868.2,942.2 869.7,942.2 871.2,942.1 872.7,942.0 874.2,941.9 875.7,941.9 877.2,941.8 878.7,941.7 880.2,941.7 881.7,941.6 883.2,941.5 884.7,941.5 886.2,941.4 887.7,941.3 889.2,941.3 890.7,941.2 892.2,941.2 893.7,941.1 895.2,941.0 896.7,941.0 898.2,940.9 899.7,940.9 901.2,940.8 902.7,940.8 904.2,940.7 905.7,940.7 907.2,940.6 908.7,940.6 910.2,940.5 911.7,940.5 913.2,940.5 914.7,940.4 916.2,940.4 917.7,940.4 919.2,940.4 920.7,940.3 922.2,940.3 923.7,940.3 925.2,940.3 926.7,940.4 928.2,940.4 929.7,940.4 931.2,940.5 932.7,940.5 934.2,940.6 935.7,940.6 937.2,940.7 938.7,940.8 940.2,940.9 941.7,941.0 943.2,941.1 944.7,941.2 946.2,941.4 947.7,941.5 949.2,941.7 950.7,941.9 952.2,942.2 953.7,942.4 955.2,942.7 956.7,943.0 958.2,943.3 959.7,943.7 961.2,944.0 962.7,944.4 964.2,944.7 965.7,945.1 967.2,945.5 968.7,945.8 970.2,946.2 971.7,946.5 973.2,946.9 974.7,947.2 976.2,947.6 977.7,947.9 979.2,948.3 980.7,948.8 982.2,949.3 983.7,949.8 985.2,950.4 986.7,951.1 988.2,951.8 989.7,952.6 991.2,953.4 992.7,954.3 994.2,955.2 995.7,956.1 997.2,957.0 998.7,958.0 1000.2,958.9 1001.7,959.9 1003.2,960.9 1004.7,961.8 1006.2,962.8 1007.7,963.7 1009.2,964.6 1010.7,965.4 1012.2,966.3 1013.7,967.2 1015.2,968.1 1016.7,969.0 1018.2,969.9 1019.7,970.7 1021.2,971.5 1022.7,972.2 1024.2,972.8 1025.7,973.3 1027.2,973.7 1028.7,973.9 1030.2,973.9 1031.7,973.6 1033.2,973.2 1034.7,972.6 1036.2,971.9 1037.7,971.1 1039.2,970.2 1040.7,969.4 1042.2,968.5 1043.7,967.7 1045.2,966.9 1046.7,966.2 1048.2,965.4 1049.7,964.5 1051.2,963.6 1052.7,962.7 1054.2,961.8 1055.7,960.9 1057.2,959.9 1058.7,959.0 1060.2,958.0 1061.7,957.1 1063.2,956.1 1064.7,955.2 1066.2,954.3 1067.7,953.5 1069.2,952.7 1070.7,952.0 1072.2,951.3 1073.7,950.7 1075.2,950.2 1076.7,950.1 1078.2,950.3 1079.7,950.8 1081.2,951.6 1082.7,952.5 1084.2,953.5 1085.7,954.6 1087.2,955.6 1088.7,956.7 1090.2,957.6 1091.7,958.4 1093.2,959.0 1094.7,959.4 1096.2,959.4 1097.7,959.1 1099.2,958.6 1100.7,958.1 1102.2,957.6 1103.7,957.1 1105.2,956.5 1106.7,956.0 1108.2,955.4 1109.7,954.9 1111.2,954.3 1112.7,953.8 1114.2,953.2 1115.7,952.7 1117.2,952.3 1118.7,951.8 1120.2,951.3 1121.7,950.7 1123.2,950.2 1124.7,949.7 1126.2,949.2 1127.7,948.7 1129.2,948.2 1130.7,947.8 1132.2,947.4 1133.7,947.1 1135.2,946.8 1136.7,946.7 1138.2,946.6 1139.7,946.6 1141.2,946.8 1142.7,947.1 1144.2,947.5 1145.7,947.9 1147.2,948.4 1148.7,949.0 1150.2,949.5 1151.7,950.1 1153.2,950.7 1154.7,951.2 1156.2,951.7 1157.7,952.2 1159.2,952.8 1160.7,953.3 1162.2,953.9 1163.7,954.5 1165.2,955.1 1166.7,955.8 1168.2,956.4 1169.7,957.0 1171.2,957.6 1172.7,958.2 1174.2,958.7 1175.7,959.2 1177.2,959.7 1178.7,960.1 1180.2,960.4 1181.7,960.5 1183.2,960.3 1184.7,959.9 1186.2,959.3 1187.7,958.6 1189.2,957.7 1190.7,956.8 1192.2,955.9 1193.7,954.9 1195.2,954.0 1196.7,953.1 1198.2,952.3 1199.7,951.6 1201.2,951.0 1202.7,950.7 1204.2,950.5 1205.7,950.5 1207.2,950.5 1208.7,950.7 1210.2,950.9 1211.7,951.2 1213.2,951.6 1214.7,952.1 1216.2,952.7 1217.7,953.4 1219.2,954.3 1220.7,955.3 1222.2,956.4 1223.7,957.7 1225.2,958.9 1226.7,960.2 1228.2,961.5 1229.7,962.7 1231.2,963.8 1232.7,964.8 1234.2,965.7 1235.7,966.6 1237.2,967.5 1238.7,968.4 1240.2,969.2 1241.7,970.1 1243.2,970.8 1244.7,971.5 1246.2,972.1 1247.7,972.6 1249.2,973.0 1250.7,973.2 1252.2,973.4 1253.7,973.3 1255.2,973.1 1256.7,972.7 1258.2,972.2 1259.7,971.7 1261.2,971.0 1262.7,970.3 1264.2,969.5 1265.7,968.7 1267.2,967.8 1268.7,966.9 1270.2,966.0 1271.7,965.1 1273.2,964.1 1274.7,963.1 1276.2,962.2 1277.7,961.1 1279.2,960.1 1280.7,958.9 1282.2,957.8 1283.7,956.7 1285.2,955.7 1286.7,954.7 1288.2,953.8 1289.7,953.0 1291.2,952.2 1292.7,951.5 1294.2,950.9 1295.7,950.3 1297.2,949.8 1298.7,949.3 1300.2,948.8 1301.7,948.4 1303.2,948.0 1304.7,947.6 1306.2,947.3 1307.7,947.0 1309.2,946.7 1310.7,946.3 1312.2,946.0 1313.7,945.7 1315.2,945.4 1316.7,945.1 1318.2,944.8 1319.7,944.5 1321.2,944.2 1322.7,943.9 1324.2,943.6 1325.7,943.4 1327.2,943.1 1328.7,942.9 1330.2,942.7 1331.7,942.5 1333.2,942.3 1334.7,942.2 1336.2,942.1 1337.7,942.0 1339.2,941.9 1340.7,941.8 1342.2,941.8 1343.7,941.8 1345.2,941.8 1346.7,941.8 1348.2,941.8 1349.7,941.8 1351.2,941.8 1352.7,941.8 1354.2,941.8 1355.7,941.8 1357.2,941.8 1358.7,941.8 1360.2,941.8 1361.7,941.9 1363.2,941.9 1364.7,941.9 1366.2,941.9 1367.7,941.9 1369.2,941.9 1370.7,941.9 1372.2,941.9 1373.7,941.9 1375.2,941.9 1376.7,941.9 1378.2,941.9 1379.7,941.9 1381.2,942.0 1382.7,942.0 1384.2,942.0 1385.7,942.0 1387.2,942.0 1388.7,942.0 1390.2,942.0 1391.7,942.0 1393.2,942.0 1394.7,942.0 1396.2,942.0 1397.7,942.0 1399.2,942.1 1400.7,942.1 1402.2,942.1 1403.7,942.1 1405.2,942.1 1406.7,942.1 1408.2,942.1 1409.7,942.1 1411.2,942.1 1412.7,942.1 1414.2,942.1 1415.7,942.1 1417.2,942.2 1418.7,942.2 1420.2,942.2 1421.7,942.2 1423.2,942.2 1424.7,942.2 1426.2,942.2 1427.7,942.2 1429.2,942.2 1430.7,942.2 1432.2,942.2 1433.7,942.2 1435.2,942.2 1436.7,942.2 1438.2,942.2 1439.7,942.2 1441.2,942.2 1442.7,942.2 1444.2,942.2 1445.7,942.2 1447.2,942.2 1448.7,942.2 1450.2,942.2 1451.7,942.2 1453.2,942.2 1454.7,942.2 1456.2,942.2 1457.7,942.2 1459.2,942.2 1460.7,942.2 1462.2,942.1 1463.7,942.0 1465.2,941.9 1466.7,941.7 1468.2,941.5 1469.7,941.3 1471.2,941.1 1472.7,940.8 1474.2,940.6 1475.7,940.4 1477.2,940.1 1478.7,939.9 1480.2,939.7 1481.7,939.5 1483.2,939.3 1484.7,939.2 1486.2,939.1 1487.7,939.1 1489.2,939.0 1490.7,939.0 1492.2,938.9 1493.7,938.9 1495.2,938.9 1496.7,938.9 1498.2,938.8 1499.7,938.8 1501.2,938.8 1502.7,938.8 1504.2,938.8 1505.7,938.8 1507.2,938.8 1508.7,938.7 1510.2,938.7 1511.7,938.7 1513.2,938.7 1514.7,938.7 1516.2,938.7 1517.7,938.7 1519.2,938.7 1520.7,938.7 1522.2,938.7 1523.7,938.7 1525.2,938.7 1526.7,938.7 1528.2,938.7 1529.7,938.7 1531.2,938.7 1532.7,938.7 1534.2,938.7 1535.7,938.7 1537.2,938.6 1538.7,938.6 1540.2,938.6 1541.7,938.6 1543.2,938.6 1544.7,938.5 1546.2,938.5 1547.7,938.5 1549.2,938.5 1550.7,938.4 1552.2,938.4 1553.7,938.4 1555.2,938.3 1556.7,938.3 1558.2,938.3 1559.7,938.2 1561.2,938.2 1562.7,938.1 1564.2,938.1 1565.7,938.0 1567.2,938.0 1568.7,937.9 1570.2,937.9 1571.7,937.8 1573.2,937.7 1574.7,937.7 1576.2,937.6 1577.7,937.5 1579.2,937.5 1580.7,937.4 1582.2,937.3 1583.7,937.2 1585.2,937.1 1586.7,937.0 1588.2,936.9 1589.7,936.8 1591.2,936.7 1592.7,936.6 1594.2,936.5 1595.7,936.3 1597.2,936.2 1598.7,936.1 1600.2,935.8 1601.7,935.2 1603.2,934.5 1604.7,933.6 1606.2,932.7 1607.7,931.7 1609.2,930.8 1610.7,930.1 1612.2,929.4 1613.7,929.0 1615.2,928.6 1616.7,928.2 1618.2,927.8 1619.7,927.4 1621.2,927.1 1622.7,926.8 1624.2,926.5 1625.7,926.2 1627.2,926.0 1628.7,925.8 1630.2,925.6 1631.7,925.5 1633.2,925.4 1634.7,925.3 1636.2,925.2 1637.7,925.1 1639.2,925.0 1640.7,924.9 1642.2,924.9 1643.7,924.8 1645.2,924.8 1646.7,924.7 1648.2,924.7 1649.7,924.7 1651.2,924.7 1652.7,924.8 1654.2,924.8 1655.7,924.9 1657.2,925.0 1658.7,925.1 1660.2,925.2 1661.7,925.3 1663.2,925.5 1664.7,925.6 1666.2,925.8 1667.7,925.9 1669.2,926.1 1670.7,926.3 1672.2,926.5 1673.7,926.6 1675.2,926.8 1676.7,927.0 1678.2,927.2 1679.7,927.3 1681.2,927.5 1682.7,927.7 1684.2,927.8 1685.7,928.0 1687.2,928.1 1688.7,928.3 1690.2,928.4 1691.7,928.5 1693.2,928.6 1694.7,928.7 1696.2,928.8 1697.7,928.9 1699.2,928.9 1700.7,929.0 1702.2,929.1 1703.7,929.2 1705.2,929.3 1706.7,929.3 1708.2,929.4 1709.7,929.5 1711.2,929.6 1712.7,929.6 1714.2,929.7 1715.7,929.8 1717.2,929.9 1718.7,929.9 1720.2,930.0 1721.7,930.1 1723.2,930.1 1724.7,930.2 1726.2,930.3 1727.7,930.4 1729.2,930.4 1730.7,930.5 1732.2,930.6 1733.7,930.6 1735.2,930.7 1736.7,930.8 1738.2,930.9 1739.7,930.9 1741.2,931.0 1742.7,931.1 1744.2,931.1 1745.7,931.2 1747.2,931.3 1748.7,931.3 1750.2,931.4 1751.7,931.5 1753.2,931.5 1754.7,931.6 1756.2,931.7 1757.7,931.7 1759.2,931.8 1760.7,931.9 1762.2,932.0 1763.7,932.0 1765.2,932.1 1766.7,932.2 1768.2,932.2 1769.7,932.3 1771.2,932.4 1772.7,932.5 1774.2,932.5 1775.7,932.6 1777.2,932.7 1778.7,932.7 1780.2,932.8 1781.7,932.9 1783.2,932.9 1784.7,933.0 1786.2,933.0 1787.7,933.1 1789.2,933.2 1790.7,933.2 1792.2,933.3 1793.7,933.3 1795.2,933.4 1796.7,933.4 1798.2,933.5 1799.7,933.5 1801.2,933.5 1802.7,933.6 1804.2,933.6 1805.7,933.6 1807.2,933.6 1808.7,933.7 1810.2,933.7 1811.7,933.7 1813.2,933.7 1814.7,933.7 1816.2,933.7 1817.7,933.7 1819.2,933.6 1820.7,933.6 1822.2,933.6 1823.7,933.5 1825.2,933.4 1826.7,933.3 1828.2,933.2 1829.7,933.1 1831.2,933.0 1832.7,932.9 1834.2,932.8 1835.7,932.7 1837.2,932.5 1838.7,932.4 1840.2,932.3 1841.7,932.1 1843.2,932.0 1844.7,931.8 1846.2,931.7 1847.7,931.6 1849.2,931.4 1850.7,931.3 1852.2,931.2 1853.7,931.0 1855.2,930.9 1856.7,930.8 1858.2,930.7 1859.7,930.6 1861.2,930.5 1862.7,930.4 1864.2,930.3 1865.7,930.3 1867.2,930.2 1868.7,930.1 1870.2,930.0 1871.7,930.0 1873.2,929.9 1874.7,929.8 1876.2,929.7 1877.7,929.7 1879.2,929.6 1880.7,929.6 1882.2,929.5 1883.7,929.4 1885.2,929.4 1886.7,929.3 1888.2,929.3 1889.7,929.2 1891.2,929.2 1892.7,929.1 1894.2,929.0 1895.7,929.0 1897.2,928.9 1898.7,928.9 1900.2,928.8 1901.7,928.8 1903.2,928.7 1904.7,928.7 1906.2,928.6 1907.7,928.5 1909.2,928.5 1910.7,928.4 1912.2,928.4 1913.7,928.3 1915.2,928.2 1916.7,928.2 1918.2,928.1 1919.7,928.0 1921.2,928.0 1922.7,927.9 1924.2,927.8 1925.7,927.7 1927.2,927.6 1928.7,927.5 1930.2,927.3 1931.7,927.1 1933.2,926.9 1934.7,926.6 1936.2,926.3 1937.7,925.9 1939.2,925.5 1940.7,925.1 1942.2,924.7 1943.7,924.3 1945.2,923.8 1946.7,923.3 1948.2,922.7 1949.7,922.1 1951.2,921.5 1952.7,920.8 1954.2,920.0 1955.7,919.3 1957.2,918.4 1958.7,917.6 1960.2,916.7 1961.7,915.8 1963.2,914.8 1964.7,913.8 1966.2,912.8 1967.7,911.8 1968.7,911.1"/>
<polyline fill="none" stroke="#f0f" stroke-width="4" stroke-linejoin="round" stroke-linecap="round" points="310.6,899.3 312.1,899.3 313.6,899.3 315.1,899.3 316.6,899.3 318.1,899.3 319.6,899.3 321.1,899.3 322.6,899.3 324.1,899.3 325.6,899.3 327.1,899.3 328.6,899.3 330.1,899.3 331.6,899.3 333.1,899.3 334.6,899.3 336.1,899.3 337.6,899.3 339.1,899.3 340.6,899.3 342.1,899.3 343.6,899.3 345.1,899.3 346.6,899.3 348.1,899.3 349.6,899.3 351.1,899.3 352.6,899.3 354.1,899.3 355.6,899.3 357.1,899.3 358.6,899.3 360.1,899.3 361.6,899.3 363.1,899.3 364.6,899.3 366.1,899.3 367.6,899.3 369.1,899.3 370.6,899.3 372.1,899.3 373.6,899.3 375.1,899.3 376.6,899.3 378.1,899.3 379.6,899.3 381.1,899.3 382.6,899.3 384.1,899.3 385.6,899.3 387.1,899.3 388.6,899.3 390.1,899.3 391.6,899.3 393.1,899.3 394.6,899.3 396.1,899.3 397.6,899.3 399.1,899.3 400.6,899.3 402.1,899.3 403.6,899.3 405.1,899.3 406.6,899.3 408.1,899.3 409.6,899.3 411.1,899.3 412.6,899.3 414.1,899.3 415.6,899.3 417.1,899.3 418.6,899.3 420.1,899.3 421.6,899.3 423.1,899.3 424.6,899.3 426.1,899.3 427.6,899.3 429.1,899.3 430.6,899.3 432.1,899.3 433.6,899.3 435.1,899.3 436.6,899.3 438.1,899.3 439.6,899.3 441.1,899.3 442.6,899.3 444.1,899.3 445.6,899.3 447.1,899.3 448.6,899.3 450.1,899.3 451.6,899.3 453.1,899.3 454.6,899.3 456.1,899.3 457.6,899.3 459.1,899.3 460.6,899.3 462.1,899.3 463.6,899.3 465.1,899.3 466.6,899.3 468.1,899.3 469.6,899.3 471.1,899.3 472.6,899.3 474.1,899.3 475.6,899.3 477.1,899.3 478.6,899.3 480.1,899.3 481.6,899.3 483.1,899.3 484.6,899.4 486.1,899.4 487.6,899.4 489.1,899.4 490.6,899.4 492.1,899.4 493.6,899.4 495.1,899.4 496.6,899.4 498.1,899.4 499.6,899.4 501.1,899.4 502.6,899.4 504.1,899.4 505.6,899.4 507.1,899.4 508.6,899.4 510.1,899.4 511.6,899.4 513.1,899.4 514.6,899.4 516.1,899.4 517.6,899.4 519.1,899.4 520.6,899.4 522.1,899.4 523.6,899.4 525.1,899.4 526.6,899.4 528.1,899.4 529.6,899.4 531.1,899.4 532.6,899.4 534.1,899.4 535.6,899.4 537.1,899.4 538.6,899.4 540.1,899.4 541.6,899.4 543.1,899.4 544.6,899.4 546.1,899.4 547.6,899.4 549.1,899.4 550.6,899.4 552.1,899.4 553.6,899.4 555.1,899.4 556.6,899.4 558.1,899.4 559.6,899.4 561.1,899.4 562.6,899.4 564.1,899.4 565.6,899.4 567.1,899.4 568.6,899.4 570.1,899.4 571.6,899.4 573.1,899.4 574.6,899.4 576.1,899.4 577.6,899.4 579.1,899.4 580.6,899.4 582.1,899.4 583.6,899.4 585.1,899.4 586.6,899.4 588.1,899.5 589.6,899.5 591.1,899.5 592.6,899.5 594.1,899.5 595.6,899.5 597.1,899.5 598.6,899.5 600.1,899.5 601.6,899.5 603.1,899.5 604.6,899.5 606.1,899.5 607.6,899.5 609.1,899.5 610.6,899.5 612.1,899.5 613.6,899.5 615.1,899.5 616.6,899.5 618.1,899.5 619.6,899.5 621.1,899.5 622.6,899.5 624.1,899.5 625.6,899.5 627.1,899.5 628.6,899.5 630.1,899.5 631.6,899.5 633.1,899.5 634.6,899.5 636.1,899.5 637.6,899.5 639.1,899.5 640.6,899.5 642.1,899.5 643.6,899.5 645.1,899.5 646.6,899.5 648.1,899.5 649.6,899.5 651.1,899.5 652.6,899.5 654.1,899.5 655.6,899.6 657.1,899.6 658.6,899.6 660.1,899.6 661.6,899.6 663.1,899.6 664.6,899.6 666.1,899.6 667.6,899.6 669.1,899.6 670.6,899.6 672.1,899.6 673.6,899.6 675.1,899.6 676.6,899.6 678.1,899.6 679.6,899.6 681.1,899.6 682.6,899.6 684.1,899.6 685.6,899.6 687.1,899.6 688.6,899.6 690.1,899.6 691.6,899.6 693.1,899.6 694.6,899.6 696.1,899.6 697.6,899.6 699.1,899.6 700.6,899.6 702.1,899.6 703.6,899.7 705.1,899.7 706.6,899.7 708.1,899.7 709.6,899.7 711.1,899.7 712.6,899.7 714.1,899.7 715.6,899.7 717.1,899.7 718.6,899.7 720.1,899.7 721.6,899.7 723.1,899.7 724.6,899.7 726.1,899.7 727.6,899.7 729.1,899.7 730.6,899.7 732.1,899.7 733.6,899.7 735.1,899.7 736.6,899.7 738.1,899.7 739.6,899.8 741.1,899.8 742.6,899.8 744.1,899.8 745.6,899.8 747.1,899.8 748.6,899.8 750.1,899.8 751.6,899.8 753.1,899.8 754.6,899.8 756.1,899.8 757.6,899.8 759.1,899.8 760.6,899.8 762.1,899.8 763.6,899.8 765.1,899.8 766.6,899.8 768.1,899.9 769.6,899.9 771.1,899.9 772.6,899.9 774.1,899.9 775.6,899.9 777.1,899.9 778.6,899.9 780.1,899.9 781.6,899.9 783.1,899.9 784.6,899.9 786.1,899.9 787.6,899.9 789.1,899.9 790.6,900.0 792.1,900.0 793.6,900.0 795.1,900.0 796.6,900.0 798.1,900.0 799.6,900.0 801.1,900.0 802.6,900.0 804.1,900.0 805.6,900.0 807.1,900.0 808.6,900.0 810.1,900.1 811.6,900.1 813.1,900.1 814.6,900.1 816.1,900.1 817.6,900.1 819.1,900.1 820.6,900.1 822.1,900.1 823.6,900.1 825.1,900.1 826.6,900.1 828.1,900.2 829.6,900.2 831.1,900.2 832.6,900.2 834.1,900.2 835.6,900.2 837.1,900.2 838.6,900.2 840.1,900.2 841.6,900.3 843.1,900.3 844.6,900.3 846.1,900.3 847.6,900.3 849.1,900.3 850.6,900.3 852.1,900.3 853.6,900.3 855.1,900.4 856.6,900.4 858.1,900.4 859.6,900.4 861.1,900.4 862.6,900.4 864.1,900.4 865.6,900.5 867.1,900.5 868.6,900.5 870.1,900.5 871.6,900.5 873.1,900.5 874.6,900.5 876.1,900.6 877.6,900.6 879.1,900.6 880.6,900.6 882.1,900.6 883.6,900.6 885.1,900.7 886.6,900.7 888.1,900.7 889.6,900.7 891.1,900.7 892.6,900.8 894.1,900.8 895.6,900.8 897.1,900.8 898.6,900.8 900.1,900.9 901.6,900.9 903.1,900.9 904.6,900.9 906.1,900.9 907.6,901.0 909.1,901.0 910.6,901.0 912.1,901.0 913.6,901.1 915.1,901.1 916.6,901.1 918.1,901.1 919.6,901.2 921.1,901.2 922.6,901.2 924.1,901.2 925.6,901.3 927.1,901.3 928.6,901.3 930.1,901.4 931.6,901.4 933.1,901.4 934.6,901.5 936.1,901.5 937.6,901.5 939.1,901.6 940.6,901.6 942.1,901.6 943.6,901.7 945.1,901.7 946.6,901.7 948.1,901.8 949.6,901.8 951.1,901.9 952.6,901.9 954.1,901.9 955.6,902.0 957.1,902.0 958.6,902.1 960.1,902.1 961.6,902.2 963.1,902.2 964.6,902.3 966.1,902.3 967.6,902.4 969.1,902.4 970.6,902.5 972.1,902.6 973.6,902.6 975.1,902.7 976.6,902.7 978.1,902.8 979.6,902.9 981.1,902.9 982.6,903.0 984.1,903.1 985.6,903.1 987.1,903.2 988.6,903.3 990.1,903.4 991.6,903.5 993.1,903.5 994.6,903.6 996.1,903.7 997.6,903.8 999.1,903.9 1000.6,904.0 1002.1,904.1 1003.6,904.2 1005.1,904.3 1006.6,904.4 1008.1,904.5 1009.6,904.7 1011.1,904.8 1012.6,904.9 1014.1,905.0 1015.6,905.2 1017.1,905.3 1018.6,905.5 1020.1,905.6 1021.6,905.8 1023.1,905.9 1024.6,906.1 1026.1,906.3 1027.6,906.4 1029.1,906.6 1030.6,906.8 1032.1,907.0 1033.6,907.2 1035.1,907.4 1036.6,907.7 1038.1,907.9 1039.6,908.2 1041.1,908.4 1042.6,908.7 1044.1,909.0 1045.6,909.3 1047.1,909.6 1048.6,909.9 1050.1,910.2 1051.6,910.6 1053.1,910.9 1054.6,911.3 1056.1,911.7 1057.6,912.2 1059.1,912.6 1060.6,913.1 1062.1,913.6 1063.6,914.1 1065.1,914.7 1066.6,915.3 1068.1,915.9 1069.6,916.5 1071.1,917.2 1072.6,918.0 1074.1,918.8 1075.6,919.6 1077.1,920.5 1078.6,921.5 1080.1,922.5 1081.6,923.6 1083.1,924.8 1084.6,926.1 1086.1,927.5 1087.6,929.0 1089.1,930.6 1090.6,932.3 1092.1,934.2 1093.6,936.2 1095.1,938.4 1096.6,940.8 1098.1,943.4 1099.6,946.2 1101.1,949.3 1102.6,952.6 1104.1,956.2 1105.6,960.1 1107.1,964.3 1108.6,968.9 1110.1,973.8 1111.6,979.0 1113.1,984.6 1114.6,990.6 1116.1,996.8 1117.6,1003.3 1119.1,1010.0 1120.6,1016.7 1122.1,1023.4 1123.6,1029.9 1125.1,1035.9 1126.6,1041.4 1128.1,1045.9 1129.6,1049.5 1131.1,1051.9 1132.6,1053.0 1134.1,1053.0 1135.6,1051.7 1137.1,1049.5 1138.6,1046.5 1140.1,1042.9 1141.6,1039.0 1143.1,1034.9 1144.6,1030.8 1146.1,1027.0 1147.6,1023.5 1149.1,1020.4 1150.6,1017.9 1152.1,1015.9 1153.6,1014.5 1155.1,1013.7 1156.6,1013.6 1158.1,1014.1 1159.6,1015.3 1161.1,1017.0 1162.6,1019.3 1164.1,1022.2 1165.6,1025.6 1167.1,1029.3 1168.6,1033.3 1170.1,1037.4 1171.6,1041.4 1173.1,1045.2 1174.6,1048.4 1176.1,1051.0 1177.6,1052.6 1179.1,1053.1 1180.6,1052.5 1182.1,1050.6 1183.6,1047.5 1185.1,1043.3 1186.6,1038.2 1188.1,1032.4 1189.6,1026.0 1191.1,1019.4 1192.6,1012.7 1194.1,1005.9 1195.6,999.4 1197.1,993.0 1198.6,986.9 1200.1,981.2 1201.6,975.8 1203.1,970.8 1204.6,966.1 1206.1,961.7 1207.6,957.7 1209.1,954.0 1210.6,950.6 1212.1,947.4 1213.6,944.5 1215.1,941.8 1216.6,939.4 1218.1,937.1 1219.6,935.0 1221.1,933.0 1222.6,931.3 1224.1,929.6 1225.6,928.1 1227.1,926.6 1228.6,925.3 1230.1,924.1 1231.6,923.0 1233.1,921.9 1234.6,920.9 1236.1,920.0 1237.6,919.1 1239.1,918.3 1240.6,917.5 1242.1,916.8 1243.6,916.1 1245.1,915.5 1246.6,914.9 1248.1,914.3 1249.6,913.8 1251.1,913.3 1252.6,912.8 1254.1,912.3 1255.6,911.9 1257.1,911.5 1258.6,911.1 1260.1,910.7 1261.6,910.4 1263.1,910.0 1264.6,909.7 1266.1,909.4 1267.6,909.1 1269.1,908.8 1270.6,908.5 1272.1,908.3 1273.6,908.0 1275.1,907.8 1276.6,907.5 1278.1,907.3 1279.6,907.1 1281.1,906.9 1282.6,906.7 1284.1,906.5 1285.6,906.3 1287.1,906.2 1288.6,906.0 1290.1,905.8 1291.6,905.7 1293.1,905.5 1294.6,905.4 1296.1,905.2 1297.6,905.1 1299.1,905.0 1300.6,904.8 1302.1,904.7 1303.6,904.6 1305.1,904.5 1306.6,904.4 1308.1,904.2 1309.6,904.1 1311.1,904.0 1312.6,903.9 1314.1,903.8 1315.6,903.8 1317.1,903.7 1318.6,903.6 1320.1,903.5 1321.6,903.4 1323.1,903.3 1324.6,903.2 1326.1,903.2 1327.6,903.1 1329.1,903.0 1330.6,903.0 1332.1,902.9 1333.6,902.8 1335.1,902.8 1336.6,902.7 1338.1,902.6 1339.6,902.6 1341.1,902.5 1342.6,902.5 1344.1,902.4 1345.6,902.3 1347.1,902.3 1348.6,902.2 1350.1,902.2 1351.6,902.1 1353.1,902.1 1354.6,902.1 1356.1,902.0 1357.6,902.0 1359.1,901.9 1360.6,901.9 1362.1,901.8 1363.6,901.8 1365.1,901.8 1366.6,901.7 1368.1,901.7 1369.6,901.6 1371.1,901.6 1372.6,901.6 1374.1,901.5 1375.6,901.5 1377.1,901.5 1378.6,901.4 1380.1,901.4 1381.6,901.4 1383.1,901.3 1384.6,901.3 1386.1,901.3 1387.6,901.3 1389.1,901.2 1390.6,901.2 1392.1,901.2 1393.6,901.1 1395.1,901.1 1396.6,901.1 1398.1,901.1 1399.6,901.0 1401.1,901.0 1402.6,901.0 1404.1,901.0 1405.6,900.9 1407.1,900.9 1408.6,900.9 1410.1,900.9 1411.6,900.9 1413.1,900.8 1414.6,900.8 1416.1,900.8 1417.6,900.8 1419.1,900.8 1420.6,900.7 1422.1,900.7 1423.6,900.7 1425.1,900.7 1426.6,900.7 1428.1,900.6 1429.6,900.6 1431.1,900.6 1432.6,900.6 1434.1,900.6 1435.6,900.6 1437.1,900.5 1438.6,900.5 1440.1,900.5 1441.6,900.5 1443.1,900.5 1444.6,900.5 1446.1,900.5 1447.6,900.4 1449.1,900.4 1450.6,900.4 1452.1,900.4 1453.6,900.4 1455.1,900.4 1456.6,900.4 1458.1,900.4 1459.6,900.3 1461.1,900.3 1462.6,900.3 1464.1,900.3 1465.6,900.3 1467.1,900.3 1468.6,900.3 1470.1,900.3 1471.6,900.2 1473.1,900.2 1474.6,900.2 1476.1,900.2 1477.6,900.2 1479.1,900.2 1480.6,900.2 1482.1,900.2 1483.6,900.2 1485.1,900.2 1486.6,900.1 1488.1,900.1 1489.6,900.1 1491.1,900.1 1492.6,900.1 1494.1,900.1 1495.6,900.1 1497.1,900.1 1498.6,900.1 1500.1,900.1 1501.6,900.1 1503.1,900.0 1504.6,900.0 1506.1,900.0 1507.6,900.0 1509.1,900.0 1510.6,900.0 1512.1,900.0 1513.6,900.0 1515.1,900.0 1516.6,900.0 1518.1,900.0 1519.6,900.0 1521.1,900.0 1522.6,899.9 1524.1,899.9 1525.6,899.9 1527.1,899.9 1528.6,899.9 1530.1,899.9 1531.6,899.9 1533.1,899.9 1534.6,899.9 1536.1,899.9 1537.6,899.9 1539.1,899.9 1540.6,899.9 1542.1,899.9 1543.6,899.9 1545.1,899.9 1546.6,899.8 1548.1,899.8 1549.6,899.8 1551.1,899.8 1552.6,899.8 1554.1,899.8 1555.6,899.8 1557.1,899.8 1558.6,899.8 1560.1,899.8 1561.6,899.8 1563.1,899.8 1564.6,899.8 1566.1,899.8 1567.6,899.8 1569.1,899.8 1570.6,899.8 1572.1,899.8 1573.6,899.8 1575.1,899.7 1576.6,899.7 1578.1,899.7 1579.6,899.7 1581.1,899.7 1582.6,899.7 1584.1,899.7 1585.6,899.7 1587.1,899.7 1588.6,899.7 1590.1,899.7 1591.6,899.7 1593.1,899.7 1594.6,899.7 1596.1,899.7 1597.6,899.7 1599.1,899.7 1600.6,899.7 1602.1,899.7 1603.6,899.7 1605.1,899.7 1606.6,899.7 1608.1,899.7 1609.6,899.7 1611.1,899.6 1612.6,899.6 1614.1,899.6 1615.6,899.6 1617.1,899.6 1618.6,899.6 1620.1,899.6 1621.6,899.6 1623.1,899.6 1624.6,899.6 1626.1,899.6 1627.6,899.6 1629.1,899.6 1630.6,899.6 1632.1,899.6 1633.6,899.6 1635.1,899.6 1636.6,899.6 1638.1,899.6 1639.6,899.6 1641.1,899.6 1642.6,899.6 1644.1,899.6 1645.6,899.6 1647.1,899.6 1648.6,899.6 1650.1,899.6 1651.6,899.6 1653.1,899.6 1654.6,899.6 1656.1,899.6 1657.6,899.6 1659.1,899.5 1660.6,899.5 1662.1,899.5 1663.6,899.5 1665.1,899.5 1666.6,899.5 1668.1,899.5 1669.6,899.5 1671.1,899.5 1672.6,899.5 1674.1,899.5 1675.6,899.5 1677.1,899.5 1678.6,899.5 1680.1,899.5 1681.6,899.5 1683.1,899.5 1684.6,899.5 1686.1,899.5 1687.6,899.5 1689.1,899.5 1690.6,899.5 1692.1,899.5 1693.6,899.5 1695.1,899.5 1696.6,899.5 1698.1,899.5 1699.6,899.5 1701.1,899.5 1702.6,899.5 1704.1,899.5 1705.6,899.5 1707.1,899.5 1708.6,899.5 1710.1,899.5 1711.6,899.5 1713.1,899.5 1714.6,899.5 1716.1,899.5 1717.6,899.5 1719.1,899.5 1720.6,899.5 1722.1,899.5 1723.6,899.5 1725.1,899.4 1726.6,899.4 1728.1,899.4 1729.6,899.4 1731.1,899.4 1732.6,899.4 1734.1,899.4 1735.6,899.4 1737.1,899.4 1738.6,899.4 1740.1,899.4 1741.6,899.4 1743.1,899.4 1744.6,899.4 1746.1,899.4 1747.6,899.4 1749.1,899.4 1750.6,899.4 1752.1,899.4 1753.6,899.4 1755.1,899.4 1756.6,899.4 1758.1,899.4 1759.6,899.4 1761.1,899.4 1762.6,899.4 1764.1,899.4 1765.6,899.4 1767.1,899.4 1768.6,899.4 1770.1,899.4 1771.6,899.4 1773.1,899.4 1774.6,899.4 1776.1,899.4 1777.6,899.4 1779.1,899.4 1780.6,899.4 1782.1,899.4 1783.6,899.4 1785.1,899.4 1786.6,899.4 1788.1,899.4 1789.6,899.4 1791.1,899.4 1792.6,899.4 1794.1,899.4 1795.6,899.4 1797.1,899.4 1798.6,899.4 1800.1,899.4 1801.6,899.4 1803.1,899.4 1804.6,899.4 1806.1,899.4 1807.6,899.4 1809.1,899.4 1810.6,899.4 1812.1,899.4 1813.6,899.4 1815.1,899.4 1816.6,899.4 1818.1,899.4 1819.6,899.4 1821.1,899.4 1822.6,899.4 1824.1,899.4 1825.6,899.4 1827.1,899.4 1828.6,899.3 1830.1,899.3 1831.6,899.3 1833.1,899.3 1834.6,899.3 1836.1,899.3 1837.6,899.3 1839.1,899.3 1840.6,899.3 1842.1,899.3 1843.6,899.3 1845.1,899.3 1846.6,899.3 1848.1,899.3 1849.6,899.3 1851.1,899.3 1852.6,899.3 1854.1,899.3 1855.6,899.3 1857.1,899.3 1858.6,899.3 1860.1,899.3 1861.6,899.3 1863.1,899.3 1864.6,899.3 1866.1,899.3 1867.6,899.3 1869.1,899.3 1870.6,899.3 1872.1,899.3 1873.6,899.3 1875.1,899.3 1876.6,899.3 1878.1,899.3 1879.6,899.3 1881.1,899.3 1882.6,899.3 1884.1,899.3 1885.6,899.3 1887.1,899.3 1888.6,899.3 1890.1,899.3 1891.6,899.3 1893.1,899.3 1894.6,899.3 1896.1,899.3 1897.6,899.3 1899.1,899.3 1900.6,899.3 1902.1,899.3 1903.6,899.3 1905.1,899.3 1906.6,899.3 1908.1,899.3 1909.6,899.3 1911.1,899.3 1912.6,899.3 1914.1,899.3 1915.6,899.3 1917.1,899.3 1918.6,899.3 1920.1,899.3 1921.6,899.3 1923.1,899.3 1924.6,899.3 1926.1,899.3 1927.6,899.3 1929.1,899.3 1930.6,899.3 1932.1,899.3 1933.6,899.3 1935.1,899.3 1936.6,899.3 1938.1,899.3 1939.6,899.3 1941.1,899.3 1942.6,899.3 1944.1,899.3 1945.6,899.3 1947.1,899.3 1948.6,899.3 1950.1,899.3 1951.6,899.3 1953.1,899.3 1954.6,899.3 1956.1,899.3 1957.6,899.3 1959.1,899.3 1960.6,899.3 1962.1,899.3 1963.6,899.3 1965.1,899.3 1966.6,899.3 1968.1,899.3 1969.5,899.3"/>
<polyline fill="none" stroke="#f0f" stroke-width="4" stroke-linejoin="round" stroke-linecap="round" points="312.4,899.3 313.9,899.3 315.4,899.3 316.9,899.3 318.4,899.3 319.9,899.3 321.4,899.3 322.9,899.3 324.4,899.3 325.9,899.3 327.4,899.3 328.9,899.3 330.4,899.3 331.9,899.3 333.4,899.3 334.9,899.3 336.4,899.3 337.9,899.3 339.4,899.3 340.9,899.3 342.4,899.3 343.9,899.3 345.4,899.3 346.9,899.3 348.4,899.3 349.9,899.3 351.4,899.3 352.9,899.3 354.4,899.3 355.9,899.3 357.4,899.3 358.9,899.3 360.4,899.3 361.9,899.3 363.4,899.3 364.9,899.3 366.4,899.3 367.9,899.3 369.4,899.3 370.9,899.3 372.4,899.3 373.9,899.3 375.4,899.3 376.9,899.3 378.4,899.3 379.9,899.3 381.4,899.3 382.9,899.3 384.4,899.3 385.9,899.3 387.4,899.3 388.9,899.3 390.4,899.3 391.9,899.3 393.4,899.3 394.9,899.3 396.4,899.3 397.9,899.3 399.4,899.3 400.9,899.3 402.4,899.3 403.9,899.3 405.4,899.3 406.9,899.3 408.4,899.3 409.9,899.3 411.4,899.3 412.9,899.3 414.4,899.3 415.9,899.3 417.4,899.3 418.9,899.3 420.4,899.3 421.9,899.3 423.4,899.3 424.9,899.3 426.4,899.3 427.9,899.3 429.4,899.3 430.9,899.3 432.4,899.3 433.9,899.3 435.4,899.3 436.9,899.3 438.4,899.3 439.9,899.3 441.4,899.3 442.9,899.3 444.4,899.3 445.9,899.3 447.4,899.3 448.9,899.3 450.4,899.3 451.9,899.3 453.4,899.3 454.9,899.3 456.4,899.3 457.9,899.3 459.4,899.3 460.9,899.3 462.4,899.3 463.9,899.3 465.4,899.3 466.9,899.3 468.4,899.3 469.9,899.3 471.4,899.3 472.9,899.3 474.4,899.3 475.9,899.3 477.4,899.3 478.9,899.3 480.4,899.3 481.9,899.3 483.4,899.3 484.9,899.3 486.4,899.4 487.9,899.4 489.4,899.4 490.9,899.4 492.4,899.4 493.9,899.4 495.4,899.4 496.9,899.4 498.4,899.4 499.9,899.4 501.4,899.4 502.9,899.4 504.4,899.4 505.9,899.4 507.4,899.4 508.9,899.4 510.4,899.4 511.9,899.4 513.4,899.4 514.9,899.4 516.4,899.4 517.9,899.4 519.4,899.4 520.9,899.4 522.4,899.4 523.9,899.4 525.4,899.4 526.9,899.4 528.4,899.4 529.9,899.4 531.4,899.4 532.9,899.4 534.4,899.4 535.9,899.4 537.4,899.4 538.9,899.4 540.4,899.4 541.9,899.4 543.4,899.4 544.9,899.4 546.4,899.4 547.9,899.4 549.4,899.4 550.9,899.4 552.4,899.4 553.9,899.4 555.4,899.4 556.9,899.4 558.4,899.4 559.9,899.4 561.4,899.4 562.9,899.4 564.4,899.4 565.9,899.4 567.4,899.4 568.9,899.4 570.4,899.4 571.9,899.4 573.4,899.4 574.9,899.4 576.4,899.4 577.9,899.4 579.4,899.4 580.9,899.4 582.4,899.4 583.9,899.4 585.4,899.4 586.9,899.4 588.4,899.4 589.9,899.5 591.4,899.5 592.9,899.5 594.4,899.5 595.9,899.5 597.4,899.5 598.9,899.5 600.4,899.5 601.9,899.5 603.4,899.5 604.9,899.5 606.4,899.5 607.9,899.5 609.4,899.5 610.9,899.5 612.4,899.5 613.9,899.5 615.4,899.5 616.9,899.5 618.4,899.5 619.9,899.5 621.4,899.5 622.9,899.5 624.4,899.5 625.9,899.5 627.4,899.5 628.9,899.5 630.4,899.5 631.9,899.5 633.4,899.5 634.9,899.5 636.4,899.5 637.9,899.5 639.4,899.5 640.9,899.5 642.4,899.5 643.9,899.5 645.4,899.5 646.9,899.5 648.4,899.5 649.9,899.5 651.4,899.5 652.9,899.5 654.4,899.5 655.9,899.5 657.4,899.6 658.9,899.6 660.4,899.6 661.9,899.6 663.4,899.6 664.9,899.6 666.4,899.6 667.9,899.6 669.4,899.6 670.9,899.6 672.4,899.6 673.9,899.6 675.4,899.6 676.9,899.6 678.4,899.6 679.9,899.6 681.4,899.6 682.9,899.6 684.4,899.6 685.9,899.6 687.4,899.6 688.9,899.6 690.4,899.6 691.9,899.6 693.4,899.6 694.9,899.6 696.4,899.6 697.9,899.6 699.4,899.6 700.9,899.6 702.4,899.6 703.9,899.6 705.4,899.7 706.9,899.7 708.4,899.7 709.9,899.7 711.4,899.7 712.9,899.7 714.4,899.7 715.9,899.7 717.4,899.7 718.9,899.7 720.4,899.7 721.9,899.7 723.4,899.7 724.9,899.7 726.4,899.7 727.9,899.7 729.4,899.7 730.9,899.7 732.4,899.7 733.9,899.7 735.4,899.7 736.9,899.7 738.4,899.7 739.9,899.7 741.4,899.8 742.9,899.8 744.4,899.8 745.9,899.8 747.4,899.8 748.9,899.8 750.4,899.8 751.9,899.8 753.4,899.8 754.9,899.8 756.4,899.8 757.9,899.8 759.4,899.8 760.9,899.8 762.4,899.8 763.9,899.8 765.4,899.8 766.9,899.8 768.4,899.8 769.9,899.9 771.4,899.9 772.9,899.9 774.4,899.9 775.9,899.9 777.4,899.9 778.9,899.9 780.4,899.9 781.9,899.9 783.4,899.9 784.9,899.9 786.4,899.9 787.9,899.9 789.4,899.9 790.9,899.9 792.4,900.0 793.9,900.0 795.4,900.0 796.9,900.0 798.4,900.0 799.9,900.0 801.4,900.0 802.9,900.0 804.4,900.0 805.9,900.0 807.4,900.0 808.9,900.0 810.4,900.0 811.9,900.1 813.4,900.1 814.9,900.1 816.4,900.1 817.9,900.1 819.4,900.1 820.9,900.1 822.4,900.1 823.9,900.1 825.4,900.1 826.9,900.1 828.4,900.1 829.9,900.2 831.4,900.2 832.9,900.2 834.4,900.2 835.9,900.2 837.4,900.2 838.9,900.2 840.4,900.2 841.9,900.2 843.4,900.3 844.9,900.3 846.4,900.3 847.9,900.3 849.4,900.3 850.9,900.3 852.4,900.3 853.9,900.3 855.4,900.3 856.9,900.4 858.4,900.4 859.9,900.4 861.4,900.4 862.9,900.4 864.4,900.4 865.9,900.4 867.4,900.5 868.9,900.5 870.4,900.5 871.9,900.5 873.4,900.5 874.9,900.5 876.4,900.5 877.9,900.6 879.4,900.6 880.9,900.6 882.4,900.6 883.9,900.6 885.4,900.6 886.9,900.7 888.4,900.7 889.9,900.7 891.4,900.7 892.9,900.7 894.4,900.8 895.9,900.8 897.4,900.8 898.9,900.8 900.4,900.8 901.9,900.9 903.4,900.9 904.9,900.9 906.4,900.9 907.9,900.9 909.4,901.0 910.9,901.0 912.4,901.0 913.9,901.0 915.4,901.1 916.9,901.1 918.4,901.1 919.9,901.1 921.4,901.2 922.9,901.2 924.4,901.2 925.9,901.2 927.4,901.3 928.9,901.3 930.4,901.3 931.9,901.4 933.4,901.4 934.9,901.4 936.4,901.5 937.9,901.5 939.4,901.5 940.9,901.6 942.4,901.6 943.9,901.6 945.4,901.7 946.9,901.7 948.4,901.7 949.9,901.8 951.4,901.8 952.9,901.9 954.4,901.9 955.9,901.9 957.4,902.0 958.9,902.0 960.4,902.1 961.9,902.1 963.4,902.2 964.9,902.2 966.4,902.3 967.9,902.3 969.4,902.4 970.9,902.4 972.4,902.5 973.9,902.6 975.4,902.6 976.9,902.7 978.4,902.7 979.9,902.8 981.4,902.9 982.9,902.9 984.4,903.0 985.9,903.1 987.4,903.1 988.9,903.2 990.4,903.3 991.9,903.4 993.4,903.5 994.9,903.5 996.4,903.6 997.9,903.7 999.4,903.8 1000.9,903.9 1002.4,904.0 1003.9,904.1 1005.4,904.2 1006.9,904.3 1008.4,904.4 1009.9,904.5 1011.4,904.7 1012.9,904.8 1014.4,904.9 1015.9,905.0 1017.4,905.2 1018.9,905.3 1020.4,905.5 1021.9,905.6 1023.4,905.8 1024.9,905.9 1026.4,906.1 1027.9,906.3 1029.4,906.4 1030.9,906.6 1032.4,906.8 1033.9,907.0 1035.4,907.2 1036.9,907.4 1038.4,907.7 1039.9,907.9 1041.4,908.2 1042.9,908.4 1044.4,908.7 1045.9,909.0 1047.4,909.3 1048.9,909.6 1050.4,909.9 1051.9,910.2 1053.4,910.6 1054.9,910.9 1056.4,911.3 1057.9,911.7 1059.4,912.2 1060.9,912.6 1062.4,913.1 1063.9,913.6 1065.4,914.1 1066.9,914.7 1068.4,915.3 1069.9,915.9 1071.4,916.5 1072.9,917.2 1074.4,918.0 1075.9,918.8 1077.4,919.6 1078.9,920.5 1080.4,921.5 1081.9,922.5 1083.4,923.6 1084.9,924.8 1086.4,926.1 1087.9,927.5 1089.4,929.0 1090.9,930.6 1092.4,932.3 1093.9,934.2 1095.4,936.2 1096.9,938.4 1098.4,940.8 1099.9,943.4 1101.4,946.2 1102.9,949.3 1104.4,952.6 1105.9,956.2 1107.4,960.1 1108.9,964.3 1110.4,968.9 1111.9,973.8 1113.4,979.0 1114.9,984.6 1116.4,990.6 1117.9,996.8 1119.4,1003.3 1120.9,1010.0 1122.4,1016.7 1123.9,1023.4 1125.4,1029.9 1126.9,1035.9 1128.4,1041.4 1129.9,1045.9 1131.4,1049.5 1132.9,1051.9 1134.4,1053.0 1135.9,1053.0 1137.4,1051.7 1138.9,1049.5 1140.4,1046.5 1141.9,1042.9 1143.4,1039.0 1144.9,1034.9 1146.4,1030.8 1147.9,1027.0 1149.4,1023.5 1150.9,1020.4 1152.4,1017.9 1153.9,1015.9 1155.4,1014.5 1156.9,1013.7 1158.4,1013.6 1159.9,1014.1 1161.4,1015.3 1162.9,1017.0 1164.4,1019.3 1165.9,1022.2 1167.4,1025.6 1168.9,1029.3 1170.4,1033.3 1171.9,1037.4 1173.4,1041.4 1174.9,1045.2 1176.4,1048.4 1177.9,1051.0 1179.4,1052.6 1180.9,1053.1 1182.4,1052.5 1183.9,1050.6 1185.4,1047.5 1186.9,1043.3 1188.4,1038.2 1189.9,1032.4 1191.4,1026.0 1192.9,1019.4 1194.4,1012.7 1195.9,1005.9 1197.4,999.4 1198.9,993.0 1200.4,986.9 1201.9,981.2 1203.4,975.8 1204.9,970.8 1206.4,966.1 1207.9,961.7 1209.4,957.7 1210.9,954.0 1212.4,950.6 1213.9,947.4 1215.4,944.5 1216.9,941.8 1218.4,939.4 1219.9,937.1 1221.4,935.0 1222.9,933.0 1224.4,931.3 1225.9,929.6 1227.4,928.1 1228.9,926.6 1230.4,925.3 1231.9,924.1 1233.4,923.0 1234.9,921.9 1236.4,920.9 1237.9,920.0 1239.4,919.1 1240.9,918.3 1242.4,917.5 1243.9,916.8 1245.4,916.1 1246.9,915.5 1248.4,914.9 1249.9,914.3 1251.4,913.8 1252.9,913.3 1254.4,912.8 1255.9,912.3 1257.4,911.9 1258.9,911.5 1260.4,911.1 1261.9,910.7 1263.4,910.4 1264.9,910.0 1266.4,909.7 1267.9,909.4 1269.4,909.1 1270.9,908.8 1272.4,908.5 1273.9,908.3 1275.4,908.0 1276.9,907.8 1278.4,907.5 1279.9,907.3 1281.4,907.1 1282.9,906.9 1284.4,906.7 1285.9,906.5 1287.4,906.3 1288.9,906.2 1290.4,906.0 1291.9,905.8 1293.4,905.7 1294.9,905.5 1296.4,905.4 1297.9,905.2 1299.4,905.1 1300.9,905.0 1302.4,904.8 1303.9,904.7 1305.4,904.6 1306.9,904.5 1308.4,904.4 1309.9,904.2 1311.4,904.1 1312.9,904.0 1314.4,903.9 1315.9,903.8 1317.4,903.8 1318.9,903.7 1320.4,903.6 1321.9,903.5 1323.4,903.4 1324.9,903.3 1326.4,903.2 1327.9,903.2 1329.4,903.1 1330.9,903.0 1332.4,903.0 1333.9,902.9 1335.4,902.8 1336.9,902.8 1338.4,902.7 1339.9,902.6 1341.4,902.6 1342.9,902.5 1344.4,902.5 1345.9,902.4 1347.4,902.3 1348.9,902.3 1350.4,902.2 1351.9,902.2 1353.4,902.1 1354.9,902.1 1356.4,902.1 1357.9,902.0 1359.4,902.0 1360.9,901.9 1362.4,901.9 1363.9,901.8 1365.4,901.8 1366.9,901.8 1368.4,901.7 1369.9,901.7 1371.4,901.6 1372.9,901.6 1374.4,901.6 1375.9,901.5 1377.4,901.5 1378.9,901.5 1380.4,901.4 1381.9,901.4 1383.4,901.4 1384.9,901.3 1386.4,901.3 1387.9,901.3 1389.4,901.3 1390.9,901.2 1392.4,901.2 1393.9,901.2 1395.4,901.1 1396.9,901.1 1398.4,901.1 1399.9,901.1 1401.4,901.0 1402.9,901.0 1404.4,901.0 1405.9,901.0 1407.4,900.9 1408.9,900.9 1410.4,900.9 1411.9,900.9 1413.4,900.9 1414.9,900.8 1416.4,900.8 1417.9,900.8 1419.4,900.8 1420.9,900.8 1422.4,900.7 1423.9,900.7 1425.4,900.7 1426.9,900.7 1428.4,900.7 1429.9,900.6 1431.4,900.6 1432.9,900.6 1434.4,900.6 1435.9,900.6 1437.4,900.6 1438.9,900.5 1440.4,900.5 1441.9,900.5 1443.4,900.5 1444.9,900.5 1446.4,900.5 1447.9,900.5 1449.4,900.4 1450.9,900.4 1452.4,900.4 1453.9,900.4 1455.4,900.4 1456.9,900.4 1458.4,900.4 1459.9,900.4 1461.4,900.3 1462.9,900.3 1464.4,900.3 1465.9,900.3 1467.4,900.3 1468.9,900.3 1470.4,900.3 1471.9,900.3 1473.4,900.2 1474.9,900.2 1476.4,900.2 1477.9,900.2 1479.4,900.2 1480.9,900.2 1482.4,900.2 1483.9,900.2 1485.4,900.2 1486.9,900.2 1488.4,900.1 1489.9,900.1 1491.4,900.1 1492.9,900.1 1494.4,900.1 1495.9,900.1 1497.4,900.1 1498.9,900.1 1500.4,900.1 1501.9,900.1 1503.4,900.1 1504.9,900.0 1506.4,900.0 1507.9,900.0 1509.4,900.0 1510.9,900.0 1512.4,900.0 1513.9,900.0 1515.4,900.0 1516.9,900.0 1518.4,900.0 1519.9,900.0 1521.4,900.0 1522.9,900.0 1524.4,899.9 1525.9,899.9 1527.4,899.9 1528.9,899.9 1530.4,899.9 1531.9,899.9 1533.4,899.9 1534.9,899.9 1536.4,899.9 1537.9,899.9 1539.4,899.9 1540.9,899.9 1542.4,899.9 1543.9,899.9 1545.4,899.9 1546.9,899.9 1548.4,899.8 1549.9,899.8 1551.4,899.8 1552.9,899.8 1554.4,899.8 1555.9,899.8 1557.4,899.8 1558.9,899.8 1560.4,899.8 1561.9,899.8 1563.4,899.8 1564.9,899.8 1566.4,899.8 1567.9,899.8 1569.4,899.8 1570.9,899.8 1572.4,899.8 1573.9,899.8 1575.4,899.8 1576.9,899.7 1578.4,899.7 1579.9,899.7 1581.4,899.7 1582.9,899.7 1584.4,899.7 1585.9,899.7 1587.4,899.7 1588.9,899.7 1590.4,899.7 1591.9,899.7 1593.4,899.7 1594.9,899.7 1596.4,899.7 1597.9,899.7 1599.4,899.7 1600.9,899.7 1602.4,899.7 1603.9,899.7 1605.4,899.7 1606.9,899.7 1608.4,899.7 1609.9,899.7 1611.4,899.7 1612.9,899.6 1614.4,899.6 1615.9,899.6 1617.4,899.6 1618.9,899.6 1620.4,899.6 1621.9,899.6 1623.4,899.6 1624.9,899.6 1626.4,899.6 1627.9,899.6 1629.4,899.6 1630.9,899.6 1632.4,899.6 1633.9,899.6 1635.4,899.6 1636.9,899.6 1638.4,899.6 1639.9,899.6 1641.4,899.6 1642.9,899.6 1644.4,899.6 1645.9,899.6 1647.4,899.6 1648.9,899.6 1650.4,899.6 1651.9,899.6 1653.4,899.6 1654.9,899.6 1656.4,899.6 1657.9,899.6 1659.4,899.6 1660.9,899.5 1662.4,899.5 1663.9,899.5 1665.4,899.5 1666.9,899.5 1668.4,899.5 1669.9,899.5 1671.4,899.5 1672.9,899.5 1674.4,899.5 1675.9,899.5 1677.4,899.5 1678.9,899.5 1680.4,899.5 1681.9,899.5 1683.4,899.5 1684.9,899.5 1686.4,899.5 1687.9,899.5 1689.4,899.5 1690.9,899.5 1692.4,899.5 1693.9,899.5 1695.4,899.5 1696.9,899.5 1698.4,899.5 1699.9,899.5 1701.4,899.5 1702.9,899.5 1704.4,899.5 1705.9,899.5 1707.4,899.5 1708.9,899.5 1710.4,899.5 1711.9,899.5 1713.4,899.5 1714.9,899.5 1716.4,899.5 1717.9,899.5 1719.4,899.5 1720.9,899.5 1722.4,899.5 1723.9,899.5 1725.4,899.5 1726.9,899.4 1728.4,899.4 1729.9,899.4 1731.4,899.4 1732.9,899.4 1734.4,899.4 1735.9,899.4 1737.4,899.4 1738.9,899.4 1740.4,899.4 1741.9,899.4 1743.4,899.4 1744.9,899.4 1746.4,899.4 1747.9,899.4 1749.4,899.4 1750.9,899.4 1752.4,899.4 1753.9,899.4 1755.4,899.4 1756.9,899.4 1758.4,899.4 1759.9,899.4 1761.4,899.4 1762.9,899.4 1764.4,899.4 1765.9,899.4 1767.4,899.4 1768.9,899.4 1770.4,899.4 1771.9,899.4 1773.4,899.4 1774.9,899.4 1776.4,899.4 1777.9,899.4 1779.4,899.4 1780.9,899.4 1782.4,899.4 1783.9,899.4 1785.4,899.4 1786.9,899.4 1788.4,899.4 1789.9,899.4 1791.4,899.4 1792.9,899.4 1794.4,899.4 1795.9,899.4 1797.4,899.4 1798.9,899.4 1800.4,899.4 1801.9,899.4 1803.4,899.4 1804.9,899.4 1806.4,899.4 1807.9,899.4 1809.4,899.4 1810.9,899.4 1812.4,899.4 1813.9,899.4 1815.4,899.4 1816.9,899.4 1818.4,899.4 1819.9,899.4 1821.4,899.4 1822.9,899.4 1824.4,899.4 1825.9,899.4 1827.4,899.4 1828.9,899.4 1830.4,899.3 1831.9,899.3 1833.4,899.3 1834.9,899.3 1836.4,899.3 1837.9,899.3 1839.4,899.3 1840.9,899.3 1842.4,899.3 1843.9,899.3 1845.4,899.3 1846.9,899.3 1848.4,899.3 1849.9,899.3 1851.4,899.3 1852.9,899.3 1854.4,899.3 1855.9,899.3 1857.4,899.3 1858.9,899.3 1860.4,899.3 1861.9,899.3 1863.4,899.3 1864.9,899.3 1866.4,899.3 1867.9,899.3 1869.4,899.3 1870.9,899.3 1872.4,899.3 1873.9,899.3 1875.4,899.3 1876.9,899.3 1878.4,899.3 1879.9,899.3 1881.4,899.3 1882.9,899.3 1884.4,899.3 1885.9,899.3 1887.4,899.3 1888.9,899.3 1890.4,899.3 1891.9,899.3 1893.4,899.3 1894.9,899.3 1896.4,899.3 1897.9,899.3 1899.4,899.3 1900.9,899.3 1902.4,899.3 1903.9,899.3 1905.4,899.3 1906.9,899.3 1908.4,899.3 1909.9,899.3 1911.4,899.3 1912.9,899.3 1914.4,899.3 1915.9,899.3 1917.4,899.3 1918.9,899.3 1920.4,899.3 1921.9,899.3 1923.4,899.3 1924.9,899.3 1926.4,899.3 1927.9,899.3 1929.4,899.3 1930.9,899.3 1932.4,899.3 1933.9,899.3 1935.4,899.3 1936.9,899.3 1938.4,899.3 1939.9,899.3 1941.4,899.3 1942.9,899.3 1944.4,899.3 1945.9,899.3 1947.4,899.3 1948.9,899.3 1950.4,899.3 1951.9,899.3 1953.4,899.3 1954.9,899.3 1956.4,899.3 1957.9,899.3 1959.4,899.3 1960.9,899.3 1962.4,899.3 1963.9,899.3 1965.4,899.3 1966.9,899.3 1968.4,899.3 1969.9,899.3 1971.3,899.3"/>
<g stroke="#000" stroke-linecap="round" fill="none">
<line x1="280.6" y1="71" x2="280.6" y2="1199" stroke-width="4.8" stroke-linecap="butt"/>
<line x1="271" y1="1197" x2="1980" y2="1197" stroke-width="4" stroke-linecap="butt"/>
<line x1="266" y1="135.2" x2="280" y2="135.2" stroke-width="4"/>
<line x1="266" y1="260.0" x2="280" y2="260.0" stroke-width="4"/>
<line x1="266" y1="385.9" x2="280" y2="385.9" stroke-width="4"/>
<line x1="266" y1="448.0" x2="280" y2="448.0" stroke-width="4"/>
<line x1="266" y1="572.4" x2="280" y2="572.4" stroke-width="4"/>
<line x1="266" y1="697.5" x2="280" y2="697.5" stroke-width="4"/>
<line x1="266" y1="822.2" x2="280" y2="822.2" stroke-width="4"/>
<line x1="266" y1="897.7" x2="280" y2="897.7" stroke-width="4"/>
<line x1="266" y1="983.3" x2="280" y2="983.3" stroke-width="4"/>
<line x1="266" y1="1068.7" x2="280" y2="1068.7" stroke-width="4"/>
<line x1="266" y1="1154.8" x2="280" y2="1154.8" stroke-width="4"/>
<line x1="273" y1="73.2" x2="280" y2="73.2" stroke-width="4"/>
<line x1="273" y1="197.5" x2="280" y2="197.5" stroke-width="4"/>
<line x1="273" y1="322.8" x2="280" y2="322.8" stroke-width="4"/>
<line x1="273" y1="510.0" x2="280" y2="510.0" stroke-width="4"/>
<line x1="273" y1="635.0" x2="280" y2="635.0" stroke-width="4"/>
<line x1="273" y1="759.8" x2="280" y2="759.8" stroke-width="4"/>
<line x1="273" y1="856.0" x2="280" y2="856.0" stroke-width="4"/>
<line x1="273" y1="940.8" x2="280" y2="940.8" stroke-width="4"/>
<line x1="273" y1="1026.4" x2="280" y2="1026.4" stroke-width="4"/>
<line x1="273" y1="1111.8" x2="280" y2="1111.8" stroke-width="4"/>
<line x1="328.8" y1="1198" x2="328.8" y2="1206.5" stroke-width="4.5"/>
<line x1="408.9" y1="1198" x2="408.9" y2="1202" stroke-width="4.5"/>
<line x1="488.9" y1="1198" x2="488.9" y2="1206.5" stroke-width="4.5"/>
<line x1="568.9" y1="1198" x2="568.9" y2="1202" stroke-width="4.5"/>
<line x1="649.0" y1="1198" x2="649.0" y2="1206.5" stroke-width="4.5"/>
<line x1="729.0" y1="1198" x2="729.0" y2="1202" stroke-width="4.5"/>
<line x1="809.1" y1="1198" x2="809.1" y2="1206.5" stroke-width="4.5"/>
<line x1="889.1" y1="1198" x2="889.1" y2="1202" stroke-width="4.5"/>
<line x1="969.2" y1="1198" x2="969.2" y2="1206.5" stroke-width="4.5"/>
<line x1="1049.2" y1="1198" x2="1049.2" y2="1202" stroke-width="4.5"/>
<line x1="1129.3" y1="1198" x2="1129.3" y2="1206.5" stroke-width="4.5"/>
<line x1="1209.3" y1="1198" x2="1209.3" y2="1202" stroke-width="4.5"/>
<line x1="1289.4" y1="1198" x2="1289.4" y2="1206.5" stroke-width="4.5"/>
<line x1="1369.4" y1="1198" x2="1369.4" y2="1202" stroke-width="4.5"/>
<line x1="1449.5" y1="1198" x2="1449.5" y2="1206.5" stroke-width="4.5"/>
<line x1="1529.5" y1="1198" x2="1529.5" y2="1202" stroke-width="4.5"/>
<line x1="1609.6" y1="1198" x2="1609.6" y2="1206.5" stroke-width="4.5"/>
<line x1="1689.7" y1="1198" x2="1689.7" y2="1202" stroke-width="4.5"/>
<line x1="1769.7" y1="1198" x2="1769.7" y2="1206.5" stroke-width="4.5"/>
<line x1="1849.8" y1="1198" x2="1849.8" y2="1202" stroke-width="4.5"/>
<line x1="1929.8" y1="1198" x2="1929.8" y2="1206.5" stroke-width="4.5"/>
</g>
<g font-family="'Liberation Serif','Times New Roman',serif" fill="#000">
<text x="160.5 188.2 202.4 230.2" y="145.7" font-size="42" >1.00</text>
<text x="160.5 188.2 202.4 230.2" y="270.5" font-size="42" >0.98</text>
<text x="160.5 188.2 202.4 230.2" y="396.4" font-size="42" >0.96</text>
<text x="160.5 188.2 202.4 230.2" y="458.5" font-size="42" >1.02</text>
<text x="160.5 188.2 202.4 230.2" y="582.9" font-size="42" >1.00</text>
<text x="160.5 188.2 202.4 230.2" y="708.0" font-size="42" >0.98</text>
<text x="160.5 188.2 202.4 230.2" y="832.7" font-size="42" >0.96</text>
<text x="160.5 188.2 202.4 230.2" y="908.2" font-size="42" >1.00</text>
<text x="160.5 188.2 202.4 230.2" y="993.8" font-size="42" >0.99</text>
<text x="160.5 188.2 202.4 230.2" y="1079.2" font-size="42" >0.98</text>
<text x="160.5 188.2 202.4 230.2" y="1165.3" font-size="42" >0.97</text>
<text x="280.0 304.8 339.9" y="1252.7" font-size="55" >-10</text>
<text x="458.7 480.6" y="1252.7" font-size="55" >-8</text>
<text x="618.8 640.7" y="1252.7" font-size="55" >-6</text>
<text x="778.9 800.8" y="1252.7" font-size="55" >-4</text>
<text x="939.0 960.9" y="1252.7" font-size="55" >-2</text>
<text x="1110.3" y="1252.7" font-size="55" >0</text>
<text x="1270.4" y="1252.7" font-size="55" >2</text>
<text x="1430.5" y="1252.7" font-size="55" >4</text>
<text x="1590.6" y="1252.7" font-size="55" >6</text>
<text x="1750.7" y="1252.7" font-size="55" >8</text>
<text x="1894.6 1929.9" y="1252.7" font-size="55" >10</text>
<text font-size="60"><tspan x="702.0 760.6" y="69.3">Gd</tspan><tspan x="801.3" y="87.6">x</tspan><tspan x="840.1 913.0" y="69.3">Mg</tspan><tspan x="951.3 992.6 1011.5" y="87.6">0.5</tspan><tspan x="1052.1 1102.2" y="69.3">Zn</tspan><tspan x="1142.3 1182.9 1203.2" y="87.6">0.5</tspan><tspan x="1243.5 1289.1" y="69.3">Fe</tspan><tspan x="1323.4 1365.1 1393.2" y="87.6">2-x</tspan><tspan x="1432.0" y="69.3">O</tspan><tspan x="1490.5" y="87.6">4</tspan></text>
<text x="937.5 991.6 1024.9 1045.7 1083.5 1116.6 1138.2 1158.1 1185.0 1214.6 1239.7 1298.7 1358.2 1380.4 1409.1" y="1355.5" font-size="56" >Velocity (mm/s)</text>
<text transform="translate(66.9,896.4) rotate(-90)" x="0" y="0" font-size="52.8">Relative tiansmission (%)</text>
<text x="316.3 346.2 365.6 394.2 406.3" y="219.0" font-size="53" transform="scale(1.04,1)">X = 0</text>
<text x="318.9 348.1 368.5 397.1 409.4 445.4 462.2 495.7" y="662.8" font-size="53" transform="scale(1.04,1)">X = 0.05</text>
<text x="330.0 359.6 378.8 407.7 419.8 455.8 475.3" y="1010.7" font-size="53" transform="scale(1.04,1)">X = 0.1</text>
</g>
</svg>
</body></html>
